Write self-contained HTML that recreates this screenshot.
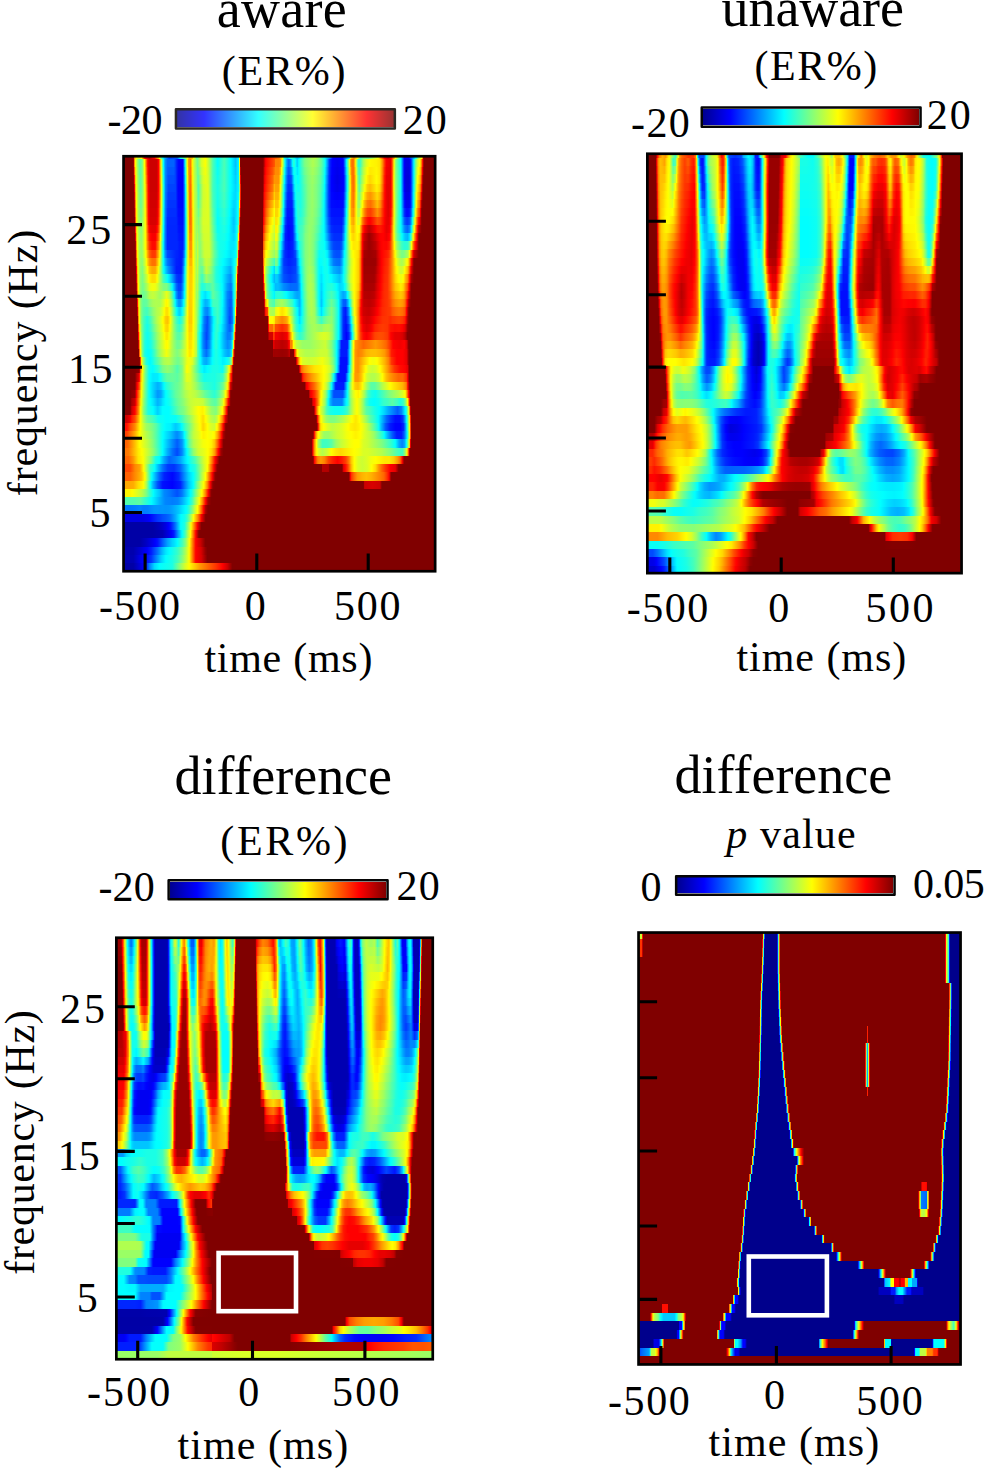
<!DOCTYPE html>
<html><head><meta charset="utf-8"><title>figure</title>
<style>
html,body{margin:0;padding:0;background:#fff}
body{width:987px;height:1471px;position:relative;overflow:hidden;font-family:"Liberation Serif",serif}
.hm{position:absolute;overflow:hidden;background:#800000}
.hm i{display:block;width:100%}
svg{position:absolute;left:0;top:0}
text{font-family:"Liberation Serif",serif;fill:#000}
</style></head><body>
<div class="hm" style="left:123.5px;top:156.2px;width:311.6px;height:415.0px"><i style="height:2.60px;background:linear-gradient(90deg,#800000 0px,#800000 9.4px,#f00 9.9px,#ffbf00 10.7px,#ff0 12.5px,#bfff40 14.3px,#ff0 17.5px,#f00 20.8px,#b30000 25.6px,#f00 30.5px,#ffbf00 34.7px,#ff0 35.5px,#80ff80 37px,#0ff 39.1px,#00bfff 40.2px,#0040ff 45.1px,#0059ff 53.2px,#0ff 56.4px,#80ff80 61.3px,#ff0 63.5px,#f90 65.2px,#ffbf00 68.4px,#ff0 69.6px,#59ffa6 72.6px,#d9ff26 77.5px,#ff0 81.4px,#a6ff59 85.6px,#4dffb2 88.9px,#0ff 93.7px,#4dffb2 100.2px,#0ff 106.7px,#00bfff 111.6px,#0ff 114.8px,#ff0 115.5px,#f00 116.1px,#800000 116.4px,#800000 139.1px,#f00 141.7px,#ff4000 148.8px,#ff8000 155.3px,#ff0 158.6px,#0ff 160.5px,#00bfff 163.4px,#0ff 165.5px,#40ffbf 167.7px,#0ff 170.4px,#00bfff 173.2px,#0ff 176.4px,#80ff80 181.3px,#bfff40 191px,#80ff80 195.9px,#0ff 200.7px,#0080ff 205.6px,#00f 208.8px,#00f 218.6px,#0080ff 221.8px,#0ff 225px,#ff0 226.9px,#ffbf00 227.3px,#ff8000 229.9px,#ff0 233.2px,#40ffbf 236.4px,#73ff8c 239.6px,#80ff80 244.5px,#bfff40 249.4px,#ff0 254.2px,#ff8000 257.5px,#f00 260.7px,#c00 264px,#f00 267.2px,#ffbf00 270.4px,#ff0 271.5px,#80ff80 273.7px,#0ff 276.9px,#00f 280.2px,#00f 285px,#0080ff 288.3px,#0ff 291.5px,#bfff40 294.8px,#ff0 298px,#f00 299.1px,#800000 299.6px,#800000 311.6px)"></i><i style="height:8.25px;background:linear-gradient(90deg,#800000 0px,#800000 9.4px,#f00 9.9px,#ff6500 10.2px,#ffd100 11px,#fff500 11.4px,#ff0 11.5px,#dcff23 12.2px,#9dff62 13.5px,#82ff7d 14.3px,#50ffaf 15.9px,#5dffa2 16.7px,#80ff7f 18.3px,#aeff51 19.1px,#fbff04 20.4px,#ff0 20.5px,#ffd100 21.1px,#ff8500 22.1px,#ff5200 22.7px,#ff0500 23.7px,#f00 23.9px,#f40000 24.3px,#c00 26.4px,#c00 32.9px,#f00 34.5px,#ff7d00 35.8px,#ffa000 36.2px,#fffb00 37px,#ff0 37px,#deff21 37.3px,#85ff7a 38.1px,#5fa 38.6px,#05fffa 39.4px,#0ff 39.5px,#00e4ff 39.9px,#009aff 41px,#008dff 41.5px,#0064ff 43.5px,#0062ff 44.3px,#0062ff 49.9px,#003cff 51.6px,#0027ff 52.4px,#000bff 54px,#00f 54.8px,#00f 58.9px,#007bff 60px,#00b9ff 60.5px,#00f7ff 61px,#0ff 61px,#41ffbe 61.6px,#78ff87 62.1px,#c1ff3e 62.7px,#f7ff08 63.2px,#ff0 63.3px,#ffd100 63.9px,#ff9d00 64.5px,#ff8f00 65.2px,#ff7d00 66.5px,#ff8f00 66.8px,#ffe300 68.1px,#fff300 68.4px,#ff0 68.7px,#ceff31 69.7px,#c1ff3e 70.2px,#82ff7d 72.6px,#5dffa2 72.7px,#80ff7f 74.3px,#d6ff29 77.5px,#e7ff18 79.1px,#fdff02 81.4px,#caff35 84px,#a6ff59 85.6px,#4cffb3 88.9px,#01fffe 93.7px,#4dffb2 100.2px,#0ff 106.7px,#00c1ff 111.6px,#0ff 114.8px,#0ff 114.8px,#79ff86 115.1px,#ff0 115.5px,#f00 116.1px,#8a0000 116.4px,#800000 117.1px,#800000 139.1px,#b30000 140.1px,#f00 141.7px,#ff0100 141.7px,#ff1700 144px,#ff4300 148.8px,#ff6000 151.4px,#ff8300 151.4px,#ff8300 154.8px,#ff9000 156.5px,#ff0 158px,#f2ff0d 158.1px,#d9ff26 158.5px,#73ff8c 159.8px,#54ffab 160.1px,#0ff 161.1px,#00f7ff 161.1px,#00d3ff 161.8px,#009eff 162.8px,#07f 164px,#0060ff 164.8px,#0097ff 166.8px,#00b5ff 167.3px,#00ecff 168.2px,#0ff 168.6px,#0ffff0 169px,#31ffce 169.8px,#1cffe3 170.7px,#02fffd 171.5px,#0ff 171.6px,#00e6ff 172.3px,#00c9ff 173.2px,#00e3ff 174px,#0ff 174.8px,#01fffe 174.9px,#28ffd7 176.5px,#3dffc2 177.4px,#6bff94 179.9px,#7aff85 180.7px,#91ff6e 184px,#96ff69 184.9px,#abff54 188.2px,#afff50 189.1px,#9aff65 192.4px,#95ff6a 193.2px,#6dff92 196.6px,#62ff9d 197.4px,#2affd5 199.9px,#15ffea 200.8px,#0ff 201.2px,#00c7ff 202.4px,#00a1ff 203.3px,#004dff 204.9px,#0026ff 205.8px,#000bff 207.5px,#00f 208.3px,#00f 208.3px,#0000f1 213.3px,#00f 219.2px,#00f 219.2px,#0038ff 220px,#07f 220.8px,#00b7ff 221.7px,#00f7ff 222.5px,#0ff 222.6px,#38ffc7 223.3px,#7f8 224.2px,#c5ff3a 225px,#f5ff0a 225.5px,#ff0 225.6px,#ffc100 226.3px,#f80 227px,#f70 227.8px,#ff6700 229.2px,#ff9100 230px,#ffe000 231.4px,#ff0 231.7px,#e3ff1c 232px,#89ff76 233px,#5fffa0 233.7px,#24ffdb 234.7px,#2bffd4 235.4px,#47ffb8 236.7px,#65ff9a 237.5px,#9eff61 239.2px,#afff50 240px,#dfff20 242.6px,#e5ff1a 243.1px,#ff0 245.9px,#ff0 245.9px,#fff900 246.7px,#fff600 249.2px,#fff300 251.8px,#fff200 252.6px,#ffe500 255.9px,#ff9600 258.4px,#ff3b00 260.4px,#f00 262.1px,#fd0000 262.1px,#f90000 262.6px,#e50000 266.8px,#f00 267.1px,#f60 268.5px,#ff8100 268.8px,#ffe300 269.8px,#ff0 270.1px,#fcff03 270.1px,#9f6 271.5px,#82ff7d 271.8px,#4effb1 273.8px,#41ffbe 274.3px,#0bfff4 276.5px,#0ff 276.8px,#0ff 276.8px,#0080ff 278.5px,#00f 280.2px,#0000e4 281.8px,#0000e4 285.2px,#00f 286px,#0019ff 286.9px,#0080ff 288.2px,#0ff 289.9px,#6dff92 291.5px,#83ff7c 291.9px,#bcff43 293.2px,#d5ff2a 293.9px,#f4ff0b 295.2px,#ff0 295.6px,#fff400 296.1px,#ffb700 296.9px,#ff7200 297.7px,#ff6000 297.9px,#f00 298.7px,#ef0000 298.9px,#800000 299.9px,#800000 311.6px)"></i><i style="height:8.25px;background:linear-gradient(90deg,#800000 0px,#800000 9.4px,#f00 10.1px,#ff2000 10.2px,#ffb900 11px,#fd0 11.4px,#ff0 11.8px,#e6ff19 12.2px,#a8ff57 13.5px,#89ff76 14.3px,#59ffa6 15.9px,#5cffa3 16.7px,#81ff7e 18.3px,#a8ff57 19.1px,#f2ff0d 20.4px,#ff0 20.6px,#ffdf00 21.1px,#ff9300 22.1px,#ff6000 22.7px,#ff1300 23.7px,#f00 24.1px,#f70000 24.3px,#c00 26.4px,#c00 32.9px,#f00 34.5px,#ff7600 35.8px,#ff9600 36.2px,#fff100 37px,#ff0 37.1px,#e8ff17 37.3px,#91ff6e 38.1px,#62ff9d 38.6px,#12ffed 39.4px,#0ff 39.6px,#00ecff 39.9px,#009eff 41px,#0089ff 41.5px,#005fff 43.5px,#0058ff 44.3px,#0058ff 49.9px,#003dff 51.6px,#0028ff 52.4px,#0008ff 54px,#00f 54.8px,#00f 58.9px,#0071ff 60px,#00a7ff 60.5px,#00e4ff 61px,#0ff 61.2px,#2effd1 61.6px,#64ff9b 62.1px,#adff52 62.7px,#e4ff1b 63.2px,#ff0 63.5px,#ffdf00 63.9px,#ffa700 64.5px,#ff8a00 65.2px,#ff7800 66.5px,#ff8300 66.8px,#ffdc00 68.1px,#ffef00 68.4px,#ff0 68.8px,#d4ff2b 69.7px,#c4ff3b 70.2px,#89ff76 72.6px,#6cff93 72.7px,#6dff92 74.3px,#c5ff3a 77.5px,#dfff20 79.1px,#f2ff0d 81.4px,#d2ff2d 84px,#a9ff56 85.6px,#48ffb7 88.9px,#09fff6 93.7px,#4cffb3 100.2px,#0ff 106.7px,#00c8ff 111.6px,#00feff 114.8px,#0ff 114.8px,#5fa 115.1px,#ff0 115.6px,#f00 116.3px,#c60000 116.4px,#800000 117.1px,#800000 139.1px,#ca0000 140.1px,#f00 141.5px,#ff0900 141.7px,#ff2300 144px,#f50 148.8px,#f80 151.4px,#ff8c00 151.4px,#ff8c00 154.8px,#ffbc00 156.5px,#ff0 157.4px,#cf3 158.1px,#b5ff4a 158.5px,#4fffb0 159.8px,#32ffcd 160.1px,#0ff 160.8px,#00e2ff 161.1px,#00bcff 161.8px,#0089ff 162.8px,#005bff 164px,#004eff 164.8px,#006fff 166.8px,#0080ff 167.3px,#00b6ff 168.2px,#00dfff 169px,#0ff 169.7px,#09fff6 169.8px,#1fe 170.7px,#06fff9 171.5px,#0ff 172px,#00fbff 172.3px,#00e4ff 173.2px,#0ef 174px,#0ff 174.7px,#04fffb 174.9px,#2fd 176.5px,#34ffcb 177.4px,#5fffa0 179.9px,#6cff93 180.7px,#8aff75 184px,#8fff70 184.9px,#a4ff5b 188.2px,#a4ff5b 189.1px,#8fff70 192.4px,#89ff76 193.2px,#65ff9a 196.6px,#58ffa7 197.4px,#23ffdc 199.9px,#07fff8 200.8px,#0ff 200.9px,#00baff 202.4px,#0093ff 203.3px,#0043ff 204.9px,#0024ff 205.8px,#0007ff 207.5px,#00f 208.1px,#0000fd 208.3px,#0000ec 213.3px,#0000fd 219.2px,#00f 219.2px,#0021ff 220px,#0061ff 220.8px,#00a1ff 221.7px,#00e1ff 222.5px,#0ff 222.9px,#21ffde 223.3px,#61ff9e 224.2px,#a9ff56 225px,#d9ff26 225.5px,#ff0 225.9px,#ffda00 226.3px,#ffa100 227px,#ff7a00 227.8px,#ff6b00 229.2px,#ff8000 230px,#ffd100 231.4px,#ff0 231.9px,#f9ff06 232px,#a4ff5b 233px,#76ff89 233.7px,#41ffbe 234.7px,#39ffc6 235.4px,#5cffa3 236.7px,#7aff85 237.5px,#adff52 239.2px,#c0ff3f 240px,#f2ff0d 242.6px,#faff05 243.1px,#ff0 243.6px,#ffeb00 245.9px,#ffea00 246.7px,#ffef00 249.2px,#fff500 251.8px,#fff700 252.6px,#ffe500 255.9px,#ff8d00 258.4px,#ff2d00 260.4px,#f00 261.9px,#f80000 262.1px,#f10000 262.6px,#e50000 266.8px,#f00 267.1px,#f60 268.5px,#ff8600 268.8px,#fe0 269.8px,#ff0 270px,#f5ff0a 270.1px,#9f6 271.5px,#87ff78 271.8px,#53ffac 273.8px,#46ffb9 274.3px,#1fe 276.5px,#0ff 276.8px,#0ff 276.8px,#0080ff 278.5px,#00f 280.2px,#0000df 281.8px,#0000df 285.2px,#00f 286.1px,#0019ff 286.9px,#0080ff 288.2px,#0ff 289.9px,#74ff8b 291.5px,#8cff73 291.9px,#d7ff28 293.2px,#edff12 293.9px,#ff0 294.6px,#fff100 295.2px,#ffd400 296.1px,#ffa100 296.9px,#ff4d00 297.7px,#ff3900 297.9px,#f00 298.4px,#c20000 298.9px,#800000 299.9px,#800000 311.6px)"></i><i style="height:8.25px;background:linear-gradient(90deg,#800000 0px,#800000 9.4px,#db0000 10.2px,#f00 10.4px,#ffa000 11px,#ffc500 11.4px,#ff0 12px,#f1ff0e 12.2px,#b2ff4d 13.5px,#90ff6f 14.3px,#62ff9d 15.9px,#5bffa4 16.7px,#82ff7d 18.3px,#a1ff5e 19.1px,#e9ff16 20.4px,#ff0 20.8px,#ffed00 21.1px,#ffa000 22.1px,#ff6d00 22.7px,#ff2100 23.7px,#f00 24.3px,#fb0000 24.3px,#c00 26.4px,#c00 32.9px,#f00 34.5px,#ff6f00 35.8px,#ff8d00 36.2px,#ffe800 37px,#ff0 37.2px,#f2ff0d 37.3px,#9eff61 38.1px,#6eff91 38.6px,#1fffe0 39.4px,#0ff 39.8px,#00f4ff 39.9px,#00a1ff 41px,#0085ff 41.5px,#0059ff 43.5px,#004dff 44.3px,#004dff 49.9px,#003eff 51.6px,#0029ff 52.4px,#0005ff 54px,#00f 54.8px,#00f 58.9px,#0067ff 60px,#0096ff 60.5px,#00d0ff 61px,#0ff 61.4px,#1affe5 61.6px,#51ffae 62.1px,#9aff65 62.7px,#d0ff2f 63.2px,#ff0 63.7px,#ffed00 63.9px,#ffb200 64.5px,#ff8600 65.2px,#ff7200 66.5px,#ff7600 66.8px,#ffd500 68.1px,#ffeb00 68.4px,#ff0 68.9px,#d9ff26 69.7px,#c7ff38 70.2px,#90ff6f 72.6px,#7bff84 72.7px,#5affa5 74.3px,#b4ff4b 77.5px,#d7ff28 79.1px,#e7ff18 81.4px,#daff25 84px,#abff54 85.6px,#45ffba 88.9px,#10ffef 93.7px,#4cffb3 100.2px,#0ff 106.7px,#00cfff 111.6px,#00fdff 114.8px,#0ff 114.8px,#31ffce 115.1px,#ff0 115.7px,#ff0300 116.4px,#f00 116.4px,#800000 117.1px,#800000 139.1px,#e00000 140.1px,#f00 141.2px,#ff1000 141.7px,#ff2f00 144px,#ff6700 148.8px,#ffb000 151.4px,#ff9500 151.4px,#ff9500 154.8px,#ffe900 156.5px,#ff0 156.8px,#a7ff58 158.1px,#91ff6e 158.5px,#2bffd4 159.8px,#10ffef 160.1px,#0ff 160.4px,#0cf 161.1px,#00a4ff 161.8px,#0074ff 162.8px,#0040ff 164px,#003cff 164.8px,#0046ff 166.8px,#004cff 167.3px,#0080ff 168.2px,#00b0ff 169px,#00dfff 169.8px,#0ff 170.6px,#05fffa 170.7px,#0bfff4 171.5px,#10ffef 172.3px,#0ff 173.2px,#0ff 173.2px,#00faff 174px,#0ff 174.4px,#07fff8 174.9px,#1cffe3 176.5px,#2bffd4 177.4px,#52ffad 179.9px,#5effa1 180.7px,#83ff7c 184px,#8f7 184.9px,#9cff63 188.2px,#9f6 189.1px,#85ff7a 192.4px,#7dff82 193.2px,#5dffa2 196.6px,#4effb1 197.4px,#1dffe2 199.9px,#0ff 200.6px,#00f9ff 200.8px,#00acff 202.4px,#0086ff 203.3px,#0038ff 204.9px,#0023ff 205.8px,#0002ff 207.5px,#00f 207.8px,#0000fc 208.3px,#0000e8 213.3px,#0000fc 219.2px,#00f 219.3px,#000bff 220px,#004bff 220.8px,#008aff 221.7px,#00caff 222.5px,#0ff 223.2px,#0bfff4 223.3px,#4bffb4 224.2px,#8dff72 225px,#bdff42 225.5px,#ff0 226.2px,#fff300 226.3px,#ffba00 227px,#ff7e00 227.8px,#ff6e00 229.2px,#ff6e00 230px,#ffc200 231.4px,#fff000 232px,#ff0 232.2px,#bfff40 233px,#8eff71 233.7px,#5dffa2 234.7px,#46ffb9 235.4px,#71ff8e 236.7px,#8fff70 237.5px,#bcff43 239.2px,#d1ff2e 240px,#ff0 242.3px,#fff900 242.6px,#fff000 243.1px,#ffd600 245.9px,#ffda00 246.7px,#ffe900 249.2px,#fff800 251.8px,#fffc00 252.6px,#ffe500 255.9px,#ff8400 258.4px,#ff2000 260.4px,#f00 261.7px,#f40000 262.1px,#e90000 262.6px,#e50000 266.8px,#f00 267.1px,#f60 268.5px,#ff8a00 268.8px,#fffa00 269.8px,#ff0 269.9px,#ef1 270.1px,#9f6 271.5px,#8dff72 271.8px,#57ffa8 273.8px,#4bffb4 274.3px,#17ffe8 276.5px,#0ff 276.8px,#0ff 276.8px,#0080ff 278.5px,#00f 280.2px,#0000db 281.8px,#0000db 285.2px,#00f 286.2px,#0019ff 286.9px,#0080ff 288.2px,#0ff 289.9px,#7cff83 291.5px,#95ff6a 291.9px,#f2ff0d 293.2px,#ff0 293.7px,#fffa00 293.9px,#ffd800 295.2px,#ffb500 296.1px,#ff8a00 296.9px,#ff2700 297.7px,#ff1200 297.9px,#f00 298px,#950000 298.9px,#800000 299.9px,#800000 311.6px)"></i><i style="height:8.25px;background:linear-gradient(90deg,#800000 0px,#800000 9.4px,#970000 10.2px,#f00 10.6px,#f80 11px,#ffac00 11.4px,#ff0 12.1px,#fbff04 12.2px,#bdff42 13.5px,#97ff68 14.3px,#6bff94 15.9px,#5affa5 16.7px,#83ff7c 18.3px,#9bff64 19.1px,#e0ff1f 20.4px,#ff0 21px,#fffa00 21.1px,#ffae00 22.1px,#ff7b00 22.7px,#ff2e00 23.7px,#f00 24.3px,#fe0000 24.3px,#c00 26.4px,#c00 32.9px,#f00 34.5px,#ff6800 35.8px,#ff8300 36.2px,#ffde00 37px,#ff0 37.3px,#fcff03 37.3px,#abff54 38.1px,#7bff84 38.6px,#2bffd4 39.4px,#0ff 39.9px,#00fcff 39.9px,#00a5ff 41px,#0081ff 41.5px,#0054ff 43.5px,#0043ff 44.3px,#0043ff 49.9px,#003fff 51.6px,#002aff 52.4px,#0001ff 54px,#00f 54.8px,#00f 58.9px,#005dff 60px,#0085ff 60.5px,#00bdff 61px,#0ff 61.6px,#07fff8 61.6px,#3dffc2 62.1px,#86ff79 62.7px,#bdff42 63.2px,#ff0 63.8px,#fffa00 63.9px,#ffbc00 64.5px,#ff8100 65.2px,#ff6d00 66.5px,#ff6a00 66.8px,#ffce00 68.1px,#ffe700 68.4px,#ff0 69px,#dfff20 69.7px,#cbff34 70.2px,#97ff68 72.6px,#8bff74 72.7px,#47ffb8 74.3px,#a3ff5c 77.5px,#cfff30 79.1px,#dcff23 81.4px,#e3ff1c 84px,#adff52 85.6px,#41ffbe 88.9px,#17ffe8 93.7px,#4cffb3 100.2px,#0ff 106.7px,#00d6ff 111.6px,#00fcff 114.8px,#0ff 114.9px,#0dfff2 115.1px,#ff0 115.9px,#ff4000 116.4px,#f00 116.6px,#800000 117.1px,#800000 139.1px,#f70000 140.1px,#f00 140.5px,#ff1800 141.7px,#ff3b00 144px,#ff7900 148.8px,#ffd800 151.4px,#ffa200 151.4px,#ffa200 154px,#ffa600 154.8px,#ffd500 155.6px,#ff0 156.3px,#f7ff08 156.5px,#a3ff5c 157.8px,#7f8 158.5px,#2affd5 159.5px,#0ff 160px,#00f6ff 160.1px,#00b6ff 161.1px,#008fff 161.8px,#004fff 163.2px,#002fff 164px,#002fff 167.3px,#0059ff 168.2px,#008cff 169px,#00bfff 169.8px,#00f2ff 170.7px,#0ff 171.2px,#0ffff0 171.8px,#17ffe8 172.3px,#09fff6 174px,#1affe5 176.5px,#4affb5 179.9px,#80ff80 184px,#9f6 188.2px,#80ff80 192.4px,#57ffa8 196.6px,#15ffea 199.9px,#0ff 200.4px,#00a4ff 202.4px,#03f 204.9px,#0002ff 207.5px,#00f 208.1px,#0000ec 213.3px,#00f 219.2px,#00f 219.2px,#000cff 220px,#004bff 220.8px,#0089ff 221.7px,#00d5ff 222.7px,#0ff 223.2px,#09fff6 223.3px,#5fa 224.3px,#89ff76 225px,#d7ff28 225.8px,#ff0 226.3px,#fffa00 226.3px,#ff9b00 227.5px,#ff8300 227.8px,#ff6e00 229.7px,#ff6d00 230px,#ffd400 231.7px,#ffe900 232px,#ff0 232.3px,#b5ff4a 233.4px,#9eff61 233.7px,#6f9 235px,#5cffa3 235.4px,#8cff73 236.7px,#a8ff57 237.5px,#c7ff38 238.7px,#ecff13 240px,#ff0 240.9px,#ff0 240.9px,#ffd100 243.1px,#ffcd00 243.4px,#ffb900 245.9px,#ffbe00 246.7px,#ffd200 249.2px,#ffd900 250.1px,#fff000 252.6px,#ffed00 253.4px,#ffd500 255.9px,#ffc300 256.4px,#ff7400 258.4px,#ff6400 258.8px,#ff1700 260.4px,#ff0b00 260.9px,#f00 261.5px,#e70000 262.6px,#e30000 264.3px,#e90000 266.8px,#f00 267.1px,#f00 267.1px,#f60 268.5px,#ff8a00 268.8px,#fffa00 269.8px,#ff0 269.9px,#ef1 270.1px,#9cff63 271.5px,#91ff6e 271.8px,#58ffa7 273.8px,#4bffb4 274.3px,#17ffe8 276.5px,#0ff 276.8px,#0ff 276.8px,#0083ff 278.5px,#006aff 278.8px,#0008ff 280.2px,#00f 280.4px,#0000fd 280.5px,#0000de 281.8px,#00d 282.2px,#00d 285.2px,#00f 286.1px,#001cff 286.9px,#0084ff 288.2px,#00eaff 289.5px,#0ff 289.8px,#05fffa 289.9px,#5fa 290.9px,#8aff75 291.5px,#c0ff3f 292.2px,#ff0 293.1px,#fff500 293.2px,#ffdf00 293.9px,#ffbc00 295.2px,#ffae00 295.5px,#ff7600 296.6px,#ff6300 296.9px,#f00 297.7px,#fb0000 297.7px,#e90000 297.9px,#800000 298.9px,#800000 311.6px)"></i><i style="height:8.25px;background:linear-gradient(90deg,#800000 0px,#800000 10.2px,#f00 10.7px,#f00 10.7px,#ff6300 11px,#ffbc00 11.7px,#fff400 12.2px,#ff0 12.3px,#ebff14 12.7px,#9eff61 14.3px,#94ff6b 14.6px,#61ff9e 16.7px,#6aff95 17.2px,#9eff61 19.1px,#aeff51 19.5px,#fdff02 21.1px,#ff0 21.1px,#ffea00 21.4px,#ff8400 22.7px,#ff6a00 23px,#ff0400 24.3px,#f00 24.5px,#f80000 24.7px,#ce0000 26.4px,#ce0000 32.1px,#d10000 32.9px,#f20000 34.1px,#f00 34.4px,#ff0600 34.5px,#ff6000 35.7px,#f80 36.2px,#ffe100 37px,#ff0 37.3px,#faff05 37.3px,#9aff65 38.3px,#7aff85 38.6px,#1bffe4 39.6px,#0ff 39.8px,#00fbff 39.9px,#0095ff 41.2px,#007dff 41.5px,#004bff 43.5px,#003bff 44.3px,#003bff 51.6px,#002aff 52.4px,#0004ff 54px,#0002ff 54.8px,#0002ff 58.9px,#007eff 60.5px,#008fff 60.6px,#00faff 61.6px,#0ff 61.7px,#1effe1 61.9px,#79ff86 62.7px,#9eff61 63.1px,#f9ff06 63.9px,#ff0 63.9px,#ffe400 64.2px,#ff8500 65.2px,#ff7b00 65.5px,#ff6700 66.8px,#ff7b00 67.1px,#ffe100 68.4px,#fff100 68.7px,#ff0 69.1px,#ceff31 70.2px,#c6ff39 70.5px,#9f6 72.6px,#96ff69 72.7px,#4affb5 74.3px,#ceff31 79.1px,#e3ff1c 84px,#d1ff2e 84.6px,#46ffb9 88.9px,#15ffea 93.7px,#46ffb9 100.2px,#10ffef 105.1px,#0ff 106.4px,#00fcff 106.7px,#00dfff 109.9px,#00daff 111.6px,#0ef 113.2px,#0ff 114.2px,#05fffa 114.5px,#30ffcf 115.1px,#ff0 115.8px,#ff8b00 116.1px,#f00 116.6px,#800000 117.1px,#800000 138.5px,#8d0000 139.1px,#b80000 139.4px,#f00 140.1px,#ff0500 140.1px,#ff3400 142.4px,#ff5100 144px,#ff6b00 145.6px,#ff9600 148.8px,#ffd000 150.5px,#fff300 151.4px,#ffb300 151.4px,#ffb300 154px,#ffbf00 154.8px,#ffe600 155.6px,#ff0 156.1px,#e6ff19 156.5px,#95ff6a 157.8px,#6f9 158.5px,#19ffe6 159.5px,#0ff 159.8px,#00e5ff 160.1px,#00a1ff 161.1px,#007bff 161.8px,#003aff 163.2px,#0026ff 164px,#0026ff 167.3px,#0040ff 168.2px,#0073ff 169px,#00a6ff 169.8px,#00daff 170.7px,#0ff 171.6px,#09fff6 171.8px,#13ffec 172.3px,#1affe5 174px,#1affe5 176.5px,#46ffb9 179.9px,#80ff80 184px,#9f6 188.2px,#80ff80 192.4px,#53ffac 196.6px,#0dfff2 199.9px,#0ff 200.2px,#009fff 202.4px,#03f 204.9px,#0006ff 207.5px,#00f 210.4px,#0000f9 213.3px,#00f 216.6px,#0005ff 219.2px,#0023ff 220px,#0060ff 220.8px,#009cff 221.7px,#00e6ff 222.7px,#0ff 223px,#1affe5 223.3px,#6f9 224.3px,#9cff63 225px,#e7ff18 225.8px,#ff0 226.1px,#fff000 226.3px,#ff9a00 227.5px,#ff8a00 227.8px,#ff7500 229.7px,#ff7b00 230px,#ffdb00 231.7px,#fe0 232px,#ff0 232.3px,#b9ff46 233.4px,#a8ff57 233.7px,#7aff85 235px,#79ff86 235.4px,#af5 236.7px,#c6ff39 237.5px,#e8ff17 238.7px,#ff0 239.5px,#fe0 240px,#ffd600 240.9px,#ffa900 243.1px,#ffa400 243.4px,#ff9400 245.9px,#ff9600 246.7px,#ffae00 249.2px,#ffb600 250.1px,#ffd200 252.6px,#ffd600 253.4px,#ffb700 255.9px,#ffa800 256.4px,#ff5f00 258.4px,#ff5100 258.8px,#ff1300 260.4px,#ff0700 260.9px,#f00 261.3px,#e90000 262.6px,#df0000 264.3px,#f00000 266.8px,#f00 267.1px,#f00 267.1px,#f60 268.5px,#ff8600 268.8px,#ffef00 269.8px,#ff0 270px,#f5ff0a 270.1px,#a3ff5c 271.5px,#94ff6b 271.8px,#5fa 273.8px,#47ffb8 274.3px,#1fe 276.5px,#0ff 276.8px,#0ff 276.8px,#008aff 278.5px,#0073ff 278.8px,#0017ff 280.2px,#0009ff 280.5px,#00f 280.9px,#0000e9 281.8px,#0000e6 282.2px,#0000e6 285.2px,#00f 285.9px,#0020ff 286.9px,#008cff 288.2px,#00f2ff 289.5px,#0ff 289.7px,#10ffef 289.9px,#6f9 290.9px,#9fff60 291.5px,#d9ff26 292.2px,#ff0 292.8px,#ffe000 293.2px,#ffc300 293.9px,#ff9e00 295.2px,#ff9100 295.5px,#ff4700 296.6px,#ff2e00 296.9px,#f00 297.3px,#ca0000 297.7px,#bf0000 297.9px,#800000 298.9px,#800000 311.6px)"></i><i style="height:8.25px;background:linear-gradient(90deg,#800000 0px,#800000 10.2px,#d80000 10.7px,#f00 10.8px,#ff3800 11px,#fa0 11.7px,#ffe400 12.2px,#ff0 12.5px,#f1ff0e 12.7px,#a5ff5a 14.3px,#9f6 14.6px,#6cff93 16.7px,#71ff8e 17.2px,#a5ff5a 19.1px,#b3ff4c 19.5px,#fbff04 21.1px,#ff0 21.2px,#fff000 21.4px,#ff8a00 22.7px,#ff7100 23px,#ff0b00 24.3px,#f00 24.6px,#fa0000 24.7px,#d10000 26.4px,#d10000 32.1px,#d80000 32.9px,#f60000 34.1px,#f00 34.2px,#ff1000 34.5px,#ff6900 35.7px,#ff9400 36.2px,#ffea00 37px,#ff0 37.2px,#f2ff0d 37.3px,#92ff6d 38.3px,#72ff8d 38.6px,#12ffed 39.6px,#0ff 39.8px,#00f4ff 39.9px,#008eff 41.2px,#007aff 41.5px,#0040ff 43.5px,#0035ff 44.3px,#0035ff 51.6px,#0029ff 52.4px,#0009ff 54px,#0005ff 54.8px,#0005ff 58.9px,#007bff 60.5px,#008aff 60.6px,#00f2ff 61.6px,#0ff 61.7px,#15ffea 61.9px,#70ff8f 62.7px,#95ff6a 63.1px,#f0ff0f 63.9px,#ff0 64px,#ffed00 64.2px,#ff8d00 65.2px,#ff7d00 65.5px,#ff6800 66.8px,#ff7500 67.1px,#ffdb00 68.4px,#fe0 68.7px,#ff0 69.2px,#d2ff2d 70.2px,#c8ff37 70.5px,#9f6 72.6px,#a0ff5f 72.7px,#5affa5 74.3px,#d1ff2e 79.1px,#e0ff1f 84px,#d3ff2c 84.6px,#50ffaf 88.9px,#0ffff0 93.7px,#3dffc2 100.2px,#0bfff4 105.1px,#0ff 106px,#00f6ff 106.7px,#00d6ff 109.9px,#00dbff 111.6px,#00f3ff 113.2px,#0ff 113.6px,#17ffe8 114.5px,#7bff84 115.1px,#ff0 115.5px,#ff3a00 116.1px,#f00 116.4px,#800000 117.1px,#800000 138.5px,#a30000 139.1px,#ce0000 139.4px,#f00 140px,#ff0c00 140.1px,#ff4b00 142.4px,#ff6d00 144px,#ff8c00 145.6px,#ffba00 148.8px,#ffea00 150.5px,#ff0 151.1px,#f6ff09 151.4px,#ff0 151.4px,#ffc300 151.4px,#ffc300 154px,#ffd800 154.8px,#fff600 155.6px,#ff0 155.8px,#d6ff29 156.5px,#87ff78 157.8px,#5fa 158.5px,#09fff6 159.5px,#0ff 159.6px,#00d5ff 160.1px,#008bff 161.1px,#0068ff 161.8px,#0025ff 163.2px,#001eff 164px,#001eff 167.3px,#0027ff 168.2px,#005aff 169px,#008dff 169.8px,#00c1ff 170.7px,#0ff 171.8px,#03fffc 171.8px,#0efff1 172.3px,#2affd5 174px,#1affe5 176.5px,#42ffbd 179.9px,#80ff80 184px,#9f6 188.2px,#80ff80 192.4px,#4fffb0 196.6px,#04fffb 199.9px,#0ff 200px,#009bff 202.4px,#03f 204.9px,#000bff 207.5px,#0006ff 213.3px,#000aff 219.2px,#003aff 220px,#0075ff 220.8px,#00b0ff 221.7px,#00f6ff 222.7px,#0ff 222.8px,#2affd5 223.3px,#7f8 224.3px,#aeff51 225px,#f7ff08 225.8px,#ff0 226px,#ffe600 226.3px,#f90 227.5px,#ff9100 227.8px,#ff7c00 229.7px,#ff8900 230px,#ffe200 231.7px,#fff400 232px,#ff0 232.2px,#bdff42 233.4px,#b2ff4d 233.7px,#8fff70 235px,#97ff68 235.4px,#c9ff36 236.7px,#e4ff1b 237.5px,#ff0 238.4px,#fff600 238.7px,#ffc900 240px,#ffae00 240.9px,#ff8100 243.1px,#ff7b00 243.4px,#ff6f00 245.9px,#ff6e00 246.7px,#ff8900 249.2px,#ff9200 250.1px,#ffb500 252.6px,#ffbe00 253.4px,#ff9800 255.9px,#ff8d00 256.4px,#ff4900 258.4px,#ff3d00 258.8px,#ff0e00 260.4px,#ff0200 260.9px,#f00 261.1px,#eb0000 262.6px,#db0000 264.3px,#f70000 266.8px,#f00 267.1px,#f00 267.1px,#f60 268.5px,#ff8200 268.8px,#ffe500 269.8px,#ff0 270.1px,#fcff03 270.1px,#af5 271.5px,#97ff68 271.8px,#53ffac 273.8px,#42ffbd 274.3px,#0bfff4 276.5px,#0ff 276.8px,#0ff 276.8px,#0091ff 278.5px,#007bff 278.8px,#0026ff 280.2px,#0014ff 280.5px,#00f 281.4px,#0000f4 281.8px,#00e 282.2px,#00e 285.2px,#00f 285.7px,#0024ff 286.9px,#0095ff 288.2px,#00fbff 289.5px,#0ff 289.6px,#1affe5 289.9px,#7f8 290.9px,#b4ff4b 291.5px,#f2ff0d 292.2px,#ff0 292.4px,#fc0 293.2px,#ffa800 293.9px,#ff8000 295.2px,#ff7500 295.5px,#ff1800 296.6px,#f00 296.8px,#f70000 296.9px,#900 297.7px,#950000 297.9px,#800000 298.9px,#800000 311.6px)"></i><i style="height:8.25px;background:linear-gradient(90deg,#800000 0px,#800000 10.2px,#b10000 10.7px,#f00 11px,#ff0c00 11px,#ff9700 11.7px,#ffd400 12.2px,#ff0 12.6px,#f7ff08 12.7px,#acff53 14.3px,#9fff60 14.6px,#78ff87 16.7px,#7f8 17.2px,#adff52 19.1px,#b8ff47 19.5px,#f8ff07 21.1px,#ff0 21.2px,#fff700 21.4px,#ff9100 22.7px,#f70 23px,#f10 24.3px,#f00 24.6px,#fc0000 24.7px,#d50000 26.4px,#d50000 32.1px,#df0000 32.9px,#fa0000 34.1px,#f00 34.1px,#ff1a00 34.5px,#ff7300 35.7px,#ffa000 36.2px,#fff300 37px,#ff0 37.1px,#e9ff16 37.3px,#8aff75 38.3px,#6aff95 38.6px,#0afff5 39.6px,#0ff 39.7px,#0ef 39.9px,#08f 41.2px,#07f 41.5px,#0035ff 43.5px,#002eff 44.3px,#002eff 51.6px,#0028ff 52.4px,#000eff 54px,#0009ff 54.8px,#0009ff 58.9px,#0078ff 60.5px,#0085ff 60.6px,#00e9ff 61.6px,#0ff 61.8px,#0cfff3 61.9px,#67ff98 62.7px,#8bff74 63.1px,#e6ff19 63.9px,#ff0 64.1px,#fff500 64.2px,#ff9500 65.2px,#ff7e00 65.5px,#ff6900 66.8px,#ff6e00 67.1px,#ffd400 68.4px,#ffea00 68.7px,#ff0 69.2px,#d5ff2a 70.2px,#caff35 70.5px,#9f6 72.6px,#a9ff56 72.7px,#6bff94 74.3px,#d5ff2a 79.1px,#df2 84px,#d6ff29 84.6px,#59ffa6 88.9px,#08fff7 93.7px,#3fc 100.2px,#06fff9 105.1px,#0ff 105.6px,#00f1ff 106.7px,#0cf 109.9px,#0df 111.6px,#00f8ff 113.2px,#0ff 113.4px,#29ffd6 114.5px,#c5ff3a 115.1px,#ff0 115.3px,#f00 116px,#e80000 116.1px,#800000 117.1px,#800000 138.5px,#b90000 139.1px,#e30000 139.4px,#f00 139.8px,#ff1300 140.1px,#ff6200 142.4px,#ff8900 144px,#ffae00 145.6px,#ffde00 148.8px,#ff0 150.3px,#faff05 150.5px,#e1ff1e 151.4px,#ff0 151.4px,#ffd400 151.4px,#ffd400 153.1px,#ffdb00 154px,#ff0 155px,#fcff03 155.1px,#eaff15 155.6px,#8f7 157.3px,#6bff94 157.8px,#0ff 159.3px,#00efff 159.5px,#0073ff 161.1px,#0061ff 161.5px,#0017ff 163.2px,#0015ff 164.8px,#0019ff 168.2px,#04f 169px,#07f 169.8px,#00acff 170.7px,#00f6ff 171.8px,#0ff 172.2px,#14ffeb 172.8px,#30ffcf 174px,#2bffd4 175.2px,#20ffdf 176.5px,#32ffcd 178.2px,#46ffb9 179.9px,#5fffa0 181.5px,#82ff7d 184px,#8cff73 185.7px,#97ff68 188.2px,#8cff73 189.9px,#7bff84 192.4px,#6f9 194.1px,#46ffb9 196.6px,#34ffcb 197.4px,#0ff 199.9px,#0ff 199.9px,#009dff 202.4px,#003bff 204.9px,#0013ff 207.5px,#01f 210px,#01f 217.5px,#001cff 219.2px,#003cff 219.7px,#008bff 220.8px,#00c4ff 221.7px,#0ff 222.5px,#0afff5 222.7px,#5fa 223.7px,#85ff7a 224.3px,#d5ff2a 225.3px,#fcff03 225.8px,#ff0 225.9px,#ffbf00 227px,#ffa400 227.5px,#ff9100 229.2px,#ff8d00 229.7px,#ffd700 231.4px,#ffe600 231.7px,#ff0 232.2px,#c9ff36 233.4px,#acff53 235px,#b8ff47 235.4px,#f0ff0f 236.7px,#fcff03 237px,#ff0 237.1px,#ffc100 238.7px,#ff7900 240.9px,#ff4900 243.4px,#ff4000 245.1px,#ff3d00 246.7px,#ff5900 249.2px,#ff6300 250.1px,#f80 252.6px,#ff9300 253.4px,#ff7200 255.9px,#ff6b00 256.4px,#ff2b00 258.8px,#ff2100 259.3px,#f00 260.8px,#fd0000 260.9px,#eb0000 262.6px,#d00 264.3px,#f20000 266px,#f00 266.6px,#ff0b00 267.1px,#f50 268.1px,#f80 268.8px,#ffe400 269.8px,#ff0 270.1px,#fcff03 270.1px,#af5 271.5px,#97ff68 271.8px,#5bffa4 273.5px,#3fffc0 274.3px,#16ffe9 276px,#01fffe 276.8px,#0ff 276.8px,#00a0ff 278.5px,#008cff 278.8px,#0030ff 280.5px,#0024ff 281px,#000cff 282.2px,#0009ff 283.5px,#000eff 285.2px,#0018ff 285.5px,#0046ff 286.9px,#0061ff 287.2px,#00b8ff 288.2px,#00d3ff 288.5px,#0ff 289.1px,#23ffdc 289.5px,#43ffbc 289.9px,#a0ff5f 290.9px,#df2 291.5px,#ff0 291.9px,#ffe300 292.2px,#ffa300 293.2px,#ff7900 293.9px,#ff5300 294.9px,#ff4200 295.5px,#f00 296.3px,#eb0000 296.6px,#800000 297.7px,#800000 311.6px)"></i><i style="height:8.25px;background:linear-gradient(90deg,#800000 0px,#800000 10.2px,#8a0000 10.7px,#e00000 11px,#f00 11.2px,#ff8400 11.7px,#ffc400 12.2px,#ff0 12.6px,#fdff02 12.7px,#b3ff4c 14.3px,#a4ff5b 14.6px,#84ff7b 16.7px,#7eff81 17.2px,#b4ff4b 19.1px,#beff41 19.5px,#f5ff0a 21.1px,#ff0 21.4px,#fffd00 21.4px,#ff9700 22.7px,#ff7e00 23px,#ff1800 24.3px,#f00 24.6px,#fe0000 24.7px,#d80000 26.4px,#d80000 32.1px,#e70000 32.9px,#fe0000 34.1px,#f00 34.1px,#ff2400 34.5px,#ff7d00 35.7px,#ffac00 36.2px,#fffd00 37px,#ff0 37px,#e1ff1e 37.3px,#82ff7d 38.3px,#62ff9d 38.6px,#02fffd 39.6px,#0ff 39.6px,#00e7ff 39.9px,#0081ff 41.2px,#0074ff 41.5px,#0029ff 43.5px,#0028ff 44.3px,#0028ff 51.6px,#0027ff 52.4px,#0014ff 54px,#000cff 54.8px,#000cff 58.9px,#0076ff 60.5px,#0081ff 60.6px,#00e1ff 61.6px,#0ff 61.9px,#02fffd 61.9px,#5effa1 62.7px,#82ff7d 63.1px,#df2 63.9px,#ff0 64.2px,#fffd00 64.2px,#ff9d00 65.2px,#ff7f00 65.5px,#ff6b00 66.8px,#ff6800 67.1px,#ffce00 68.4px,#ffe600 68.7px,#ff0 69.3px,#d9ff26 70.2px,#cf3 70.5px,#9f6 72.6px,#b2ff4d 72.7px,#7bff84 74.3px,#d8ff27 79.1px,#daff25 84px,#d8ff27 84.6px,#63ff9c 88.9px,#02fffd 93.7px,#29ffd6 100.2px,#01fffe 105.1px,#0ff 105.2px,#00ebff 106.7px,#00c2ff 109.9px,#00dfff 111.6px,#00fdff 113.2px,#0ff 113.2px,#3bffc4 114.5px,#ff0 115.1px,#fe0 115.1px,#f00 115.8px,#970000 116.1px,#800000 117.1px,#800000 138.5px,#ce0000 139.1px,#f90000 139.4px,#f00 139.6px,#ff1a00 140.1px,#ff7900 142.4px,#ffa400 144px,#ffcf00 145.6px,#ff0 148.7px,#fcff03 148.8px,#e0ff1f 150.5px,#cdff32 151.4px,#ff0 151.4px,#ffe500 151.4px,#ffe500 153.1px,#fffa00 154px,#ff0 154.1px,#d5ff2a 155.1px,#bfff40 155.6px,#5dffa2 157.3px,#3fffc0 157.8px,#0ff 158.7px,#00cdff 159.5px,#0058ff 161.1px,#0045ff 161.5px,#0013ff 163.2px,#000dff 164.8px,#0017ff 168.2px,#0034ff 169px,#0067ff 169.8px,#009bff 170.7px,#00e2ff 171.8px,#0ff 172.6px,#0cfff3 172.8px,#2affd5 174px,#3fc 175.2px,#2fffd0 176.5px,#3cffc3 178.2px,#52ffad 179.9px,#6cff93 181.5px,#87ff78 184px,#91ff6e 185.7px,#92ff6d 188.2px,#87ff78 189.9px,#71ff8e 192.4px,#5cffa3 194.1px,#3affc5 196.6px,#2affd5 197.4px,#0ff 199.9px,#00a5ff 202.4px,#004cff 204.9px,#001fff 207.5px,#0019ff 210px,#0019ff 217.5px,#003bff 219.2px,#0056ff 219.7px,#00a4ff 220.8px,#00dbff 221.7px,#0ff 222.2px,#1fffe0 222.7px,#65ff9a 223.7px,#91ff6e 224.3px,#d7ff28 225.3px,#f6ff09 225.8px,#ff0 226px,#ffce00 227px,#fb0 227.5px,#ffa800 229.2px,#ffa800 229.7px,#fd0 231.4px,#ffe800 231.7px,#ff0 232.4px,#deff21 233.4px,#d5ff2a 235px,#deff21 235.4px,#ff0 236px,#ffde00 236.7px,#ffcf00 237px,#ff7600 238.7px,#ff3600 240.9px,#ff0d00 243.4px,#f00 245px,#fe0000 245.1px,#f00 245.3px,#ff0400 246.7px,#ff1d00 249.2px,#ff2700 250.1px,#ff4900 252.6px,#ff5200 253.4px,#ff4600 255.9px,#ff4100 256.4px,#ff1a00 258.8px,#ff1400 259.3px,#f00 260.6px,#f90000 260.9px,#e90000 262.6px,#e50000 264.3px,#f70000 266px,#f00 266.2px,#ff2100 267.1px,#ff6500 268.1px,#ff9800 268.8px,#ffef00 269.8px,#ff0 270px,#f5ff0a 270.1px,#a3ff5c 271.5px,#93ff6c 271.8px,#5fa 273.5px,#3effc1 274.3px,#17ffe8 276px,#02fffd 276.8px,#0ff 276.9px,#00b6ff 278.5px,#00a7ff 278.8px,#005eff 280.5px,#0052ff 281px,#003eff 282.2px,#0038ff 283.5px,#0047ff 285.2px,#004fff 285.5px,#0087ff 286.9px,#009fff 287.2px,#00f9ff 288.2px,#0ff 288.3px,#17ffe8 288.5px,#6dff92 289.5px,#8dff72 289.9px,#e3ff1c 290.9px,#ff0 291.2px,#ffe200 291.5px,#ffa800 292.2px,#ff6300 293.2px,#ff3600 293.9px,#ff0100 294.9px,#f00 294.9px,#f50000 295.5px,#c10000 296.6px,#800000 297.7px,#800000 311.6px)"></i><i style="height:8.25px;background:linear-gradient(90deg,#800000 0px,#800000 10.7px,#f00 11.4px,#f00 11.4px,#f50 11.7px,#ffbf00 12.3px,#ffea00 12.7px,#ff0 13px,#e9ff16 13.3px,#adff52 14.6px,#9fff60 15.3px,#87ff78 17.2px,#94ff6b 17.8px,#c1ff3e 19.5px,#d6ff29 20.1px,#ff0 21.4px,#fffe00 21.4px,#ffd200 22.1px,#ff8a00 23px,#ff5900 23.7px,#ff1600 24.7px,#f00 25.5px,#fc0000 25.6px,#ec0000 26.4px,#e50000 28.1px,#e50000 31.3px,#ef0000 32.1px,#f00 32.7px,#ff0500 32.9px,#ff2100 34.1px,#ff4300 34.5px,#ff9800 35.7px,#ffc300 36.2px,#ff0 36.8px,#edff12 37px,#afff50 37.6px,#73ff8c 38.3px,#18ffe7 39.2px,#0ff 39.5px,#00f9ff 39.6px,#0089ff 41px,#007eff 41.2px,#0026ff 43.5px,#0026ff 52.4px,#0020ff 53.2px,#01f 54.8px,#0010ff 55.6px,#0010ff 58.9px,#0080ff 60.6px,#0ff 61.9px,#80ff80 63.1px,#ff0 64.2px,#ff8900 65.5px,#ff8400 65.7px,#ff7000 67.1px,#ff7900 67.3px,#ffe600 68.7px,#fe0 68.9px,#ff0 69.3px,#cdff32 70.5px,#c9ff36 70.7px,#9f6 72.6px,#bdff42 72.7px,#8f7 74.3px,#98ff67 75.9px,#d2ff2d 79.1px,#d6ff29 80.8px,#d6ff29 84.6px,#c1ff3e 85.6px,#6cff93 88.9px,#4affb5 90.5px,#09fff6 93.7px,#0cfff3 95.3px,#20ffdf 100.2px,#15ffea 101.8px,#0ff 104.7px,#00fcff 105.1px,#00e9ff 106.7px,#00c9ff 109.9px,#00e5ff 111.6px,#0ff 112.7px,#0cfff3 113.2px,#93ff6c 114.5px,#ff0 114.8px,#fff800 114.8px,#f00 115.7px,#800000 116.1px,#800000 138.5px,#f00 139.3px,#ff1700 139.4px,#ff7f00 141.7px,#ff9800 142.4px,#ffe900 145.6px,#ff0 147.1px,#cf3 150.5px,#bf4 151.4px,#ff0 151.4px,#fff600 151.4px,#fff600 153.1px,#ff0 153.3px,#e6ff19 154px,#afff50 155.1px,#94ff6b 155.6px,#32ffcd 157.3px,#14ffeb 157.8px,#0ff 158.1px,#00acff 159.5px,#003eff 161.1px,#0029ff 161.5px,#000fff 163.2px,#0005ff 164.8px,#0015ff 168.2px,#0023ff 169px,#0056ff 169.8px,#0089ff 170.7px,#00cfff 171.8px,#0ff 172.8px,#04fffb 172.8px,#23ffdc 174px,#3bffc4 175.2px,#3dffc2 176.5px,#47ffb8 178.2px,#5fffa0 179.9px,#78ff87 181.5px,#8cff73 184px,#96ff69 185.7px,#8dff72 188.2px,#82ff7d 189.9px,#67ff98 192.4px,#52ffad 194.1px,#2dffd2 196.6px,#1fffe0 197.4px,#0ff 199.9px,#00aeff 202.4px,#005dff 204.9px,#002cff 207.5px,#02f 210px,#02f 217.5px,#005aff 219.2px,#0071ff 219.7px,#00bcff 220.8px,#00f2ff 221.7px,#0ff 221.9px,#34ffcb 222.7px,#76ff89 223.7px,#9dff62 224.3px,#d8ff27 225.3px,#efff10 225.8px,#ff0 226.2px,#fd0 227px,#ffd300 227.5px,#ffbf00 229.2px,#ffc300 229.7px,#ffe200 231.4px,#ffe900 231.7px,#ff0 232.8px,#f3ff0c 233.4px,#feff01 235px,#ff0 235.1px,#fffb00 235.4px,#ffaf00 236.7px,#ff9c00 237px,#ff2a00 238.7px,#f00 240.4px,#f10000 240.9px,#cf0000 243.4px,#bd0000 245.1px,#c90000 246.7px,#e10000 249.2px,#ea0000 250.1px,#f00 251.8px,#ff0a00 252.6px,#f10 253.4px,#ff1900 255.9px,#ff1700 256.4px,#ff0900 258.8px,#ff0700 259.3px,#f00 260px,#f50000 260.9px,#e70000 262.6px,#e00 264.3px,#fc0000 266px,#f00 266px,#ff3800 267.1px,#ff7600 268.1px,#ffa900 268.8px,#fff900 269.8px,#ff0 269.9px,#ef1 270.1px,#9dff62 271.5px,#8fff70 271.8px,#50ffaf 273.5px,#3cffc3 274.3px,#19ffe6 276px,#03fffc 276.8px,#0ff 276.9px,#0cf 278.5px,#00c1ff 278.8px,#008cff 280.5px,#007fff 281px,#0071ff 282.2px,#06f 283.5px,#0080ff 285.2px,#0087ff 285.5px,#00c9ff 286.9px,#00dcff 287.2px,#0ff 287.6px,#3bffc4 288.2px,#5affa5 288.5px,#b6ff49 289.5px,#d6ff29 289.9px,#ff0 290.4px,#ffd800 290.9px,#ffa300 291.5px,#ff6d00 292.2px,#ff2400 293.2px,#f00 293.7px,#f10000 293.9px,#ad0000 294.9px,#a00 295.5px,#970000 296.6px,#800000 297.7px,#800000 311.6px)"></i><i style="height:8.25px;background:linear-gradient(90deg,#800000 0px,#800000 10.7px,#c60000 11.4px,#f00 11.6px,#ff1c00 11.7px,#ffa300 12.3px,#ffcd00 12.7px,#ff0 13.2px,#f3ff0c 13.3px,#b7ff48 14.6px,#a2ff5d 15.3px,#90ff6f 17.2px,#96ff69 17.8px,#c4ff3b 19.5px,#d7ff28 20.1px,#ff0 21.3px,#fffd00 21.4px,#ffdb00 22.1px,#ff9700 23px,#ff6a00 23.7px,#ff3400 24.7px,#ff1500 25.6px,#ff0700 26.4px,#f00 27.2px,#f70000 28.1px,#f70000 31.3px,#f00 31.6px,#ff0e00 32.1px,#ff2b00 32.9px,#ff4f00 34.1px,#ff6a00 34.5px,#ffb800 35.7px,#ffde00 36.2px,#ff0 36.5px,#d5ff2a 37px,#9aff65 37.6px,#62ff9d 38.3px,#0dfff2 39.2px,#0ff 39.4px,#00f1ff 39.6px,#0085ff 41px,#007cff 41.2px,#0026ff 43.5px,#0026ff 52.4px,#0023ff 53.2px,#0017ff 54.8px,#0014ff 55.6px,#0014ff 58.9px,#0080ff 60.6px,#0ff 61.9px,#80ff80 63.1px,#ff0 64.2px,#ff9500 65.5px,#ff8d00 65.7px,#ff7d00 67.1px,#ff8200 67.3px,#ffe700 68.7px,#fff000 68.9px,#ff0 69.3px,#cfff30 70.5px,#caff35 70.7px,#9f6 72.6px,#c9ff36 72.7px,#95ff6a 74.3px,#90ff6f 75.9px,#c8ff37 79.1px,#d3ff2c 80.8px,#d3ff2c 84.6px,#c4ff3b 85.6px,#75ff8a 88.9px,#53ffac 90.5px,#16ffe9 93.7px,#1fe 95.3px,#18ffe7 100.2px,#0efff1 101.8px,#0ff 104px,#00f8ff 105.1px,#00e8ff 106.7px,#00d7ff 109.9px,#00edff 111.6px,#0ff 112.2px,#1cffe3 113.2px,#ff0 114.4px,#fff600 114.5px,#ff8300 114.8px,#f00 115.5px,#800000 116.1px,#800000 138.5px,#f00 139.2px,#ff3800 139.4px,#ffa700 141.7px,#fb0 142.4px,#ff0 145.6px,#feff01 145.6px,#baff45 150.5px,#abff54 151.4px,#f0ff0f 151.4px,#f0ff0f 153.1px,#86ff79 155.1px,#09fff6 157.3px,#0ff 157.5px,#008cff 159.5px,#0078ff 159.8px,#001cff 161.5px,#0004ff 164.8px,#001cff 169px,#0074ff 170.7px,#009eff 171.5px,#00ebff 172.8px,#0ff 173.5px,#01fffe 173.5px,#3fc 175.2px,#38ffc7 175.7px,#4bffb4 178.2px,#80ff80 181.5px,#9f6 185.7px,#84ff7b 189.1px,#7dff82 189.9px,#5cffa3 192.4px,#45ffba 194.1px,#32ffcd 195.2px,#17ffe8 197.4px,#13ffec 197.9px,#03fffc 199.9px,#0ff 200.1px,#00edff 200.8px,#00bfff 202.4px,#009fff 203.6px,#0076ff 204.9px,#0052ff 206.6px,#0041ff 207.5px,#0031ff 209.6px,#002fff 210px,#002eff 212.5px,#002eff 215.8px,#0035ff 217.5px,#0049ff 218px,#0090ff 219.7px,#00a4ff 220px,#0ff 221.6px,#06fff9 221.7px,#37ffc8 222.5px,#7cff83 223.7px,#c0ff3f 225px,#d1ff2e 225.3px,#ff0 226.6px,#fff100 227px,#ffea00 227.5px,#ffd500 229.2px,#ffdc00 230px,#ffe700 231.4px,#fff200 232.5px,#fffa00 233.4px,#ffe900 234.7px,#fd0 235.4px,#ffa200 236.4px,#ff7800 237px,#ff2c00 238px,#f00 238.6px,#fa0000 238.7px,#d50000 240px,#c50000 240.9px,#900 245.1px,#ba0000 249.2px,#d20000 251.8px,#d00 252.6px,#ed0000 254.3px,#fb0000 255.9px,#f00 257.6px,#ff0200 259.3px,#f00 259.6px,#f80000 260.9px,#ef0000 262.6px,#fc0000 264.3px,#f00 264.7px,#ff0c00 266px,#ff3900 266.8px,#ff8100 268.1px,#ffaf00 268.8px,#fff500 269.8px,#ff0 270px,#c6ff39 271px,#a9ff56 271.5px,#6cff93 273.1px,#60ff9f 273.5px,#38ffc7 275.5px,#2fffd0 276px,#04fffb 277.8px,#0ff 278px,#00f6ff 278.5px,#00d4ff 280.2px,#00c4ff 281px,#00bdff 282.2px,#00b5ff 283.5px,#00c2ff 284.2px,#00e4ff 285.5px,#0ff 286px,#0afff5 286.2px,#43ffbc 287.2px,#81ff7e 287.9px,#bdff42 288.5px,#ff0 289.3px,#ffc700 289.9px,#ff5a00 291.5px,#f00 292.9px,#ec0000 293.2px,#800000 294.9px,#800000 311.6px)"></i><i style="height:8.25px;background:linear-gradient(90deg,#800000 0px,#800000 10.7px,#8c0000 11.4px,#e10000 11.7px,#f00 11.8px,#ff8600 12.3px,#ffb000 12.7px,#ff0 13.3px,#fdff02 13.3px,#c1ff3e 14.6px,#a5ff5a 15.3px,#9aff65 17.2px,#98ff67 17.8px,#c6ff39 19.5px,#d8ff27 20.1px,#ff0 21.3px,#fffb00 21.4px,#ffe400 22.1px,#ffa500 23px,#ff7c00 23.7px,#ff5300 24.7px,#ff2e00 25.6px,#ff2100 26.4px,#ff0900 28.1px,#ff0900 31.3px,#ff2c00 32.1px,#ff5100 32.9px,#ff7c00 34.1px,#ff9100 34.5px,#ffd900 35.7px,#fff900 36.2px,#ff0 36.2px,#bdff42 37px,#84ff7b 37.6px,#50ffaf 38.3px,#02fffd 39.2px,#0ff 39.3px,#00eaff 39.6px,#0080ff 41px,#007aff 41.2px,#0026ff 43.5px,#0026ff 53.2px,#001dff 54.8px,#0019ff 55.6px,#0019ff 58.9px,#0080ff 60.6px,#0ff 61.9px,#80ff80 63.1px,#ff0 64.2px,#ffa200 65.5px,#ff9700 65.7px,#ff8b00 67.1px,#ff8a00 67.3px,#ffe800 68.7px,#fff200 68.9px,#ff0 69.3px,#d1ff2e 70.5px,#cf3 70.7px,#9f6 72.6px,#d4ff2b 72.7px,#a1ff5e 74.3px,#89ff76 75.9px,#beff41 79.1px,#d0ff2f 80.8px,#d0ff2f 84.6px,#c8ff37 85.6px,#7dff82 88.9px,#5bffa4 90.5px,#23ffdc 93.7px,#15ffea 95.3px,#10ffef 100.2px,#08fff7 101.8px,#0ff 103.1px,#00f3ff 105.1px,#00e7ff 106.7px,#00e5ff 109.9px,#00f5ff 111.6px,#0ff 111.9px,#2cffd3 113.2px,#ff0 114px,#ff8100 114.5px,#ff0f00 114.8px,#f00 114.9px,#800000 116.1px,#800000 138.5px,#f00 139px,#ff5800 139.4px,#ffcf00 141.7px,#fd0 142.4px,#ff0 144.3px,#e8ff17 145.6px,#a8ff57 150.5px,#9bff64 151.4px,#cfff30 151.4px,#cfff30 153.1px,#5dffa2 155.1px,#0ff 156.8px,#00e2ff 157.3px,#0070ff 159.5px,#005dff 159.8px,#02f 161.5px,#000cff 164.8px,#0021ff 169px,#005aff 170.7px,#0075ff 171.5px,#00bfff 172.8px,#00d8ff 173.5px,#0ff 174.6px,#16ffe9 175.2px,#23ffdc 175.7px,#46ffb9 178.2px,#80ff80 181.5px,#9f6 185.7px,#82ff7d 189.1px,#78ff87 189.9px,#51ffae 192.4px,#35ffca 194.1px,#1fffe0 195.2px,#12ffed 197.4px,#1fe 197.9px,#0afff5 199.9px,#0ff 200.7px,#00feff 200.8px,#00dcff 202.4px,#00c4ff 203.6px,#009cff 204.9px,#0072ff 206.6px,#0061ff 207.5px,#0045ff 209.6px,#04f 210px,#003eff 212.5px,#003eff 215.8px,#0056ff 217.5px,#0067ff 218px,#00b4ff 219.7px,#00c7ff 220px,#0ff 221.2px,#14ffeb 221.7px,#3affc5 222.5px,#75ff8a 223.7px,#b1ff4e 225px,#bfff40 225.3px,#f4ff0b 227px,#fdff02 227.5px,#ff0 227.6px,#ffea00 229.2px,#ffe900 230px,#ffeb00 231.4px,#ffed00 232.5px,#fe0 233.4px,#ffde00 234.7px,#ffcb00 235.4px,#ff9500 236.4px,#ff6700 237px,#ff1b00 238px,#f00 238.5px,#ef0000 238.7px,#be0000 240px,#b40000 240.9px,#900 245.1px,#ad0000 249.2px,#bc0000 251.8px,#c90000 252.6px,#e00000 254.3px,#f30000 255.9px,#f00 257.6px,#ff0600 259.3px,#ff0500 260.9px,#ff0500 262.6px,#f10 264.3px,#ff2800 266px,#ff4a00 266.8px,#ff8400 268.1px,#ffa600 268.8px,#ffdf00 269.8px,#ff0 270.5px,#e6ff19 271px,#ceff31 271.5px,#96ff69 273.1px,#8cff73 273.5px,#67ff98 275.5px,#5fffa0 276px,#3dffc2 277.8px,#38ffc7 278.5px,#2affd5 280.2px,#27ffd8 281px,#2bffd4 282.2px,#30ffcf 283.5px,#3dffc2 284.2px,#72ff8d 285.5px,#9f6 286.2px,#daff25 287.2px,#ff0 287.6px,#ffeb00 287.9px,#ffb500 288.5px,#ff4a00 289.9px,#ff0700 291.5px,#f00 291.7px,#c30000 293.2px,#800000 294.9px,#800000 311.6px)"></i><i style="height:8.25px;background:linear-gradient(90deg,#800000 0px,#800000 11.4px,#fc0000 12px,#f00 12px,#ff5200 12.3px,#ffbe00 13px,#ffe800 13.3px,#ff0 13.6px,#e9ff16 14px,#abff54 15.3px,#a0ff5f 15.9px,#94ff6b 17.8px,#a0ff5f 18.5px,#cbff34 20.1px,#deff21 20.8px,#ff0 21.8px,#fff800 22.1px,#fb0 23.2px,#ffa100 23.7px,#ff5c00 25.6px,#ff3900 28.1px,#ff3900 31.3px,#ff7b00 32.9px,#ff8d00 33.4px,#ffb900 34.5px,#ffe700 35.4px,#ff0 35.8px,#e9ff16 36.2px,#94ff6b 37.3px,#7bff84 37.6px,#07fff8 39.2px,#0ff 39.4px,#009bff 41px,#008aff 41.5px,#004aff 43.5px,#0045ff 44.3px,#0034ff 48.3px,#0023ff 52.4px,#0023ff 53.2px,#0019ff 55.6px,#0019ff 57.2px,#002eff 58.9px,#0049ff 59.3px,#009bff 60.6px,#00b9ff 61px,#0ff 61.7px,#17ffe8 61.9px,#4affb5 62.4px,#8fff70 63.1px,#e4ff1b 63.9px,#ff0 64.2px,#fffd00 64.2px,#ffa800 65.7px,#ffa600 65.8px,#ff9d00 67.3px,#ffb400 67.8px,#fff000 68.9px,#ff0 69.4px,#f3ff0c 69.7px,#d1ff2e 70.7px,#c0ff3f 71.3px,#9cff63 72.6px,#dfff20 72.7px,#aeff51 74.3px,#81ff7e 75.9px,#b5ff4a 79.1px,#cdff32 80.8px,#cdff32 84.6px,#cbff34 85.6px,#86ff79 88.9px,#64ff9b 90.5px,#30ffcf 93.7px,#19ffe6 95.3px,#08fff7 100.2px,#01fffe 101.8px,#0ff 102.1px,#00efff 105.1px,#00e6ff 106.7px,#00f3ff 109.9px,#00fdff 111.6px,#0ff 111.6px,#3cffc3 113.2px,#ff0 113.8px,#ff0d00 114.5px,#f00 114.5px,#900 114.8px,#800000 116.1px,#800000 138.5px,#f00 139px,#ff7800 139.4px,#fff600 141.7px,#ff0 142.3px,#feff01 142.4px,#d1ff2e 145.6px,#97ff68 150.5px,#8bff74 151.4px,#adff52 151.4px,#adff52 153.1px,#3fc 155.1px,#0ff 156.1px,#00bcff 157.3px,#0053ff 159.5px,#0043ff 159.8px,#0027ff 161.5px,#0014ff 164.8px,#0026ff 169px,#003fff 170.7px,#004cff 171.5px,#0092ff 172.8px,#00b1ff 173.5px,#00f9ff 175.2px,#0ff 175.4px,#0dfff2 175.7px,#42ffbd 178.2px,#80ff80 181.5px,#9f6 185.7px,#81ff7e 189.1px,#73ff8c 189.9px,#46ffb9 192.4px,#24ffdb 194.1px,#0cfff3 195.2px,#0dfff2 197.4px,#0efff1 197.9px,#1fe 199.9px,#0ffff0 200.8px,#0ff 201.9px,#00f8ff 202.4px,#00e9ff 203.6px,#00c1ff 204.9px,#0093ff 206.6px,#0081ff 207.5px,#005aff 209.6px,#0058ff 210px,#004fff 212.5px,#004fff 215.8px,#07f 217.5px,#0086ff 218px,#00d8ff 219.7px,#00eaff 220px,#0ff 220.6px,#2fd 221.7px,#3effc1 222.5px,#6eff91 223.7px,#a2ff5d 225px,#acff53 225.3px,#dbff24 227px,#e6ff19 227.5px,#ff0 229.2px,#ff0 229.2px,#fff700 230px,#ffef00 231.4px,#ffe800 232.5px,#ffe300 233.4px,#ffd300 234.7px,#ffb800 235.4px,#f80 236.4px,#ff5700 237px,#ff0a00 238px,#f00 238.2px,#e40000 238.7px,#a70000 240px,#a30000 240.9px,#900 245.1px,#a10000 249.2px,#a60000 251.8px,#b60000 252.6px,#d40000 254.3px,#eb0000 255.9px,#f00 257.6px,#ff0a00 259.3px,#ff1200 260.9px,#ff1a00 262.6px,#ff2600 264.3px,#f40 266px,#ff5c00 266.8px,#ff8600 268.1px,#ff9e00 268.8px,#ffc900 269.8px,#fff900 271px,#ff0 271.2px,#f4ff0b 271.5px,#c0ff3f 273.1px,#b9ff46 273.5px,#96ff69 275.5px,#90ff6f 276px,#7f8 277.8px,#79ff86 278.5px,#7fff80 280.2px,#8f7 281px,#98ff67 282.2px,#a9ff56 283.5px,#b6ff49 284.2px,#ff0 285.5px,#fffe00 285.5px,#ffd500 286.2px,#ff8d00 287.2px,#ff5800 287.9px,#ff2900 288.5px,#f00 289.1px,#cb0000 289.9px,#b20000 291.5px,#900 293.2px,#800000 294.9px,#800000 311.6px)"></i><i style="height:8.25px;background:linear-gradient(90deg,#800000 0px,#800000 11.4px,#c30000 12px,#f00 12.2px,#ff1900 12.3px,#ffa100 13px,#fc0 13.3px,#ff0 13.8px,#f3ff0c 14px,#b3ff4c 15.3px,#9dff62 15.9px,#8dff72 17.8px,#91ff6e 18.5px,#b9ff46 20.1px,#caff35 20.8px,#efff10 22.1px,#ff0 22.4px,#ffe000 23.2px,#ffcd00 23.7px,#ff9000 25.6px,#ff7100 28.1px,#ff7100 31.3px,#ffa700 32.9px,#ffb600 33.4px,#ffe200 34.5px,#ff0 35.1px,#f4ff0b 35.4px,#cdff32 36.2px,#8bff74 37.3px,#75ff8a 37.6px,#0ffff0 39.2px,#0ff 39.6px,#00beff 41px,#00aeff 41.5px,#07f 43.5px,#006cff 44.3px,#0045ff 48.3px,#001fff 52.4px,#001fff 53.2px,#0019ff 55.6px,#0019ff 57.2px,#0049ff 58.9px,#0062ff 59.3px,#00bdff 60.6px,#00d9ff 61px,#0ff 61.4px,#3fc 61.9px,#63ff9c 62.4px,#a2ff5d 63.1px,#f1ff0e 63.9px,#ff0 64.1px,#fffa00 64.2px,#ffba00 65.7px,#ffb700 65.8px,#ffb300 67.3px,#ffbf00 67.8px,#ffed00 68.9px,#ff0 69.5px,#f9ff06 69.7px,#d8ff27 70.7px,#c5ff3a 71.3px,#a1ff5e 72.6px,#dfff20 72.7px,#93ff6c 74.9px,#7aff85 75.9px,#86ff79 78.2px,#b9ff46 80.8px,#c8ff37 82.4px,#b9ff46 85.6px,#9cff63 87.2px,#58ffa7 90.5px,#3bffc4 92.1px,#14ffeb 95.3px,#0dfff2 97px,#0ff 99px,#0ef 101.8px,#00cbff 106.7px,#00f9ff 109.9px,#0ff 110.2px,#1fffe0 111.6px,#3cffc3 112.2px,#beff41 113.2px,#ff0 113.4px,#ff6300 113.8px,#f00 114.3px,#800000 114.8px,#800000 138.5px,#f00000 139.1px,#f00 139.2px,#ff5400 139.4px,#ffc300 140.1px,#ff0 141.2px,#e0ff1f 141.7px,#ceff31 142.4px,#8fff70 145.6px,#42ffbd 150.5px,#38ffc7 151.4px,#7f8 151.4px,#7f8 153.1px,#49ffb6 154px,#07fff8 155.1px,#0ff 155.3px,#00c7ff 156.5px,#009fff 157.3px,#0038ff 159.8px,#001fff 164.8px,#0024ff 166.5px,#0037ff 171.5px,#0082ff 173.2px,#0092ff 173.5px,#0df 175.2px,#00f5ff 175.7px,#0ff 176.1px,#25ffda 177.4px,#3bffc4 178.2px,#5dffa2 179.9px,#7eff81 181.5px,#8cff73 183.2px,#9cff63 185.7px,#97ff68 186.6px,#83ff7c 189.1px,#7bff84 189.6px,#41ffbe 192.4px,#07fff8 194.9px,#0ff 195.2px,#00feff 195.2px,#0ff 195.6px,#04fffb 197.4px,#07fff8 197.9px,#13ffec 199.9px,#17ffe8 200.8px,#06fff9 203.3px,#03fffc 203.6px,#0ff 203.7px,#00b5ff 206.6px,#00a6ff 207.5px,#007cff 209.6px,#0072ff 211.6px,#006eff 212.5px,#006aff 215.8px,#00a5ff 218px,#00daff 219.2px,#0ff 219.9px,#03fffc 220px,#2dffd2 221.7px,#4fb 222.5px,#7fff80 224.2px,#9cff63 225px,#c6ff39 226.7px,#daff25 227.5px,#fbff04 229.7px,#ff0 230px,#ff0 230px,#ffe600 232.5px,#fc0 234.7px,#ff8000 236.4px,#f00 238px,#f00 238px,#9b0000 240px,#9b0000 250.1px,#9e0000 251.8px,#bf0000 253.4px,#cf0000 254.3px,#f40000 256.8px,#f00 257.5px,#ff0100 257.6px,#ff1600 260.1px,#ff1c00 260.9px,#ff2d00 263.5px,#ff3500 264.3px,#ff6000 266.5px,#ff6700 266.8px,#f90 268.8px,#ffe100 271px,#ffef00 271.5px,#ff0 272.1px,#e3ff1c 273.1px,#d1ff2e 274.3px,#beff41 275.5px,#b0ff4f 276.8px,#a8ff57 277.8px,#b8ff47 279.3px,#c4ff3b 280.2px,#e0ff1f 281.5px,#ef1 282.2px,#ff0 283.1px,#fff600 283.5px,#ffe500 284.2px,#ffa600 285.2px,#f60 286.2px,#ff1b00 287.2px,#f00 287.6px,#e00 287.9px,#800000 289.9px,#800000 311.6px)"></i><i style="height:8.25px;background:linear-gradient(90deg,#800000 0px,#800000 11.4px,#890000 12px,#de0000 12.3px,#f00 12.5px,#ff8400 13px,#ffaf00 13.3px,#ff0 13.9px,#fdff02 14px,#baff45 15.3px,#9aff65 15.9px,#87ff78 17.8px,#82ff7d 18.5px,#a7ff58 20.1px,#b6ff49 20.8px,#d8ff27 22.1px,#f8ff07 23.2px,#ff0 23.4px,#fff800 23.7px,#ffc400 25.6px,#ffa900 28.1px,#ffa900 31.3px,#ffd300 32.9px,#ffdf00 33.4px,#ff0 34.2px,#f3ff0c 34.5px,#d2ff2d 35.4px,#b1ff4e 36.2px,#81ff7e 37.3px,#6fff90 37.6px,#18ffe7 39.2px,#0ff 40px,#00e1ff 41px,#00d3ff 41.5px,#00a4ff 43.5px,#0093ff 44.3px,#0056ff 48.3px,#001aff 52.4px,#001aff 53.2px,#0019ff 55.6px,#0019ff 57.2px,#0064ff 58.9px,#007bff 59.3px,#00e0ff 60.6px,#00faff 61px,#0ff 61px,#50ffaf 61.9px,#7bff84 62.4px,#b5ff4a 63.1px,#fdff02 63.9px,#ff0 63.9px,#fff700 64.2px,#ffcd00 65.7px,#ffc900 65.8px,#ffc800 67.3px,#ffca00 67.8px,#ffea00 68.9px,#ff0 69.7px,#feff01 69.7px,#dfff20 70.7px,#cbff34 71.3px,#a5ff5a 72.6px,#dbff24 72.7px,#86ff79 74.9px,#74ff8b 75.9px,#60ff9f 78.2px,#a0ff5f 80.8px,#c2ff3d 82.4px,#a1ff5e 85.6px,#89ff76 87.2px,#45ffba 90.5px,#25ffda 92.1px,#0cfff3 95.3px,#04fffb 97px,#0ff 97.4px,#00d7ff 101.8px,#0af 106.7px,#00fdff 109.9px,#0ff 110px,#47ffb8 111.6px,#69ff96 112.2px,#ff0 112.8px,#ff9f00 113.2px,#f00 113.7px,#c00 113.8px,#800000 114.8px,#800000 138.5px,#a50000 139.1px,#f00 139.4px,#ff1c00 139.4px,#ffeb00 140.1px,#ff0 140.5px,#b8ff47 141.7px,#9aff65 142.4px,#41ffbe 145.6px,#0ff 148.7px,#00daff 150.5px,#00d2ff 151.4px,#0ff 151.4px,#23ffdc 151.4px,#23ffdc 153.1px,#07fff8 154px,#0ff 154.1px,#00d8ff 155.1px,#00acff 156.5px,#0090ff 157.3px,#0045ff 159.8px,#002eff 164.8px,#002fff 166.5px,#0042ff 171.5px,#0072ff 173.2px,#0080ff 173.5px,#00c3ff 175.2px,#00dbff 175.7px,#0ff 176.7px,#17ffe8 177.4px,#2effd1 178.2px,#57ffa8 179.9px,#7aff85 181.5px,#91ff6e 183.2px,#a2ff5d 185.7px,#a1ff5e 186.6px,#8dff72 189.1px,#86ff79 189.6px,#46ffb9 192.4px,#04fffb 194.9px,#0ff 195.1px,#00fdff 195.2px,#00f3ff 197.4px,#00f8ff 197.9px,#0ff 198.7px,#0cfff3 199.9px,#1fe 200.8px,#0dfff2 203.3px,#0cfff3 203.6px,#0ff 204.3px,#00dbff 206.6px,#00d1ff 207.5px,#00b2ff 209.6px,#00a8ff 211.6px,#00a2ff 212.5px,#0094ff 215.8px,#00c2ff 218px,#00e8ff 219.2px,#0ff 219.7px,#0afff5 220px,#34ffcb 221.7px,#4dffb2 222.5px,#89ff76 224.2px,#a3ff5c 225px,#cdff32 226.7px,#deff21 227.5px,#fcff03 229.7px,#ff0 229.9px,#fffe00 230px,#ffe500 232.5px,#fc0 234.7px,#ff8000 236.4px,#f00 238px,#9f0000 240px,#9f0000 250.1px,#ab0000 251.8px,#c90000 253.4px,#d60000 254.3px,#f80000 256.8px,#f00 257.3px,#ff0400 257.6px,#ff1c00 260.1px,#ff2100 260.9px,#ff3000 263.5px,#ff3a00 264.3px,#ff6200 266.5px,#ff6900 266.8px,#f90 268.8px,#ffd500 271px,#ffe200 271.5px,#ff0 272.9px,#fbff04 273.1px,#ecff13 274.3px,#dcff23 275.5px,#ceff31 276.8px,#cdff32 277.8px,#df2 279.3px,#efff10 280.2px,#ff0 280.8px,#ffeb00 281.5px,#fd0 282.2px,#ffbf00 283.5px,#ffa600 284.2px,#ff6700 285.2px,#ff2700 286.2px,#f00 286.7px,#e00000 287.2px,#c40000 287.9px,#800000 289.9px,#800000 311.6px)"></i><i style="height:8.25px;background:linear-gradient(90deg,#800000 0px,#800000 12px,#f90000 12.7px,#f00 12.7px,#ff4f00 13px,#ffbc00 13.6px,#ffe700 14px,#ff0 14.3px,#e7ff18 14.6px,#a0ff5f 15.9px,#91ff6e 16.6px,#7bff84 18.5px,#83ff7c 19.1px,#a0ff5f 20.8px,#c2ff3d 22.4px,#d5ff2a 23.2px,#ff0 25px,#fff000 25.6px,#ffdb00 28.1px,#ffda00 28.9px,#fd0 31.3px,#ffec00 32.1px,#ff0 33.1px,#f9ff06 33.4px,#bfff40 35.4px,#a7ff58 36.2px,#8bff74 37.3px,#49ffb6 39.2px,#39ffc6 40.2px,#24ffdb 41.5px,#17ffe8 42.6px,#0ff 43.7px,#00f3ff 44.3px,#00e7ff 45.1px,#00b6ff 47.5px,#00a3ff 48.3px,#007dff 49.9px,#003eff 52.4px,#002cff 54.5px,#002cff 56.8px,#0031ff 57.2px,#0079ff 58.9px,#0092ff 59.3px,#00e4ff 60.5px,#0ff 60.8px,#0bfff4 61px,#6bff94 62.1px,#87ff78 62.4px,#f5ff0a 63.7px,#ff0 63.9px,#fffe00 63.9px,#fc0 65.8px,#ffd000 67.8px,#ff0 69.7px,#cf3 71.3px,#a2ff5d 72.6px,#d5ff2a 72.7px,#94ff6b 74.3px,#7bff84 74.9px,#47ffb8 77.5px,#3dffc2 78.2px,#7fff80 81.4px,#96ff69 82.4px,#7aff85 85.6px,#72ff8d 87.2px,#5fffa0 88.9px,#23ffdc 92.1px,#19ffe6 93.7px,#04fffb 97px,#0ff 97.3px,#00f1ff 98.6px,#00c6ff 101.8px,#00b0ff 103.5px,#008fff 106.7px,#009eff 107.3px,#0ff 109.9px,#0ff 109.9px,#71ff8e 111.9px,#96ff69 112.2px,#ff0 112.5px,#ff2800 113.2px,#f00 113.3px,#800000 113.8px,#800000 139.1px,#f00 139.5px,#fb0 140.1px,#ff0 140.8px,#c3ff3c 141.4px,#89ff76 142.4px,#6fff90 143px,#20ffdf 145.6px,#0ff 147.1px,#00b6ff 150.5px,#00aeff 151.4px,#00ceff 151.4px,#00ceff 153.1px,#00c3ff 154px,#0af 155.1px,#0091ff 156.5px,#0080ff 157.3px,#0051ff 159.8px,#003dff 164.8px,#0039ff 166.5px,#004cff 171.5px,#0063ff 173.2px,#006fff 173.5px,#00a9ff 175.2px,#00c1ff 175.7px,#0ff 177.2px,#09fff6 177.4px,#2fd 178.2px,#51ffae 179.9px,#75ff8a 181.5px,#96ff69 183.2px,#a8ff57 185.7px,#acff53 186.6px,#97ff68 189.1px,#92ff6d 189.6px,#4affb5 192.4px,#02fffd 194.9px,#0ff 195px,#00fbff 195.2px,#00e3ff 197.4px,#00e9ff 197.9px,#0ff 199.6px,#05fffa 199.9px,#0afff5 200.8px,#15ffea 203.3px,#14ffeb 203.6px,#01fffe 206.6px,#0ff 206.9px,#00fdff 207.5px,#00e9ff 209.6px,#0df 211.6px,#00d6ff 212.5px,#00beff 215.8px,#00dfff 218px,#00f6ff 219.2px,#0ff 219.4px,#1fe 220px,#3bffc4 221.7px,#57ffa8 222.5px,#93ff6c 224.2px,#af5 225px,#d4ff2b 226.7px,#e1ff1e 227.5px,#feff01 229.7px,#ff0 229.8px,#fffd00 230px,#ffe500 232.5px,#fc0 234.7px,#ff8000 236.4px,#f00 238px,#a30000 240px,#a30000 250.1px,#b70000 251.8px,#d30000 253.4px,#de0000 254.3px,#fc0000 256.8px,#f00 257px,#ff0800 257.6px,#f20 260.1px,#ff2600 260.9px,#ff3200 263.5px,#ff3e00 264.3px,#ff6500 266.5px,#ff6c00 266.8px,#f90 268.8px,#ffca00 271px,#ffd400 271.5px,#ffeb00 273.1px,#fff700 274.3px,#ff0 275px,#faff05 275.5px,#ecff13 276.8px,#f2ff0d 277.8px,#ff0 279.1px,#fffd00 279.3px,#ffe400 280.2px,#ffb900 281.5px,#ffa900 282.2px,#ff8900 283.5px,#f60 284.2px,#ff2800 285.2px,#f00 285.8px,#e70000 286.2px,#a50000 287.2px,#9a0000 287.9px,#800000 289.9px,#800000 311.6px)"></i><i style="height:8.25px;background:linear-gradient(90deg,#800000 0px,#800000 12px,#c00000 12.7px,#f00 12.9px,#ff1600 13px,#ffa000 13.6px,#ffca00 14px,#ff0 14.5px,#f2ff0d 14.6px,#a9ff56 15.9px,#8fff70 16.6px,#76ff89 18.5px,#75ff8a 19.1px,#8bff74 20.8px,#a3ff5c 22.4px,#b3ff4c 23.2px,#e3ff1c 25.6px,#f2ff0d 28.1px,#f4ff0b 28.9px,#ef1 31.3px,#e5ff1a 32.1px,#d4ff2b 33.4px,#afff50 35.4px,#a0ff5f 36.2px,#98ff67 37.3px,#81ff7e 39.2px,#7eff81 40.2px,#7dff82 41.5px,#7fff80 42.6px,#61ff9e 44.3px,#54ffab 45.1px,#16ffe9 47.5px,#0ff 48.2px,#00fbff 48.3px,#00c7ff 49.9px,#0069ff 52.4px,#0041ff 54.5px,#0041ff 56.8px,#004cff 57.2px,#008eff 58.9px,#00a8ff 59.3px,#00f1ff 60.5px,#0ff 60.7px,#18ffe7 61px,#75ff8a 62.1px,#8fff70 62.4px,#faff05 63.7px,#ff0 63.8px,#fffd00 63.9px,#fc0 65.8px,#ffd400 67.8px,#ff0 69.7px,#cf3 71.3px,#9eff61 72.6px,#cbff34 72.7px,#8bff74 74.3px,#72ff8d 74.9px,#28ffd7 77.5px,#1fffe0 78.2px,#30ffcf 81.4px,#43ffbc 82.4px,#4fb 85.6px,#56ffa9 87.2px,#62ff9d 88.9px,#35ffca 92.1px,#2affd5 93.7px,#0bfff4 97px,#0ff 97.9px,#00f7ff 98.6px,#00baff 101.8px,#009bff 103.5px,#007aff 106.7px,#0080ff 107.3px,#0ff 109.9px,#7f8 111.9px,#c4ff3b 112.2px,#ff0 112.4px,#f00 113.1px,#d00 113.2px,#800000 113.8px,#800000 139.1px,#f00 139.8px,#ff3000 140.1px,#ff0 141.2px,#deff21 141.4px,#9bff64 142.4px,#76ff89 143px,#2effd1 145.6px,#0ff 148.2px,#00d6ff 150.5px,#00ceff 151.4px,#00bcff 151.4px,#00bfff 154px,#00b9ff 154.8px,#00acff 156.5px,#009cff 158.1px,#008aff 159.8px,#0083ff 161.5px,#0071ff 164.8px,#0069ff 166.5px,#006bff 168.2px,#006bff 170.7px,#006dff 173.2px,#009eff 175.2px,#00b1ff 175.7px,#00fcff 177.4px,#0ff 177.5px,#16ffe9 178.2px,#49ffb6 179.9px,#5dffa2 180.7px,#97ff68 183.2px,#9fff60 184px,#b2ff4d 186.6px,#acff53 187.4px,#9aff65 189.6px,#7dff82 190.7px,#4fffb0 192.4px,#35ffca 193.2px,#01fffe 194.9px,#0ff 195px,#00fbff 195.2px,#00d6ff 197.4px,#0ff 199.9px,#1effe1 203.3px,#26ffd9 207.5px,#0ffff0 210.8px,#09fff6 211.6px,#0ff 212.5px,#0ef 214.1px,#00d7ff 215.8px,#00dbff 216.6px,#00e7ff 219.2px,#0ff 220.3px,#1dffe2 221.7px,#78ff87 224.2px,#b7ff48 226.3px,#c2ff3d 226.7px,#e4ff1b 228.3px,#fbff04 229.7px,#ff0 230px,#fffa00 230.4px,#ffe200 232.5px,#ffc300 234.7px,#ff7300 236.4px,#ff5a00 236.7px,#f00 238px,#fc0000 238px,#cb0000 239.2px,#a00 240px,#a90000 245.1px,#ac0000 250.1px,#dc0000 253.4px,#e60000 254.3px,#f00 256.5px,#ff0300 256.8px,#ff1500 258.4px,#ff2700 260.1px,#ff3000 262.6px,#f30 263.5px,#ff5a00 266px,#ff6200 266.5px,#ff8d00 268.5px,#ff9300 268.8px,#ffc300 271.5px,#ffc600 271.8px,#ffda00 274.3px,#ffe200 275.2px,#fff100 276.8px,#ffe100 278.5px,#ffd800 279.3px,#ffa200 281px,#ff8f00 281.5px,#ff6d00 282.7px,#ff5400 283.5px,#ff0300 284.9px,#f00 284.9px,#f00000 285.2px,#800000 287.2px,#800000 311.6px)"></i><i style="height:8.25px;background:linear-gradient(90deg,#800000 0px,#800000 12px,#860000 12.7px,#db0000 13px,#f00 13.1px,#ff8300 13.6px,#ffad00 14px,#ff0 14.6px,#feff01 14.6px,#b2ff4d 15.9px,#8cff73 16.6px,#70ff8f 18.5px,#68ff97 19.1px,#75ff8a 20.8px,#83ff7c 22.4px,#90ff6f 23.2px,#b7ff48 25.6px,#c1ff3e 28.1px,#c5ff3a 28.9px,#bf4 31.3px,#b8ff47 32.1px,#aeff51 33.4px,#a0ff5f 35.4px,#9aff65 36.2px,#a6ff59 37.3px,#b9ff46 39.2px,#c4ff3b 40.2px,#d7ff28 41.5px,#e7ff18 42.6px,#cdff32 44.3px,#c0ff3f 45.1px,#75ff8a 47.5px,#54ffab 48.3px,#1fe 49.9px,#0ff 50.3px,#0094ff 52.4px,#0057ff 54.5px,#0057ff 56.8px,#0068ff 57.2px,#00a3ff 58.9px,#00beff 59.3px,#00feff 60.5px,#0ff 60.5px,#25ffda 61px,#7eff81 62.1px,#98ff67 62.4px,#feff01 63.7px,#ff0 63.7px,#fffb00 63.9px,#fc0 65.8px,#ffd800 67.8px,#ff0 69.7px,#cf3 71.3px,#9f6 72.6px,#c2ff3d 72.7px,#82ff7d 74.3px,#68ff97 74.9px,#08fff7 77.5px,#0ff 78.1px,#0ff 78.2px,#00e1ff 81.4px,#0ef 82.4px,#0ff 84.1px,#0efff1 85.6px,#3affc5 87.2px,#65ff9a 88.9px,#48ffb7 92.1px,#3bffc4 93.7px,#13ffec 97px,#0ff 98.5px,#00fdff 98.6px,#00adff 101.8px,#0085ff 103.5px,#0065ff 106.7px,#0061ff 107.3px,#0ff 109.9px,#7eff81 111.9px,#f3ff0c 112.2px,#ff0 112.2px,#f00 112.9px,#930000 113.2px,#800000 113.8px,#800000 139.1px,#a40000 140.1px,#f00 140.4px,#ff0 141.4px,#f8ff07 141.4px,#aeff51 142.4px,#7eff81 143px,#3cffc3 145.6px,#0ff 149.9px,#00f6ff 150.5px,#00efff 151.4px,#0ff 151.4px,#1dffe2 151.4px,#2affd5 154px,#2affd5 154.8px,#26ffd9 156.5px,#21ffde 158.1px,#1fe 159.8px,#08fff7 161.5px,#0ff 162.4px,#00e9ff 164.8px,#00daff 166.5px,#00d2ff 168.2px,#00b5ff 170.7px,#00a4ff 173.2px,#00abff 175.2px,#00b1ff 175.7px,#00f4ff 177.4px,#0ff 177.7px,#0efff1 178.2px,#41ffbe 179.9px,#57ffa8 180.7px,#90ff6f 183.2px,#9dff62 184px,#b0ff4f 186.6px,#afff50 187.4px,#9dff62 189.6px,#8f7 190.7px,#54ffab 192.4px,#39ffc6 193.2px,#05fffa 194.9px,#0ff 195.1px,#00fcff 195.2px,#00cdff 197.4px,#0ff 199.9px,#2bffd4 203.3px,#47ffb8 207.5px,#2bffd4 210.8px,#21ffde 211.6px,#0ff 214px,#00feff 214.1px,#00d3ff 215.8px,#00c7ff 216.6px,#00a4ff 219.2px,#0bf 221.7px,#0ff 223.4px,#1bffe4 224.2px,#73ff8c 226.3px,#83ff7c 226.7px,#c8ff37 228.3px,#f0ff0f 229.7px,#ff0 230.2px,#fffc00 230.4px,#ffda00 232.5px,#fa0 234.7px,#ff5000 236.4px,#ff3800 236.7px,#f00 237.8px,#f30000 238px,#cb0000 239.2px,#b60000 240px,#b10000 245.1px,#bd0000 250.1px,#e60000 253.4px,#ef0000 254.3px,#f00 255.8px,#ff0a00 256.8px,#ff1c00 258.4px,#ff2900 260.1px,#ff3100 262.6px,#ff3400 263.5px,#ff5000 266px,#ff5800 266.5px,#ff7e00 268.5px,#ff8300 268.8px,#ffa900 271.5px,#ffab00 271.8px,#ffbc00 274.3px,#ffc200 275.2px,#ffc900 276.8px,#ffbc00 278.5px,#ffb400 279.3px,#ff8c00 281px,#ff7400 281.5px,#f40 282.7px,#f20 283.5px,#f00 284.1px,#d10000 284.9px,#c60000 285.2px,#800000 287.2px,#800000 311.6px)"></i><i style="height:8.25px;background:linear-gradient(90deg,#800000 0px,#800000 12.7px,#f00 13.4px,#ff1500 13.5px,#ff3f00 13.6px,#ffca00 14.4px,#ffdf00 14.6px,#ff0 15px,#deff21 15.4px,#96ff69 16.6px,#82ff7d 17.2px,#60ff9f 19.1px,#5fffa0 20px,#64ff9b 22.4px,#6aff95 23.2px,#8dff72 25.6px,#92ff6d 26.4px,#a7ff58 28.9px,#af5 29.7px,#afff50 32.1px,#afff50 32.9px,#acff53 36.2px,#d0ff2f 38.9px,#e3ff1c 40.2px,#f9ff06 41.5px,#ff0 42px,#fff700 42.6px,#ff0 43.6px,#fdff02 43.8px,#e5ff1a 45.1px,#cdff32 45.9px,#9bff64 47.5px,#8f7 48px,#3cffc3 49.9px,#2cffd3 50.3px,#0ff 51.3px,#00cfff 52.4px,#00c1ff 52.9px,#0098ff 54.5px,#0093ff 55.6px,#0098ff 56.8px,#00bfff 58px,#00dcff 58.9px,#0ff 59.6px,#14ffeb 60px,#2cffd3 60.5px,#78ff87 61.6px,#98ff67 62.1px,#e4ff1b 63.2px,#ff0 63.7px,#fffb00 63.7px,#ffd400 65.3px,#fc0 65.8px,#ffd300 67.5px,#ffd700 67.8px,#fffb00 69.4px,#ff0 69.6px,#fdff02 69.7px,#d7ff28 71px,#ceff31 71.3px,#a1ff5e 72.6px,#b9ff46 72.7px,#92ff6d 73.6px,#79ff86 74.3px,#13ffec 76.9px,#0ff 77.3px,#00f8ff 77.5px,#00c4ff 80.1px,#00b2ff 81.4px,#0bf 83.4px,#00deff 85.6px,#00faff 86.6px,#0ff 86.7px,#43ffbc 88.9px,#45ffba 89.8px,#40ffbf 93.7px,#09fff6 97.6px,#0ff 98.2px,#00f9ff 98.6px,#00a9ff 101.8px,#007fff 103.5px,#005cff 106px,#005bff 107.3px,#00a0ff 108.6px,#0ff 109.9px,#0ff 109.9px,#30ffcf 110.6px,#d5ff2a 111.9px,#ff0 112px,#ff3b00 112.5px,#f00 112.7px,#800000 113.2px,#800000 140.1px,#f00 140.7px,#f90 141.4px,#fff600 143px,#ff0 143.5px,#f6ff09 144px,#7fff80 145px,#73ff8c 145.6px,#54ffab 148.8px,#4affb5 150.5px,#48ffb7 151.4px,#7eff81 151.4px,#94ff6b 154px,#9aff65 154.8px,#a0ff5f 156.5px,#a6ff59 158.1px,#97ff68 159.8px,#8cff73 161.5px,#62ff9d 164.8px,#4cffb3 166.5px,#3affc5 168.2px,#01fffe 170.7px,#0ff 170.7px,#00daff 173.2px,#00b9ff 175.2px,#00b2ff 175.7px,#00ebff 177.4px,#0ff 178px,#06fff9 178.2px,#39ffc6 179.9px,#51ffae 180.7px,#8aff75 183.2px,#9aff65 184px,#aeff51 186.6px,#b1ff4e 187.4px,#a0ff5f 189.6px,#92ff6d 190.7px,#5affa5 192.4px,#3dffc2 193.2px,#08fff7 194.9px,#0ff 195.2px,#00feff 195.2px,#00c5ff 197.4px,#0ff 199.9px,#37ffc8 203.3px,#69ff96 207.5px,#47ffb8 210.8px,#39ffc6 211.6px,#0ffff0 214.1px,#0ff 214.5px,#00cfff 215.8px,#00b3ff 216.6px,#0060ff 219.2px,#005bff 221.7px,#00beff 224.2px,#0ff 225.4px,#2effd1 226.3px,#4fb 226.7px,#acff53 228.3px,#e5ff1a 229.7px,#ff0 230.3px,#fffe00 230.4px,#ffd200 232.5px,#ff9100 234.7px,#ff2d00 236.4px,#ff1700 236.7px,#f00 237.4px,#ea0000 238px,#c00 239.2px,#c20000 240px,#ba0000 245.1px,#cd0000 250.1px,#f10000 253.4px,#f90000 254.3px,#f00 254.9px,#ff1200 256.8px,#f20 258.4px,#ff2a00 260.1px,#ff3200 262.6px,#ff3500 263.5px,#ff4600 266px,#ff4e00 266.5px,#ff7000 268.5px,#ff7300 268.8px,#ff8f00 271.5px,#ff9100 271.8px,#ff9e00 274.3px,#ffa200 275.2px,#ffa100 276.8px,#ff9800 278.5px,#ff9000 279.3px,#ff7500 281px,#ff5a00 281.5px,#ff1b00 282.7px,#f00 283.2px,#f00000 283.5px,#a00000 284.9px,#9c0000 285.2px,#800000 287.2px,#800000 311.6px)"></i><i style="height:8.25px;background:linear-gradient(90deg,#800000 0px,#800000 12.7px,#c00 13.5px,#f60000 13.6px,#f00 13.7px,#ffa600 14.4px,#fb0 14.6px,#ff0 15.3px,#ef1 15.4px,#a2ff5d 16.6px,#81ff7e 17.2px,#5affa5 19.1px,#50ffaf 20px,#4fb 22.4px,#43ffbc 23.2px,#63ff9c 25.6px,#6aff95 26.4px,#8cff73 28.9px,#95ff6a 29.7px,#af5 32.1px,#b1ff4e 32.9px,#c2ff3d 36.2px,#e7ff18 38.9px,#fdff02 40.2px,#ff0 40.3px,#ffe900 41.5px,#ffdf00 42.6px,#ffe100 43.8px,#fffd00 45.1px,#ff0 45.2px,#ecff13 45.9px,#baff45 47.5px,#a9ff56 48px,#62ff9d 49.9px,#5fa 50.3px,#0cfff3 52.4px,#0ff 52.8px,#00feff 52.9px,#00deff 54.5px,#00d4ff 55.6px,#00dfff 56.8px,#00fdff 58px,#0ff 58.1px,#1affe5 58.9px,#48ffb7 60px,#5effa1 60.5px,#9bff64 61.6px,#b5ff4a 62.1px,#f1ff0e 63.2px,#ff0 63.5px,#fff700 63.7px,#ffd000 65.3px,#fc0 65.8px,#ffd000 67.5px,#ffd600 67.8px,#fffd00 69.4px,#ff0 69.5px,#faff05 69.7px,#d8ff27 71px,#cfff30 71.3px,#a9ff56 72.6px,#b0ff4f 72.7px,#89ff76 73.6px,#6fff90 74.3px,#09fff6 76.9px,#0ff 77.1px,#00efff 77.5px,#00a2ff 80.1px,#008fff 81.4px,#0084ff 83.4px,#00b0ff 85.6px,#00caff 86.6px,#0ff 88.3px,#12ffed 88.9px,#23ffdc 89.8px,#40ffbf 93.7px,#05fffa 97.6px,#0ff 97.9px,#00f2ff 98.6px,#00a7ff 101.8px,#007fff 103.5px,#004eff 106px,#005dff 107.3px,#0090ff 108.6px,#0ff 109.9px,#0ff 109.9px,#38ffc7 110.6px,#ff0 111.5px,#ffb500 111.9px,#f00 112.4px,#de0000 112.5px,#800000 113.2px,#800000 140.1px,#f00 141.3px,#ff0e00 141.4px,#ff3d00 143px,#ff4600 144px,#ff0 144.7px,#beff41 145px,#b8ff47 145.6px,#a9ff56 148.8px,#aeff51 150.5px,#b4ff4b 151.4px,#e1ff1e 151.4px,#f2ff0d 153.1px,#ff0 154.3px,#fffa00 154.8px,#ffe100 158.1px,#fffa00 161.5px,#ff0 161.8px,#edff12 163.2px,#cdff32 164.8px,#bdff42 165.7px,#94ff6b 167.7px,#8bff74 168.2px,#5fa 169.8px,#3bffc4 170.7px,#16ffe9 172.3px,#06fff9 173.2px,#0ff 173.4px,#00bdff 175.7px,#0ff 178px,#06fff9 178.2px,#1effe1 179px,#4effb1 180.7px,#85ff7a 183.2px,#97ff68 184px,#b0ff4f 187.4px,#9bff64 190.7px,#81ff7e 191.6px,#4dffb2 193.2px,#15ffea 195.2px,#09fff6 195.7px,#0ff 196.1px,#00dcff 197.4px,#0ff 198.9px,#17ffe8 199.9px,#4fffb0 203.3px,#5affa5 204.1px,#83ff7c 207.5px,#7aff85 208.3px,#59ffa6 210.8px,#48ffb7 211.6px,#18ffe7 214.1px,#02fffd 214.6px,#0ff 214.7px,#00a6ff 216.6px,#0097ff 217px,#0032ff 219.2px,#0018ff 221.7px,#0035ff 222.5px,#0075ff 224.2px,#00a2ff 225px,#00f0ff 226.3px,#0ff 226.5px,#23ffdc 227px,#89ff76 228.3px,#9bff64 228.7px,#f4ff0b 230.4px,#ff0 230.7px,#ffdc00 232px,#ffcf00 232.5px,#ff9200 234.2px,#ff8000 234.7px,#ff0500 236.7px,#f00 237px,#d10000 239.2px,#c80000 242.6px,#c50000 245.1px,#ce0000 246.7px,#e10000 250.1px,#e90000 250.9px,#f00 253.5px,#ff0700 254.3px,#ff0e00 255.1px,#ff2900 258.4px,#ff2b00 259.3px,#f30 262.6px,#ff3600 263.5px,#ff3a00 266px,#f40 266.8px,#ff5a00 268.5px,#ff6a00 271px,#ff6f00 271.8px,#ff7b00 275.2px,#ff6e00 278.5px,#ff5400 281px,#f00 282.5px,#f40000 282.7px,#c60000 283.5px,#800000 284.9px,#800000 311.6px)"></i><i style="height:8.25px;background:linear-gradient(90deg,#800000 0px,#800000 12.7px,#840000 13.5px,#ae0000 13.6px,#f00 13.9px,#ff8200 14.4px,#ff9700 14.6px,#ff0 15.4px,#feff01 15.4px,#adff52 16.6px,#80ff7f 17.2px,#53ffac 19.1px,#41ffbe 20px,#25ffda 22.4px,#1cffe3 23.2px,#39ffc6 25.6px,#42ffbd 26.4px,#71ff8e 28.9px,#81ff7e 29.7px,#a6ff59 32.1px,#b2ff4d 32.9px,#d7ff28 36.2px,#feff01 38.9px,#ff0 39px,#ffe700 40.2px,#ffce00 41.5px,#ffc700 42.6px,#ffc100 43.8px,#ffe000 45.1px,#fff400 45.9px,#ff0 46.3px,#d9ff26 47.5px,#caff35 48px,#8f7 49.9px,#7dff82 50.3px,#48ffb7 52.4px,#3cffc3 52.9px,#25ffda 54.5px,#16ffe9 55.6px,#27ffd8 56.8px,#3cffc3 58px,#57ffa8 58.9px,#7cff83 60px,#90ff6f 60.5px,#bdff42 61.6px,#d1ff2e 62.1px,#feff01 63.2px,#ff0 63.3px,#fff300 63.7px,#fc0 65.3px,#fc0 67.5px,#ffd500 67.8px,#ff0 69.4px,#ff0 69.4px,#f8ff07 69.7px,#d9ff26 71px,#d1ff2e 71.3px,#b2ff4d 72.6px,#a6ff59 72.7px,#80ff7f 73.6px,#6f9 74.3px,#0ff 76.9px,#0ff 76.9px,#00e6ff 77.5px,#0080ff 80.1px,#006cff 81.4px,#004dff 83.4px,#0083ff 85.6px,#009aff 86.6px,#00e1ff 88.9px,#0ff 89.8px,#01fffe 89.8px,#40ffbf 93.7px,#0ff 97.6px,#0ff 97.6px,#00ebff 98.6px,#00a6ff 101.8px,#007fff 103.5px,#0040ff 106px,#0060ff 107.3px,#0080ff 108.6px,#0ff 109.9px,#0ff 109.9px,#40ffbf 110.6px,#ff0 111.2px,#ff4200 111.9px,#f00 112.1px,#810000 112.5px,#800000 113.2px,#800000 140.1px,#820000 141.4px,#820000 144px,#f00 144.3px,#ff0 145px,#feff01 145px,#feff01 148.8px,#ff0 148.9px,#ffeb00 150.5px,#ffdf00 151.4px,#ffb400 151.4px,#ffa900 153.1px,#ff9b00 154.8px,#ff8500 158.1px,#ff9b00 161.5px,#ffad00 163.2px,#ffe000 164.8px,#fffa00 165.7px,#ff0 165.8px,#bf4 167.7px,#adff52 168.2px,#6eff91 169.8px,#52ffad 170.7px,#25ffda 172.3px,#18ffe7 173.2px,#0ff 174.2px,#00dfff 175.7px,#0ff 177.1px,#18ffe7 178.2px,#2affd5 179px,#52ffad 180.7px,#83ff7c 183.2px,#90ff6f 184px,#a7ff58 187.4px,#a2ff5d 190.7px,#93ff6c 191.6px,#76ff89 193.2px,#57ffa8 195.2px,#50ffaf 195.7px,#37ffc8 197.4px,#5effa1 199.9px,#7eff81 203.3px,#84ff7b 204.1px,#8fff70 207.5px,#85ff7a 208.3px,#58ffa7 210.8px,#45ffba 211.6px,#13ffec 214.1px,#01fffe 214.6px,#0ff 214.7px,#00a7ff 216.6px,#0098ff 217px,#002dff 219.2px,#0013ff 221.7px,#02f 222.5px,#0053ff 224.2px,#0074ff 225px,#00c2ff 226.3px,#00efff 227px,#0ff 227.2px,#56ffa9 228.3px,#6bff94 228.7px,#d3ff2c 230.4px,#ff0 231.5px,#ffe900 232px,#ffd800 232.5px,#ff9500 234.2px,#ff8200 234.7px,#ff1600 236.7px,#f00 237.8px,#e20000 239.2px,#d30000 242.6px,#d70000 245.1px,#e00000 246.7px,#fb0000 250.1px,#f00 250.4px,#ff0500 250.9px,#ff1b00 254.3px,#ff2000 255.1px,#ff3100 258.4px,#f30 259.3px,#ff3400 262.6px,#ff3500 263.5px,#ff2a00 266px,#ff2b00 266.8px,#ff3500 268.5px,#ff3900 271px,#ff3d00 271.8px,#f40 275.2px,#ff3700 278.5px,#ff1e00 281px,#f00 281.7px,#d10000 282.7px,#ac0000 283.5px,#800000 284.9px,#800000 311.6px)"></i><i style="height:8.25px;background:linear-gradient(90deg,#800000 0px,#800000 13.5px,#f00 14.1px,#ff4200 14.4px,#ff5300 14.6px,#ffd600 15.4px,#ffe900 15.6px,#ff0 15.8px,#c1ff3e 16.6px,#92ff6d 17.2px,#6eff91 18.2px,#3effc1 20px,#2fffd0 20.8px,#15ffea 23.2px,#1bffe4 24px,#3fc 26.4px,#40ffbf 27.2px,#6dff92 29.7px,#7aff85 30.5px,#a2ff5d 32.9px,#aeff51 33.7px,#cdff32 36.2px,#d8ff27 37px,#f2ff0d 38.9px,#ff0 39.6px,#fff500 40.2px,#ffde00 41.5px,#ffd600 42.6px,#ffd400 43.8px,#fff000 45.1px,#ff0 45.8px,#fcff03 45.9px,#d1ff2e 47.5px,#c5ff3a 48px,#8eff71 49.9px,#85ff7a 50.3px,#50ffaf 52.9px,#4cffb3 53.2px,#37ffc8 55.6px,#42ffbd 56.4px,#5affa5 58px,#7fff80 59.3px,#91ff6e 60px,#c5ff3a 61.6px,#fdff02 63.2px,#ff0 63.3px,#fff600 63.7px,#ffd400 65.3px,#ffd200 65.8px,#ffd500 67.5px,#ffdc00 67.8px,#ff0 69.3px,#fdff02 69.4px,#f6ff09 69.7px,#d8ff27 71px,#d0ff2f 71.3px,#b3ff4c 72.6px,#97ff68 72.7px,#71ff8e 73.6px,#18ffe7 75.9px,#0ff 76.5px,#00f0ff 76.9px,#0097ff 79.1px,#0078ff 80.1px,#0051ff 82.4px,#004fff 83.4px,#0081ff 85.6px,#009eff 86.6px,#00ecff 88.9px,#0ff 89.6px,#06fff9 89.8px,#2bffd4 92.1px,#31ffce 93.7px,#17ffe8 95.3px,#0ff 96.7px,#00efff 97.6px,#00c8ff 99.6px,#009fff 101.8px,#007fff 103.5px,#0060ff 106px,#006cff 106.7px,#00abff 108.6px,#00c4ff 109px,#0ff 109.3px,#d7ff28 110.6px,#ff0 110.7px,#ff6c00 111.2px,#f00 111.8px,#800000 112.5px,#800000 144px,#f00 144.5px,#ff6c00 145px,#ff6c00 148.8px,#ff9700 149.5px,#ff7d00 151.4px,#ff4b00 151.4px,#ff4700 153.1px,#ff3c00 154.8px,#ff2900 158.1px,#ff3c00 161.5px,#ff4800 163.2px,#ff8f00 164.8px,#ffb300 165.7px,#ff0 167.1px,#e3ff1c 167.7px,#cfff30 168.2px,#87ff78 169.8px,#6aff95 170.7px,#35ffca 172.3px,#29ffd6 173.2px,#01fffe 175.7px,#29ffd6 178.2px,#37ffc8 179px,#56ffa9 180.7px,#81ff7e 183.2px,#89ff76 184px,#9fff60 187.4px,#a9ff56 190.7px,#a5ff5a 191.6px,#9fff60 193.2px,#9aff65 195.2px,#98ff67 195.7px,#91ff6e 197.4px,#a6ff59 199.9px,#adff52 203.3px,#aeff51 204.1px,#9bff64 207.5px,#91ff6e 208.3px,#57ffa8 210.8px,#42ffbd 211.6px,#0efff1 214.1px,#01fffe 214.6px,#0ff 214.7px,#00a7ff 216.6px,#0098ff 217px,#0029ff 219.2px,#000dff 221.7px,#000eff 222.5px,#0032ff 224.2px,#0047ff 225px,#0094ff 226.3px,#00bdff 227px,#0ff 227.9px,#24ffdb 228.3px,#3cffc3 228.7px,#b1ff4e 230.4px,#ff0 231.8px,#fff600 232px,#ffe100 232.5px,#ff9700 234.2px,#ff8300 234.7px,#ff2700 236.7px,#f00 238.6px,#f30000 239.2px,#de0000 242.6px,#e80000 245.1px,#f20000 246.7px,#f00 248px,#ff1600 250.1px,#ff2000 250.9px,#ff2f00 254.3px,#f30 255.1px,#ff3a00 258.4px,#ff3a00 259.3px,#ff3500 262.6px,#ff3400 263.5px,#ff1900 266px,#ff1200 266.8px,#ff1000 268.5px,#ff0900 271px,#ff0b00 271.8px,#ff0e00 275.2px,#ff0100 278.5px,#f00 278.6px,#e60000 281px,#ae0000 282.7px,#920000 283.5px,#800000 284.9px,#800000 311.6px)"></i><i style="height:8.25px;background:linear-gradient(90deg,#800000 0px,#800000 13.5px,#f00 14.4px,#ff0200 14.4px,#ff0c00 14.6px,#ffab00 15.4px,#ffc600 15.6px,#ff0 16.1px,#d6ff29 16.6px,#a5ff5a 17.2px,#74ff8b 18.2px,#3dffc2 20px,#28ffd7 20.8px,#10ffef 23.2px,#12ffed 24px,#25ffda 26.4px,#2fffd0 27.2px,#5affa5 29.7px,#6f9 30.5px,#91ff6e 32.9px,#9eff61 33.7px,#c0ff3f 36.2px,#cf3 37px,#e5ff1a 38.9px,#f9ff06 40.2px,#ff0 40.6px,#fff100 41.5px,#ffe800 42.6px,#ffeb00 43.8px,#ff0 44.9px,#fcff03 45.1px,#ecff13 45.9px,#c7ff38 47.5px,#bdff42 48px,#92ff6d 49.9px,#8bff74 50.3px,#61ff9e 52.9px,#5dffa2 53.2px,#5fa 55.6px,#5fffa0 56.4px,#76ff89 58px,#94ff6b 59.3px,#a3ff5c 60px,#cf3 61.6px,#fbff04 63.2px,#ff0 63.4px,#fff900 63.7px,#ffdc00 65.3px,#ffd900 65.8px,#ffde00 67.5px,#ffe300 67.8px,#ff0 69.2px,#fbff04 69.4px,#f5ff0a 69.7px,#d6ff29 71px,#cfff30 71.3px,#b3ff4c 72.6px,#8f7 72.7px,#62ff9d 73.6px,#09fff6 75.9px,#0ff 76.1px,#00e1ff 76.9px,#08f 79.1px,#0071ff 80.1px,#0046ff 82.4px,#0051ff 83.4px,#0080ff 85.6px,#00a3ff 86.6px,#00f8ff 88.9px,#0ff 89.2px,#0cfff3 89.8px,#30ffcf 92.1px,#2fd 93.7px,#08fff7 95.3px,#0ff 95.8px,#00dfff 97.6px,#00baff 99.6px,#09f 101.8px,#007fff 103.5px,#0081ff 106px,#0089ff 106.7px,#00d7ff 108.6px,#00eaff 109px,#0ff 109.1px,#ff0 110.1px,#ff8e00 110.6px,#f00 111.1px,#d50000 111.2px,#800000 112.5px,#800000 144px,#d50000 145px,#d50000 148.8px,#f00 149.1px,#ff3700 149.5px,#ff1b00 151.4px,#f00 151.4px,#f30000 151.4px,#f30000 153.1px,#dc0000 158.1px,#f30000 163.2px,#f00 163.4px,#ff6800 165.7px,#ffdb00 167.7px,#fff100 168.2px,#ff0 168.5px,#cf3 169.5px,#bdff42 169.8px,#84ff7b 171.5px,#63ff9c 172.3px,#5fa 173.2px,#3affc5 174.9px,#2fffd0 175.7px,#37ffc8 176.9px,#4bffb4 179px,#51ffae 179.5px,#84ff7b 183.2px,#9eff61 187.4px,#b6ff49 191.6px,#bf4 192.4px,#cfff30 195.7px,#d4ff2b 197.4px,#dcff23 199.9px,#d8ff27 201.6px,#cfff30 204.1px,#bf4 205.8px,#9aff65 208.3px,#85ff7a 209.1px,#41ffbe 211.6px,#39ffc6 212px,#0ff 214.6px,#0ff 214.6px,#09f 217px,#0026ff 219.2px,#00f 222.5px,#0026ff 225px,#09f 227px,#0ff 228.3px,#1affe5 228.7px,#9f6 230.4px,#ff0 232px,#f90 234.2px,#ff3800 236.7px,#ff0b00 239.2px,#ff0600 240px,#f00 241.1px,#f70000 242.6px,#f00 243.8px,#ff0300 244.2px,#ff1200 246.7px,#ff2600 248.4px,#ff4200 250.9px,#ff4700 252.6px,#ff4d00 255.1px,#ff4d00 256.8px,#ff4a00 259.3px,#ff4300 260.9px,#ff3900 263.5px,#ff2c00 264.3px,#ff0100 266.8px,#f00 266.9px,#fd0000 267.1px,#e50000 271px,#e50000 275.2px,#d80000 278.5px,#bc0000 281px,#930000 282.7px,#800000 283.5px,#800000 311.6px)"></i><i style="height:8.25px;background:linear-gradient(90deg,#800000 0px,#800000 13.5px,#c00000 14.4px,#c50000 14.6px,#f00 14.9px,#ff8000 15.4px,#ffa200 15.6px,#ff0 16.4px,#ebff14 16.6px,#b9ff46 17.2px,#7aff85 18.2px,#3bffc4 20px,#21ffde 20.8px,#0bfff4 23.2px,#09fff6 24px,#17ffe8 26.4px,#1effe1 27.2px,#46ffb9 29.7px,#53ffac 30.5px,#80ff7f 32.9px,#8fff70 33.7px,#b3ff4c 36.2px,#bfff40 37px,#d7ff28 38.9px,#e9ff16 40.2px,#f9ff06 41.5px,#ff0 42.1px,#fffa00 42.6px,#ff0 43.4px,#fdff02 43.8px,#ebff14 45.1px,#dcff23 45.9px,#bdff42 47.5px,#b5ff4a 48px,#95ff6a 49.9px,#91ff6e 50.3px,#71ff8e 52.9px,#6eff91 53.2px,#74ff8b 55.6px,#7cff83 56.4px,#92ff6d 58px,#af5 59.3px,#b5ff4a 60px,#d2ff2d 61.6px,#f8ff07 63.2px,#ff0 63.6px,#fffc00 63.7px,#ffe300 65.3px,#ffdf00 65.8px,#ffe700 67.5px,#ffeb00 67.8px,#ff0 69px,#f9ff06 69.4px,#f4ff0b 69.7px,#d5ff2a 71px,#cdff32 71.3px,#b3ff4c 72.6px,#80ff7f 72.7px,#03fffc 75.9px,#0ff 76px,#08f 79.1px,#004eff 82.4px,#008bff 85.6px,#0ff 88.9px,#0ff 88.9px,#2dffd2 92.1px,#02fffd 95.3px,#0ff 95.5px,#00e8ff 97px,#00bcff 99.6px,#00abff 100.9px,#008dff 103.5px,#0095ff 105.1px,#00a9ff 106.7px,#00d1ff 107.7px,#0ff 108.1px,#50ffaf 109px,#ff0 109.6px,#ff9d00 109.9px,#f00 110.7px,#800000 111.2px,#800000 148.8px,#e30000 149.5px,#cd0000 151.4px,#c90000 151.4px,#c90000 153.1px,#ba0000 158.1px,#c90000 163.2px,#f00 165px,#ff1400 165.7px,#ff3100 166.4px,#ff8000 166.4px,#ff8000 168px,#ff0 169.5px,#bfff40 172.5px,#9f6 178.6px,#9f6 186.2px,#b3ff4c 193.8px,#cf3 201.4px,#80ff80 207.5px,#1affe5 212px,#0ff 212.7px,#00a6ff 215.1px,#0019ff 217.4px,#0019ff 223.4px,#09f 225px,#0ff 226.2px,#1affe5 226.5px,#9f6 228px,#ff0 229.5px,#f90 231.5px,#ff8000 234.8px,#f60 239.4px,#ff8000 245.5px,#f90 251.6px,#ff8000 257.6px,#f60 262.2px,#f30 266px,#f00 269px,#f20000 275.9px,#f00 280.4px,#d90000 282.7px,#800000 284.7px,#800000 311.6px)"></i><i style="height:8.25px;background:linear-gradient(90deg,#800000 0px,#800000 14.6px,#f00 15.1px,#ff8000 15.6px,#ff0 16.6px,#80ff80 18.2px,#1affe5 20.8px,#0ff 24px,#0dfff2 27.2px,#40ffbf 30.5px,#80ff80 33.7px,#b3ff4c 37px,#d9ff26 40.2px,#f2ff0d 42.6px,#d9ff26 45.1px,#b3ff4c 47.5px,#9f6 49.9px,#80ff80 53.2px,#9f6 56.4px,#bfff40 59.3px,#d9ff26 61.6px,#ff0 63.7px,#ffe500 65.8px,#fff200 67.8px,#ff0 68.7px,#f2ff0d 69.7px,#cf3 71.3px,#b3ff4c 72.6px,#80ff7f 72.7px,#09fff6 75.9px,#0ff 76.2px,#009bff 79.1px,#006eff 82.4px,#00a5ff 85.6px,#0ff 88.9px,#20ffdf 92.1px,#06fff9 95.3px,#0ff 96.1px,#00f7ff 97px,#00d1ff 99.6px,#00c0ff 100.9px,#00acff 103.5px,#00a8ff 105.1px,#00ceff 106.7px,#00efff 107.7px,#0ff 107.7px,#ff0 108.9px,#fff500 109px,#f00 109.8px,#e30000 109.9px,#800000 111.2px,#800000 148.8px,#a20000 149.5px,#9a0000 151.4px,#9f0000 151.4px,#9f0000 153.1px,#900 158.1px,#9f0000 163.2px,#bf0000 165.7px,#cb0000 166.4px,#810000 166.4px,#810000 169.5px,#f00 170.2px,#ff0100 170.2px,#ff8000 171.8px,#ffc000 172.5px,#ff0 173.3px,#ff0 173.3px,#cf3 175.6px,#bfff40 178.6px,#b2ff4d 181.6px,#b2ff4d 189.2px,#c2ff3d 193.8px,#cf3 196.8px,#cf3 202.9px,#8aff75 207.5px,#7fff80 208.2px,#1affe5 212px,#0ff 212.7px,#00a6ff 214.8px,#0092ff 215.1px,#001aff 216.9px,#0019ff 217.4px,#0019ff 223px,#0039ff 223.4px,#09f 224.8px,#00a6ff 225px,#0ff 226px,#19ffe6 226.3px,#26ffd9 226.5px,#9f6 227.8px,#a3ff5c 228px,#ff0 229.4px,#ff0 229.4px,#fff700 229.5px,#f90 231.2px,#ff9600 231.5px,#ff8000 234.1px,#ff8200 234.8px,#ff8c00 237.9px,#f90 239.4px,#ffb200 242.4px,#fb0 245.5px,#ffbf00 247px,#ffbf00 251.6px,#ffb200 256.1px,#fa0 257.6px,#f90 260.7px,#ff8400 262.2px,#f60 264.5px,#ff4000 266px,#ff1a00 267.5px,#ff1200 269px,#f00 272.8px,#f00 278.9px,#f50000 280.4px,#e50000 282.7px,#8d0000 284.7px,#800000 285px,#800000 311.6px)"></i><i style="height:8.25px;background:linear-gradient(90deg,#800000 0px,#800000 15.3px,#ad0000 15.9px,#f00 16.2px,#ff5600 16.6px,#ffe100 17.2px,#ff0 17.7px,#c8ff37 18.5px,#a1ff5e 19.1px,#4effb1 21.1px,#20ffdf 22.4px,#0ff 24.9px,#00feff 25px,#00faff 26.3px,#0ff 26.8px,#16ffe9 28.9px,#2fffd0 30.5px,#57ffa8 33.7px,#6dff92 35.4px,#9bff64 38.6px,#acff53 40.2px,#b7ff48 43.5px,#b7ff48 45.1px,#9bff64 48.3px,#8aff75 50px,#73ff8c 53.2px,#73ff8c 54.8px,#95ff6a 58.1px,#afff50 59.7px,#e9ff16 62.9px,#f2ff0d 64.5px,#ef1 66.2px,#df2 68.4px,#9cff63 71px,#73ff8c 72.6px,#1fe 75.9px,#0ff 76.6px,#00c0ff 79.1px,#00b5ff 80.1px,#00a9ff 82.4px,#00bdff 84px,#00d1ff 85.6px,#0ff 88.3px,#09fff6 88.9px,#1affe5 92.1px,#14ffeb 93.7px,#03fffc 97px,#0ff 97.3px,#00f1ff 98.6px,#00f6ff 100.9px,#0ff 102.1px,#05fffa 102.8px,#23ffdc 105.1px,#2fffd0 105.4px,#81ff7e 107.3px,#9aff65 107.7px,#ff0 108.1px,#ff3100 109px,#f00 109.2px,#800000 109.9px,#800000 171.8px,#f00 172.8px,#f00 172.8px,#ff7f00 174.4px,#ff9e00 174.8px,#ffe500 175.9px,#ff0 177px,#f5ff0a 177.4px,#d9ff26 178.6px,#d6ff29 180.1px,#cf3 184.7px,#d6ff29 190.8px,#d9ff26 192.3px,#ecff13 196.8px,#f2ff0d 198.4px,#daff25 202.2px,#cf3 204.4px,#adff52 206.3px,#80ff7f 209px,#68ff97 209.8px,#1affe5 212.3px,#0ff 212.8px,#00a9ff 214.5px,#09f 214.8px,#0024ff 216.3px,#000dff 216.6px,#000dff 223px,#006aff 224.2px,#09f 224.8px,#0ff 226px,#0ff 226px,#1affe5 226.3px,#8cff73 227.7px,#9f6 227.8px,#ff0 229.4px,#f90 231.2px,#ff8c00 234.1px,#ffaf00 237.6px,#ffb300 237.9px,#ffd100 240.9px,#ffd900 241.7px,#fff700 244.7px,#ff0 245.5px,#ff0 245.5px,#f5ff0a 248.5px,#f2ff0d 249.3px,#fcff03 252.3px,#ff0 253.1px,#ff0 253.1px,#ffe000 256.1px,#ffd900 256.9px,#ffba00 259.9px,#ffb300 260.7px,#ff8a00 263.7px,#ff8000 264.5px,#ff4600 266.8px,#f30 267.5px,#ff1600 270.6px,#f00 272.8px,#f00 278.9px,#f00000 281.2px,#e60000 282.7px,#c40000 283.5px,#800000 285px,#800000 311.6px)"></i><i style="height:8.25px;background:linear-gradient(90deg,#800000 0px,#800000 11px,#870000 12.7px,#8e0000 15.3px,#f00 15.9px,#ff8400 16.6px,#ffc300 17.5px,#ff0 18.5px,#fdff02 18.5px,#8fff70 20.8px,#7fff80 21.1px,#0cfff3 25px,#0ff 28.1px,#00fcff 28.9px,#0ff 29.2px,#2affd5 33.7px,#5bffa4 37px,#75ff8a 38.6px,#89ff76 41.8px,#91ff6e 43.5px,#83ff7c 46.7px,#7cff83 48.3px,#5effa1 51.6px,#4effb1 53.2px,#6fff90 56.4px,#80ff7f 58.1px,#d3ff2c 61.3px,#fbff04 62.9px,#e4ff1b 66.2px,#82ff7d 71px,#1fffe0 75.9px,#0ff 78.5px,#00ecff 80.1px,#00efff 80.8px,#0ff 83.4px,#03fffc 84px,#0bfff4 85.6px,#1affe5 88.9px,#1affe5 90.5px,#1bffe4 93.7px,#14ffeb 95.3px,#07fff8 98.6px,#24ffdb 99.6px,#87ff78 102.8px,#e8ff17 104.8px,#ff0 105.2px,#fff300 105.4px,#ff9a00 106.7px,#ff7100 107.3px,#f00 108.1px,#800000 109px,#800000 174.8px,#fe0000 175.9px,#f00 175.9px,#ff5000 177.1px,#ff6500 177.4px,#ff7600 178.3px,#ff9300 179.8px,#ff9800 180.1px,#ffb200 183.2px,#ffbf00 184.7px,#ffd200 187.7px,#ffe500 190.8px,#ffe800 192.3px,#fff100 196.1px,#fff200 196.8px,#ff0 199.5px,#fdff02 199.9px,#f2ff0d 202.2px,#e4ff1b 203.7px,#cf3 206.3px,#c2ff3d 206.7px,#89ff76 209.3px,#7fff80 209.8px,#31ffce 211.7px,#19ffe6 212.3px,#0ff 212.8px,#00bcff 213.9px,#0098ff 214.5px,#000dff 216.3px,#000dff 222.4px,#0053ff 223.3px,#09f 224.2px,#0ef 225.4px,#0ff 225.7px,#1affe5 226px,#76ff89 227.2px,#9f6 227.7px,#edff12 229.1px,#ff0 229.4px,#ff0 229.4px,#ffa100 231px,#f90 231.2px,#ff8c00 234.1px,#ffb900 237.1px,#ffbf00 237.6px,#ffe700 240.2px,#fff200 240.9px,#ff0 241.9px,#edff12 243.2px,#d9ff26 244.7px,#d1ff2e 247px,#cf3 248.5px,#d3ff2c 250.8px,#d9ff26 252.3px,#f0ff0f 254.6px,#ff0 256.1px,#ff0 256.1px,#ffe100 258.4px,#fc0 259.9px,#ffad00 262.2px,#f90 263.7px,#ff7300 266px,#f60 266.8px,#ff3e00 269.8px,#f30 270.6px,#ff1800 274.4px,#ff0d00 275.9px,#ff0600 278.9px,#f00 281.2px,#f00 281.2px,#e00 282.7px,#e60000 283.5px,#800000 285.3px,#800000 311.6px)"></i><i style="height:8.25px;background:linear-gradient(90deg,#800000 0px,#800000 11px,#b50000 12.7px,#ea0000 15.3px,#f00 15.4px,#ff9e00 16.6px,#ffda00 17.5px,#ff0 18.2px,#efff10 18.5px,#89ff76 20.8px,#7bff84 21.1px,#07fff8 25px,#0ff 26px,#00eaff 28.9px,#00edff 33.7px,#0ff 35.4px,#1fe 37px,#2effd1 38.6px,#54ffab 41.8px,#60ff9f 43.5px,#64ff9b 46.7px,#67ff98 48.3px,#61ff9e 51.6px,#5bffa4 53.2px,#76ff89 56.4px,#87ff78 58.1px,#c6ff39 61.3px,#e3ff1c 62.9px,#dbff24 66.2px,#95ff6a 71px,#4fb 75.9px,#14ffeb 80.1px,#14ffeb 80.8px,#19ffe6 84px,#1affe5 85.6px,#1dffe2 88.9px,#1affe5 90.5px,#28ffd7 93.7px,#2affd5 95.3px,#39ffc6 98.6px,#51ffae 99.6px,#b5ff4a 102.8px,#ff0 104.1px,#ffdc00 104.8px,#ffa600 105.4px,#ff2d00 106.7px,#ff1500 107.3px,#f00 107.6px,#800000 109px,#800000 175.9px,#810000 177.1px,#a10000 177.4px,#f00 178.3px,#ff0100 178.3px,#ff3400 179.8px,#ff3800 180.1px,#ff6700 183.2px,#ff7800 184.7px,#f90 187.7px,#ffb300 190.8px,#ffc000 192.3px,#ffe600 196.1px,#ffeb00 196.8px,#ff0 199.9px,#ff0 199.9px,#e8ff17 202.2px,#d9ff26 203.7px,#a3ff5c 206.3px,#9f6 206.7px,#1affe5 209.3px,#03fffc 209.8px,#0ff 209.8px,#009aff 211.7px,#0072ff 212.3px,#000eff 213.9px,#000eff 214.5px,#000dff 216.3px,#000dff 221.2px,#005cff 222.4px,#0098ff 223.3px,#00cfff 224.2px,#0ff 225px,#19ffe6 225.4px,#4fb 226px,#9f6 227.2px,#b2ff4d 227.7px,#ff0 229.1px,#ff0 229.1px,#ffef00 229.4px,#f90 231px,#f90 234.1px,#ffbf00 237.1px,#ffc900 237.6px,#ff0 240.2px,#ff0 240.2px,#f2ff0d 240.9px,#cf3 243.2px,#c2ff3d 244.7px,#b3ff4c 247px,#b3ff4c 250.8px,#bdff42 252.3px,#cf3 254.6px,#e1ff1e 256.1px,#ff0 258.4px,#ff0 258.4px,#ffe500 259.9px,#ffbf00 262.2px,#ffb000 263.7px,#f90 266px,#ff9400 266.8px,#ff7f00 269.8px,#ff7b00 270.6px,#ff6500 274.4px,#ff6500 278.9px,#ff4700 281.2px,#ff3200 282.7px,#f00 283.4px,#fd0000 283.5px,#800000 285.3px,#800000 311.6px)"></i><i style="height:8.25px;background:linear-gradient(90deg,#800000 0px,#800000 11px,#e30000 12.7px,#f00 13.4px,#ff4800 15.3px,#ffb800 16.6px,#fff100 17.5px,#ff0 17.8px,#e1ff1e 18.5px,#83ff7c 20.8px,#78ff87 21.1px,#03fffc 25px,#0ff 25.2px,#00d7ff 28.9px,#00b0ff 33.7px,#00c5ff 37px,#00e6ff 38.6px,#0ff 40.1px,#1fffe0 41.8px,#2fffd0 43.5px,#46ffb9 46.7px,#51ffae 48.3px,#64ff9b 51.6px,#67ff98 53.2px,#7cff83 56.4px,#8dff72 58.1px,#baff45 61.3px,#caff35 62.9px,#d2ff2d 66.2px,#a7ff58 71px,#69ff96 75.9px,#3cffc3 80.1px,#37ffc8 80.8px,#2fffd0 84px,#2affd5 85.6px,#20ffdf 88.9px,#1affe5 90.5px,#34ffcb 93.7px,#40ffbf 95.3px,#6aff95 98.6px,#7eff81 99.6px,#e3ff1c 102.8px,#ff0 103.3px,#ffa200 104.8px,#ff5900 105.4px,#f00 106.2px,#c00000 106.7px,#b70000 107.3px,#800000 109px,#800000 180.9px,#e60000 182px,#fa0000 183.2px,#f00 183.5px,#f00 183.5px,#f30 186.2px,#ff4800 187.7px,#f60 190px,#ff8c00 192.3px,#f90 193px,#fc0 196.1px,#ff0 199.1px,#ff0 199.1px,#f2ff0d 199.9px,#cf3 202.2px,#9fff60 203.7px,#80ff7f 204.7px,#2dffd2 206.7px,#1affe5 207.2px,#0ff 207.6px,#00a2ff 209.3px,#09f 209.5px,#001aff 211.7px,#0019ff 213.9px,#0019ff 219.6px,#006eff 221.2px,#09f 221.9px,#00e5ff 223.3px,#0ff 223.7px,#19ffe6 224.2px,#5dffa2 225.4px,#9f6 226.5px,#bf4 227.2px,#ff0 228.8px,#ff0 228.8px,#fff800 229.1px,#fc0 231px,#ffbf00 234.1px,#ffe500 237.1px,#ff0 238.3px,#d9ff26 240.2px,#9f6 243.2px,#59ffa6 247px,#59ffa6 250.8px,#80ff7f 254.6px,#b3ff4c 258.4px,#d9ff26 262.2px,#ff0 266px,#ff0 266px,#ffe500 269.8px,#fc0 274.4px,#ffb200 278.9px,#ff7f00 282.3px,#ff5900 282.7px,#f00 283.8px,#f00 283.8px,#9d0000 285.3px,#800000 285.8px,#800000 311.6px)"></i><i style="height:8.25px;background:linear-gradient(90deg,#800000 0px,#800000 6.2px,#8d0000 7.8px,#950000 11px,#f00 12.5px,#ff0b00 12.7px,#ff5800 14.3px,#ff8900 15.3px,#ffd200 16.6px,#ff0 17.4px,#f8ff07 17.5px,#9fff60 19.8px,#7bff84 20.8px,#1dffe2 24px,#03fffc 25px,#0ff 25.3px,#00d5ff 28.9px,#0097ff 33.7px,#00a7ff 37px,#00c7ff 38.6px,#0ff 41.8px,#1cffe3 45.1px,#2dffd2 46.7px,#4fffb0 50px,#60ff9f 51.6px,#74ff8b 54.8px,#7dff82 56.4px,#9cff63 59.7px,#adff52 61.3px,#c1ff3e 64.5px,#caff35 66.2px,#c0ff3f 69.4px,#bf4 71px,#a3ff5c 74.3px,#96ff69 75.9px,#7bff84 79.1px,#69ff96 80.8px,#5dffa2 82.4px,#48ffb7 85.6px,#3dffc2 87.2px,#2cffd3 90.5px,#39ffc6 92.1px,#60ff9f 95.3px,#9cff63 98.6px,#b4ff4b 99.6px,#e2ff1d 100.9px,#ff0 101.6px,#ffd400 102.8px,#f60 104.4px,#ff5400 104.8px,#f00 105.5px,#800000 106.7px,#800000 184.7px,#e50000 185.9px,#f00 187.7px,#f00 187.7px,#ff1400 188.9px,#f30 190.8px,#ff7800 193.5px,#ff7f00 193.8px,#ffd500 196.1px,#ffe600 196.5px,#ff0 197.6px,#ebff14 198.4px,#d9ff26 199.1px,#a8ff57 201.1px,#9f6 201.7px,#3dffc2 203.7px,#19ffe6 204.4px,#0ff 205px,#0cf 206.3px,#00a6ff 207.2px,#0067ff 209px,#004dff 209.8px,#004dff 218.9px,#009aff 220.9px,#00a6ff 221.2px,#0ff 223.3px,#19ffe6 223.9px,#9f6 226.5px,#a4ff5b 226.9px,#d9ff26 229.1px,#e5ff1a 230px,#ff0 231.8px,#ff0 231.8px,#fffa00 233px,#fff200 234.8px,#ff0 235.6px,#f7ff08 236.1px,#d9ff26 237.9px,#bfff40 239.1px,#9f6 240.9px,#75ff8a 242.1px,#40ffbf 244px,#30ffcf 245.5px,#19ffe6 247.8px,#12ffed 250px,#0dfff2 251.6px,#26ffd9 254.6px,#3fc 256.1px,#4cffb3 259.2px,#59ffa6 260.7px,#73ff8c 263.7px,#7fff80 265.2px,#90ff6f 268.3px,#9f6 269.8px,#af5 272.8px,#b2ff4d 274.4px,#c9ff36 276.6px,#d8ff27 278.2px,#ebff14 279.7px,#ff0 281.2px,#ff0 281.2px,#ffce00 282px,#ff8000 283.2px,#f60 283.5px,#f00 284.7px,#f00 284.7px,#800000 286.5px,#800000 311.6px)"></i><i style="height:8.25px;background:linear-gradient(90deg,#800000 0px,#800000 6.2px,#ad0000 7.8px,#cb0000 11px,#f00 12px,#ff2600 12.7px,#ff6c00 14.3px,#ffa000 15.3px,#ffe900 16.6px,#ff0 17px,#e8ff17 17.5px,#8fff70 19.8px,#72ff8d 20.8px,#1bffe4 24px,#0cfff3 25px,#0ff 26.4px,#00eaff 28.9px,#00b2ff 33.7px,#00cbff 37px,#00e3ff 38.6px,#0ff 41.8px,#0efff1 45.1px,#1fffe0 46.7px,#41ffbe 50px,#52ffad 51.6px,#6dff92 54.8px,#75ff8a 56.4px,#8dff72 59.7px,#9eff61 61.3px,#b9ff46 64.5px,#c4ff3b 66.2px,#cdff32 69.4px,#d1ff2e 71px,#d2ff2d 74.3px,#ceff31 75.9px,#c5ff3a 79.1px,#afff50 80.8px,#9cff63 82.4px,#7cff83 85.6px,#6cff93 87.2px,#5bffa4 90.5px,#5dffa2 92.1px,#91ff6e 95.3px,#ceff31 98.6px,#f6ff09 99.6px,#ff0 99.8px,#fc0 100.9px,#ff6800 102.8px,#f00 104.2px,#f00000 104.4px,#e70000 104.8px,#800000 106.7px,#800000 184.7px,#810000 185.9px,#810000 187.7px,#e60000 188.9px,#f00 190.7px,#ff0100 190.8px,#f60 193.5px,#ff7500 193.8px,#ffe500 196.1px,#fff200 196.5px,#ff0 197px,#d9ff26 198.4px,#c7ff38 199.1px,#9f6 201.1px,#7bff84 201.7px,#1affe5 203.7px,#0ff 204.3px,#00fbff 204.4px,#00b3ff 206.3px,#00a2ff 207.2px,#007fff 209px,#007fff 218.1px,#0098ff 218.9px,#00d8ff 220.9px,#00dfff 221.2px,#0ff 222.7px,#1affe5 223.9px,#86ff79 226.5px,#9f6 226.9px,#c6ff39 229.1px,#d9ff26 230px,#f0ff0f 231.8px,#ff0 233px,#ff0 233px,#e8ff17 234.8px,#d9ff26 236.1px,#b3ff4c 237.9px,#9f6 239.1px,#64ff9b 240.9px,#40ffbf 242.1px,#24ffdb 244px,#0dfff2 245.5px,#07fff8 247.8px,#0ff 250px,#04fffb 251.6px,#0dfff2 254.6px,#1affe5 256.1px,#3fc 259.2px,#38ffc7 260.7px,#40ffbf 263.7px,#49ffb6 265.2px,#5affa5 268.3px,#51ffae 269.8px,#41ffbe 272.8px,#32ffcd 274.4px,#1bffe4 276.6px,#2effd1 278.2px,#42ffbd 279.7px,#7dff82 281.2px,#9bff64 282px,#ecff13 283.2px,#ff0 283.4px,#fffd00 283.5px,#ff7e00 284.7px,#f00 285.6px,#800000 286.5px,#800000 311.6px)"></i><i style="height:8.25px;background:linear-gradient(90deg,#830000 0px,#830000 2.9px,#840000 6.2px,#cf0000 7.8px,#f00 10.8px,#ff0300 11px,#ff8100 14.3px,#ffb700 15.3px,#ff0 16.6px,#b3ff4c 18.5px,#81ff7e 19.8px,#43ffbc 22.4px,#1cffe3 24px,#0bfff4 27.3px,#03fffc 28.9px,#0ff 29.1px,#00e0ff 32.1px,#00cfff 33.7px,#00efff 37px,#0ff 38.6px,#0ff 45.1px,#1fe 46.7px,#31ffce 50px,#41ffbe 51.6px,#63ff9c 54.8px,#6cff93 56.4px,#7eff81 59.7px,#8fff70 61.3px,#b1ff4e 64.5px,#beff41 66.2px,#d8ff27 69.4px,#e5ff1a 71px,#ff0 74.3px,#ff0 74.4px,#fffb00 75.9px,#fff100 79.1px,#ff0 80px,#daff25 82.4px,#a3ff5c 86.6px,#9aff65 87.2px,#89ff76 90.5px,#82ff7d 92.1px,#a2ff5d 93.7px,#c2ff3d 95.3px,#e3ff1c 97px,#ff0 98.3px,#fffa00 98.6px,#ffc400 99.6px,#ff7b00 100.9px,#ff3b00 101.8px,#f00 102.8px,#fc0000 102.8px,#800000 104.4px,#800000 190px,#db0000 190.8px,#f00 191.1px,#f00 191.1px,#f60 192.6px,#ffa100 193.5px,#ffe500 194.6px,#ff0 195.5px,#ef1 196.1px,#d9ff26 196.8px,#b9ff46 198.4px,#9f6 199.9px,#75ff8a 201.1px,#40ffbf 202.9px,#37ffc8 203.7px,#19ffe6 206.3px,#1fe 209px,#0cfff3 210.5px,#0cfff3 215.1px,#14ffeb 218.1px,#19ffe6 219.6px,#25ffda 220.9px,#40ffbf 223.4px,#4bffb4 223.9px,#9f6 226.9px,#d9ff26 230px,#ff0 233px,#d9ff26 236.1px,#9f6 239.1px,#5fffa0 242.1px,#59ffa6 242.4px,#45ffba 245.5px,#3fffc0 246.2px,#20ffdf 250px,#19ffe6 250.8px,#04fffb 254.6px,#0ff 255.4px,#0ff 255.4px,#00e0ff 259.2px,#00d9ff 259.9px,#00afff 263.7px,#00a7ff 264.5px,#0087ff 268.3px,#0081ff 269px,#0061ff 272.8px,#005aff 273.6px,#0079ff 276.6px,#0080ff 277.4px,#00caff 279.7px,#00d9ff 280.1px,#0ff 281.4px,#1fe 282px,#1affe5 282.3px,#80ff7f 283.5px,#9aff65 283.8px,#e6ff19 284.7px,#ff0 285px,#fffe00 285px,#f00 286.2px,#bf0000 286.5px,#800000 286.8px,#800000 311.6px)"></i><i style="height:8.25px;background:linear-gradient(90deg,#cb0000 0px,#cb0000 2.9px,#f00000 6.2px,#f00 6.7px,#ff1d00 7.8px,#ff4b00 11px,#ffae00 14.3px,#ffd200 15.3px,#ff0 16.6px,#c9ff36 18.5px,#a8ff57 19.8px,#75ff8a 22.4px,#60ff9f 24px,#4fffb0 27.3px,#4fb 28.9px,#27ffd8 32.1px,#13ffec 33.7px,#08fff7 37px,#0afff5 38.6px,#0ff 41.8px,#0ff 45.1px,#07fff8 46.7px,#06fff9 50px,#05fffa 51.6px,#2fd 54.8px,#2dffd2 56.4px,#52ffad 59.7px,#68ff97 61.3px,#8aff75 64.5px,#9aff65 66.2px,#c2ff3d 69.4px,#d6ff29 71px,#f5ff0a 74.3px,#ff0 75.7px,#fffd00 75.9px,#ffdc00 79.1px,#ff0 81.8px,#f7ff08 82.4px,#c2ff3d 86.6px,#bcff43 87.2px,#a9ff56 90.5px,#b8ff47 92.1px,#d8ff27 93.7px,#ff0 95px,#fff400 95.3px,#ffc100 97px,#ff8500 98.6px,#ff5200 99.6px,#ff0900 100.9px,#f00 101px,#ce0000 101.8px,#b40000 102.8px,#800000 104.4px,#800000 192.3px,#db0000 193px,#f00 193.3px,#f00 193.3px,#ff4700 194.1px,#ff7f00 194.7px,#ffa800 195.3px,#ffe500 196.2px,#fff500 196.8px,#ff0 197.2px,#d9ff26 198.7px,#c8ff37 199.6px,#9f6 202.2px,#8fff70 203.7px,#80ff7f 206px,#80ff7f 210.5px,#8cff73 212.8px,#9f6 215.1px,#a6ff59 217.4px,#b3ff4c 219.6px,#c7ff38 221.9px,#d9ff26 223.9px,#f1ff0e 226.5px,#ff0 228px,#ff0 228px,#ffeb00 231px,#ffe600 231.8px,#fffa00 234.8px,#ff0 235.6px,#ff0 235.6px,#d3ff2c 238.6px,#cf3 239.1px,#9f6 242.4px,#59ffa6 246.2px,#3fc 250px,#05fffa 253.8px,#0ff 254.3px,#0ff 254.3px,#00c1ff 257.6px,#00b2ff 258.4px,#007aff 261.4px,#06f 262.5px,#003cff 266px,#03f 266.8px,#000dff 271.3px,#000dff 275.9px,#0016ff 276.6px,#03f 278.9px,#0059ff 279.7px,#00a6ff 281.2px,#00c2ff 281.6px,#0ff 282.6px,#19ffe6 283px,#28ffd7 283.2px,#9f6 284.4px,#a8ff57 284.5px,#ff0 285.4px,#ff0 285.4px,#ffdf00 285.6px,#f00 286.7px,#800000 287.3px,#800000 311.6px)"></i><i style="height:8.25px;background:linear-gradient(90deg,#ff0e00 0px,#ff0e00 2.9px,#ff4a00 6.2px,#ff8900 11px,#ffe900 15.3px,#ff0 16.4px,#daff25 18.5px,#d0ff2f 19.1px,#9fff60 22.4px,#96ff69 24px,#82ff7d 27.3px,#75ff8a 28.9px,#59ffa6 32.1px,#43ffbc 33.7px,#19ffe6 37px,#0efff1 38.6px,#0ff 41px,#00faff 41.8px,#00f7ff 43.5px,#00f2ff 46.7px,#00e4ff 48.3px,#00caff 51.6px,#00d2ff 53.2px,#00edff 56.4px,#0ff 57.7px,#06fff9 58.1px,#41ffbe 61.3px,#7f8 65.2px,#82ff7d 66.2px,#b4ff4b 69.4px,#cbff34 71px,#ebff14 74.3px,#fbff04 75.9px,#ff0 76.2px,#ffd400 79.1px,#fff400 82.4px,#fffe00 83.4px,#ff0 83.4px,#dfff20 86.6px,#dbff24 87.2px,#cfff30 90.5px,#ff0 92.8px,#ffeb00 93.7px,#ff6c00 97px,#f00 99.2px,#eb0000 99.6px,#800000 101.8px,#800000 190.3px,#810000 191.7px,#810000 193px,#b80000 193.5px,#f00 194.1px,#ff0100 194.1px,#ff8000 195.3px,#ffb300 196.1px,#ffe600 196.8px,#ff0 199.5px,#feff01 199.6px,#fcff03 199.9px,#d8ff27 203.7px,#d4ff2b 204.4px,#bfff40 208.2px,#c1ff3e 209px,#cf3 212.8px,#ceff31 213.6px,#d9ff26 217.4px,#df2 218.1px,#f2ff0d 221.9px,#f6ff09 222.7px,#ff0 224.2px,#fff200 226.5px,#fff000 227.2px,#ffe600 231px,#ffe800 231.8px,#fff200 234.8px,#fffc00 236.4px,#ff0 236.7px,#f2ff0d 238.6px,#dbff24 240.9px,#cf3 242.4px,#a3ff5c 245.5px,#9f6 246.2px,#5affa5 250px,#1affe5 253.8px,#06fff9 254.6px,#0ff 254.8px,#00b3ff 257.6px,#0090ff 259.2px,#005aff 261.4px,#003aff 263.7px,#001aff 266px,#000fff 268.3px,#00f 271.3px,#00f 276.6px,#000aff 277.4px,#0026ff 279.7px,#0041ff 280.1px,#09f 281.6px,#00b2ff 282px,#0ff 282.9px,#19ffe6 283.2px,#36ffc9 283.5px,#9f6 284.5px,#a7ff58 284.7px,#ff0 285.6px,#ff0 285.6px,#ffdf00 285.8px,#f00 286.8px,#9f0000 287.3px,#800000 287.4px,#800000 311.6px)"></i><i style="height:8.25px;background:linear-gradient(90deg,#ff4000 0px,#ff4000 2.9px,#ff6e00 6.2px,#ffad00 11px,#fff800 15.3px,#ff0 15.8px,#df2 18.5px,#d6ff29 19.1px,#b5ff4a 22.4px,#a9ff56 24px,#8cff73 27.3px,#7cff83 28.9px,#56ffa9 32.1px,#41ffbe 33.7px,#16ffe9 37px,#05fffa 38.6px,#0ff 39.1px,#00e7ff 41.8px,#00daff 43.5px,#00c2ff 46.7px,#00b2ff 48.3px,#0092ff 51.6px,#008aff 53.2px,#00a9ff 56.4px,#00bdff 58.1px,#0ff 60.5px,#15ffea 61.3px,#7dff82 65.2px,#8aff75 66.2px,#bcff43 69.4px,#c9ff36 71px,#dfff20 74.3px,#edff12 75.9px,#ff0 77.7px,#fff100 79.1px,#fffb00 82.4px,#ff0 83.4px,#ff0 83.4px,#f4ff0b 86.6px,#f3ff0c 87.2px,#ff0 89px,#fff500 90.5px,#ffa300 93.7px,#ff2400 97px,#f00 97.7px,#a30000 99.6px,#800000 101.8px,#800000 189.2px,#fe0000 190.3px,#f00 190.3px,#ff7e00 191.7px,#ffc900 193px,#ffe300 193.5px,#fff300 194.1px,#ff0 194.6px,#edff12 195.3px,#daff25 196.1px,#cdff32 196.8px,#9fff60 199.6px,#9aff65 199.9px,#9f6 203.7px,#9f6 204.4px,#aeff51 208.2px,#b3ff4c 209px,#c8ff37 212.8px,#cf3 213.6px,#d7ff28 217.4px,#d9ff26 218.1px,#ef1 221.9px,#f2ff0d 222.7px,#fdff02 226.5px,#ff0 227.2px,#ff0 227.2px,#fff400 231px,#fff200 231.8px,#fffb00 234.8px,#ff0 236.4px,#ff0 236.4px,#ecff13 238.6px,#d9ff26 240.9px,#d0ff2f 242.4px,#bfff40 245.5px,#b9ff46 246.2px,#9f6 250px,#63ff9c 253.8px,#59ffa6 254.6px,#2effd1 257.6px,#18ffe7 259.2px,#0ff 260.2px,#00e4ff 261.4px,#00b2ff 263.7px,#0085ff 266px,#0059ff 268.3px,#002eff 271.3px,#0019ff 272.8px,#0019ff 277.4px,#004eff 279.7px,#0059ff 280.1px,#00a4ff 281.6px,#00b2ff 282px,#0ff 283.1px,#05fffa 283.2px,#1affe5 283.5px,#89ff76 284.5px,#9f6 284.7px,#f1ff0e 285.6px,#ff0 285.7px,#ff0 285.8px,#f00 286.8px,#800000 287.3px,#800000 311.6px)"></i><i style="height:8.25px;background:linear-gradient(90deg,#ff6300 0px,#ff6300 2.9px,#ff7100 4.6px,#ff8400 6.2px,#ffac00 9.4px,#ffc000 11px,#fe0 14.3px,#fffa00 15.3px,#ff0 15.9px,#e3ff1c 19.1px,#b9ff46 24px,#86ff79 28.9px,#43ffbc 33.7px,#0ff 38.6px,#00c2ff 43.5px,#008cff 48.3px,#005cff 53.2px,#0092ff 58.1px,#00f2ff 61.3px,#0ff 61.7px,#65ff9a 65.2px,#afff50 69.4px,#d5ff2a 74.3px,#f5ff0a 79.1px,#feff01 83.4px,#ff0 84px,#fff400 87.2px,#ffec00 87.9px,#ffc600 90.5px,#ffb500 91.1px,#ff5f00 93.7px,#f00 96.1px,#de0000 97px,#800000 99.6px,#800000 187.7px,#f00 188.8px,#f00 188.8px,#ff2a00 189.2px,#ff7f00 190.2px,#f80 190.3px,#ffd400 191.7px,#ffe500 192px,#ff0 192.5px,#ceff31 193.5px,#9f6 194.6px,#76ff89 196.1px,#40ffbf 198.4px,#40ffbf 202.9px,#48ffb7 204.4px,#59ffa6 207.5px,#6fff90 209px,#9f6 212px,#a6ff59 213.6px,#bfff40 216.6px,#c8ff37 218.1px,#d9ff26 221.2px,#e1ff1e 222.7px,#f2ff0d 225.7px,#f7ff08 227.2px,#ff0 230.3px,#ff0 234.8px,#f2ff0d 236.4px,#d9ff26 239.4px,#d5ff2a 240.9px,#cf3 244px,#c3ff3c 245.5px,#b2ff4d 248.5px,#af5 250px,#9f6 253.1px,#90ff6f 254.6px,#7fff80 257.6px,#73ff8c 259.2px,#59ffa6 262.2px,#4cffb3 263.7px,#3fc 266.8px,#2fd 268.3px,#0ff 271.3px,#00feff 271.3px,#00dbff 272.8px,#00a5ff 275.1px,#0089ff 277.4px,#007fff 278.2px,#009dff 280.1px,#00a6ff 280.7px,#00ecff 282px,#0ff 282.3px,#19ffe6 282.7px,#59ffa6 283.5px,#9f6 284.2px,#c5ff3a 284.7px,#ff0 285.3px,#ff0 285.3px,#ff9700 285.8px,#f00 286.4px,#800000 287px,#800000 311.6px)"></i><i style="height:8.25px;background:linear-gradient(90deg,#f70 0px,#f70 2.9px,#ff7b00 4.6px,#ff8d00 6.2px,#ffb100 9.4px,#ffc300 11px,#ffe800 14.3px,#ffef00 15.3px,#ff0 17.7px,#f6ff09 19.1px,#c6ff39 24px,#93ff6c 28.9px,#4affb5 33.7px,#0ff 38.6px,#00afff 43.5px,#0072ff 48.3px,#0049ff 53.2px,#0085ff 58.1px,#00d8ff 61.3px,#0ff 63px,#31ffce 65.2px,#8eff71 69.4px,#cfff30 74.3px,#e2ff1d 79.1px,#fbff04 83.4px,#ff0 84px,#ffde00 87.2px,#ffd600 87.9px,#ffa000 90.5px,#ff9000 91.1px,#ff1e00 93.7px,#f00 94.5px,#9d0000 97px,#800000 99.6px,#800000 187.7px,#f00 188.8px,#f00 188.8px,#ff2a00 189.2px,#ff7f00 190.2px,#f80 190.3px,#ffd400 191.7px,#ffe500 192px,#ff0 193px,#ecff13 193.8px,#d9ff26 194.6px,#c2ff3d 196.8px,#b3ff4c 198.4px,#c0ff3f 200.6px,#cdff32 202.9px,#deff21 204.4px,#ff0 207.4px,#fffe00 207.5px,#fff600 209px,#ffe500 212px,#ffe100 213.6px,#ffd800 216.6px,#ffdc00 218.1px,#ffe500 221.2px,#ffe700 221.9px,#fff000 225px,#fff200 225.7px,#fff700 227.5px,#ff0 230.3px,#f4ff0b 234.1px,#f2ff0d 234.8px,#e1ff1e 237.9px,#d9ff26 239.4px,#d9ff26 244px,#d0ff2f 247px,#cf3 248.5px,#c4ff3b 251.6px,#bfff40 253.1px,#b7ff48 256.1px,#b3ff4c 257.6px,#a2ff5d 260.7px,#9f6 262.2px,#8f7 265.2px,#80ff7f 266.8px,#67ff98 269.8px,#5affa5 271.3px,#4bffb4 273.6px,#41ffbe 275.1px,#41ffbe 278.6px,#76ff89 280.1px,#9aff65 281.2px,#ff0 283px,#fffe00 283px,#ff7f00 284.2px,#f00 285px,#800000 285.8px,#800000 311.6px)"></i><i style="height:8.25px;background:linear-gradient(90deg,#f60 0px,#f60 4.6px,#ff7600 6.2px,#ff9800 9.4px,#ffb200 11px,#ffe500 14.3px,#ffed00 15.9px,#ff0 19.1px,#ff0 19.2px,#f4ff0b 19.8px,#bfff40 23px,#8dff72 26.3px,#7eff81 27.3px,#30ffcf 30.5px,#19ffe6 31.5px,#03fffc 34.7px,#0ff 35.2px,#00feff 35.4px,#00c2ff 38.6px,#00a5ff 40.2px,#007aff 43.5px,#0065ff 45.1px,#0078ff 50px,#007fff 51.6px,#00a5ff 56.4px,#00e5ff 61.3px,#0ff 63.8px,#19ffe6 66.2px,#4cffb3 71px,#9f6 75.9px,#d9ff26 80.1px,#f9ff06 83.4px,#ff0 84px,#ff0 84px,#fa0 86.6px,#ff7f00 87.9px,#ff3200 89.8px,#f00 91.1px,#fe0000 91.1px,#c30000 93.1px,#800000 95.3px,#800000 187.7px,#810000 188.8px,#810000 189.2px,#e00 190.2px,#f00 190.3px,#ff0100 190.3px,#ff3500 191.7px,#ff4000 192px,#ff8100 193.8px,#f80 194.6px,#ff9b00 196.8px,#ff9100 198.4px,#ff8100 200.6px,#ff5b00 202.9px,#ff4200 204.4px,#ff2800 207.5px,#ff1c00 209px,#ff0b00 212px,#ff0200 213.6px,#ff1300 216.6px,#ff1c00 218.1px,#ff3a00 221.2px,#ff4100 221.9px,#ff8100 225px,#ff9700 225.7px,#fc0 227.5px,#ff0 230.3px,#d9ff26 234.1px,#d6ff29 234.8px,#cf3 237.9px,#d0ff2f 239.4px,#d9ff26 242.4px,#e1ff1e 244px,#f2ff0d 247px,#f6ff09 248.5px,#feff01 251.6px,#ff0 251.8px,#fffb00 253.1px,#fff300 256.1px,#ffef00 257.6px,#ffe700 260.7px,#ffe700 265.2px,#ffdf00 266.8px,#ffce00 269.8px,#ffba00 271.3px,#ff9c00 273.6px,#ff7e00 275.1px,#ff6a00 276.2px,#ff0500 278.2px,#f00 278.2px,#e60000 278.6px,#850000 280.1px,#840000 281.2px,#830000 283px,#820000 284.2px,#800000 285.8px,#800000 311.6px)"></i><i style="height:8.25px;background:linear-gradient(90deg,#ff4500 0px,#ff4500 4.6px,#ff4800 6.2px,#ff7100 9.4px,#ff8700 11px,#ff9c00 14.3px,#ffa500 15.9px,#fff000 19.1px,#ff0 19.7px,#feff01 19.8px,#9eff61 23px,#35ffca 26.3px,#2bffd4 27.3px,#07fff8 30.5px,#0ff 30.8px,#00f1ff 31.5px,#00b3ff 34.7px,#00a9ff 35.4px,#0073ff 38.6px,#0060ff 40.2px,#003dff 43.5px,#0037ff 45.1px,#0032ff 50px,#003eff 51.6px,#0064ff 56.4px,#00afff 61.3px,#0ff 66px,#04fffb 66.2px,#21ffde 71px,#83ff7c 75.9px,#ceff31 80.1px,#feff01 83.4px,#ff0 83.4px,#ffe900 84px,#ff8500 86.6px,#ff5400 87.9px,#ff0700 89.8px,#f00 90px,#d30000 91.1px,#890000 93.1px,#800000 95.3px,#800000 191.7px,#810000 193.8px,#810000 197.6px,#b40000 198.4px,#b40000 200.6px,#b30000 204.4px,#800000 205.7px,#800000 218.1px,#d90000 219.3px,#f00 221.1px,#f00 221.2px,#f10 221.9px,#f30 223.4px,#f60 225px,#ff8000 225.7px,#ffbd00 227.5px,#fc0 228px,#ff0 230.3px,#d9ff26 234.1px,#ceff31 237.9px,#cf3 238.6px,#d7ff28 242.4px,#d9ff26 243.2px,#f9ff06 247px,#ff0 247.8px,#ff0 247.8px,#ffd900 251.6px,#f90 254.6px,#ff8000 256.1px,#ff6700 257.6px,#ff3e00 260.7px,#ff3400 261.4px,#ff0a00 265.2px,#ff0100 266px,#f00 266.2px,#e00 269.8px,#e70000 271.3px,#a10000 273.6px,#810000 274.7px,#810000 276.2px,#800000 278.2px,#800000 311.6px)"></i><i style="height:8.25px;background:linear-gradient(90deg,#ff6000 0px,#ff6000 6.2px,#ff8a00 11px,#ff9600 12.7px,#ffaf00 15.9px,#ffc000 17.5px,#ffeb00 19.8px,#ff0 20.8px,#f9ff06 21.1px,#afff50 23px,#7cff83 24.3px,#31ffce 26.3px,#04fffb 27.6px,#0ff 27.8px,#00c6ff 30.5px,#00b0ff 31.5px,#0070ff 34.7px,#0063ff 35.4px,#0037ff 38.6px,#02f 40.2px,#0015ff 43.5px,#0006ff 48.3px,#000eff 50px,#002cff 54.8px,#0047ff 56.4px,#0081ff 59.7px,#009bff 61.3px,#00cfff 64.5px,#00e2ff 66.2px,#0ff 69.1px,#03fffc 69.4px,#1dffe2 71px,#5affa5 74.3px,#83ff7c 75.9px,#bcff43 78.2px,#e2ff1d 80.1px,#faff05 81.4px,#ff0 81.5px,#ffbe00 83.4px,#ff8b00 84.6px,#ff3f00 86.6px,#ff0c00 87.9px,#f00 88.2px,#be0000 89.8px,#8b0000 91.1px,#800000 93.1px,#800000 225px,#e50000 226px,#f00 226.5px,#f30 227.5px,#f60 230px,#f90 233.3px,#ffb200 237.9px,#ffb700 239.4px,#ffba00 240.6px,#ffbf00 242.4px,#ffb200 247px,#fa0 248.5px,#f90 251.6px,#ff7f00 256.1px,#ff7300 257.9px,#f60 259.9px,#f30 263px,#f00 265.2px,#f00 265.2px,#800000 267.1px,#800000 311.6px)"></i><i style="height:8.25px;background:linear-gradient(90deg,#ffa800 0px,#ffa800 6.2px,#ffac00 9.4px,#ffcd00 12.7px,#fd0 14.3px,#ffef00 17.5px,#fffa00 19.1px,#ff0 19.3px,#d1ff2e 21.1px,#abff54 22.4px,#58ffa7 24.3px,#20ffdf 25.6px,#0ff 26.6px,#00e0ff 27.6px,#00b9ff 28.9px,#0082ff 31.5px,#0052ff 33.7px,#003cff 35.4px,#01f 38.6px,#000dff 40.2px,#00f 48.3px,#0017ff 54.8px,#001fff 56.4px,#0062ff 59.7px,#0083ff 61.3px,#00c1ff 64.5px,#00cdff 65.2px,#0ff 69.4px,#79ff86 73.6px,#8f7 74.3px,#c6ff39 76.9px,#e0ff1f 78.2px,#ff0 79.7px,#fff700 80.1px,#fc0 81.4px,#ff8600 83.4px,#ff4800 84.6px,#ff0a00 85.9px,#f00 86.2px,#b50000 87.9px,#8b0000 88.9px,#800000 91.1px,#800000 239.4px,#c00 240.6px,#d80000 248.5px,#c00 256.1px,#800000 257.9px,#800000 311.6px)"></i><i style="height:8.25px;background:linear-gradient(90deg,#fff600 0px,#fff600 6.2px,#ff0 7.9px,#f7ff08 9.4px,#e2ff1d 12.7px,#d5ff2a 14.3px,#bcff43 17.5px,#af5 19.1px,#86ff79 21.7px,#7bff84 22.4px,#3bffc4 25.6px,#0afff5 28.9px,#0ff 29.6px,#00f2ff 30.5px,#00d4ff 33.7px,#00c6ff 35.4px,#009cff 38.6px,#0089ff 40.2px,#0071ff 46.7px,#0068ff 48.3px,#0051ff 53.2px,#0068ff 56.4px,#0078ff 58.1px,#00adff 61.3px,#00c7ff 62.9px,#00ecff 65.2px,#0ff 66.5px,#14ffeb 67.8px,#3cffc3 69.4px,#79ff86 71.7px,#a8ff57 73.6px,#c7ff38 74.9px,#ef1 76.9px,#ff0 77.7px,#fff700 78.2px,#ffb500 80.1px,#ff8700 81.4px,#ff2b00 83.4px,#ff0b00 84px,#f00 84.3px,#b00 85.9px,#800 87.2px,#800000 88.9px,#800000 311.6px)"></i><i style="height:8.25px;background:linear-gradient(90deg,#52ffad 0px,#52ffad 6.2px,#5fa 11px,#59ffa6 12.7px,#5fffa0 15.9px,#53ffac 17.5px,#36ffc9 20.8px,#2fffd0 21.7px,#10ffef 25.6px,#0ff 27.4px,#00e2ff 30.5px,#00b2ff 35.4px,#008dff 40.2px,#0084ff 41.8px,#0080ff 46.7px,#007dff 48.3px,#0084ff 53.2px,#008cff 54.8px,#00acff 58.1px,#00bfff 59.7px,#00e6ff 62.9px,#00f9ff 64.5px,#0ff 64.9px,#36ffc9 67.8px,#4fb 68.4px,#a6ff59 71.7px,#f2ff0d 74.9px,#ff0 75.3px,#ff9c00 78.2px,#ff2500 80.8px,#ff0c00 81.4px,#f00 81.7px,#9f0000 84px,#800000 87.2px,#800000 311.6px)"></i><i style="height:8.25px;background:linear-gradient(90deg,#0078ff 0px,#0078ff 6.2px,#007dff 11px,#0087ff 15.9px,#007dff 19.1px,#007dff 20.8px,#0080ff 24px,#0087ff 25.6px,#0091ff 28.9px,#0094ff 30.5px,#0096ff 33.7px,#0094ff 35.4px,#0096ff 38.6px,#0093ff 41.8px,#0096ff 45.1px,#00a2ff 48.3px,#00b3ff 51.6px,#00c7ff 54.8px,#00e4ff 58.1px,#00f0ff 59.7px,#0ff 61.8px,#09fff6 62.9px,#27ffd8 64.5px,#61ff9e 67.1px,#81ff7e 68.4px,#b9ff46 70.4px,#d9ff26 71.7px,#ff0 73.5px,#fffc00 73.6px,#ffd100 74.9px,#ff9e00 76.2px,#ff4600 78.2px,#ff2600 78.8px,#f00 79.6px,#c00 80.8px,#a30000 81.7px,#800000 84px,#800000 311.6px)"></i><i style="height:8.25px;background:linear-gradient(90deg,#0000e5 0px,#0000e5 19.1px,#0000f4 24px,#00f 25.7px,#0015ff 28.9px,#0034ff 33.7px,#003bff 35.4px,#004dff 38.6px,#0058ff 41.8px,#0069ff 45.1px,#0076ff 46.7px,#00afff 51.6px,#00f7ff 56.4px,#0ff 57.5px,#04fffb 58.1px,#12ffed 60.7px,#35ffca 62.9px,#4fffb0 63.9px,#b0ff4f 67.1px,#ff0 69.6px,#ffe600 70.4px,#ff8d00 73.6px,#ff2e00 76.2px,#f00 77.3px,#f50000 77.5px,#ce0000 78.8px,#800000 81.7px,#800000 311.6px)"></i><i style="height:8.25px;background:linear-gradient(90deg,#0000a6 0px,#0000a6 28.9px,#0000bd 35.4px,#0000ce 38.6px,#0000e2 41.8px,#00f 44.7px,#0004ff 45.1px,#0015ff 46.7px,#05f 50px,#0079ff 51.6px,#00beff 54.2px,#00f9ff 56.4px,#0ff 57.1px,#09fff6 58.1px,#1effe1 60.7px,#32ffcd 61.3px,#86ff79 63.9px,#e9ff16 66.5px,#ff0 67px,#fffb00 67.1px,#ffac00 69.1px,#f70 70.4px,#ff4300 71.7px,#f00 73.4px,#f50000 73.6px,#c90000 74.9px,#800000 77.5px,#800000 311.6px)"></i><i style="height:8.25px;background:linear-gradient(90deg,#0000a6 0px,#0000a6 28.9px,#0000af 35.4px,#0000b3 38.6px,#0000cd 41.8px,#0000e6 45.1px,#0000f7 46.7px,#00f 47.4px,#001bff 50px,#004cff 51.6px,#009aff 54.2px,#00d5ff 56.4px,#0ff 58px,#0ff 58.1px,#3cffc3 60.7px,#4cffb3 61.3px,#b1ff4e 63.9px,#feff01 66.5px,#ff0 66.5px,#ffe000 67.1px,#ff8100 69.1px,#ff4100 70.4px,#ff0200 71.7px,#f00 71.7px,#b40000 73.6px,#810000 74.9px,#800000 77.5px,#800000 311.6px)"></i><i style="height:8.25px;background:linear-gradient(90deg,#0000a6 0px,#0000a6 15.9px,#0000c5 22.4px,#0000ef 28.9px,#00f 31.2px,#01f 33.7px,#005cff 38.6px,#00a2ff 43.5px,#00b2ff 45.1px,#00d4ff 48.3px,#00deff 50px,#00fdff 53.2px,#0ff 53.3px,#0cfff3 54.2px,#3fffc0 58.1px,#81ff7e 61.3px,#90ff6f 61.9px,#d0ff2f 63.9px,#f8ff07 65.2px,#ff0 65.4px,#ffd500 66.5px,#ff8500 68.4px,#ff6a00 69.1px,#f00 71.7px,#d90000 74.9px,#d40000 75.9px,#800000 81.4px,#800000 311.6px)"></i><i style="height:8.25px;background:linear-gradient(90deg,#0000ae 0px,#0000ae 9.4px,#0000d1 15.9px,#0000f7 22.4px,#00f 23.4px,#001eff 27.3px,#0034ff 28.9px,#005eff 32.1px,#0074ff 33.7px,#00a9ff 37px,#00bfff 38.6px,#00e6ff 41.8px,#00f3ff 43.5px,#0ff 45.5px,#1fe 48.3px,#3fc 53.2px,#6fff90 58.1px,#b3ff4c 61.9px,#ff0 65.2px,#ff8000 68.4px,#f00 71.7px,#e40000 75.9px,#d30000 77.5px,#940000 81.4px,#800000 83.4px,#800000 311.6px)"></i><i style="height:8.25px;background:linear-gradient(90deg,#0000b2 0px,#0000b2 9.4px,#0000e6 15.9px,#00f 20.2px,#000dff 22.4px,#03f 27.3px,#0080ff 32.1px,#0cf 37px,#0ff 41.8px,#1affe5 48.3px,#40ffbf 53.2px,#80ff80 58.1px,#bfff40 61.9px,#ff0 65.2px,#ff8000 68.4px,#f00 71.7px,#d90000 77.5px,#800000 83.4px,#800000 311.6px)"></i><i style="height:8.15px;background:linear-gradient(90deg,#0000a6 0px,#0000a6 9.4px,#0000d9 15.9px,#00f 20.8px,#0080ff 25.6px,#00d9ff 30.5px,#0ff 35.4px,#0dfff2 41.8px,#1affe5 48.3px,#80ff80 54.8px,#d9ff26 61.3px,#ff0 65.2px,#ffe500 67.8px,#f90 75.9px,#f60 84px,#f30 92.1px,#f00 98.6px,#c00 103.5px,#800000 108.3px,#800000 311.6px)"></i></div>
<div class="hm" style="left:647.4px;top:153.8px;width:314.2px;height:419.4px"><i style="height:3.89px;background:linear-gradient(90deg,#800000 0px,#800000 9px,#f00 10.3px,#ff8000 12.6px,#ffb300 15.5px,#f90 18.7px,#ff0 22px,#9f6 25.2px,#40ffbf 28.5px,#cf3 30.7px,#ff0 31.4px,#f90 32.7px,#f60 34.9px,#f30 41.4px,#f30 46.3px,#ff8000 48.9px,#ff0 49.4px,#0ff 50.5px,#004dff 52.1px,#004dff 57px,#0ff 59.3px,#80ff80 61.9px,#cf3 65.7px,#e5ff1a 69.6px,#ff0 70.1px,#ff8000 72.2px,#f00 74.8px,#ff4000 77.1px,#ff0 78.7px,#0ff 80px,#004dff 82px,#03f 88.4px,#004dff 94.3px,#00b2ff 96.5px,#0ff 101.4px,#0cf 106.3px,#0019ff 108.5px,#0019ff 111.1px,#0ff 113.1px,#80ff80 115.4px,#ff0 116.9px,#ffbf00 117.6px,#f00 119.6px,#800000 122.5px,#800000 132.2px,#d90000 134.5px,#f00 138.7px,#ff8000 141px,#ffe500 143.6px,#ff0 145.5px,#e5ff1a 147.5px,#9f6 150.7px,#40ffbf 153.9px,#1affe5 158.2px,#0ff 161.4px,#0ff 166.3px,#4dffb2 170.2px,#a6ff59 174.4px,#ff0 178.6px,#e5ff1a 182.5px,#9f6 184.7px,#ff0 186.9px,#fc0 188px,#ffbf00 192.2px,#ff0 195.4px,#80ff80 198px,#0ff 200.3px,#0019ff 202.6px,#0019ff 206.8px,#0ff 208.7px,#ff0 211px,#ff8000 214.3px,#ffe500 216.5px,#ff0 217.3px,#cf3 218.8px,#ff0 221.4px,#ffb300 224px,#ff8000 227.9px,#f60 232.7px,#ff8000 237.6px,#ffd900 240.8px,#f90 244.7px,#f90 248.9px,#ffe500 251.2px,#ff0 252.1px,#cf3 253.8px,#ff0 257.1px,#f90 260.3px,#f60 264.2px,#ff8000 267.4px,#ff0 270px,#80ff80 273.3px,#1affe5 276.5px,#0ff 283px,#40ffbf 286.2px,#80ff80 289.5px,#ff0 292.1px,#ff8000 294px,#f00 294.7px,#800000 295.3px,#800000 314.2px)"></i><i style="height:8.34px;background:linear-gradient(90deg,#800000 0px,#800000 8.5px,#b00000 9px,#f80000 9.7px,#f00 9.8px,#ff2a00 10.2px,#ff7a00 11px,#ff8e00 11.5px,#ffbd00 13px,#ffbd00 13.5px,#ffb500 15.2px,#ffae00 16px,#ffa100 17.7px,#ffb900 18.5px,#ffe800 20.2px,#fff100 21.1px,#ff0 22.2px,#fdff02 22.4px,#c6ff39 23.6px,#9fff60 24.4px,#59ffa6 25.7px,#3affc5 26.4px,#4effb1 27.7px,#59ffa6 28.6px,#d3ff2c 29.7px,#ff0 30.2px,#fff700 30.2px,#ff9600 31.9px,#ff6400 34.4px,#ff3e00 37.8px,#ff5e00 41.1px,#ff2e00 44.5px,#ff1700 47px,#ff3100 47.5px,#ff7b00 48.6px,#ffb000 49.1px,#fff700 49.8px,#ff0 49.8px,#69ff96 50.5px,#19ffe6 50.8px,#0ff 51.1px,#00d6ff 51.5px,#0094ff 52.1px,#0078ff 52.5px,#001cff 53.7px,#001aff 53.8px,#0010ff 55.3px,#0010ff 56.2px,#0075ff 57.5px,#00f3ff 59.2px,#0ff 59.4px,#5effa1 60.8px,#72ff8d 61.2px,#97ff68 62.8px,#a9ff56 63.7px,#b7ff48 65.4px,#bcff43 66.2px,#ceff31 67.9px,#d8ff27 68.7px,#f7ff08 70.4px,#ff0 70.8px,#fffd00 70.9px,#ff9f00 72.2px,#ff8700 72.5px,#ff4a00 73.9px,#ff3b00 74.2px,#ff1e00 75.6px,#ff1600 76.2px,#ff5700 77.2px,#ff8700 77.9px,#ffc700 78.6px,#ff0 79.1px,#f7ff08 79.2px,#6fff90 79.9px,#09fff6 80.4px,#0ff 80.5px,#00c7ff 81.1px,#0087ff 81.7px,#0062ff 82.4px,#0036ff 83.2px,#002cff 83.9px,#0019ff 86.2px,#001aff 87.1px,#0023ff 91.3px,#002cff 92.1px,#0054ff 95.4px,#0067ff 96.3px,#0093ff 98px,#00a9ff 98.8px,#00d4ff 100.5px,#00e2ff 101.3px,#00faff 103px,#00ebff 103.8px,#00c9ff 105.5px,#00b3ff 106px,#007eff 107.1px,#004cff 108px,#001dff 108.8px,#000fff 110px,#0003ff 111.3px,#0014ff 112.2px,#002bff 113px,#0070ff 113.8px,#009cff 114.3px,#00ebff 115.2px,#0ff 115.4px,#1cffe3 115.7px,#6cff93 116.5px,#9cff63 117px,#df2 117.8px,#ff0 118.3px,#fff900 118.3px,#fa0 119.2px,#ff7a00 119.7px,#ff2a00 120.5px,#f00 121px,#fb0000 121px,#b40000 122.2px,#900 122.7px,#900 131.4px,#9d0000 132.2px,#bd0000 133.1px,#db0000 133.9px,#ef0000 135.1px,#f00 135.7px,#ff0900 136.1px,#ff3c00 136.7px,#ff8400 137.7px,#ffa200 138.4px,#ffcd00 139.4px,#ffdc00 140.6px,#ffe600 141.4px,#fff900 143.9px,#ff0 144.6px,#feff01 144.8px,#e1ff1e 147.3px,#d7ff28 148.1px,#b8ff47 150.6px,#aeff51 151.4px,#9bff64 152.6px,#18ffe7 152.6px,#18ffe7 159.3px,#15ffea 161px,#0efff1 166px,#25ffda 169.4px,#32ffcd 171px,#67ff98 173.5px,#7bff84 174.4px,#afff50 176.1px,#c9ff36 176.9px,#e6ff19 178.1px,#ff0 179.1px,#fff800 179.7px,#ffed00 181.1px,#fff400 181.4px,#ff0 181.9px,#e0ff1f 183.1px,#c7ff38 185.2px,#ff0 187.4px,#fff400 187.8px,#fb0 189.4px,#ffb300 190.3px,#ffa500 191.9px,#ffb000 192.8px,#ffca00 194.4px,#ffe300 195.3px,#ff0 196.1px,#f5ff0a 196.4px,#bcff43 197.5px,#75ff8a 198.6px,#4fffb0 199.1px,#0ff 200.1px,#00f3ff 200.3px,#00d4ff 200.6px,#0074ff 201.6px,#0050ff 202px,#00f 202.8px,#00f 205.8px,#0008ff 206.5px,#0047ff 207.1px,#08f 207.8px,#00bfff 208.3px,#0ff 208.9px,#0afff5 209px,#72ff8d 209.5px,#f9ff06 210.2px,#ff0 210.2px,#ffd200 210.8px,#ffa300 211.5px,#ff9500 212.5px,#ff8a00 213.7px,#ff9400 214.5px,#ffa400 215.8px,#fc0 217px,#ffe800 217.8px,#ff0 218.7px,#f2ff0d 219.2px,#e0ff1f 219.9px,#f8ff07 221.2px,#ff0 221.5px,#fff400 222px,#ffc300 222.9px,#ff9200 223.7px,#ff7500 224.9px,#ff5d00 225.9px,#ff5a00 227px,#ff5900 228.7px,#ff3500 231.2px,#ff2a00 234.6px,#ff2d00 235.4px,#ff3700 237.9px,#ff5000 238.7px,#f70 239.9px,#ffb200 240.9px,#ffda00 241.6px,#fff000 242.9px,#fff600 243.8px,#ffd100 244.6px,#fa0 245.4px,#ff8400 246.6px,#ff5d00 247.9px,#ff6300 249.3px,#ff7100 251.3px,#ff9700 252.1px,#ffd300 253.3px,#fff300 254.3px,#ff0 254.7px,#e5ff1a 255.5px,#d8ff27 256.3px,#c8ff37 257.6px,#e8ff17 258.8px,#ff0 259.6px,#ffa500 261.3px,#ff7400 263.8px,#ff8c00 266.3px,#ffe800 268.3px,#fe0 268.8px,#ff0 270.5px,#ff0 271.3px,#fcff03 273px,#ebff14 273.8px,#c8ff37 275.5px,#acff53 276.4px,#7dff82 277.7px,#43ffbc 278.9px,#1cffe3 279.7px,#10ffef 281.4px,#0ff 284.7px,#02fffd 285.5px,#0dfff2 288.4px,#12ffed 288.9px,#51ffae 290.1px,#89ff76 291.1px,#bcff43 291.7px,#ff0 292.6px,#fff400 292.7px,#ffd400 293.1px,#ff7200 294.1px,#ff6000 294.2px,#f00 295.1px,#f00000 295.2px,#800000 296.4px,#800000 314.2px)"></i><i style="height:8.34px;background:linear-gradient(90deg,#800000 0px,#800000 8.5px,#a10000 9px,#ea0000 9.7px,#f00 9.9px,#ff1e00 10.2px,#ff6d00 11px,#ff8900 11.5px,#ffb900 13px,#ffbd00 13.5px,#fb0 15.2px,#ffb700 16px,#ffb300 17.7px,#ffc600 18.5px,#ffec00 20.2px,#fff500 21.1px,#ff0 21.8px,#f7ff08 22.4px,#cf3 23.6px,#acff53 24.4px,#73ff8c 25.7px,#65ff9a 26.4px,#83ff7c 27.7px,#91ff6e 28.6px,#efff10 29.7px,#ff0 29.9px,#ffe500 30.2px,#ff8f00 31.9px,#ff6100 34.4px,#ff3b00 37.8px,#ff4e00 41.1px,#ff2400 44.5px,#f10 47px,#ff2300 47.5px,#ff7100 48.6px,#ffa100 49.1px,#ffe700 49.8px,#ff0 49.9px,#96ff69 50.5px,#51ffae 50.8px,#09fff6 51.5px,#0ff 51.6px,#00c0ff 52.1px,#00a0ff 52.5px,#003fff 53.7px,#0039ff 53.8px,#0016ff 55.3px,#0016ff 56.2px,#005dff 57.5px,#00d8ff 59.2px,#0ff 59.8px,#42ffbd 60.8px,#54ffab 61.2px,#81ff7e 62.8px,#95ff6a 63.7px,#aeff51 65.4px,#b6ff49 66.2px,#caff35 67.9px,#d7ff28 68.7px,#faff05 70.4px,#ff0 70.6px,#fffa00 70.9px,#ffac00 72.2px,#ff9700 72.5px,#ff5a00 73.9px,#ff4b00 74.2px,#ff2800 75.6px,#ff2a00 76.2px,#ff6300 77.2px,#ff9800 77.9px,#ffd800 78.6px,#ff0 79px,#e7ff18 79.2px,#74ff8b 79.9px,#1cffe3 80.4px,#0ff 80.7px,#00d8ff 81.1px,#0098ff 81.7px,#006aff 82.4px,#003dff 83.2px,#002bff 83.9px,#0017ff 86.2px,#0016ff 87.1px,#001dff 91.3px,#0023ff 92.1px,#0048ff 95.4px,#0058ff 96.3px,#0086ff 98px,#009cff 98.8px,#00caff 100.5px,#00dcff 101.3px,#00efff 103px,#00e6ff 103.8px,#00c2ff 105.5px,#00afff 106px,#007aff 107.1px,#004cff 108px,#0025ff 108.8px,#0012ff 110px,#000aff 111.3px,#0016ff 112.2px,#0035ff 113px,#0075ff 113.8px,#00a2ff 114.3px,#00f1ff 115.2px,#0ff 115.3px,#2fd 115.7px,#72ff8d 116.5px,#a2ff5d 117px,#e7ff18 117.8px,#ff0 118.1px,#ffed00 118.3px,#ff9d00 119.2px,#ff6d00 119.7px,#ff1e00 120.5px,#f00 120.9px,#f30000 121px,#ac0000 122.2px,#900 122.7px,#900 131.4px,#a50000 132.2px,#c50000 133.1px,#df0000 133.9px,#f40000 135.1px,#f00 135.3px,#ff1d00 136.1px,#ff5000 136.7px,#ff8e00 137.7px,#ffab00 138.4px,#ffce00 139.4px,#ffdf00 140.6px,#ffe800 141.4px,#fffb00 143.9px,#ff0 144.4px,#fbff04 144.8px,#dfff20 147.3px,#d3ff2c 148.1px,#afff50 150.6px,#a3ff5c 151.4px,#8fff70 152.6px,#15ffea 152.6px,#15ffea 159.3px,#13ffec 161px,#10ffef 166px,#21ffde 169.4px,#2fffd0 171px,#5bffa4 173.5px,#73ff8c 174.4px,#a9ff56 176.1px,#c3ff3c 176.9px,#e2ff1d 178.1px,#ff0 179.1px,#fff300 179.7px,#ffe200 181.1px,#ffe400 181.4px,#ff0 182.5px,#f1ff0e 183.1px,#d8ff27 185.2px,#ff0 187.4px,#fff700 187.8px,#fc0 189.4px,#ffc600 190.3px,#ffbe00 191.9px,#ffc800 192.8px,#ffe100 194.4px,#fff700 195.3px,#ff0 195.5px,#deff21 196.4px,#af5 197.5px,#5dffa2 198.6px,#37ffc8 199.1px,#0ff 199.8px,#00d9ff 200.3px,#0bf 200.6px,#005bff 201.6px,#0038ff 202px,#00f 202.8px,#00f 205.8px,#0018ff 206.5px,#0058ff 207.1px,#009bff 207.8px,#00d2ff 208.3px,#0ff 208.7px,#21ffde 209px,#7eff81 209.5px,#ecff13 210.2px,#ff0 210.4px,#ffdf00 210.8px,#ffb800 211.5px,#ffa500 212.5px,#ffa200 213.7px,#ffac00 214.5px,#fb0 215.8px,#ffdc00 217px,#ffed00 217.8px,#ff0 218.9px,#f9ff06 219.2px,#f1ff0e 219.9px,#ff0 220.6px,#fff500 221.2px,#fd0 222px,#ffaf00 222.9px,#ff8300 223.7px,#ff6100 224.9px,#ff4a00 225.9px,#ff3f00 227px,#ff3b00 228.7px,#ff1e00 231.2px,#ff1600 234.6px,#ff1800 235.4px,#ff2500 237.9px,#ff3800 238.7px,#ff6400 239.9px,#ff9c00 240.9px,#ffc200 241.6px,#ffe500 242.9px,#ffe200 243.8px,#ffc000 244.6px,#f90 245.4px,#ff6c00 246.6px,#ff4900 247.9px,#ff4500 249.3px,#ff5200 251.3px,#ff6e00 252.1px,#fa0 253.3px,#ffd100 254.3px,#fffd00 255.5px,#ff0 255.5px,#ebff14 256.3px,#dcff23 257.6px,#efff10 258.8px,#ff0 259.6px,#ffc000 261.3px,#ff9200 263.8px,#ffa600 266.3px,#ffed00 268.3px,#fff300 268.8px,#ff0 270.5px,#ff0 271.3px,#f5ff0a 273px,#e6ff19 273.8px,#c1ff3e 275.5px,#a6ff59 276.4px,#7f8 277.7px,#42ffbd 278.9px,#2fd 279.7px,#0ffff0 281.4px,#01fffe 284.7px,#02fffd 285.5px,#1fe 288.4px,#1dffe2 288.9px,#5fffa0 290.1px,#9dff62 291.1px,#d0ff2f 291.7px,#ff0 292.3px,#ffdb00 292.7px,#fb0 293.1px,#ff5600 294.1px,#f40 294.2px,#f00 294.8px,#ce0000 295.2px,#800000 296.4px,#800000 314.2px)"></i><i style="height:8.34px;background:linear-gradient(90deg,#800000 0px,#800000 8.5px,#930000 9px,#dc0000 9.7px,#f00 10px,#f10 10.2px,#ff6100 11px,#ff8500 11.5px,#ffb500 13px,#ffbe00 13.5px,#ffc000 15.2px,#ffc000 16px,#ffc500 17.7px,#ffd300 18.5px,#fff000 20.2px,#fff900 21.1px,#ff0 21.5px,#f2ff0d 22.4px,#d1ff2e 23.6px,#b9ff46 24.4px,#8eff71 25.7px,#91ff6e 26.4px,#b7ff48 27.7px,#c9ff36 28.6px,#ff0 29.5px,#fff300 29.7px,#ffd300 30.2px,#ff8900 31.9px,#ff5e00 34.4px,#ff3800 37.8px,#ff3d00 41.1px,#ff1a00 44.5px,#ff0a00 47px,#ff1400 47.5px,#ff6700 48.6px,#ff9300 49.1px,#ffd600 49.8px,#ff0 50.1px,#c3ff3c 50.5px,#89ff76 50.8px,#3bffc4 51.5px,#0ff 52px,#00edff 52.1px,#00c9ff 52.5px,#0061ff 53.7px,#0057ff 53.8px,#001dff 55.3px,#001dff 56.2px,#0046ff 57.5px,#00bdff 59.2px,#0ff 60.2px,#26ffd9 60.8px,#36ffc9 61.2px,#6bff94 62.8px,#81ff7e 63.7px,#a5ff5a 65.4px,#afff50 66.2px,#c5ff3a 67.9px,#d6ff29 68.7px,#fcff03 70.4px,#ff0 70.5px,#fff600 70.9px,#ffba00 72.2px,#ffa700 72.5px,#ff6a00 73.9px,#ff5c00 74.2px,#ff3200 75.6px,#ff3e00 76.2px,#ff6f00 77.2px,#ffa900 77.9px,#ffe800 78.6px,#ff0 78.8px,#d6ff29 79.2px,#79ff86 79.9px,#2fffd0 80.4px,#0ff 80.8px,#00e8ff 81.1px,#00a9ff 81.7px,#0073ff 82.4px,#04f 83.2px,#0029ff 83.9px,#0016ff 86.2px,#0012ff 87.1px,#0016ff 91.3px,#0019ff 92.1px,#003cff 95.4px,#0048ff 96.3px,#0078ff 98px,#0090ff 98.8px,#00c0ff 100.5px,#00d5ff 101.3px,#00e4ff 103px,#00e0ff 103.8px,#0bf 105.5px,#00abff 106px,#07f 107.1px,#004cff 108px,#002dff 108.8px,#0015ff 110px,#0010ff 111.3px,#0017ff 112.2px,#003fff 113px,#0079ff 113.8px,#00a7ff 114.3px,#00f7ff 115.2px,#0ff 115.3px,#28ffd7 115.7px,#78ff87 116.5px,#a7ff58 117px,#f1ff0e 117.8px,#ff0 118px,#ffe000 118.3px,#ff9100 119.2px,#ff6100 119.7px,#f10 120.5px,#f00 120.8px,#eb0000 121px,#a40000 122.2px,#900 122.7px,#900 131.4px,#ae0000 132.2px,#cd0000 133.1px,#e30000 133.9px,#f90000 135.1px,#f00 135.2px,#ff3100 136.1px,#ff6400 136.7px,#ff9800 137.7px,#ffb300 138.4px,#ffcf00 139.4px,#ffe200 140.6px,#ffea00 141.4px,#fffd00 143.9px,#ff0 144.1px,#f9ff06 144.8px,#dcff23 147.3px,#ceff31 148.1px,#a5ff5a 150.6px,#98ff67 151.4px,#82ff7d 152.6px,#1fe 152.6px,#1fe 159.3px,#10ffef 161px,#12ffed 166px,#1effe1 169.4px,#2cffd3 171px,#50ffaf 173.5px,#6aff95 174.4px,#a2ff5d 176.1px,#bcff43 176.9px,#deff21 178.1px,#ff0 179.1px,#ffed00 179.7px,#ffd600 181.1px,#ffd400 181.4px,#fffc00 183.1px,#ff0 183.3px,#e8ff17 185.2px,#ff0 187.4px,#fffa00 187.8px,#ffde00 189.4px,#ffd900 190.3px,#ffd800 191.9px,#ffdf00 192.8px,#fff900 194.4px,#ff0 194.7px,#f4ff0b 195.3px,#c7ff38 196.4px,#98ff67 197.5px,#46ffb9 198.6px,#20ffdf 199.1px,#0ff 199.5px,#00bfff 200.3px,#00a2ff 200.6px,#0042ff 201.6px,#0020ff 202px,#00f 202.8px,#00f 205.8px,#0029ff 206.5px,#0069ff 207.1px,#00aeff 207.8px,#00e5ff 208.3px,#0ff 208.5px,#38ffc7 209px,#89ff76 209.5px,#deff21 210.2px,#ff0 210.6px,#ffed00 210.8px,#ffce00 211.5px,#ffb600 212.5px,#ffba00 213.7px,#ffc500 214.5px,#ffd300 215.8px,#ffeb00 217px,#fff300 217.8px,#fffd00 219.2px,#fffc00 219.9px,#ffe300 221.2px,#ffc600 222px,#ff9b00 222.9px,#ff7400 223.7px,#ff4e00 224.9px,#ff3600 225.9px,#ff2400 227px,#ff1e00 228.7px,#ff0600 231.2px,#ff0200 234.6px,#ff0300 235.4px,#ff1300 237.9px,#ff2000 238.7px,#ff5100 239.9px,#ff8500 240.9px,#ffa900 241.6px,#ffdb00 242.9px,#ffce00 243.8px,#ffb000 244.6px,#ff8700 245.4px,#ff5400 246.6px,#ff3500 247.9px,#ff2800 249.3px,#f30 251.3px,#ff4500 252.1px,#ff8200 253.3px,#ffae00 254.3px,#ffe100 255.5px,#ff0 256.3px,#feff01 256.3px,#f0ff0f 257.6px,#f6ff09 258.8px,#ff0 259.6px,#ffdb00 261.3px,#ffb000 263.8px,#ffc100 266.3px,#fff300 268.3px,#fff800 268.8px,#ff0 270.5px,#ff0 271.3px,#efff10 273px,#e0ff1f 273.8px,#b9ff46 275.5px,#a1ff5e 276.4px,#71ff8e 277.7px,#41ffbe 278.9px,#27ffd8 279.7px,#0efff1 281.4px,#02fffd 284.7px,#01fffe 285.5px,#14ffeb 288.4px,#29ffd6 288.9px,#6dff92 290.1px,#b1ff4e 291.1px,#e4ff1b 291.7px,#ff0 292px,#ffc100 292.7px,#ffa200 293.1px,#ff3900 294.1px,#ff2700 294.2px,#f00 294.6px,#ad0000 295.2px,#800000 296.4px,#800000 314.2px)"></i><i style="height:8.34px;background:linear-gradient(90deg,#800000 0px,#800000 8.5px,#850000 9px,#cd0000 9.7px,#f00 10.1px,#ff0400 10.2px,#ff5400 11px,#ff8100 11.5px,#ffb100 13px,#ffbf00 13.5px,#ffc600 15.2px,#ffc900 16px,#ffd700 17.7px,#ffe100 18.5px,#fff500 20.2px,#fffe00 21.1px,#ff0 21.2px,#edff12 22.4px,#d7ff28 23.6px,#c5ff3a 24.4px,#a9ff56 25.7px,#bdff42 26.4px,#ecff13 27.7px,#ff0 28.5px,#fffe00 28.6px,#ffd600 29.7px,#ffc100 30.2px,#ff8200 31.9px,#ff5a00 34.4px,#ff3400 37.8px,#ff2c00 41.1px,#ff1000 44.5px,#ff0400 47px,#ff0500 47.5px,#ff5d00 48.6px,#ff8500 49.1px,#ffc500 49.8px,#ff0 50.3px,#efff10 50.5px,#c1ff3e 50.8px,#6eff91 51.5px,#1bffe4 52.1px,#0ff 52.4px,#00f1ff 52.5px,#0083ff 53.7px,#0075ff 53.8px,#0024ff 55.3px,#0024ff 56.2px,#002fff 57.5px,#00a3ff 59.2px,#0ff 60.7px,#0afff5 60.8px,#17ffe8 61.2px,#54ffab 62.8px,#6dff92 63.7px,#9cff63 65.4px,#a8ff57 66.2px,#c1ff3e 67.9px,#d5ff2a 68.7px,#feff01 70.4px,#ff0 70.4px,#fff200 70.9px,#ffc700 72.2px,#ffb700 72.5px,#ff7a00 73.9px,#ff6d00 74.2px,#ff3c00 75.6px,#ff5200 76.2px,#ff7b00 77.2px,#ffb900 77.9px,#fff900 78.6px,#ff0 78.6px,#c5ff3a 79.2px,#7eff81 79.9px,#42ffbd 80.4px,#0ff 81px,#00f9ff 81.1px,#00b9ff 81.7px,#007cff 82.4px,#004bff 83.2px,#0027ff 83.9px,#0014ff 86.2px,#000eff 87.1px,#000fff 91.3px,#0010ff 92.1px,#0030ff 95.4px,#0039ff 96.3px,#006bff 98px,#0084ff 98.8px,#00b6ff 100.5px,#00ceff 101.3px,#00d8ff 103px,#00dbff 103.8px,#00b4ff 105.5px,#00a7ff 106px,#0073ff 107.1px,#004cff 108px,#0034ff 108.8px,#0018ff 110px,#0017ff 111.3px,#0019ff 112.2px,#0049ff 113px,#007eff 113.8px,#00adff 114.3px,#00fdff 115.2px,#0ff 115.2px,#2effd1 115.7px,#7dff82 116.5px,#adff52 117px,#fbff04 117.8px,#ff0 117.9px,#ffd400 118.3px,#ff8400 119.2px,#ff5400 119.7px,#ff0400 120.5px,#f00 120.6px,#e30000 121px,#9c0000 122.2px,#900 122.7px,#900 131.4px,#b60000 132.2px,#d60000 133.1px,#e70000 133.9px,#fd0000 135.1px,#f00 135.1px,#ff4500 136.1px,#ff7800 136.7px,#ffa200 137.7px,#ffbc00 138.4px,#ffd000 139.4px,#ffe500 140.6px,#ffeb00 141.4px,#fffe00 143.9px,#ff0 144px,#f6ff09 144.8px,#daff25 147.3px,#caff35 148.1px,#9cff63 150.6px,#8dff72 151.4px,#76ff89 152.6px,#0efff1 152.6px,#0efff1 161px,#14ffeb 166px,#1bffe4 169.4px,#2affd5 171px,#4fb 173.5px,#61ff9e 174.4px,#9bff64 176.1px,#b6ff49 176.9px,#daff25 178.1px,#ff0 179.1px,#ffe700 179.7px,#ffcb00 181.1px,#ffc500 181.4px,#ffeb00 183.1px,#ff0 184.7px,#f9ff06 185.2px,#ff0 187.4px,#fffe00 187.8px,#fff000 189.4px,#ffec00 190.3px,#fff200 191.9px,#fff700 192.8px,#ff0 193.3px,#ef1 194.4px,#e0ff1f 195.3px,#b1ff4e 196.4px,#86ff79 197.5px,#2fffd0 198.6px,#08fff7 199.1px,#0ff 199.2px,#00a5ff 200.3px,#08f 200.6px,#0029ff 201.6px,#0008ff 202px,#00f 202.8px,#00f 205.8px,#003aff 206.5px,#007aff 207.1px,#00c2ff 207.8px,#00f8ff 208.3px,#0ff 208.4px,#4fffb0 209px,#95ff6a 209.5px,#d1ff2e 210.2px,#ff0 210.8px,#fffa00 210.8px,#ffe300 211.5px,#ffc600 212.5px,#ffd200 213.7px,#fd0 214.5px,#ffeb00 215.8px,#fffa00 217px,#fff800 217.8px,#fff500 219.2px,#ffeb00 219.9px,#ffd200 221.2px,#ffae00 222px,#ff8700 222.9px,#ff6500 223.7px,#ff3a00 224.9px,#f20 225.9px,#ff0a00 227px,#f00 228.7px,#f00 228.7px,#e00 231.2px,#ed0000 234.6px,#ed0000 235.4px,#f00 237.9px,#f00 237.9px,#ff0800 238.7px,#ff3e00 239.9px,#ff6e00 240.9px,#ff9100 241.6px,#ffd000 242.9px,#ffba00 243.8px,#ff9f00 244.6px,#ff7500 245.4px,#ff3c00 246.6px,#ff2100 247.9px,#ff0a00 249.3px,#ff1400 251.3px,#ff1b00 252.1px,#ff5900 253.3px,#ff8c00 254.3px,#ffc500 255.5px,#ffec00 256.3px,#fffa00 257.6px,#ff0 258.4px,#fdff02 258.8px,#ff0 259.6px,#fff500 261.3px,#ffce00 263.8px,#ffdc00 266.3px,#fff800 268.3px,#fffd00 268.8px,#ff0 270.5px,#ff0 271.3px,#e8ff17 273px,#dbff24 273.8px,#b1ff4e 275.5px,#9bff64 276.4px,#6bff94 277.7px,#40ffbf 278.9px,#2dffd2 279.7px,#0dfff2 281.4px,#02fffd 284.7px,#0ff 285.5px,#18ffe7 288.4px,#34ffcb 288.9px,#7bff84 290.1px,#c5ff3a 291.1px,#f8ff07 291.7px,#ff0 291.8px,#ffa800 292.7px,#f80 293.1px,#ff1c00 294.1px,#ff0a00 294.2px,#f00 294.3px,#8b0000 295.2px,#800000 296.4px,#800000 314.2px)"></i><i style="height:8.34px;background:linear-gradient(90deg,#800000 0px,#800000 9px,#9e0000 9.4px,#f90000 10.2px,#f00 10.2px,#ff1b00 10.5px,#ff7a00 11.5px,#f80 11.9px,#ffbf00 13.5px,#ffc300 13.9px,#ffd000 16px,#ffd300 16.4px,#ffe900 18.5px,#fe0 19px,#ff0 21.1px,#f4ff0b 21.9px,#e2ff1d 23.6px,#d7ff28 24.4px,#c5ff3a 25.7px,#ecff13 26.9px,#ff0 27.4px,#fff400 27.7px,#ffcb00 29.4px,#ffc300 29.7px,#ff7b00 31.9px,#ff5300 34.4px,#ff2f00 37.8px,#ff2000 41.1px,#ff0700 44.5px,#ff0400 45.3px,#f00 47px,#fe0000 47.5px,#f00 47.5px,#ff2b00 48.1px,#f70 49.1px,#ffb500 49.8px,#fff500 50.5px,#ff0 50.6px,#b8ff47 51.1px,#8eff71 51.5px,#26ffd9 52.3px,#12ffed 52.5px,#0ff 52.7px,#00b3ff 53.5px,#0096ff 53.8px,#0043ff 55.3px,#003bff 57.5px,#009dff 59.2px,#00bfff 59.8px,#00f8ff 60.8px,#0ff 61px,#25ffda 62px,#42ffbd 62.8px,#6fff90 64.5px,#87ff78 65.4px,#a0ff5f 67px,#b0ff4f 67.9px,#d6ff29 69.2px,#f5ff0a 70.4px,#ff0 70.7px,#fff200 71.2px,#ffd500 72.2px,#ffb800 72.9px,#ff8e00 73.9px,#ff7600 74.5px,#ff5900 75.6px,#ff7000 76.2px,#ff9600 77.2px,#ffd000 77.9px,#ff0 78.4px,#f3ff0c 78.6px,#9aff65 79.6px,#7bff84 79.9px,#02fffd 81.1px,#0ff 81.1px,#00f2ff 81.2px,#0086ff 82.4px,#0067ff 82.9px,#002cff 83.9px,#02f 84.6px,#000cff 87.1px,#000bff 87.9px,#000bff 92.1px,#0018ff 93.8px,#002eff 96.3px,#005cff 98px,#0076ff 98.8px,#0af 100.5px,#00c4ff 101.3px,#00d5ff 103px,#00dbff 103.8px,#00beff 105.5px,#00b3ff 106px,#0063ff 108px,#002eff 110px,#002aff 112px,#002aff 112.2px,#0086ff 113.8px,#00fdff 115.2px,#0ff 115.2px,#0dfff2 115.3px,#7dff82 116.5px,#8dff72 116.7px,#fcff03 117.8px,#ff0 117.9px,#fff200 118px,#ff8200 119.2px,#ff7200 119.3px,#ff0300 120.5px,#f00 120.6px,#f60000 120.7px,#9b0000 122.2px,#900 122.4px,#900 130.5px,#9e0000 131.4px,#c30000 132.4px,#db0000 133.1px,#f40000 134.4px,#f00 134.8px,#ff0800 135.1px,#f50 136.1px,#ff8400 136.7px,#fa0 137.7px,#ffc100 138.4px,#ffd900 139.7px,#ffe700 140.6px,#fffa00 143.1px,#ff0 143.7px,#fdff02 143.9px,#dfff20 146.4px,#d4ff2b 147.3px,#a4ff5b 149.8px,#94ff6b 150.6px,#6cff93 152.6px,#0bfff4 152.6px,#0bfff4 161px,#17ffe8 169.4px,#3effc1 173.5px,#95ff6a 176.1px,#d9ff26 178.1px,#ff0 179.1px,#ffe500 179.7px,#ffb900 181.4px,#ffd500 183.1px,#fff200 184.7px,#fff800 185.2px,#fffd00 186.9px,#fffe00 187.8px,#fff800 189.4px,#fff600 190.3px,#ff0 191.5px,#fcff03 191.9px,#f5ff0a 192.8px,#d9ff26 194.4px,#c6ff39 195.3px,#92ff6d 196.4px,#64ff9b 197.5px,#32ffcd 198.1px,#0ff 198.8px,#00e8ff 199.1px,#00b3ff 199.8px,#07f 200.6px,#000cff 202px,#000cff 203.6px,#0019ff 205.3px,#001fff 205.8px,#006cff 206.6px,#009fff 207.1px,#00eaff 207.8px,#0ff 208px,#1fffe0 208.3px,#85ff7a 209.2px,#adff52 209.5px,#ff0 210.6px,#ffef00 210.8px,#ffc100 212.5px,#fc0 213.7px,#ffd500 214.5px,#ffea00 217px,#ffdc00 219.2px,#ffd600 219.5px,#ffb600 221.2px,#ff9300 222px,#ff7000 222.9px,#ff4000 224.2px,#ff2700 224.9px,#f00 226.4px,#fb0000 226.5px,#f10000 227px,#db0000 231.2px,#db0000 235.4px,#f30000 237.9px,#fb0000 238.7px,#f00 238.8px,#ff2e00 239.9px,#ff5900 240.9px,#ff9000 242.1px,#ffb000 242.9px,#ff8900 244.3px,#ff8000 244.6px,#ff2600 246.6px,#ff1d00 247.1px,#f00 249px,#fa0000 249.3px,#f00 250.4px,#f00 250.4px,#ff0900 252.1px,#ff3000 253px,#ff7900 254.3px,#ff9c00 255px,#ffe200 256.3px,#ffe800 256.6px,#ff0 258.8px,#ff0 261.3px,#ffdf00 263.8px,#ffea00 266.3px,#fff800 268px,#ff0 268.7px,#fdff02 268.8px,#f9ff06 271.3px,#d3ff2c 273.8px,#95ff6a 276.4px,#3affc5 278.9px,#0cfff3 281.4px,#09fff6 282.2px,#04fffb 285.5px,#2fd 287.4px,#36ffc9 288.4px,#61ff9e 289.1px,#a0ff5f 290.1px,#d3ff2c 290.7px,#ff0 291.3px,#ffdb00 291.7px,#fb0 292.1px,#ff5c00 293.1px,#ff3800 293.4px,#f00 294px,#ea0000 294.2px,#800000 295.2px,#800000 314.2px)"></i><i style="height:8.34px;background:linear-gradient(90deg,#800000 0px,#800000 9px,#950000 9.4px,#f00000 10.2px,#f00 10.3px,#ff1300 10.5px,#ff7200 11.5px,#ff8600 11.9px,#ffbf00 13.5px,#ffc500 13.9px,#ffd500 16px,#ffd800 16.4px,#fe0 18.5px,#fff300 19px,#ff0 21.1px,#f7ff08 21.9px,#efff10 23.6px,#eaff15 24.4px,#e2ff1d 25.7px,#ff0 26.8px,#fffd00 26.9px,#ffe300 27.7px,#ffbc00 29.4px,#ffb400 29.7px,#ff7500 31.9px,#ff4a00 34.4px,#ff2900 37.8px,#ff1700 41.1px,#f00 44.3px,#fe0000 44.5px,#fa0000 45.3px,#fd0000 47.5px,#f00 47.5px,#ff1e00 48.1px,#ff6b00 49.1px,#ffa500 49.8px,#ffe500 50.5px,#ff0 50.7px,#cdff32 51.1px,#a5ff5a 51.5px,#41ffbe 52.3px,#2effd1 52.5px,#0ff 53px,#00d1ff 53.5px,#00baff 53.8px,#006fff 55.3px,#005bff 57.5px,#00a2ff 59.2px,#00bcff 59.8px,#0ef 60.8px,#0ff 61.3px,#1affe5 62px,#31ffce 62.8px,#56ffa9 64.5px,#6aff95 65.4px,#83ff7c 67px,#9f6 67.9px,#c4ff3b 69.2px,#e4ff1b 70.4px,#fdff02 71.2px,#ff0 71.3px,#ffe400 72.2px,#ffca00 72.9px,#ffa500 73.9px,#ff9000 74.5px,#ff8000 75.6px,#ff9300 76.2px,#ffb900 77.2px,#ffe900 77.9px,#ff0 78.2px,#e1ff1e 78.6px,#92ff6d 79.6px,#75ff8a 79.9px,#05fffa 81.1px,#0ff 81.1px,#00f6ff 81.2px,#008fff 82.4px,#006eff 82.9px,#0035ff 83.9px,#0023ff 84.6px,#000bff 87.1px,#0008ff 87.9px,#0008ff 92.1px,#01f 93.8px,#0027ff 96.3px,#004cff 98px,#0067ff 98.8px,#009eff 100.5px,#00b9ff 101.3px,#00d6ff 103px,#00deff 103.8px,#00d1ff 105.5px,#00c7ff 106px,#0086ff 108px,#004eff 110px,#0043ff 112px,#0045ff 112.2px,#008fff 113.8px,#00fbff 115.2px,#0ff 115.2px,#09fff6 115.3px,#79ff86 116.5px,#89ff76 116.7px,#f8ff07 117.8px,#ff0 117.9px,#fff600 118px,#ff8600 119.2px,#ff7600 119.3px,#ff0700 120.5px,#f00 120.6px,#f90000 120.7px,#9d0000 122.2px,#900 122.4px,#900 130.5px,#a50000 131.4px,#ca0000 132.4px,#de0000 133.1px,#f70000 134.4px,#f00 134.6px,#ff1500 135.1px,#ff6100 136.1px,#ff8a00 136.7px,#ffb000 137.7px,#ffc400 138.4px,#fd0 139.7px,#ffe800 140.6px,#fffb00 143.1px,#ff0 143.4px,#faff05 143.9px,#d9ff26 146.4px,#cdff32 147.3px,#9dff62 149.8px,#8cff73 150.6px,#62ff9d 152.6px,#08fff7 152.6px,#08fff7 161px,#14ffeb 169.4px,#3bffc4 173.5px,#8fff70 176.1px,#d9ff26 178.1px,#ff0 179.1px,#ffe500 179.7px,#ffb000 181.4px,#ffbc00 183.1px,#ffe700 184.7px,#fe0 185.2px,#fffa00 186.9px,#fffc00 187.8px,#fffa00 189.4px,#fffd00 190.3px,#ff0 190.5px,#f2ff0d 191.9px,#e7ff18 192.8px,#c6ff39 194.4px,#a9ff56 195.3px,#6eff91 196.4px,#39ffc6 197.5px,#08fff7 198.1px,#0ff 198.2px,#00c4ff 199.1px,#0094ff 199.8px,#006bff 200.6px,#001fff 202px,#001fff 203.6px,#003fff 205.3px,#004eff 205.8px,#0098ff 206.6px,#00cfff 207.1px,#0ff 207.6px,#1fffe0 207.8px,#4effb1 208.3px,#a9ff56 209.2px,#cbff34 209.5px,#ff0 210.2px,#ffd500 210.8px,#ffb100 212.5px,#ffb500 213.7px,#ffbc00 214.5px,#ffcb00 217px,#ffba00 219.2px,#ffb500 219.5px,#ff9400 221.2px,#f70 222px,#ff5800 222.9px,#ff2d00 224.2px,#ff1400 224.9px,#f00 225.5px,#e10000 226.5px,#da0000 227px,#cb0000 231.2px,#cb0000 235.4px,#ec0000 237.9px,#f60000 238.7px,#f00 239px,#ff2000 239.9px,#ff4600 240.9px,#ff7400 242.1px,#ff8500 242.9px,#ff6000 244.3px,#ff5800 244.6px,#f10 246.6px,#ff0900 247.1px,#f00 248px,#f30000 249.3px,#f80000 250.4px,#f00 251.5px,#ff0400 252.1px,#f20 253px,#ff6e00 254.3px,#ff9400 255px,#fd0 256.3px,#ffe800 256.6px,#ff0 258.8px,#ff0 261.3px,#ffe800 263.8px,#fff000 266.3px,#fffa00 268px,#ff0 268.5px,#fbff04 268.8px,#efff10 271.3px,#c9ff36 273.8px,#8fff70 276.4px,#30ffcf 278.9px,#0afff5 281.4px,#06fff9 282.2px,#0afff5 285.5px,#3effc1 287.4px,#63ff9c 288.4px,#90ff6f 289.1px,#d3ff2c 290.1px,#ff0 290.6px,#fff800 290.7px,#ffa300 291.7px,#ff8400 292.1px,#ff2400 293.1px,#ff0100 293.4px,#f00 293.4px,#cb0000 294.2px,#800000 295.2px,#800000 314.2px)"></i><i style="height:8.34px;background:linear-gradient(90deg,#800000 0px,#800000 9px,#8c0000 9.4px,#e70000 10.2px,#f00 10.4px,#ff0b00 10.5px,#ff6a00 11.5px,#ff8300 11.9px,#ffbf00 13.5px,#ffc800 13.9px,#ffdb00 16px,#ffde00 16.4px,#fff300 18.5px,#fff800 19px,#ff0 21.1px,#fbff04 21.9px,#fdff02 23.6px,#feff01 24.4px,#ff0 25.7px,#ff0 25.7px,#ffe800 26.9px,#ffd200 27.7px,#ffad00 29.4px,#ffa600 29.7px,#ff6f00 31.9px,#ff4000 34.4px,#f20 37.8px,#ff0d00 41.1px,#f00 43.1px,#f60000 44.5px,#f10000 45.3px,#fb0000 47.5px,#f00 47.6px,#f10 48.1px,#ff5e00 49.1px,#ff9500 49.8px,#ffd500 50.5px,#ff0 50.9px,#e2ff1d 51.1px,#bcff43 51.5px,#5bffa4 52.3px,#4bffb4 52.5px,#0ff 53.3px,#00efff 53.5px,#0df 53.8px,#009cff 55.3px,#007aff 57.5px,#00a7ff 59.2px,#00b8ff 59.8px,#00e4ff 60.8px,#0ff 61.6px,#0ffff0 62px,#20ffdf 62.8px,#3cffc3 64.5px,#4dffb2 65.4px,#67ff98 67px,#82ff7d 67.9px,#b2ff4d 69.2px,#d4ff2b 70.4px,#ef1 71.2px,#ff0 71.8px,#fff300 72.2px,#ffdb00 72.9px,#ffbc00 73.9px,#ffa900 74.5px,#ffa600 75.6px,#ffb600 76.2px,#ffdc00 77.2px,#ff0 77.8px,#fbff04 77.9px,#ceff31 78.6px,#8aff75 79.6px,#6fff90 79.9px,#08fff7 81.1px,#0ff 81.2px,#00faff 81.2px,#09f 82.4px,#0075ff 82.9px,#003eff 83.9px,#0024ff 84.6px,#000bff 87.1px,#0004ff 87.9px,#0004ff 92.1px,#000aff 93.8px,#0020ff 96.3px,#003cff 98px,#0058ff 98.8px,#0091ff 100.5px,#00adff 101.3px,#00d7ff 103px,#00e1ff 103.8px,#00e5ff 105.5px,#00dcff 106px,#00a9ff 108px,#006eff 110px,#005dff 112px,#005fff 112.2px,#09f 113.8px,#00f8ff 115.2px,#0ff 115.3px,#05fffa 115.3px,#75ff8a 116.5px,#85ff7a 116.7px,#f4ff0b 117.8px,#ff0 118px,#fffa00 118px,#ff8a00 119.2px,#ff7a00 119.3px,#ff0b00 120.5px,#f00 120.6px,#fc0000 120.7px,#a00000 122.2px,#900 122.4px,#900 130.5px,#ac0000 131.4px,#d00000 132.4px,#e10000 133.1px,#fb0000 134.4px,#f00 134.5px,#f20 135.1px,#ff6e00 136.1px,#ff9000 136.7px,#ffb700 137.7px,#ffc800 138.4px,#ffe000 139.7px,#ffea00 140.6px,#fffd00 143.1px,#ff0 143.3px,#f7ff08 143.9px,#d4ff2b 146.4px,#c6ff39 147.3px,#96ff69 149.8px,#84ff7b 150.6px,#58ffa7 152.6px,#04fffb 152.6px,#04fffb 161px,#1fe 169.4px,#37ffc8 173.5px,#8f7 176.1px,#d9ff26 178.1px,#ff0 179.1px,#ffe500 179.7px,#ffa600 181.4px,#ffa200 183.1px,#ffdb00 184.7px,#ffe300 185.2px,#fff700 186.9px,#fff900 187.8px,#fffc00 189.4px,#ff0 189.8px,#fbff04 190.3px,#e7ff18 191.9px,#d8ff27 192.8px,#b3ff4c 194.4px,#8cff73 195.3px,#4affb5 196.4px,#0ffff0 197.5px,#0ff 197.7px,#00deff 198.1px,#00a1ff 199.1px,#0076ff 199.8px,#005eff 200.6px,#0032ff 202px,#0032ff 203.6px,#0065ff 205.3px,#007eff 205.8px,#00c3ff 206.6px,#0ff 207.1px,#0ff 207.1px,#52ffad 207.8px,#7eff81 208.3px,#cdff32 209.2px,#eaff15 209.5px,#ff0 209.8px,#ffbc00 210.8px,#ffa000 212.5px,#ff9f00 213.7px,#ffa200 214.5px,#ffab00 217px,#ff9800 219.2px,#ff9400 219.5px,#ff7200 221.2px,#ff5a00 222px,#ff4000 222.9px,#ff1a00 224.2px,#ff0100 224.9px,#f00 224.9px,#c80000 226.5px,#c40000 227px,#b00 231.2px,#b00 235.4px,#e40000 237.9px,#f00000 238.7px,#f00 239.3px,#ff1300 239.9px,#ff3200 240.9px,#ff5900 242.1px,#ff5a00 242.9px,#ff3800 244.3px,#ff3100 244.6px,#f00 246.5px,#fc0000 246.6px,#f40000 247.1px,#eb0000 249.3px,#f00000 250.4px,#fe0000 252.1px,#f00 252.2px,#ff1300 253px,#ff6300 254.3px,#ff8b00 255px,#ffd800 256.3px,#ffe700 256.6px,#ff0 258.8px,#ff0 261.3px,#fff200 263.8px,#fff600 266.3px,#fffc00 268px,#ff0 268.3px,#f9ff06 268.8px,#e6ff19 271.3px,#c0ff3f 273.8px,#8f7 276.4px,#27ffd8 278.9px,#09fff6 281.4px,#03fffc 282.2px,#1fe 285.5px,#5affa5 287.4px,#8fff70 288.4px,#bfff40 289.1px,#ff0 290px,#fff800 290.1px,#ffc500 290.7px,#ff6c00 291.7px,#ff4c00 292.1px,#f00 292.9px,#eb0000 293.1px,#ca0000 293.4px,#ab0000 294.2px,#800000 295.2px,#800000 314.2px)"></i><i style="height:8.34px;background:linear-gradient(90deg,#800000 0px,#800000 9px,#830000 9.4px,#de0000 10.2px,#f00 10.5px,#ff0300 10.5px,#ff6300 11.5px,#ff8000 11.9px,#ffbf00 13.5px,#ffcb00 13.9px,#ffe000 16px,#ffe300 16.4px,#fff800 18.5px,#fffd00 19px,#ff0 21.1px,#feff01 21.9px,#ff0 22px,#fff300 23.6px,#ffed00 24.4px,#ffe200 25.7px,#ffd400 26.9px,#ffc100 27.7px,#ff9e00 29.4px,#ff9700 29.7px,#ff6800 31.9px,#ff3600 34.4px,#ff1c00 37.8px,#ff0300 41.1px,#f00 41.7px,#e00 44.5px,#e90000 45.3px,#fa0000 47.5px,#f00 47.8px,#ff0500 48.1px,#ff5100 49.1px,#ff8500 49.8px,#ffc500 50.5px,#ff0 51.1px,#f7ff08 51.1px,#d2ff2d 51.5px,#76ff89 52.3px,#67ff98 52.5px,#0ffff0 53.5px,#01fffe 53.8px,#0ff 53.8px,#00c9ff 55.3px,#009aff 57.5px,#00adff 59.2px,#00b4ff 59.8px,#00daff 60.8px,#0ff 61.9px,#04fffb 62px,#0ffff0 62.8px,#23ffdc 64.5px,#31ffce 65.4px,#4affb5 67px,#6bff94 67.9px,#a0ff5f 69.2px,#c4ff3b 70.4px,#deff21 71.2px,#fdff02 72.2px,#ff0 72.3px,#ffec00 72.9px,#ffd300 73.9px,#ffc300 74.5px,#ffcd00 75.6px,#ffd900 76.2px,#ff0 77.2px,#ff0 77.2px,#e2ff1d 77.9px,#bcff43 78.6px,#82ff7d 79.6px,#68ff97 79.9px,#0cfff3 81.1px,#0ff 81.2px,#00feff 81.2px,#00a2ff 82.4px,#007dff 82.9px,#0047ff 83.9px,#0026ff 84.6px,#000aff 87.1px,#0001ff 87.9px,#0001ff 92.1px,#0003ff 93.8px,#0019ff 96.3px,#002cff 98px,#0049ff 98.8px,#0084ff 100.5px,#00a1ff 101.3px,#00d8ff 103px,#00e4ff 103.8px,#00f8ff 105.5px,#00f0ff 106px,#0cf 108px,#008dff 110px,#0076ff 112px,#0079ff 112.2px,#00a2ff 113.8px,#00f6ff 115.2px,#0ff 115.3px,#01fffe 115.3px,#71ff8e 116.5px,#81ff7e 116.7px,#f1ff0e 117.8px,#ff0 118px,#fffe00 118px,#ff8e00 119.2px,#ff7e00 119.3px,#ff0e00 120.5px,#f00 120.7px,#fe0000 120.7px,#a20000 122.2px,#900 122.4px,#900 130.5px,#b30000 131.4px,#d60000 132.4px,#e40000 133.1px,#fe0000 134.4px,#f00 134.4px,#ff2e00 135.1px,#ff7b00 136.1px,#ff9700 136.7px,#ffbd00 137.7px,#ffcb00 138.4px,#ffe400 139.7px,#ffeb00 140.6px,#fffe00 143.1px,#ff0 143.1px,#f3ff0c 143.9px,#ceff31 146.4px,#bfff40 147.3px,#8fff70 149.8px,#7cff83 150.6px,#4effb1 152.6px,#01fffe 152.6px,#01fffe 161px,#0efff1 169.4px,#34ffcb 173.5px,#82ff7d 176.1px,#d9ff26 178.1px,#ff0 179.1px,#ffe500 179.7px,#ff9c00 181.4px,#ff8900 183.1px,#ffd000 184.7px,#ffd900 185.2px,#fff300 186.9px,#fff700 187.8px,#fffe00 189.4px,#ff0 189.5px,#f5ff0a 190.3px,#df2 191.9px,#c9ff36 192.8px,#a0ff5f 194.4px,#6eff91 195.3px,#27ffd8 196.4px,#0ff 197px,#00e3ff 197.5px,#00b5ff 198.1px,#007dff 199.1px,#0058ff 199.8px,#0051ff 200.6px,#0046ff 202px,#0046ff 203.6px,#008bff 205.3px,#00aeff 205.8px,#00efff 206.6px,#0ff 206.8px,#30ffcf 207.1px,#86ff79 207.8px,#aeff51 208.3px,#f2ff0d 209.2px,#ff0 209.3px,#fff600 209.5px,#ffa200 210.8px,#ff9000 212.5px,#f80 213.7px,#ff8900 214.5px,#ff8b00 217px,#ff7600 219.2px,#ff7200 219.5px,#ff5000 221.2px,#ff3d00 222px,#ff2800 222.9px,#ff0700 224.2px,#f00 224.4px,#ec0000 224.9px,#af0000 226.5px,#ae0000 227px,#ac0000 231.2px,#ac0000 235.4px,#dc0000 237.9px,#eb0000 238.7px,#f00 239.7px,#ff0500 239.9px,#ff1f00 240.9px,#ff3d00 242.1px,#ff2f00 242.9px,#ff0f00 244.3px,#ff0a00 244.6px,#f00 245.2px,#e70000 246.6px,#e00000 247.1px,#e40000 249.3px,#e80000 250.4px,#f80000 252.1px,#f00 252.6px,#ff0500 253px,#ff5900 254.3px,#ff8300 255px,#ffd300 256.3px,#ffe600 256.6px,#ff0 258.8px,#ff0 261.3px,#fffc00 263.8px,#fffd00 266.3px,#fffe00 268px,#ff0 268.1px,#f6ff09 268.8px,#dcff23 271.3px,#b6ff49 273.8px,#82ff7d 276.4px,#1dffe2 278.9px,#07fff8 281.4px,#01fffe 282.2px,#17ffe8 285.5px,#75ff8a 287.4px,#bcff43 288.4px,#ef1 289.1px,#ff0 289.3px,#ffc500 290.1px,#ff9200 290.7px,#ff3400 291.7px,#ff1400 292.1px,#f00 292.3px,#b40000 293.1px,#930000 293.4px,#8b0000 294.2px,#800000 295.2px,#800000 314.2px)"></i><i style="height:8.34px;background:linear-gradient(90deg,#800000 0px,#800000 9.4px,#9e0000 9.7px,#f70000 10.5px,#f00 10.6px,#ff2800 11px,#ff7800 11.9px,#ff9000 12.4px,#ffc700 13.9px,#ffce00 14.4px,#ffe100 16.4px,#ffe500 16.9px,#fff300 19px,#fff300 19.4px,#ffeb00 21.9px,#ffd100 24.4px,#ffb700 26.9px,#ffa700 27.7px,#ff8900 29.4px,#ff6a00 31.1px,#ff5b00 31.9px,#ff2e00 34.4px,#ff2800 35.3px,#ff1500 37.8px,#ff0900 39.4px,#f00 40.7px,#fc0000 41.1px,#ea0000 44.5px,#e70000 45.3px,#fc0000 47.8px,#f00 48px,#ff0200 48.1px,#ff7500 49.8px,#ffeb00 51.1px,#ff0 51.3px,#94ff6b 52.3px,#2affd5 53.5px,#0ff 54.5px,#00f1ff 54.8px,#00e2ff 55.3px,#00beff 57px,#00b2ff 57.5px,#00b5ff 59.5px,#00b5ff 59.8px,#00efff 62px,#0ff 64.3px,#01fffe 64.5px,#25ffda 67px,#7bff84 69.2px,#baff45 71.2px,#ef1 72.9px,#f6ff09 73.2px,#ff0 73.6px,#ffea00 74.5px,#ffed00 74.9px,#ff0 76px,#fbff04 76.2px,#efff10 76.6px,#beff41 77.9px,#9cff63 78.6px,#6f9 79.6px,#1dffe2 80.6px,#0ff 81px,#00ecff 81.2px,#0073ff 82.9px,#0025ff 84.6px,#0012ff 86.2px,#0001ff 87.9px,#00f 88.8px,#0000fd 91.3px,#0000fd 93.8px,#00f 94px,#01f 96.3px,#0021ff 98px,#0056ff 99.6px,#0075ff 100.5px,#00b2ff 102.1px,#00cfff 103px,#0ef 104.6px,#00fcff 105.5px,#00ecff 107.1px,#00e2ff 108px,#00b6ff 109.7px,#00adff 110px,#0094ff 112px,#0097ff 112.2px,#00b7ff 113.8px,#00d1ff 114.3px,#0ff 115.1px,#0efff1 115.3px,#4affb5 116px,#8aff75 116.7px,#c9ff36 117.3px,#ff0 117.9px,#fff500 118px,#ffb500 118.7px,#ff7500 119.3px,#ff3600 120px,#f00 120.6px,#fb0000 120.7px,#a40000 122.2px,#9b0000 122.4px,#9b0000 128.9px,#a30000 130.5px,#b40000 131.1px,#d00 132.4px,#ea0000 133.1px,#f00 133.9px,#ff0d00 134.4px,#ff3f00 135.1px,#ff8700 136.1px,#ffa100 136.7px,#ffc400 137.7px,#ffda00 138.9px,#ffea00 139.7px,#ff0 142.2px,#feff01 142.3px,#f7ff08 143.1px,#d3ff2c 145.6px,#c6ff39 146.4px,#98ff67 148.9px,#8f7 149.8px,#50ffaf 152.3px,#48ffb7 152.6px,#0ff 152.6px,#0ff 161px,#0dfff2 169.4px,#35ffca 173.5px,#84ff7b 176.1px,#d2ff2d 177.7px,#e3ff1c 178.1px,#ff0 178.7px,#ffe000 179.4px,#ffd300 179.7px,#ff8500 181.4px,#ff6c00 183.1px,#ff7f00 183.6px,#ffb700 184.7px,#ffc300 185.2px,#fff000 186.9px,#ff0 188.6px,#faff05 189.1px,#f7ff08 189.4px,#d5ff2a 191.1px,#c4ff3b 191.9px,#a1ff5e 193.1px,#76ff89 194.4px,#61ff9e 194.8px,#0ff 196.3px,#00f2ff 196.4px,#0092ff 198.1px,#0046ff 199.8px,#0046ff 201.1px,#05f 202.8px,#005fff 203.6px,#0089ff 204.5px,#00b5ff 205.3px,#00f7ff 206.1px,#0ff 206.3px,#1dffe2 206.6px,#a9ff56 207.8px,#ff0 208.9px,#ffef00 209.2px,#ffda00 209.5px,#f80 210.8px,#ff8200 211.2px,#ff6b00 213.7px,#ff5f00 217px,#ff4900 219.5px,#ff1e00 222px,#f00 223.5px,#f10000 224.2px,#b00000 226.2px,#a60000 226.5px,#ac0000 229.5px,#b00000 232.1px,#a80000 234.6px,#a80000 235.4px,#d20000 237.9px,#f10000 239.9px,#f00 240.6px,#ff0c00 241.2px,#ff1e00 242.1px,#f00 243.8px,#f60000 244.3px,#f30000 244.6px,#da0000 247.1px,#d00 247.9px,#e90000 250.4px,#f10000 251.3px,#f00 252.4px,#ff0700 253px,#ff3700 253.8px,#ff7b00 255px,#ffb300 256px,#ffd800 256.6px,#fe0 258.3px,#fff400 258.8px,#fff700 261.3px,#fff900 264.7px,#fffb00 268px,#ff0 268.4px,#e1ff1e 271.3px,#bfff40 273.8px,#b6ff49 274.3px,#8dff72 276.4px,#80ff7f 276.7px,#2affd5 278.9px,#0cfff3 281px,#04fffb 282.2px,#09fff6 283px,#24ffdb 284.7px,#36ffc9 285.5px,#5fa 286.1px,#a8ff57 287.4px,#ff0 288.5px,#fff700 288.6px,#ffce00 289.1px,#ff9700 289.7px,#ff5700 290.7px,#f00 291.8px,#eb0000 292.1px,#800000 293.4px,#800000 314.2px)"></i><i style="height:8.34px;background:linear-gradient(90deg,#800000 0px,#800000 9.4px,#950000 9.7px,#eb0000 10.5px,#f00 10.7px,#ff1c00 11px,#ff6c00 11.9px,#ff8b00 12.4px,#ffc000 13.9px,#ffca00 14.4px,#ffda00 16.4px,#ffde00 16.9px,#ffe100 19px,#ffe000 19.4px,#ffcb00 21.9px,#ffb100 24.4px,#ff9700 26.9px,#ff8900 27.7px,#ff6f00 29.4px,#ff5600 31.1px,#ff4a00 31.9px,#ff2500 34.4px,#ff2000 35.3px,#ff0e00 37.8px,#ff0200 39.4px,#f00 39.9px,#f80000 41.1px,#e90000 44.5px,#e80000 45.3px,#fd0000 47.8px,#f00 47.9px,#ff0400 48.1px,#ff6500 49.8px,#ffcb00 51.1px,#ff0 51.6px,#b4ff4b 52.3px,#43ffbc 53.5px,#0ff 54.8px,#00fdff 54.8px,#00f0ff 55.3px,#00d1ff 57px,#00c6ff 57.5px,#00bcff 59.5px,#00baff 59.8px,#00d5ff 62px,#00daff 64.5px,#00fbff 67px,#0ff 67.1px,#4bffb4 69.2px,#8bff74 71.2px,#bfff40 72.9px,#c7ff38 73.2px,#e6ff19 74.5px,#e6ff19 74.9px,#ceff31 76.2px,#c3ff3c 76.6px,#93ff6c 77.9px,#76ff89 78.6px,#3effc1 79.6px,#0ff 80.5px,#00f9ff 80.6px,#00cdff 81.2px,#0060ff 82.9px,#0024ff 84.6px,#01f 86.2px,#0002ff 87.9px,#00f 88.8px,#0000fa 91.3px,#0000fa 93.8px,#00f 94.7px,#0008ff 96.3px,#0019ff 98px,#04f 99.6px,#0064ff 100.5px,#00a3ff 102.1px,#00c0ff 103px,#00e8ff 104.6px,#00f6ff 105.5px,#00f5ff 107.1px,#00efff 108px,#00d3ff 109.7px,#0cf 110px,#00b4ff 112px,#00b6ff 112.2px,#00d2ff 113.8px,#00e6ff 114.3px,#0ff 114.7px,#23ffdc 115.3px,#5affa5 116px,#9aff65 116.7px,#d9ff26 117.3px,#ff0 117.7px,#ffe500 118px,#ffa500 118.7px,#ff6500 119.3px,#ff2600 120px,#f00 120.5px,#f40000 120.7px,#a40000 122.2px,#9e0000 122.4px,#9e0000 128.9px,#b20000 130.5px,#c30000 131.1px,#e50000 132.4px,#f00000 133.1px,#f00 133.5px,#ff2300 134.4px,#ff5200 135.1px,#ff9200 136.1px,#ffae00 136.7px,#fc0 137.7px,#ffe100 138.9px,#fff000 139.7px,#ff0 141.1px,#f3ff0c 142.3px,#ebff14 143.1px,#c9ff36 145.6px,#bcff43 146.4px,#90ff6f 148.9px,#81ff7e 149.8px,#4bffb4 152.3px,#4fb 152.6px,#0ff 152.6px,#0ff 161px,#0dfff2 169.4px,#38ffc7 173.5px,#8aff75 176.1px,#e0ff1f 177.7px,#f3ff0c 178.1px,#ff0 178.3px,#ffc300 179.4px,#ffb500 179.7px,#ff6500 181.4px,#ff4e00 183.1px,#ff5900 183.6px,#ff9600 184.7px,#ffa800 185.2px,#ffed00 186.9px,#ff0 188.1px,#f0ff0f 189.1px,#e9ff16 189.4px,#bcff43 191.1px,#a3ff5c 191.9px,#79ff86 193.1px,#40ffbf 194.4px,#2affd5 194.8px,#0ff 195.4px,#00b6ff 196.4px,#0072ff 198.1px,#003dff 199.8px,#003dff 201.1px,#0061ff 202.8px,#007bff 203.6px,#00acff 204.5px,#00e2ff 205.3px,#0ff 205.7px,#28ffd7 206.1px,#4bffb4 206.6px,#c3ff3c 207.8px,#ff0 208.6px,#ffd500 209.2px,#ffbf00 209.5px,#ff6d00 210.8px,#ff6300 211.2px,#ff4b00 213.7px,#ff2c00 217px,#ff1c00 219.5px,#f00 221.7px,#fb0000 222px,#dc0000 224.2px,#ad0000 226.2px,#a70000 226.5px,#b50000 229.5px,#c00000 232.1px,#ab0000 234.6px,#a00 235.4px,#c70000 237.9px,#dc0000 239.9px,#ed0000 241.2px,#fd0000 242.1px,#e90000 244.3px,#e80000 244.6px,#db0000 247.1px,#e00000 247.9px,#ed0000 250.4px,#f50000 251.3px,#f00 251.9px,#f10 253px,#ff3900 253.8px,#ff7300 255px,#ffa400 256px,#ffc200 256.6px,#ffdc00 258.3px,#ffe200 258.8px,#ffea00 261.3px,#ffef00 264.7px,#fff500 268px,#ff0 269.2px,#ef1 271.3px,#d3ff2c 273.8px,#cf3 274.3px,#a2ff5d 276.4px,#97ff68 276.7px,#43ffbc 278.9px,#10ffef 281px,#0afff5 282.2px,#0efff1 283px,#3fffc0 284.7px,#64ff9b 285.5px,#8f7 286.1px,#e8ff17 287.4px,#ff0 287.6px,#ffae00 288.6px,#ff8100 289.1px,#ff4500 289.7px,#ff1700 290.7px,#f00 291.1px,#cb0000 292.1px,#800000 293.4px,#800000 314.2px)"></i><i style="height:8.34px;background:linear-gradient(90deg,#800000 0px,#800000 9.4px,#8c0000 9.7px,#e00000 10.5px,#f00 10.9px,#ff1000 11px,#ff6000 11.9px,#ff8600 12.4px,#ffb900 13.9px,#ffc500 14.4px,#ffd300 16.4px,#ffd600 16.9px,#ffcf00 19px,#ffcd00 19.4px,#ffab00 21.9px,#ff9200 24.4px,#ff7600 26.9px,#ff6a00 27.7px,#ff5600 29.4px,#ff4200 31.1px,#ff3900 31.9px,#ff1d00 34.4px,#ff1800 35.3px,#ff0700 37.8px,#f00 38.8px,#fb0000 39.4px,#f40000 41.1px,#e70000 44.5px,#ea0000 45.3px,#fe0000 47.8px,#f00 47.8px,#ff0700 48.1px,#ff5600 49.8px,#ffab00 51.1px,#ff0 51.9px,#d3ff2c 52.3px,#5dffa2 53.5px,#0afff5 54.8px,#0ff 55.3px,#0ff 55.3px,#00e4ff 57px,#00daff 57.5px,#00c3ff 59.5px,#00bfff 59.8px,#00bcff 62px,#00b4ff 64.5px,#00d2ff 67px,#0ff 68.4px,#1bffe4 69.2px,#5bffa4 71.2px,#8fff70 72.9px,#9f6 73.2px,#b8ff47 74.5px,#bf4 74.9px,#a0ff5f 76.2px,#96ff69 76.6px,#69ff96 77.9px,#4fffb0 78.6px,#17ffe8 79.6px,#0ff 79.9px,#00d6ff 80.6px,#00afff 81.2px,#004dff 82.9px,#02f 84.6px,#000fff 86.2px,#0003ff 87.9px,#00f 88.8px,#0000f7 91.3px,#0000f7 93.8px,#0000fe 96.3px,#00f 96.3px,#01f 98px,#0032ff 99.6px,#0053ff 100.5px,#0094ff 102.1px,#00b2ff 103px,#00e1ff 104.6px,#00f1ff 105.5px,#0ff 107.1px,#00fdff 108px,#00f0ff 109.7px,#00ebff 110px,#00d4ff 112px,#00d5ff 112.2px,#00edff 113.8px,#00fbff 114.3px,#0ff 114.4px,#39ffc6 115.3px,#6aff95 116px,#a9ff56 116.7px,#e9ff16 117.3px,#ff0 117.6px,#ffd500 118px,#ff9500 118.7px,#ff5600 119.3px,#ff1600 120px,#f00 120.4px,#ed0000 120.7px,#a50000 122.2px,#a10000 122.4px,#a10000 128.9px,#c20000 130.5px,#d10000 131.1px,#ec0000 132.4px,#f60000 133.1px,#f00 133.2px,#ff3800 134.4px,#ff6500 135.1px,#ff9e00 136.1px,#fb0 136.7px,#ffd300 137.7px,#ffe800 138.9px,#fff600 139.7px,#ff0 140.4px,#e8ff17 142.3px,#e0ff1f 143.1px,#c0ff3f 145.6px,#b3ff4c 146.4px,#89ff76 148.9px,#79ff86 149.8px,#46ffb9 152.3px,#41ffbe 152.6px,#0ff 152.6px,#0ff 161px,#0dfff2 169.4px,#3bffc4 173.5px,#90ff6f 176.1px,#edff12 177.7px,#ff0 178px,#fffb00 178.1px,#ffa700 179.4px,#ff9700 179.7px,#ff4500 181.4px,#ff3000 183.1px,#ff3400 183.6px,#ff7500 184.7px,#ff8c00 185.2px,#ffea00 186.9px,#ff0 187.9px,#e6ff19 189.1px,#dcff23 189.4px,#a2ff5d 191.1px,#82ff7d 191.9px,#51ffae 193.1px,#09fff6 194.4px,#0ff 194.6px,#00f1ff 194.8px,#0079ff 196.4px,#0052ff 198.1px,#03f 199.8px,#03f 201.1px,#006eff 202.8px,#0098ff 203.6px,#00cfff 204.5px,#0ff 205.1px,#0ffff0 205.3px,#58ffa7 206.1px,#79ff86 206.6px,#dcff23 207.8px,#ff0 208.3px,#ffbc00 209.2px,#ffa400 209.5px,#ff5300 210.8px,#f40 211.2px,#ff2c00 213.7px,#f00 216.6px,#f80000 217px,#ed0000 219.5px,#da0000 222px,#c60000 224.2px,#a00 226.2px,#a80000 226.5px,#bf0000 229.5px,#d00000 232.1px,#ae0000 234.6px,#ad0000 235.4px,#b00 237.9px,#c60000 239.9px,#cf0000 241.2px,#dc0000 242.1px,#db0000 244.3px,#dc0000 244.6px,#d00 247.1px,#e20000 247.9px,#f20000 250.4px,#f90000 251.3px,#f00 251.6px,#ff1c00 253px,#ff3c00 253.8px,#ff6c00 255px,#ff9400 256px,#ffac00 256.6px,#ffcb00 258.3px,#ffcf00 258.8px,#fd0 261.3px,#ffe600 264.7px,#fe0 268px,#ff0 270.6px,#faff05 271.3px,#e6ff19 273.8px,#e1ff1e 274.3px,#b7ff48 276.4px,#adff52 276.7px,#5dffa2 278.9px,#14ffeb 281px,#1fe 282.2px,#13ffec 283px,#5affa5 284.7px,#91ff6e 285.5px,#baff45 286.1px,#ff0 286.9px,#ffd700 287.4px,#ff6400 288.6px,#f30 289.1px,#f00 289.6px,#f10000 289.7px,#d70000 290.7px,#ab0000 292.1px,#800000 293.4px,#800000 314.2px)"></i><i style="height:8.34px;background:linear-gradient(90deg,#800000 0px,#800000 9.4px,#830000 9.7px,#d40000 10.5px,#f00 11px,#ff0400 11px,#ff5400 11.9px,#ff8100 12.4px,#ffb200 13.9px,#ffc100 14.4px,#fc0 16.4px,#ffcf00 16.9px,#ffbd00 19px,#ffba00 19.4px,#ff8b00 21.9px,#ff7200 24.4px,#f50 26.9px,#ff4b00 27.7px,#ff3c00 29.4px,#ff2e00 31.1px,#ff2800 31.9px,#ff1500 34.4px,#ff1000 35.3px,#f00 37.8px,#f00 37.8px,#f50000 39.4px,#f00000 41.1px,#e60000 44.5px,#eb0000 45.3px,#f00 47.8px,#f00 47.8px,#ff0a00 48.1px,#ff4600 49.8px,#ff8b00 51.1px,#ff0 52.2px,#f3ff0c 52.3px,#76ff89 53.5px,#15ffea 54.8px,#0efff1 55.3px,#0ff 56.4px,#00f8ff 57px,#00edff 57.5px,#00c9ff 59.5px,#00c3ff 59.8px,#00a2ff 62px,#008eff 64.5px,#00a8ff 67px,#00ebff 69.2px,#0ff 69.8px,#2bffd4 71.2px,#60ff9f 72.9px,#6bff94 73.2px,#89ff76 74.5px,#90ff6f 74.9px,#72ff8d 76.2px,#6aff95 76.6px,#3fffc0 77.9px,#28ffd7 78.6px,#0ff 79.3px,#0ef 79.6px,#00b3ff 80.6px,#0090ff 81.2px,#003aff 82.9px,#0020ff 84.6px,#000dff 86.2px,#0004ff 87.9px,#00f 88.8px,#0000f3 91.3px,#0000f3 93.8px,#0000f6 96.3px,#00f 97.1px,#0009ff 98px,#0020ff 99.6px,#0042ff 100.5px,#0085ff 102.1px,#00a3ff 103px,#00dbff 104.6px,#00ecff 105.5px,#0ff 106.6px,#09fff6 107.1px,#0cfff3 108px,#0ffff0 109.7px,#0bfff4 110px,#0ff 111px,#00f5ff 112px,#00f3ff 112.2px,#0ff 113.1px,#09fff6 113.8px,#12ffed 114.3px,#4fffb0 115.3px,#7aff85 116px,#b9ff46 116.7px,#f9ff06 117.3px,#ff0 117.4px,#ffc500 118px,#ff8500 118.7px,#ff4600 119.3px,#ff0600 120px,#f00 120.1px,#e60000 120.7px,#a60000 122.2px,#a50000 122.4px,#a50000 128.9px,#d10000 130.5px,#e00000 131.1px,#f40000 132.4px,#fd0000 133.1px,#f00 133.1px,#ff4d00 134.4px,#ff7800 135.1px,#ffa900 136.1px,#ffc700 136.7px,#ffdb00 137.7px,#fff000 138.9px,#fffd00 139.7px,#ff0 139.9px,#df2 142.3px,#d4ff2b 143.1px,#b6ff49 145.6px,#a9ff56 146.4px,#82ff7d 148.9px,#72ff8d 149.8px,#42ffbd 152.3px,#3dffc2 152.6px,#0ff 152.6px,#0ff 161px,#0dfff2 169.4px,#3fffc0 173.5px,#97ff68 176.1px,#faff05 177.7px,#ff0 177.8px,#ffeb00 178.1px,#ff8a00 179.4px,#ff7a00 179.7px,#ff2500 181.4px,#f10 183.1px,#ff0e00 183.6px,#ff5400 184.7px,#ff7000 185.2px,#ffe700 186.9px,#ff0 187.8px,#dcff23 189.1px,#cfff30 189.4px,#89ff76 191.1px,#61ff9e 191.9px,#29ffd6 193.1px,#0ff 193.7px,#00d1ff 194.4px,#00baff 194.8px,#003dff 196.4px,#0032ff 198.1px,#002aff 199.8px,#002aff 201.1px,#007bff 202.8px,#00b5ff 203.6px,#00f2ff 204.5px,#0ff 204.6px,#3cffc3 205.3px,#87ff78 206.1px,#a7ff58 206.6px,#f6ff09 207.8px,#ff0 207.9px,#ffa200 209.2px,#ff8900 209.5px,#ff3800 210.8px,#ff2500 211.2px,#ff0c00 213.7px,#f00 214.2px,#c50000 217px,#c00000 219.5px,#b80000 222px,#b10000 224.2px,#a70000 226.2px,#a90000 226.5px,#c80000 229.5px,#e00000 232.1px,#b10000 234.6px,#b00000 235.4px,#b00000 239.9px,#b10000 241.2px,#b00 242.1px,#cd0000 244.3px,#d00000 244.6px,#df0000 247.1px,#e50000 247.9px,#f70000 250.4px,#fd0000 251.3px,#f00 251.3px,#ff2700 253px,#ff3f00 253.8px,#ff6500 255px,#ff8500 256px,#ff9600 256.6px,#ffb900 258.3px,#ffbd00 258.8px,#ffd100 261.3px,#ffdc00 264.7px,#ffe800 268px,#fff700 271.3px,#ff0 272.9px,#faff05 273.8px,#f7ff08 274.3px,#cbff34 276.4px,#c4ff3b 276.7px,#76ff89 278.9px,#18ffe7 281px,#17ffe8 282.2px,#18ffe7 283px,#75ff8a 284.7px,#beff41 285.5px,#ecff13 286.1px,#ff0 286.3px,#ff9700 287.4px,#ff1b00 288.6px,#f00 288.8px,#e50000 289.1px,#9e0000 289.7px,#970000 290.7px,#8b0000 292.1px,#800000 293.4px,#800000 314.2px)"></i><i style="height:8.34px;background:linear-gradient(90deg,#800000 0px,#800000 9.7px,#d00000 10.7px,#f10000 11px,#f00 11.2px,#ff4300 11.9px,#ff7200 12.4px,#ff8d00 13px,#ffb600 14.4px,#ffbd00 15.2px,#ffc400 16.9px,#ffbd00 17.7px,#ffac00 19.4px,#ff9c00 20.2px,#ff7900 21.9px,#ff6e00 22.7px,#ff5c00 24.4px,#ff4800 26.1px,#ff3500 27.7px,#f20 30.2px,#ff1b00 31.1px,#ff0300 34.4px,#f00 35.2px,#f00 35.3px,#f50000 37.8px,#ef0000 39.4px,#ef0000 41.1px,#e90000 44.5px,#ef0000 45.3px,#f00 47.1px,#ff0600 47.8px,#ff1e00 48.6px,#f40 49.8px,#ff7200 50.8px,#ff8400 51.1px,#ff0 52.3px,#82ff7d 53.5px,#75ff8a 53.7px,#18ffe7 54.8px,#14ffeb 55px,#0ff 56.2px,#00f1ff 57px,#00baff 59.5px,#008bff 62px,#0082ff 62.8px,#0073ff 64.5px,#0080ff 66.2px,#0089ff 67px,#00c4ff 69.2px,#00ceff 69.5px,#0ff 71.1px,#04fffb 71.2px,#1effe1 72px,#45ffba 73.2px,#5fffa0 74.2px,#6dff92 74.9px,#4fffb0 76.6px,#16ffe9 78.6px,#05fffa 78.9px,#0ff 79px,#00aeff 80.6px,#0090ff 81.2px,#0043ff 82.9px,#0037ff 83.7px,#0013ff 86.2px,#00f 89.3px,#0000fd 89.6px,#0000f5 91.3px,#0000f2 93.8px,#0000f2 96.3px,#00f 97.6px,#0003ff 98px,#0017ff 99.6px,#0053ff 101.3px,#0075ff 102.1px,#00b2ff 103.8px,#00cfff 104.6px,#00f5ff 106.3px,#0ff 106.8px,#07fff8 107.1px,#12ffed 108.8px,#16ffe9 109.7px,#09fff6 111.3px,#01fffe 112.2px,#1fe 113.8px,#16ffe9 114.3px,#6fff90 116px,#8aff75 116.3px,#e3ff1c 117.3px,#ff0 117.7px,#ffc200 118.3px,#ffa300 118.7px,#ff2800 120px,#f00 120.9px,#d90000 121.7px,#c40000 122.2px,#bc0000 123.4px,#b40000 125.5px,#b40000 128.9px,#f90000 131.1px,#f00 131.3px,#ff2000 133.1px,#ff9300 135.1px,#ffd900 136.7px,#ffeb00 137.7px,#ff0 138.9px,#ff0 138.9px,#deff21 141.1px,#cf3 142.3px,#adff52 144.8px,#a3ff5c 145.6px,#7eff81 148.1px,#72ff8d 148.9px,#38ffc7 152.3px,#34ffcb 152.6px,#08fff7 152.6px,#0afff5 159.3px,#0bfff4 161px,#14ffeb 166px,#21ffde 169.4px,#2bffd4 170.2px,#4bffb4 172.7px,#59ffa6 173.5px,#83ff7c 174.7px,#b9ff46 176.1px,#ceff31 176.4px,#ff0 177.2px,#ffde00 177.7px,#ffc600 178.1px,#ff6b00 179.4px,#f40 180.2px,#ff1200 181.4px,#ff0400 182.7px,#f00 183.3px,#fd0000 183.6px,#f00 183.6px,#ff3c00 184.7px,#ff5c00 185.2px,#ffb500 186.4px,#fd0 186.9px,#fffe00 187.8px,#ff0 187.8px,#cbff34 189.1px,#85ff7a 190.4px,#63ff9c 191.1px,#34ffcb 191.9px,#0ff 192.9px,#00f4ff 193.1px,#00d2ff 193.6px,#008eff 194.8px,#02f 196.4px,#02f 200.3px,#002bff 201.1px,#005aff 202px,#0089ff 202.8px,#00c9ff 203.6px,#0ff 204.3px,#0cfff3 204.5px,#58ffa7 205.3px,#a1ff5e 206.1px,#d4ff2b 207px,#ff0 207.7px,#fff500 207.8px,#ffb500 208.7px,#ff7600 209.5px,#ff4100 210.3px,#f10 211.2px,#f00 212.4px,#f80000 212.8px,#f10000 213.7px,#b00000 217px,#a40000 226.2px,#c60000 228.7px,#d00000 229.5px,#e20000 231.2px,#e80000 232.1px,#d10000 233.2px,#b40000 234.6px,#af0000 235.4px,#a60000 241.2px,#b60000 242.9px,#cb0000 244.6px,#d30000 245.4px,#e60000 247.9px,#ed0000 248.8px,#fe0000 251.3px,#f00 251.3px,#ff2400 253px,#ff3700 253.8px,#ff7100 256px,#ff7800 256.3px,#ff9e00 258.3px,#ffa800 259.6px,#ffb500 261.3px,#ffbe00 263.8px,#ffc100 264.7px,#fc0 268px,#ffdb00 271.3px,#ffdf00 272.2px,#ffea00 274.3px,#ff0 275.4px,#fdff02 275.5px,#eaff15 276.7px,#c4ff3b 278px,#aeff51 278.9px,#71ff8e 280.5px,#5fffa0 281px,#65ff9a 283px,#c9ff36 284.7px,#ff0 285.3px,#ffeb00 285.5px,#ffc300 286.1px,#ff5800 287.4px,#f00 288.3px,#eb0000 288.6px,#800000 289.7px,#800000 314.2px)"></i><i style="height:8.34px;background:linear-gradient(90deg,#800000 0px,#800000 9.7px,#b80000 10.7px,#da0000 11px,#f00 11.4px,#ff2f00 11.9px,#ff5d00 12.4px,#ff8200 13px,#ffa800 14.4px,#ffb200 15.2px,#ffb700 16.9px,#ffb200 17.7px,#ffa100 19.4px,#ff9400 20.2px,#ff6e00 21.9px,#ff6100 22.7px,#ff4c00 24.4px,#ff3600 26.1px,#ff2500 27.7px,#ff1000 30.2px,#ff0800 31.1px,#f00 32px,#eb0000 34.4px,#ea0000 35.3px,#e90000 37.8px,#ea0000 39.4px,#f00000 41.1px,#ef0000 44.5px,#f40000 45.3px,#f00 46.4px,#ff1000 47.8px,#ff2400 48.6px,#ff4b00 49.8px,#ff7600 50.8px,#ff8b00 51.1px,#ff0 52.3px,#86ff79 53.5px,#78ff87 53.7px,#16ffe9 54.8px,#0efff1 55px,#0ff 55.5px,#00dbff 57px,#009dff 59.5px,#0073ff 62px,#006bff 62.8px,#005eff 64.5px,#0065ff 66.2px,#0070ff 67px,#00a3ff 69.2px,#00abff 69.5px,#00e0ff 71.2px,#00faff 72px,#0ff 72.2px,#24ffdb 73.2px,#43ffbc 74.2px,#4fffb0 74.9px,#3fffc0 76.6px,#1fe 78.6px,#04fffb 78.9px,#0ff 79px,#0bf 80.6px,#00a2ff 81.2px,#005cff 82.9px,#004cff 83.7px,#001cff 86.2px,#0003ff 89.6px,#00f 90.1px,#0000f8 91.3px,#0000f2 93.8px,#0000f2 96.3px,#0000fe 98px,#00f 98.1px,#0012ff 99.6px,#0042ff 101.3px,#0064ff 102.1px,#00a3ff 103.8px,#00c1ff 104.6px,#00edff 106.3px,#00fcff 107.1px,#0ff 107.4px,#0dfff2 108.8px,#1fe 109.7px,#0afff5 111.3px,#03fffc 112.2px,#0cfff3 113.8px,#1fe 114.3px,#5fa 116px,#69ff96 116.3px,#b7ff48 117.3px,#ff0 118.3px,#fffa00 118.3px,#fd0 118.7px,#ff6800 120px,#ff0b00 121.7px,#f00 121.9px,#f40000 122.2px,#df0000 123.4px,#ca0000 125.5px,#ca0000 128.9px,#f00 130.3px,#ff1a00 131.1px,#ff5300 133.1px,#ffb300 135.1px,#fe0 136.7px,#ff0 137.7px,#feff01 137.7px,#ebff14 138.9px,#c9ff36 141.1px,#b7ff48 142.3px,#94ff6b 144.8px,#8aff75 145.6px,#68ff97 148.1px,#5dffa2 148.9px,#2bffd4 152.3px,#28ffd7 152.6px,#15ffea 152.6px,#1affe5 159.3px,#1cffe3 161px,#29ffd6 166px,#41ffbe 169.4px,#4cffb3 170.2px,#6dff92 172.7px,#80ff7f 173.5px,#abff54 174.7px,#edff12 176.1px,#ff0 176.3px,#fffc00 176.4px,#fa0 177.7px,#ff9300 178.1px,#ff4900 179.4px,#ff2800 180.2px,#ff0500 181.4px,#f00 182.1px,#fa0000 182.7px,#f90000 183.6px,#f00 183.7px,#ff2a00 184.7px,#ff4c00 185.2px,#ffa500 186.4px,#ffd000 186.9px,#fffe00 187.8px,#ff0 187.8px,#b5ff4a 189.1px,#5dffa2 190.4px,#35ffca 191.1px,#0ff 191.9px,#00feff 191.9px,#00baff 193.1px,#0097ff 193.6px,#0068ff 194.8px,#001cff 196.4px,#001cff 200.3px,#03f 201.1px,#0065ff 202px,#09f 202.8px,#00d9ff 203.6px,#0ff 204.1px,#1fffe0 204.5px,#6cff93 205.3px,#aeff51 206.1px,#e1ff1e 207px,#ff0 207.4px,#ffe500 207.8px,#ffa500 208.7px,#f60 209.5px,#ff2d00 210.3px,#ff0300 211.2px,#f00 211.3px,#e00000 212.8px,#da0000 213.7px,#ac0000 217px,#a10000 226.2px,#cb0000 228.7px,#d60000 229.5px,#eb0000 231.2px,#ec0000 232.1px,#d70000 233.2px,#b70000 234.6px,#ac0000 235.4px,#a60000 241.2px,#b10000 242.9px,#ca0000 244.6px,#d50000 245.4px,#e80000 247.9px,#e00 248.8px,#fd0000 251.3px,#f00 251.4px,#ff1900 253px,#ff2a00 253.8px,#ff5a00 256px,#ff6000 256.3px,#ff7d00 258.3px,#ff8500 259.6px,#ff9000 261.3px,#f90 263.8px,#ff9b00 264.7px,#ffa200 268px,#ffb600 271.3px,#fb0 272.2px,#ffc800 274.3px,#ffda00 275.5px,#ffe500 276.7px,#fffb00 278px,#ff0 278.3px,#f8ff07 278.9px,#d7ff28 280.5px,#ceff31 281px,#deff21 283px,#ff0 283.6px,#ffc100 284.7px,#ff8000 285.5px,#ff6400 286.1px,#ff1800 287.4px,#f00 287.8px,#cb0000 288.6px,#800000 289.7px,#800000 314.2px)"></i><i style="height:8.34px;background:linear-gradient(90deg,#800000 0px,#800000 9.7px,#a00000 10.7px,#c30000 11px,#f00 11.6px,#ff1b00 11.9px,#ff4900 12.4px,#ff7600 13px,#f90 14.4px,#ffa800 15.2px,#ffab00 16.9px,#ffa800 17.7px,#ff9700 19.4px,#ff8b00 20.2px,#ff6400 21.9px,#ff5300 22.7px,#ff3c00 24.4px,#ff2500 26.1px,#ff1400 27.7px,#f00 30.1px,#fe0000 30.2px,#f50000 31.1px,#d30000 34.4px,#d50000 35.3px,#d00 37.8px,#e60000 39.4px,#f10000 41.1px,#f50000 44.5px,#f80000 45.3px,#f00 45.8px,#ff1900 47.8px,#ff2b00 48.6px,#ff5200 49.8px,#ff7a00 50.8px,#ff9200 51.1px,#ff0 52.3px,#8aff75 53.5px,#7bff84 53.7px,#13ffec 54.8px,#08fff7 55px,#0ff 55.2px,#00c5ff 57px,#0081ff 59.5px,#005cff 62px,#0053ff 62.8px,#0049ff 64.5px,#004bff 66.2px,#0056ff 67px,#0082ff 69.2px,#0089ff 69.5px,#00bdff 71.2px,#00d6ff 72px,#0ff 73.1px,#04fffb 73.2px,#27ffd8 74.2px,#31ffce 74.9px,#2fffd0 76.6px,#0bfff4 78.6px,#02fffd 78.9px,#0ff 79px,#00c8ff 80.6px,#00b4ff 81.2px,#0076ff 82.9px,#0062ff 83.7px,#0026ff 86.2px,#0007ff 89.6px,#00f 90.8px,#0000fc 91.3px,#0000f2 93.8px,#0000f2 96.3px,#0000f9 98px,#00f 98.5px,#000dff 99.6px,#0031ff 101.3px,#0053ff 102.1px,#0094ff 103.8px,#00b2ff 104.6px,#00e4ff 106.3px,#00f3ff 107.1px,#0ff 108.2px,#07fff8 108.8px,#0cfff3 109.7px,#0bfff4 111.3px,#06fff9 112.2px,#07fff8 113.8px,#0cfff3 114.3px,#3affc5 116px,#48ffb7 116.3px,#8aff75 117.3px,#cf3 118.3px,#e8ff17 118.7px,#ff0 119px,#ffa700 120px,#ff3c00 121.7px,#ff2600 122.2px,#ff0300 123.4px,#f00 123.5px,#e00000 125.5px,#e00000 128.9px,#f00 129.6px,#ff3a00 131.1px,#ff8600 133.1px,#ffd300 135.1px,#ff0 136.6px,#fcff03 136.7px,#e9ff16 137.7px,#d6ff29 138.9px,#b5ff4a 141.1px,#a2ff5d 142.3px,#7bff84 144.8px,#72ff8d 145.6px,#52ffad 148.1px,#48ffb7 148.9px,#1effe1 152.3px,#1cffe3 152.6px,#21ffde 152.6px,#2affd5 159.3px,#2effd1 161px,#3dffc2 166px,#60ff9f 169.4px,#6cff93 170.2px,#90ff6f 172.7px,#a8ff57 173.5px,#d4ff2b 174.7px,#ff0 175.5px,#ffde00 176.1px,#ffc800 176.4px,#ff7600 177.7px,#ff6000 178.1px,#ff2800 179.4px,#ff0d00 180.2px,#f00 181px,#f70000 181.4px,#f20000 182.7px,#f50000 183.6px,#f00 183.9px,#ff1900 184.7px,#ff3c00 185.2px,#ff9500 186.4px,#ffc200 186.9px,#ff0 187.8px,#ff0 187.8px,#9eff61 189.1px,#36ffc9 190.4px,#07fff8 191.1px,#0ff 191.2px,#00c9ff 191.9px,#0080ff 193.1px,#005dff 193.6px,#0041ff 194.8px,#0016ff 196.4px,#0016ff 200.3px,#003bff 201.1px,#0070ff 202px,#00a9ff 202.8px,#00e9ff 203.6px,#0ff 203.9px,#32ffcd 204.5px,#7fff80 205.3px,#baff45 206.1px,#edff12 207px,#ff0 207.2px,#ffd500 207.8px,#ff9500 208.7px,#ff5600 209.5px,#ff1a00 210.3px,#f00 210.9px,#f40000 211.2px,#c70000 212.8px,#c40000 213.7px,#a80000 217px,#9d0000 226.2px,#d10000 228.7px,#d00 229.5px,#f30000 231.2px,#ef0000 232.1px,#d00 233.2px,#ba0000 234.6px,#a00 235.4px,#a60000 241.2px,#ac0000 242.9px,#c90000 244.6px,#d70000 245.4px,#ea0000 247.9px,#f00000 248.8px,#fc0000 251.3px,#f00 251.6px,#ff0f00 253px,#ff1c00 253.8px,#ff4300 256px,#ff4800 256.3px,#ff5c00 258.3px,#ff6300 259.6px,#ff6b00 261.3px,#ff7300 263.8px,#ff7400 264.7px,#ff7900 268px,#ff9100 271.3px,#ff9800 272.2px,#ffa600 274.3px,#ffb400 275.5px,#ffb500 276.7px,#ffbd00 278px,#ffbc00 278.9px,#ffc000 280.5px,#ffc200 281px,#ffa700 283px,#ff4c00 284.7px,#ff1500 285.5px,#ff0400 286.1px,#f00 286.2px,#d70000 287.4px,#ab0000 288.6px,#800000 289.7px,#800000 314.2px)"></i><i style="height:8.34px;background:linear-gradient(90deg,#800000 0px,#800000 9.7px,#890000 10.7px,#ad0000 11px,#f00 11.8px,#ff0800 11.9px,#ff3400 12.4px,#ff6a00 13px,#ff8b00 14.4px,#ff9d00 15.2px,#ff9e00 16.9px,#ff9d00 17.7px,#ff8c00 19.4px,#ff8300 20.2px,#ff5900 21.9px,#ff4500 22.7px,#ff2c00 24.4px,#ff1300 26.1px,#ff0400 27.7px,#f00 28.2px,#ec0000 30.2px,#e20000 31.1px,#b00 34.4px,#c10000 35.3px,#d10000 37.8px,#e10000 39.4px,#f20000 41.1px,#fa0000 44.5px,#fd0000 45.3px,#f00 45.4px,#ff2300 47.8px,#ff3100 48.6px,#ff5900 49.8px,#ff7e00 50.8px,#f90 51.1px,#ff0 52.3px,#8eff71 53.5px,#7eff81 53.7px,#1fe 54.8px,#02fffd 55px,#0ff 55px,#00aeff 57px,#0064ff 59.5px,#0045ff 62px,#003cff 62.8px,#0035ff 64.5px,#0030ff 66.2px,#003dff 67px,#0061ff 69.2px,#06f 69.5px,#009aff 71.2px,#00b3ff 72px,#00e2ff 73.2px,#0ff 73.9px,#0bfff4 74.2px,#13ffec 74.9px,#20ffdf 76.6px,#06fff9 78.6px,#01fffe 78.9px,#0ff 78.9px,#00d6ff 80.6px,#00c5ff 81.2px,#008fff 82.9px,#07f 83.7px,#002fff 86.2px,#000bff 89.6px,#0001ff 91.3px,#00f 91.5px,#0000f2 93.8px,#0000f2 96.3px,#0000f4 98px,#00f 98.9px,#0008ff 99.6px,#0020ff 101.3px,#0042ff 102.1px,#0085ff 103.8px,#00a3ff 104.6px,#00dcff 106.3px,#00e9ff 107.1px,#0ff 108.7px,#02fffd 108.8px,#06fff9 109.7px,#0cfff3 111.3px,#08fff7 112.2px,#02fffd 113.8px,#07fff8 114.3px,#20ffdf 116px,#26ffd9 116.3px,#5dffa2 117.3px,#95ff6a 118.3px,#afff50 118.7px,#ff0 119.7px,#ffe700 120px,#ff6d00 121.7px,#ff5600 122.2px,#ff2600 123.4px,#f00 125.1px,#f70000 125.5px,#f70000 128.9px,#f00 129.1px,#ff5a00 131.1px,#ffb900 133.1px,#fff300 135.1px,#ff0 135.6px,#e7ff18 136.7px,#d4ff2b 137.7px,#c2ff3d 138.9px,#a1ff5e 141.1px,#8dff72 142.3px,#63ff9c 144.8px,#59ffa6 145.6px,#3bffc4 148.1px,#3fc 148.9px,#12ffed 152.3px,#10ffef 152.6px,#2effd1 152.6px,#3affc5 159.3px,#3fffc0 161px,#51ffae 166px,#80ff7f 169.4px,#8dff72 170.2px,#b2ff4d 172.7px,#d0ff2f 173.5px,#fcff03 174.7px,#ff0 174.8px,#fa0 176.1px,#ff9300 176.4px,#ff4200 177.7px,#ff2d00 178.1px,#ff0700 179.4px,#f00 179.7px,#f00000 180.2px,#ea0000 181.4px,#e90000 182.7px,#f20000 183.6px,#f00 184.4px,#ff0700 184.7px,#ff2c00 185.2px,#ff8600 186.4px,#ffb400 186.9px,#ff0 187.8px,#ff0 187.8px,#8f7 189.1px,#0ffff0 190.4px,#0ff 190.6px,#00d8ff 191.1px,#0094ff 191.9px,#0045ff 193.1px,#0023ff 193.6px,#001bff 194.8px,#000fff 196.4px,#000fff 200.3px,#0043ff 201.1px,#007bff 202px,#00b9ff 202.8px,#00f9ff 203.6px,#0ff 203.7px,#45ffba 204.5px,#92ff6d 205.3px,#c7ff38 206.1px,#faff05 207px,#ff0 207px,#ffc500 207.8px,#ff8600 208.7px,#ff4600 209.5px,#ff0700 210.3px,#f00 210.5px,#e70000 211.2px,#af0000 212.8px,#ae0000 213.7px,#a30000 217px,#9a0000 226.2px,#d70000 228.7px,#e30000 229.5px,#fc0000 231.2px,#f30000 232.1px,#e30000 233.2px,#bd0000 234.6px,#a70000 235.4px,#a60000 241.2px,#a80000 242.9px,#c80000 244.6px,#d80000 245.4px,#eb0000 247.9px,#f20000 248.8px,#fa0000 251.3px,#f00 252.2px,#ff0400 253px,#ff0f00 253.8px,#ff2b00 256px,#ff2f00 256.3px,#ff3b00 258.3px,#ff4000 259.6px,#ff4600 261.3px,#ff4e00 263.8px,#ff4e00 264.7px,#ff5000 268px,#ff6c00 271.3px,#ff7400 272.2px,#ff8400 274.3px,#ff8e00 275.5px,#ff8600 276.7px,#ff7e00 278px,#ff7100 278.9px,#ff5a00 280.5px,#ff5300 281px,#ff2e00 283px,#f00 283.9px,#d70000 284.7px,#a80000 285.5px,#a40000 286.1px,#980000 287.4px,#8c0000 288.6px,#800000 289.7px,#800000 314.2px)"></i><i style="height:8.34px;background:linear-gradient(90deg,#800000 0px,#800000 10.7px,#e50000 11.9px,#f00 12.1px,#ff5100 13px,#ff7f00 14.4px,#ff9200 15.2px,#f90 16.9px,#f90 17.7px,#ff8b00 19.4px,#ff8100 20.2px,#ff5800 21.9px,#ff4500 22.7px,#ff1f00 25.2px,#ff1200 26.1px,#f00 27.8px,#f70000 28.6px,#e70000 30.2px,#d30000 31.9px,#b80000 34.4px,#bd0000 35.3px,#d00000 37.8px,#d90000 38.6px,#f40000 41.1px,#f70000 41.9px,#f00 43.8px,#ff0600 45.3px,#ff1200 46.1px,#ff3500 48.6px,#f40 49.1px,#ff7d00 50.8px,#ff9600 51.1px,#fff700 52.3px,#ff0 52.4px,#d9ff26 52.8px,#89ff76 53.7px,#5affa5 54.2px,#0afff5 55px,#0ff 55.2px,#00edff 55.5px,#00a1ff 57px,#009aff 57.2px,#0057ff 59.2px,#004eff 59.5px,#03f 62px,#002bff 62.8px,#001eff 66.2px,#0049ff 69.5px,#005eff 70.4px,#008aff 72px,#00c5ff 73.7px,#00d8ff 74.2px,#00f6ff 76.2px,#00fbff 76.6px,#00f9ff 78.7px,#00f8ff 78.9px,#00dcff 81.2px,#00a1ff 83.7px,#008dff 84.6px,#0064ff 86.2px,#0053ff 87.9px,#0041ff 89.6px,#0038ff 90.9px,#0015ff 93.8px,#0006ff 96.3px,#00f 98px,#000aff 99.6px,#0017ff 101.3px,#004aff 103px,#0065ff 103.8px,#0af 106.3px,#00c8ff 108.8px,#00cbff 109.7px,#00d5ff 111.3px,#00d1ff 113px,#00d2ff 113.8px,#00e8ff 115.5px,#00f5ff 116.3px,#0ff 116.6px,#45ffba 118px,#5fa 118.3px,#c7ff38 120px,#e9ff16 120.5px,#ff0 120.8px,#ffc000 121.7px,#ff8f00 122.7px,#ff6e00 123.4px,#ff4d00 124.4px,#ff2e00 125.5px,#ff2a00 126px,#ff2700 127.7px,#ff2f00 128.9px,#ff5400 129.7px,#ff8e00 131.1px,#ffc400 132.2px,#ffea00 133.1px,#ff0 133.9px,#ecff13 134.7px,#e4ff1b 135.1px,#b5ff4a 137.7px,#b0ff4f 138.1px,#87ff78 141.1px,#82ff7d 141.4px,#4effb1 144.8px,#45ffba 145.6px,#2cffd3 148.1px,#1fffe0 149.8px,#0efff1 152.3px,#0dfff2 152.6px,#3bffc4 152.6px,#4affb5 157.7px,#50ffaf 159.3px,#61ff9e 162.7px,#72ff8d 166px,#7eff81 166.9px,#a9ff56 169.4px,#beff41 170.2px,#d2ff2d 171px,#fcff03 172.7px,#ff0 172.8px,#ffbd00 174.7px,#ffa000 175.2px,#ff5f00 176.4px,#ff0b00 178.1px,#f00 178.6px,#f00000 179.4px,#e10000 180.2px,#e20000 182.7px,#eb0000 183.6px,#fb0000 184.7px,#f00 184.8px,#ff5100 186.1px,#ff6b00 186.4px,#ffe500 187.8px,#ff0 188px,#9aff65 189.1px,#27ffd8 190.3px,#16ffe9 190.4px,#0ff 190.7px,#0bf 191.4px,#0090ff 191.9px,#0052ff 192.8px,#0019ff 193.6px,#000dff 194.4px,#000dff 200.3px,#0068ff 202px,#00e5ff 203.6px,#0ff 203.9px,#7aff85 205.3px,#e5ff1a 207px,#ff0 207.3px,#ff9a00 208.7px,#ff1a00 210.3px,#f00 211px,#d50000 212px,#bc0000 212.8px,#b60000 215.3px,#b00 219.5px,#bd0000 223.7px,#c10000 226.2px,#d40000 227px,#f90000 228.7px,#f00 229.1px,#ff0600 229.5px,#ff1000 231.2px,#ff0200 232.1px,#f00 232.2px,#e00 233.2px,#c60000 234.6px,#ae0000 235.4px,#a60000 237.1px,#a60000 242.9px,#d90000 245.4px,#f00000 248.8px,#fc0000 253px,#f00 253.3px,#ff1a00 256.3px,#ff1c00 257.1px,#ff2000 259.6px,#f20 261.3px,#ff2700 263.8px,#ff2600 266.3px,#ff2600 268px,#ff4000 271.3px,#ff4800 272.2px,#ff6000 275.5px,#ff5000 278px,#f40 278.9px,#ff2500 280.5px,#ff1600 281.4px,#f00 282.3px,#ef0000 283px,#a10000 284.7px,#800000 285.5px,#800000 314.2px)"></i><i style="height:8.34px;background:linear-gradient(90deg,#800000 0px,#800000 10.7px,#ba0000 11.9px,#f00 12.6px,#ff2f00 13px,#ff7400 14.4px,#ff8700 15.2px,#f90 16.9px,#f90 17.7px,#ff9100 19.4px,#ff8400 20.2px,#ff5e00 21.9px,#ff4d00 22.7px,#ff2700 25.2px,#ff1a00 26.1px,#f00 28.2px,#fa0000 28.6px,#e90000 30.2px,#d50000 31.9px,#c20000 34.4px,#c30000 35.3px,#d60000 37.8px,#de0000 38.6px,#f60000 41.1px,#fa0000 41.9px,#f00 42.7px,#ff1000 45.3px,#ff1a00 46.1px,#ff3800 48.6px,#ff4200 49.1px,#ff7a00 50.8px,#ff8d00 51.1px,#ffea00 52.3px,#ff0 52.6px,#e9ff16 52.8px,#9f6 53.7px,#69ff96 54.2px,#1affe5 55px,#0ff 55.3px,#00f5ff 55.5px,#0098ff 57px,#008fff 57.2px,#0043ff 59.2px,#003cff 59.5px,#0023ff 62px,#001dff 62.8px,#0012ff 66.2px,#002fff 69.5px,#003cff 70.4px,#005eff 72px,#08f 73.7px,#09f 74.2px,#00c4ff 76.2px,#00cdff 76.6px,#00ebff 78.7px,#00edff 78.9px,#00f5ff 81.2px,#00d7ff 83.7px,#00cdff 84.6px,#00b2ff 86.2px,#00a6ff 87.9px,#0095ff 89.6px,#008bff 90.9px,#004cff 93.8px,#0023ff 96.3px,#0016ff 98px,#01f 99.6px,#0013ff 101.3px,#002bff 103px,#0039ff 103.8px,#005dff 106.3px,#006fff 108.8px,#0071ff 109.7px,#007cff 111.3px,#007fff 113px,#08f 113.8px,#00a7ff 115.5px,#0bf 116.3px,#0ff 117.9px,#03fffc 118px,#1fe 118.3px,#6cff93 120px,#87ff78 120.5px,#d6ff29 121.7px,#ff0 122.5px,#fff400 122.7px,#ffcd00 123.4px,#ff9d00 124.4px,#ff7800 125.5px,#ff6e00 126px,#ff6700 127.7px,#ff7b00 128.9px,#ff9b00 129.7px,#ffce00 131.1px,#fffd00 132.2px,#ff0 132.3px,#e4ff1b 133.1px,#beff41 134.7px,#b8ff47 135.1px,#90ff6f 137.7px,#8cff73 138.1px,#6aff95 141.1px,#6f9 141.4px,#3bffc4 144.8px,#3fc 145.6px,#21ffde 148.1px,#17ffe8 149.8px,#10ffef 152.3px,#10ffef 152.6px,#48ffb7 152.6px,#61ff9e 157.7px,#6bff94 159.3px,#83ff7c 162.7px,#9aff65 166px,#a4ff5b 166.9px,#d8ff27 169.4px,#f9ff06 170.2px,#ff0 170.4px,#ffe400 171px,#ffa100 172.7px,#ff6800 174.7px,#ff5200 175.2px,#ff2900 176.4px,#f00 177.7px,#f40000 178.1px,#e10000 179.4px,#d90000 180.2px,#d00 182.7px,#e40000 183.6px,#f40000 184.7px,#f00 185px,#ff2f00 186.1px,#ff4900 186.4px,#ffba00 187.8px,#ff0 188.5px,#c4ff3b 189.1px,#4cffb3 190.3px,#3bffc4 190.4px,#0ff 191px,#00d8ff 191.4px,#0af 191.9px,#0065ff 192.8px,#002cff 193.6px,#000dff 194.4px,#000dff 200.3px,#0042ff 202px,#00baff 203.6px,#0ff 204.5px,#47ffb8 205.3px,#baff45 207px,#ff0 207.9px,#ffc400 208.7px,#ff4500 210.3px,#f00 211.7px,#f10000 212px,#e00000 212.8px,#d50000 215.3px,#e70000 219.5px,#f30000 223.7px,#f00 225.7px,#ff0300 226.2px,#ff1200 227px,#ff2e00 228.7px,#ff3900 229.5px,#ff2900 231.2px,#ff1700 232.1px,#f00 233.1px,#fb0000 233.2px,#d30000 234.6px,#bd0000 235.4px,#a60000 237.1px,#a60000 242.9px,#d90000 245.4px,#eb0000 248.8px,#f80000 253px,#f00 254.8px,#ff0500 256.3px,#ff0500 257.1px,#ff0200 259.6px,#f00 260.5px,#fd0000 261.3px,#fe0000 263.8px,#fa0000 266.3px,#fc0000 268px,#f00 268.5px,#ff1000 271.3px,#ff1600 272.2px,#ff2d00 275.5px,#ff2c00 278px,#ff2700 278.9px,#ff0e00 280.5px,#ff0200 281.4px,#f00 281.4px,#d60000 283px,#930000 284.7px,#800000 285.5px,#800000 314.2px)"></i><i style="height:8.34px;background:linear-gradient(90deg,#800000 0px,#800000 10.7px,#900000 11.9px,#f00 12.9px,#ff0d00 13px,#ff6a00 14.4px,#ff7b00 15.2px,#f90 16.9px,#f90 17.7px,#ff9700 19.4px,#ff8700 20.2px,#ff6400 21.9px,#ff5600 22.7px,#ff3000 25.2px,#ff2300 26.1px,#f00 28.5px,#fe0000 28.6px,#eb0000 30.2px,#d80000 31.9px,#cb0000 34.4px,#ca0000 35.3px,#d00 37.8px,#e30000 38.6px,#f80000 41.1px,#fe0000 41.9px,#f00 42.1px,#ff1b00 45.3px,#ff2300 46.1px,#ff3a00 48.6px,#ff4000 49.1px,#ff7600 50.8px,#ff8300 51.1px,#ffde00 52.3px,#ff0 52.7px,#f9ff06 52.8px,#a9ff56 53.7px,#79ff86 54.2px,#2affd5 55px,#0ff 55.5px,#00fcff 55.5px,#0090ff 57px,#0084ff 57.2px,#002eff 59.2px,#002aff 59.5px,#0013ff 62px,#000fff 62.8px,#0005ff 66.2px,#0014ff 69.5px,#001aff 70.4px,#0031ff 72px,#004bff 73.7px,#005bff 74.2px,#0093ff 76.2px,#009eff 76.6px,#00deff 78.7px,#00e1ff 78.9px,#0ff 80.4px,#10ffef 81.2px,#0efff1 83.7px,#0efff1 84.6px,#01fffe 86.2px,#0ff 86.5px,#00f8ff 87.9px,#00eaff 89.6px,#00dfff 90.9px,#0084ff 93.8px,#0041ff 96.3px,#002bff 98px,#0017ff 99.6px,#000eff 101.3px,#000cff 103px,#000eff 103.8px,#01f 106.3px,#0016ff 108.8px,#0016ff 109.7px,#0023ff 111.3px,#002dff 113px,#003fff 113.8px,#06f 115.5px,#0081ff 116.3px,#00c0ff 118px,#0cf 118.3px,#0ff 119.6px,#1fe 120px,#26ffd9 120.5px,#6dff92 121.7px,#a6ff59 122.7px,#d2ff2d 123.4px,#ff0 124.1px,#ffed00 124.4px,#ffc200 125.5px,#ffb200 126px,#ffa700 127.7px,#ffc700 128.9px,#ffe300 129.7px,#ff0 130.6px,#efff10 131.1px,#c8ff37 132.2px,#b4ff4b 133.1px,#91ff6e 134.7px,#8dff72 135.1px,#6bff94 137.7px,#67ff98 138.1px,#4dffb2 141.1px,#4bffb4 141.4px,#28ffd7 144.8px,#20ffdf 145.6px,#16ffe9 148.1px,#10ffef 149.8px,#12ffed 152.3px,#13ffec 152.6px,#54ffab 152.6px,#7f8 157.7px,#86ff79 159.3px,#a5ff5a 162.7px,#c2ff3d 166px,#caff35 166.9px,#ff0 169.1px,#fff800 169.4px,#ffca00 170.2px,#ff9b00 171px,#ff3f00 172.7px,#ff1200 174.7px,#ff0500 175.2px,#f00 175.5px,#f30000 176.4px,#d00 178.1px,#d20000 179.4px,#d20000 180.2px,#d80000 182.7px,#dc0000 183.6px,#ed0000 184.7px,#f00 185.5px,#ff0d00 186.1px,#ff2700 186.4px,#ff9000 187.8px,#ff0 188.9px,#efff10 189.1px,#71ff8e 190.3px,#5fffa0 190.4px,#0ff 191.3px,#00f4ff 191.4px,#00c5ff 191.9px,#0078ff 192.8px,#003fff 193.6px,#000dff 194.4px,#000dff 200.3px,#001cff 202px,#0090ff 203.6px,#0ff 205.1px,#14ffeb 205.3px,#90ff6f 207px,#ff0 208.4px,#ffef00 208.7px,#ff6f00 210.3px,#ff0f00 212px,#ff0500 212.8px,#f00 213.6px,#f30000 215.3px,#f00 216.8px,#ff1500 219.5px,#ff2b00 223.7px,#ff4300 226.2px,#ff4e00 227px,#ff6300 228.7px,#ff6c00 229.5px,#ff4300 231.2px,#ff2b00 232.1px,#ff0a00 233.2px,#f00 233.6px,#e00000 234.6px,#cb0000 235.4px,#a60000 237.1px,#a60000 242.9px,#d90000 245.4px,#e70000 248.8px,#f40000 253px,#f00000 256.3px,#e00 257.1px,#e20000 259.6px,#da0000 261.3px,#d50000 263.8px,#d00000 266.3px,#d30000 268px,#df0000 271.3px,#e40000 272.2px,#f90000 275.5px,#f00 276.6px,#ff0800 278px,#ff0b00 278.9px,#f00 279.8px,#f70000 280.5px,#ed0000 281.4px,#bc0000 283px,#850000 284.7px,#800000 285.5px,#800000 314.2px)"></i><i style="height:8.34px;background:linear-gradient(90deg,#800000 0px,#800000 11.9px,#e50000 13px,#f00 13.5px,#ff0500 13.5px,#ff4a00 14.4px,#ff5700 14.7px,#ff8100 16px,#ff9100 16.9px,#ff9400 18px,#ff9600 19.4px,#ff8300 20.7px,#ff7000 21.9px,#ff5c00 23.6px,#ff4500 25.2px,#ff2e00 26.9px,#ff1700 28.6px,#ff0600 30.2px,#f00 30.7px,#f10000 31.9px,#e80000 33.6px,#e60000 35.3px,#fa0000 37.8px,#f00 38.4px,#ff0100 38.6px,#ff1a00 41.9px,#ff3800 45.3px,#ff4000 46.1px,#ff5100 47.8px,#ff5f00 49.1px,#ff8200 50.3px,#ff9c00 51.1px,#fff500 52.5px,#ff0 52.6px,#f2ff0d 52.8px,#82ff7d 54.2px,#6f9 54.5px,#0afff5 55.5px,#0ff 55.6px,#00d6ff 56.2px,#008aff 57.2px,#0068ff 57.8px,#002cff 59.2px,#0021ff 59.8px,#000eff 62px,#000bff 62.8px,#0001ff 66.2px,#0002ff 67px,#000eff 70.4px,#0017ff 71.2px,#0039ff 73.7px,#0047ff 74.2px,#0085ff 76.2px,#0091ff 76.6px,#00dfff 78.7px,#00e4ff 78.9px,#0ff 79.9px,#21ffde 81.2px,#36ffc9 83.7px,#3cffc3 84.6px,#3effc1 86.2px,#39ffc6 87.9px,#30ffcf 89.3px,#1effe1 90.9px,#0ff 91.9px,#00f7ff 92.1px,#00bfff 93.8px,#00a6ff 94.6px,#0075ff 96.3px,#0067ff 97.1px,#03f 99.6px,#000fff 102.1px,#0007ff 103px,#00f 103.9px,#0000fa 104.6px,#00e 106.3px,#0000ea 107.1px,#0000e7 109.7px,#0000ef 111.3px,#0000fc 113px,#00f 113.1px,#02f 114.7px,#0036ff 115.5px,#006cff 117.2px,#008eff 118px,#00c4ff 119.3px,#00f4ff 120.5px,#0ff 120.7px,#27ffd8 121.4px,#6eff91 122.7px,#97ff68 123.4px,#d5ff2a 124.4px,#ff0 125.5px,#fffd00 125.5px,#ffec00 126px,#fd0 127.7px,#ffe400 128px,#ff0 129px,#ecff13 129.7px,#d6ff29 130.5px,#a5ff5a 132.2px,#93ff6c 133.1px,#6fff90 134.7px,#63ff9c 135.6px,#3fffc0 138.1px,#28ffd7 140.6px,#23ffdc 141.4px,#17ffe8 143.1px,#0dfff2 145.6px,#13ffec 148.1px,#13ffec 149.8px,#1bffe4 151.4px,#21ffde 152.6px,#59ffa6 152.6px,#80ff7f 156.8px,#8f7 157.7px,#a6ff59 160.2px,#c7ff38 162.7px,#ebff14 164.7px,#ff0 165.7px,#ffeb00 166.7px,#ffe800 166.9px,#ffa500 169.4px,#ff5300 171px,#ff0200 172.7px,#f00 172.8px,#d90000 175.2px,#c40000 179.4px,#ce0000 183.6px,#e30000 185.2px,#f40000 186.1px,#f00 186.2px,#ff4700 187.3px,#ff6f00 187.8px,#ffbf00 188.6px,#fff000 189.1px,#ff0 189.2px,#c5ff3a 189.8px,#8eff71 190.3px,#45ffba 190.9px,#1fe 191.4px,#0ff 191.6px,#00d1ff 192.1px,#09f 192.8px,#005bff 193.8px,#0030ff 194.4px,#0024ff 195.8px,#001aff 197.8px,#001aff 202px,#0047ff 202.8px,#007cff 203.6px,#0cf 204.8px,#00efff 205.3px,#0ff 205.5px,#5bffa4 206.8px,#67ff98 207px,#d7ff28 208.7px,#e2ff1d 208.8px,#ff0 209.2px,#ffb300 210.3px,#ff9600 210.8px,#f50 212px,#ff4b00 212.8px,#ff3100 215.3px,#ff4200 218.7px,#ff4700 219.5px,#ff5200 222px,#ff5600 223.7px,#ff6100 225.4px,#ff6a00 227px,#ff6f00 228.2px,#ff7500 229.5px,#ff4f00 230.9px,#ff2e00 232.1px,#ff0c00 233.2px,#f00 233.7px,#e70000 234.6px,#c10000 236.2px,#b00000 237.1px,#b00000 239.6px,#b20000 242.9px,#c00000 243.8px,#d00 245.4px,#e80000 247.9px,#eb0000 248.8px,#f50000 253px,#e60000 257.1px,#e10000 258px,#ce0000 261.3px,#c90000 263px,#c00000 266.3px,#c30000 268px,#cd0000 271.3px,#d70000 273px,#e80000 275.5px,#f50000 277.2px,#f00 278.4px,#ff0400 278.9px,#f00 279.5px,#f90000 280.5px,#f10000 281.4px,#ae0000 283.9px,#960000 284.7px,#8f0000 286.4px,#800000 288.9px,#800000 314.2px)"></i><i style="height:8.34px;background:linear-gradient(90deg,#800000 0px,#800000 11.9px,#b00 13px,#c00 13.5px,#f00 14.1px,#ff1c00 14.4px,#ff3200 14.7px,#ff7600 16px,#ff8300 16.9px,#ff8b00 18px,#ff9200 19.4px,#ff8c00 20.7px,#ff8100 21.9px,#ff7600 23.6px,#ff6300 25.2px,#ff5000 26.9px,#ff3e00 28.6px,#ff2e00 30.2px,#ff1b00 31.9px,#ff0d00 33.6px,#ff1300 35.3px,#ff2800 37.8px,#ff2e00 38.6px,#f40 41.9px,#ff6000 45.3px,#ff6b00 46.1px,#ff7f00 47.8px,#ff9300 49.1px,#ffb100 50.3px,#ffca00 51.1px,#ff0 52.2px,#efff10 52.5px,#df2 52.8px,#86ff79 54.2px,#71ff8e 54.5px,#1bffe4 55.5px,#0ff 55.8px,#00e7ff 56.2px,#009bff 57.2px,#0072ff 57.8px,#0036ff 59.2px,#0023ff 59.8px,#01f 62px,#000cff 62.8px,#0001ff 66.2px,#0001ff 67px,#01f 70.4px,#0018ff 71.2px,#0042ff 73.7px,#004fff 74.2px,#008eff 76.2px,#009aff 76.6px,#00eaff 78.7px,#00efff 78.9px,#0ff 79.5px,#2effd1 81.2px,#5fa 83.7px,#5fffa0 84.6px,#6eff91 86.2px,#6cff93 87.9px,#6f9 89.3px,#50ffaf 90.9px,#31ffce 92.1px,#0ff 93.7px,#00fdff 93.8px,#00e6ff 94.6px,#00b8ff 96.3px,#00a6ff 97.1px,#005eff 99.6px,#001eff 102.1px,#0012ff 103px,#00f 104.4px,#0000fc 104.6px,#0000e7 106.3px,#0000de 107.1px,#0000d6 109.7px,#0000d6 111.3px,#0000e3 113px,#0000fd 114.7px,#00f 114.7px,#01f 115.5px,#003fff 117.2px,#0067ff 118px,#00a7ff 119.3px,#00e3ff 120.5px,#0ff 121px,#17ffe8 121.4px,#52ffad 122.7px,#73ff8c 123.4px,#a5ff5a 124.4px,#d0ff2f 125.5px,#df2 126px,#f1ff0e 127.7px,#efff10 128px,#cdff32 129.7px,#bcff43 130.5px,#8eff71 132.2px,#7bff84 133.1px,#54ffab 134.7px,#4fb 135.6px,#15ffea 138.1px,#0ff 139.9px,#00f7ff 140.6px,#00f4ff 141.4px,#00ecff 143.1px,#00f6ff 145.6px,#0ff 146.3px,#16ffe9 148.1px,#1effe1 149.8px,#2affd5 151.4px,#35ffca 152.6px,#59ffa6 152.6px,#8aff75 156.8px,#96ff69 157.7px,#bf4 160.2px,#e9ff16 162.7px,#ff0 163.4px,#ffd600 164.7px,#ff8900 166.7px,#ff8500 166.9px,#ff3b00 169.4px,#ff0b00 171px,#f00 171.4px,#db0000 172.7px,#c30000 175.2px,#b70000 179.4px,#bd0000 183.6px,#c90000 185.2px,#e30000 186.1px,#f00 186.6px,#ff2900 187.3px,#f50 187.8px,#ffa400 188.6px,#ffd800 189.1px,#ff0 189.5px,#df2 189.8px,#a7ff58 190.3px,#5effa1 190.9px,#2dffd2 191.4px,#0ff 191.9px,#00efff 192.1px,#00c4ff 192.8px,#008fff 193.8px,#006aff 194.4px,#004aff 195.8px,#002fff 197.8px,#002fff 202px,#004aff 202.8px,#0075ff 203.6px,#00b7ff 204.8px,#00d6ff 205.3px,#0ff 206px,#35ffca 206.8px,#3effc1 207px,#96ff69 208.7px,#9eff61 208.8px,#f8ff07 210.3px,#ff0 210.5px,#ffec00 210.8px,#ffb700 212px,#ffa600 212.8px,#ff8200 215.3px,#ff7c00 218.7px,#ff7d00 219.5px,#ff7f00 222px,#ff7a00 223.7px,#ff7800 225.4px,#ff7100 227px,#ff6c00 228.2px,#ff6400 229.5px,#f40 230.9px,#ff2500 232.1px,#ff0700 233.2px,#f00 233.6px,#ea0000 234.6px,#cb0000 236.2px,#c10000 237.1px,#c10000 239.6px,#c70000 242.9px,#d00000 243.8px,#e50000 245.4px,#f20000 247.9px,#f30000 248.8px,#f90000 253px,#e80000 257.1px,#e30000 258px,#d10000 261.3px,#ca0000 263px,#c20000 266.3px,#c10000 268px,#ce0000 271.3px,#d80000 273px,#eb0000 275.5px,#f90000 277.2px,#f00 277.8px,#ff0a00 278.9px,#ff0d00 280.5px,#ff0400 281.4px,#f00 281.5px,#d00000 283.9px,#b00 284.7px,#a90000 286.4px,#800000 288.9px,#800000 314.2px)"></i><i style="height:8.34px;background:linear-gradient(90deg,#800000 0px,#800000 11.9px,#900000 13px,#950000 13.5px,#ed0000 14.4px,#f00 14.6px,#ff0e00 14.7px,#ff6a00 16px,#ff7600 16.9px,#ff8300 18px,#ff8e00 19.4px,#ff9500 20.7px,#ff9200 21.9px,#ff8f00 23.6px,#ff8100 25.2px,#ff7200 26.9px,#ff6400 28.6px,#ff5600 30.2px,#ff4300 31.9px,#ff3200 33.6px,#ff3e00 35.3px,#ff5400 37.8px,#ff5a00 38.6px,#ff6f00 41.9px,#ff8900 45.3px,#ff9500 46.1px,#ffad00 47.8px,#ffc600 49.1px,#ffe000 50.3px,#fff800 51.1px,#ff0 51.3px,#d6ff29 52.5px,#c8ff37 52.8px,#8bff74 54.2px,#7bff84 54.5px,#2cffd3 55.5px,#0ff 56.1px,#00f8ff 56.2px,#00acff 57.2px,#007cff 57.8px,#0040ff 59.2px,#0025ff 59.8px,#0013ff 62px,#000cff 62.8px,#0002ff 66.2px,#00f 67px,#0013ff 70.4px,#0019ff 71.2px,#004bff 73.7px,#0056ff 74.2px,#0097ff 76.2px,#00a2ff 76.6px,#00f4ff 78.7px,#00fbff 78.9px,#0ff 79.1px,#3bffc4 81.2px,#73ff8c 83.7px,#83ff7c 84.6px,#9fff60 86.2px,#9eff61 87.9px,#9dff62 89.3px,#81ff7e 90.9px,#69ff96 92.1px,#3cffc3 93.8px,#27ffd8 94.6px,#0ff 96.1px,#00faff 96.3px,#00e6ff 97.1px,#08f 99.6px,#002dff 102.1px,#001eff 103px,#00f 104.6px,#0000fe 104.6px,#0000e0 106.3px,#0000d1 107.1px,#0000c4 109.7px,#0000bd 111.3px,#0000c9 113px,#0000da 114.7px,#0000ec 115.5px,#00f 116.4px,#0012ff 117.2px,#0040ff 118px,#008bff 119.3px,#00d1ff 120.5px,#0ff 121.3px,#06fff9 121.4px,#36ffc9 122.7px,#4effb1 123.4px,#76ff89 124.4px,#a0ff5f 125.5px,#a9ff56 126px,#c0ff3f 127.7px,#c4ff3b 128px,#aeff51 129.7px,#a3ff5c 130.5px,#7f8 132.2px,#63ff9c 133.1px,#39ffc6 134.7px,#26ffd9 135.6px,#0ff 137.2px,#00e9ff 138.1px,#00c6ff 140.6px,#00c5ff 141.4px,#00c3ff 143.1px,#00e1ff 145.6px,#0ff 147px,#18ffe7 148.1px,#28ffd7 149.8px,#3affc5 151.4px,#4affb5 152.6px,#59ffa6 152.6px,#95ff6a 156.8px,#a3ff5c 157.7px,#d0ff2f 160.2px,#ff0 162.2px,#fff300 162.7px,#ff9800 164.7px,#ff2700 166.7px,#f20 166.9px,#f00 167.9px,#d00000 169.4px,#c20000 171px,#b50000 172.7px,#ae0000 175.2px,#ab0000 179.4px,#ac0000 183.6px,#b00000 185.2px,#d20000 186.1px,#f00 187px,#ff0c00 187.3px,#ff3a00 187.8px,#ff8a00 188.6px,#ffc000 189.1px,#ff0 189.7px,#f5ff0a 189.8px,#bfff40 190.3px,#76ff89 190.9px,#49ffb6 191.4px,#0efff1 192.1px,#0ff 192.4px,#0ef 192.8px,#00c4ff 193.8px,#00a4ff 194.4px,#0070ff 195.8px,#04f 197.8px,#04f 202px,#004cff 202.8px,#006fff 203.6px,#00a1ff 204.8px,#00bdff 205.3px,#0ff 206.5px,#0ffff0 206.8px,#15ffea 207px,#54ffab 208.7px,#5bffa4 208.8px,#a4ff5b 210.3px,#bf4 210.8px,#e5ff1a 212px,#fdff02 212.8px,#ff0 213px,#ffd200 215.3px,#ffb500 218.7px,#ffb300 219.5px,#ffad00 222px,#ff9e00 223.7px,#ff9000 225.4px,#ff7800 227px,#ff6800 228.2px,#ff5300 229.5px,#ff3800 230.9px,#ff1d00 232.1px,#ff0200 233.2px,#f00 233.4px,#ed0000 234.6px,#d50000 236.2px,#d20000 237.1px,#d20000 239.6px,#db0000 242.9px,#df0000 243.8px,#ed0000 245.4px,#fb0000 247.9px,#fc0000 248.8px,#fd0000 253px,#e90000 257.1px,#e50000 258px,#d30000 261.3px,#cb0000 263px,#c30000 266.3px,#c00000 268px,#d00000 271.3px,#d80000 273px,#e00 275.5px,#fd0000 277.2px,#f00 277.3px,#f10 278.9px,#ff1f00 280.5px,#ff1600 281.4px,#f00 282.9px,#f20000 283.9px,#df0000 284.7px,#c20000 286.4px,#800000 288.9px,#800000 314.2px)"></i><i style="height:8.34px;background:linear-gradient(90deg,#800000 0px,#800000 13.5px,#c50000 14.4px,#ea0000 14.7px,#f00 15px,#ff3100 15.5px,#ff5900 16px,#ff7400 16.9px,#ff9000 18px,#ff9b00 18.5px,#ffb000 20.7px,#ffb100 21.1px,#ffb100 23.6px,#ff9d00 26.9px,#ff9300 28.6px,#f80 30.2px,#ff7100 32.8px,#ff6900 33.6px,#ff7e00 36.9px,#ff8400 37.8px,#ff9600 41.1px,#ff9b00 41.9px,#ffb100 45.3px,#ffd500 47.8px,#ffe400 48.6px,#ff0 49.9px,#f6ff09 50.3px,#deff21 51.1px,#b5ff4a 52.5px,#89ff76 53.7px,#6bff94 54.5px,#14ffeb 55.8px,#0ff 56.1px,#00faff 56.2px,#0080ff 57.8px,#0026ff 59.8px,#0010ff 62.8px,#000fff 63.2px,#0006ff 67px,#000aff 67.9px,#0023ff 71.2px,#03f 72px,#06f 74.2px,#007cff 74.9px,#00b3ff 76.6px,#00d8ff 77.6px,#0ff 78.5px,#1fe 78.9px,#3fc 79.9px,#57ffa8 81.2px,#7aff85 82.6px,#96ff69 83.7px,#b7ff48 85.4px,#c4ff3b 86.2px,#c4ff3b 88.8px,#c2ff3d 89.3px,#98ff67 91.6px,#8eff71 92.1px,#5fa 94.3px,#4bffb4 94.6px,#10ffef 96.6px,#0ff 97.1px,#0ff 97.1px,#00b1ff 99px,#0094ff 99.6px,#004dff 101.3px,#002fff 102.1px,#000dff 103.8px,#00f 104.4px,#0000fb 104.6px,#0000d9 106.3px,#0000cb 107.1px,#0000b2 111.3px,#00c 114.7px,#00f 117.2px,#0080ff 119.3px,#0ff 121.4px,#37ffc8 123.4px,#72ff8d 125.5px,#7bff84 126.4px,#8cff73 128px,#7cff83 129.7px,#73ff8c 130.5px,#3cffc3 133.1px,#0ff 135.4px,#00fbff 135.6px,#0bf 138.1px,#0095ff 140.6px,#009bff 143.1px,#00caff 145.6px,#0ff 147.4px,#14ffeb 148.1px,#40ffbf 151.4px,#52ffad 152.6px,#62ff9d 152.6px,#98ff67 156px,#a7ff58 156.8px,#d3ff2c 159px,#f4ff0b 160.2px,#ff0 160.5px,#fe0 161px,#ffb500 162.7px,#ffa300 163px,#ff5300 164.7px,#ff1900 165.7px,#f00 166.2px,#e70000 166.7px,#a30000 169.4px,#a30000 185.2px,#dc0000 186.9px,#ec0000 187.3px,#f00 187.5px,#ff6200 188.6px,#ffe100 189.8px,#ff0 190px,#9dff62 190.9px,#31ffce 192.1px,#0ff 193.1px,#00f1ff 193.4px,#00e7ff 193.8px,#009dff 195.8px,#0070ff 197.8px,#006dff 198.6px,#0064ff 202px,#06f 202.8px,#00a6ff 204.8px,#0bf 205.3px,#0ff 206.8px,#0ff 206.8px,#1effe1 207.8px,#3affc5 208.8px,#73ff8c 210.3px,#87ff78 210.8px,#c4ff3b 212.8px,#f0ff0f 215.3px,#f8ff07 216.2px,#ff0 216.7px,#ffe900 218.7px,#ffe400 219.5px,#ffd800 222px,#ffd000 222.9px,#ffae00 225.4px,#ff9f00 226.2px,#ff7500 228.2px,#ff6b00 228.7px,#ff3f00 230.9px,#ff0c00 232.9px,#ff0400 233.2px,#f00 233.5px,#e40000 235.4px,#dc0000 236.2px,#dc0000 239.6px,#ea0000 243.8px,#ef0000 244.6px,#f00 247px,#ff0600 247.9px,#ff0900 249.6px,#ff0500 253px,#f00 253.9px,#fb0000 254.6px,#e80000 258px,#df0000 259.6px,#d00000 263px,#c00 264.7px,#c70000 268px,#cf0000 269.7px,#e00000 273px,#ed0000 274.7px,#f00 276.6px,#ff0500 277.2px,#ff1800 278.9px,#ff2300 280.5px,#ff0700 283px,#f00 283.7px,#fd0000 283.9px,#cf0000 286.4px,#900000 288.9px,#8e0000 289.7px,#800000 292.2px,#800000 314.2px)"></i><i style="height:8.34px;background:linear-gradient(90deg,#800000 0px,#800000 13.5px,#a20000 14.4px,#c70000 14.7px,#f00 15.3px,#ff1800 15.5px,#ff4500 16px,#ff7a00 16.9px,#ffab00 18px,#ffc000 18.5px,#ffd600 20.7px,#ffd800 21.1px,#ffd800 23.6px,#ffce00 26.9px,#ffc900 28.6px,#ffc100 30.2px,#ffb100 32.8px,#ffac00 33.6px,#ffb200 36.9px,#ffb600 37.8px,#ffc400 41.1px,#ffc800 41.9px,#ffd800 45.3px,#fff800 47.8px,#ff0 48.3px,#f9ff06 48.6px,#d2ff2d 50.3px,#bcff43 51.1px,#8fff70 52.5px,#64ff9b 53.7px,#49ffb6 54.5px,#0afff5 55.8px,#0ff 56px,#00f2ff 56.2px,#0080ff 57.8px,#0026ff 59.8px,#0015ff 62.8px,#0014ff 63.2px,#0010ff 67px,#0012ff 67.9px,#03f 71.2px,#0040ff 72px,#007bff 74.2px,#0091ff 74.9px,#00c8ff 76.6px,#00ebff 77.6px,#0ff 78px,#2dffd2 78.9px,#59ffa6 79.9px,#7fff80 81.2px,#a3ff5c 82.6px,#bcff43 83.7px,#dbff24 85.4px,#e2ff1d 86.2px,#e2ff1d 88.8px,#dcff23 89.3px,#b2ff4d 91.6px,#a6ff59 92.1px,#6aff95 94.3px,#5effa1 94.6px,#15ffea 96.6px,#01fffe 97.1px,#0ff 97.1px,#00abff 99px,#008dff 99.6px,#0040ff 101.3px,#0029ff 102.1px,#0007ff 103.8px,#00f 104.1px,#0000f5 104.6px,#0000d3 106.3px,#0000c9 107.1px,#0000b2 111.3px,#00c 114.7px,#00f 117.2px,#0080ff 119.3px,#0ff 121.4px,#28ffd7 123.4px,#46ffb9 125.5px,#4affb5 126.4px,#4cffb3 128px,#3effc1 129.7px,#35ffca 130.5px,#0bfff4 133.1px,#0ff 133.5px,#00caff 135.6px,#008aff 138.1px,#0064ff 140.6px,#0074ff 143.1px,#00b1ff 145.6px,#0ff 147.8px,#0afff5 148.1px,#40ffbf 151.4px,#52ffad 152.6px,#71ff8e 152.6px,#acff53 156px,#beff41 156.8px,#f0ff0f 159px,#ff0 159.4px,#fd0 160.2px,#ffb700 161px,#ff6500 162.7px,#ff5200 163px,#ff0a00 164.7px,#f00 164.9px,#d90000 165.7px,#c00000 166.7px,#9e0000 169.4px,#9e0000 185.2px,#ba0000 186.9px,#cd0000 187.3px,#f00 187.9px,#ff3100 188.6px,#ffb000 189.8px,#ff0 190.5px,#ceff31 190.9px,#58ffa7 192.1px,#06fff9 193.4px,#0ff 193.7px,#00feff 193.8px,#00ceff 195.8px,#0af 197.8px,#00a3ff 198.6px,#008bff 202px,#0091ff 202.8px,#00bdff 204.8px,#00caff 205.3px,#0ff 206.8px,#0ff 206.8px,#1cffe3 207.8px,#32ffcd 208.8px,#59ffa6 210.3px,#6aff95 210.8px,#a2ff5d 212.8px,#c1ff3e 215.3px,#c9ff36 216.2px,#e5ff1a 218.7px,#edff12 219.5px,#fcff03 222px,#ff0 222.4px,#fffa00 222.9px,#ffd200 225.4px,#ffc200 226.2px,#ff8f00 228.2px,#ff8200 228.7px,#ff5200 230.9px,#ff1300 232.9px,#ff0c00 233.2px,#f00 233.9px,#e50000 235.4px,#e10000 236.2px,#e10000 239.6px,#f30000 243.8px,#f70000 244.6px,#f00 245.7px,#ff1000 247.9px,#ff1800 249.6px,#ff0d00 253px,#ff0500 254.6px,#f00 255.3px,#ed0000 258px,#e20000 259.6px,#d60000 263px,#d20000 264.7px,#d40000 268px,#da0000 269.7px,#eb0000 273px,#f60000 274.7px,#f00 275.6px,#ff0e00 277.2px,#ff1f00 278.9px,#ff1d00 280.5px,#ff0400 283px,#f00 283.4px,#f90000 283.9px,#d40000 286.4px,#ab0000 288.9px,#a70000 289.7px,#800000 292.2px,#800000 314.2px)"></i><i style="height:8.34px;background:linear-gradient(90deg,#800000 0px,#800000 14.4px,#a40000 14.7px,#f00 15.5px,#f00 15.5px,#ff3000 16px,#ff7f00 16.9px,#ffc700 18px,#ffe500 18.5px,#fffc00 20.7px,#ff0 21.1px,#ff0 28.6px,#fffa00 30.2px,#fff200 32.8px,#fff000 33.6px,#ffe500 36.9px,#ffe800 37.8px,#fff200 41.1px,#fff500 41.9px,#ff0 45.3px,#ff0 45.3px,#e2ff1d 47.8px,#d9ff26 48.6px,#aeff51 50.3px,#9f6 51.1px,#69ff96 52.5px,#40ffbf 53.7px,#27ffd8 54.5px,#0ff 55.8px,#0ff 55.8px,#00eaff 56.2px,#0080ff 57.8px,#0026ff 59.8px,#001bff 62.8px,#0019ff 63.2px,#0019ff 67.9px,#0042ff 71.2px,#004cff 72px,#0091ff 74.2px,#00a6ff 74.9px,#00deff 76.6px,#0ff 77.6px,#0ff 77.6px,#49ffb6 78.9px,#7fff80 79.9px,#a6ff59 81.2px,#cf3 82.6px,#e1ff1e 83.7px,#ff0 85.4px,#ff0 88.8px,#f6ff09 89.3px,#cf3 91.6px,#beff41 92.1px,#7fff80 94.3px,#71ff8e 94.6px,#19ffe6 96.6px,#01fffe 97.1px,#0ff 97.1px,#00a6ff 99px,#0085ff 99.6px,#03f 101.3px,#02f 102.1px,#00f 103.8px,#00f 103.8px,#00e 104.6px,#00c 106.3px,#0000c8 107.1px,#0000b2 111.3px,#00c 114.7px,#00f 117.2px,#0080ff 119.3px,#0ff 121.4px,#1affe5 123.4px,#1affe5 126.4px,#0dfff2 128px,#0ff 129.7px,#0ff 129.7px,#00f5ff 130.5px,#00d9ff 133.1px,#09f 135.6px,#0059ff 138.1px,#03f 140.6px,#004dff 143.1px,#09f 145.6px,#0ff 148.1px,#0ff 148.1px,#40ffbf 151.4px,#52ffad 152.6px,#7fff80 152.6px,#bfff40 156px,#d4ff2b 156.8px,#ff0 158.5px,#fff200 159px,#ffaf00 160.2px,#ff8000 161px,#ff1500 162.7px,#f00 163px,#f00 163px,#bf0000 164.7px,#900 165.7px,#900 186.9px,#ad0000 187.3px,#f00 188.6px,#f00 188.6px,#ff8000 189.8px,#ff0 190.9px,#ff0 190.9px,#7fff80 192.1px,#19ffe6 193.4px,#16ffe9 193.8px,#0ff 195.8px,#0ff 195.8px,#00e4ff 197.8px,#00d9ff 198.6px,#00b2ff 202px,#00bcff 202.8px,#00d3ff 204.8px,#00d9ff 205.3px,#0ff 206.8px,#0ff 206.8px,#1affe5 207.8px,#29ffd6 208.8px,#40ffbf 210.3px,#4dffb2 210.8px,#80ff7f 212.8px,#93ff6c 215.3px,#9f6 216.2px,#b6ff49 218.7px,#bfff40 219.5px,#d2ff2d 222px,#d9ff26 222.9px,#ff0 224.9px,#fff500 225.4px,#ffe500 226.2px,#ffa800 228.2px,#f90 228.7px,#f60 230.9px,#ff1900 232.9px,#ff1300 233.2px,#f00 234.1px,#e50000 235.4px,#e50000 239.6px,#fb0000 243.8px,#f00 244.6px,#f00 244.6px,#ff1900 247.9px,#ff2600 249.6px,#ff1500 253px,#ff0d00 254.6px,#f00 256.3px,#f20000 258px,#e50000 259.6px,#d00 263px,#d90000 264.7px,#e10000 268px,#e50000 269.7px,#f60000 273px,#f00 274.7px,#f00 274.7px,#ff1700 277.2px,#ff2600 278.9px,#ff1700 280.5px,#f00 283px,#f00 283px,#f50000 283.9px,#d90000 286.4px,#c60000 288.9px,#bf0000 289.7px,#800000 292.2px,#800000 314.2px)"></i><i style="height:8.34px;background:linear-gradient(90deg,#800000 0px,#800000 17.8px,#b00 18.7px,#df0000 19.1px,#f00 19.4px,#ff1a00 19.7px,#ff6f00 21px,#ff8f00 21.6px,#ffef00 23.6px,#ff0 24.6px,#e7ff18 26.2px,#daff25 27.5px,#cfff30 29.4px,#cfff30 31.7px,#d8ff27 33.3px,#ef1 35.9px,#e7ff18 38.2px,#dcff23 39.8px,#c5ff3a 43px,#bdff42 43.7px,#81ff7e 47.9px,#1fffe0 51.2px,#02fffd 52.1px,#0ff 52.2px,#00b0ff 54.4px,#0085ff 56px,#004eff 58.6px,#04f 59.9px,#004aff 62.5px,#0069ff 64.1px,#009eff 66.4px,#00dfff 68.3px,#0ff 69.2px,#10ffef 69.6px,#70ff8f 72.2px,#85ff7a 72.9px,#d1ff2e 76.1px,#ff0 79.9px,#fffa00 80.3px,#ff0 81px,#e7ff18 84.6px,#93ff6c 88.4px,#28ffd7 92.3px,#0ff 93.6px,#00a3ff 96.5px,#002bff 100.8px,#0003ff 104.7px,#00f 104.9px,#0000fb 105.3px,#0000d6 109.5px,#00f 113.3px,#0005ff 113.7px,#0078ff 117px,#008fff 117.6px,#00f5ff 120.2px,#0ff 120.7px,#03fffc 120.9px,#20ffdf 124.1px,#20ffdf 124.8px,#04fffb 128px,#0ff 128.3px,#00f2ff 129px,#0af 132.2px,#0092ff 133.2px,#0045ff 136.4px,#04f 137.1px,#006cff 140.3px,#0078ff 141px,#00c7ff 144.2px,#00daff 144.9px,#0ff 146.1px,#40ffbf 148.1px,#97ff68 151.3px,#a6ff59 152px,#deff21 154.6px,#ff0 155.7px,#fffa00 155.9px,#ffd700 157.2px,#ff9b00 159.1px,#ff7f00 159.8px,#ff2b00 161.7px,#ff0b00 162.4px,#f00 162.7px,#cf0000 164.3px,#800000 166.3px,#800000 186.4px,#cf0000 187.3px,#f00 188.3px,#ff1f00 189px,#ff6f00 190.9px,#ff8900 191.6px,#ffc500 192.2px,#fff000 192.9px,#ff0 193.1px,#c6ff39 194.1px,#7bff84 195.4px,#5dffa2 196.1px,#12ffed 198.7px,#0ff 200.3px,#00edff 201.9px,#00e9ff 202.6px,#0ff 204.4px,#1fe 205.8px,#1effe1 206.8px,#5bffa4 210px,#60ff9f 210.4px,#98ff67 213.6px,#a0ff5f 214.3px,#b6ff49 216.8px,#b9ff46 218.1px,#c2ff3d 220.7px,#c5ff3a 222px,#d5ff2a 224.6px,#e3ff1c 226.2px,#f8ff07 228.5px,#ff0 229px,#ffec00 230.5px,#fc0 231.8px,#ff9300 233.7px,#ff6c00 235px,#ff2000 236.9px,#f00 238px,#f90000 238.2px,#d00 240.8px,#d70000 242.5px,#e30000 245.7px,#e90000 247.3px,#fa0000 250.6px,#f00 251.3px,#ff0600 252.2px,#ff0900 255.4px,#f00 256.6px,#fc0000 257.1px,#e50000 260.3px,#da0000 261.9px,#db0000 265.2px,#d00 266.8px,#e20000 270px,#db0000 271.6px,#de0000 273.3px,#f70000 275.9px,#f00 277.2px,#ff0f00 279.8px,#f00 280.5px,#cf0000 283px,#af0000 286.2px,#800000 289.5px,#800000 314.2px)"></i><i style="height:8.34px;background:linear-gradient(90deg,#800000 0px,#800000 17.8px,#920000 18.7px,#ba0000 19.1px,#f00 19.6px,#ff0800 19.7px,#ff5d00 21px,#ff8400 21.6px,#fffa00 23.6px,#ff0 23.8px,#c3ff3c 26.2px,#b1ff4e 27.5px,#98ff67 29.4px,#98ff67 31.7px,#9bff64 33.3px,#b0ff4f 35.9px,#baff45 38.2px,#b4ff4b 39.8px,#a7ff58 43px,#9fff60 43.7px,#6f9 47.9px,#25ffda 51.2px,#12ffed 52.1px,#0ff 52.7px,#00caff 54.4px,#009cff 56px,#006dff 58.6px,#005bff 59.9px,#0073ff 62.5px,#008aff 64.1px,#00c0ff 66.4px,#00f5ff 68.3px,#0ff 68.6px,#2fd 69.6px,#7bff84 72.2px,#8bff74 72.9px,#d6ff29 76.1px,#ff0 79.5px,#fff500 80.3px,#ff0 82.8px,#f8ff07 84.6px,#a9ff56 88.4px,#38ffc7 92.3px,#0ff 94.1px,#00aeff 96.5px,#0031ff 100.8px,#0006ff 104.7px,#00f 105.2px,#0000fe 105.3px,#0000e1 109.5px,#00f 112.7px,#000aff 113.7px,#0070ff 117px,#0084ff 117.6px,#00eaff 120.2px,#0ff 120.8px,#01fffe 120.9px,#27ffd8 124.1px,#2dffd2 124.8px,#09fff6 128px,#0ff 128.7px,#00fbff 129px,#00aeff 132.2px,#0097ff 133.2px,#004cff 136.4px,#0041ff 137.1px,#0072ff 140.3px,#007dff 141px,#00dfff 144.2px,#00f3ff 144.9px,#0ff 145.2px,#6cff93 148.1px,#c4ff3b 151.3px,#d2ff2d 152px,#ff0 154.2px,#fff800 154.6px,#ffc900 155.9px,#ff9b00 157.2px,#ff4600 159.1px,#ff2800 159.8px,#f00 160.6px,#cb0000 161.7px,#ab0000 162.4px,#980000 164.3px,#800000 166.3px,#800000 186.4px,#980000 187.3px,#b10000 189px,#ca0000 190.9px,#d20000 191.6px,#f00 191.9px,#ff2300 192.2px,#ff4e00 192.9px,#ff9f00 194.1px,#fff600 195.4px,#ff0 195.6px,#deff21 196.1px,#9bff64 198.7px,#7eff81 201.9px,#80ff7f 202.6px,#9bff64 205.8px,#a4ff5b 206.8px,#cf3 210px,#ceff31 210.4px,#dfff20 213.6px,#e1ff1e 214.3px,#d7ff28 216.8px,#cfff30 218.1px,#c6ff39 220.7px,#c1ff3e 222px,#d1ff2e 224.6px,#dcff23 226.2px,#f1ff0e 228.5px,#ff0 229.9px,#fff900 230.5px,#fc0 231.8px,#ff8500 233.7px,#ff5600 235px,#ff0a00 236.9px,#f00 237.5px,#f10000 238.2px,#d10000 240.8px,#d50000 242.5px,#e50000 245.7px,#ec0000 247.3px,#fd0000 250.6px,#f00 250.7px,#ff0e00 252.2px,#ff2600 255.4px,#ff1600 257.1px,#f00 259.4px,#f70000 260.3px,#eb0000 261.9px,#da0000 265.2px,#d40000 266.8px,#ca0000 270px,#b20000 271.6px,#9d0000 273.3px,#a50000 275.9px,#ac0000 279.8px,#980000 283px,#8e0000 286.2px,#800000 289.5px,#800000 314.2px)"></i><i style="height:8.34px;background:linear-gradient(90deg,#800000 0px,#800000 18.7px,#db0000 19.7px,#f00 20.1px,#ff2e00 20.7px,#ff7100 21.6px,#ff9e00 22.3px,#fff300 23.6px,#ff0 23.9px,#f1ff0e 24.2px,#b3ff4c 26.2px,#a4ff5b 26.8px,#78ff87 29.4px,#75ff8a 30.1px,#70ff8f 33.3px,#7f8 34.9px,#89ff76 38.2px,#86ff79 39.8px,#82ff7d 43px,#74ff8b 44.7px,#53ffac 47.9px,#40ffbf 49.5px,#1fffe0 52.1px,#0ff 53.4px,#00e8ff 54.4px,#00c4ff 56px,#09f 59.3px,#0092ff 59.9px,#00bdff 64.1px,#0ff 67.3px,#17ffe8 68.3px,#28ffd7 69px,#81ff7e 72.2px,#a1ff5e 73.8px,#cf3 76.1px,#e8ff17 78.7px,#f2ff0d 80.3px,#e7ff18 82.6px,#d7ff28 84.6px,#a9ff56 86.8px,#8bff74 88.4px,#49ffb6 91px,#24ffdb 92.3px,#0ff 93.5px,#00d2ff 94.9px,#00a1ff 96.5px,#0061ff 98.8px,#0032ff 100.8px,#0019ff 103px,#0004ff 105.3px,#00f 106px,#0000f4 107.9px,#0000ef 109.5px,#00f 111.5px,#000aff 112.8px,#0017ff 113.7px,#0072ff 117px,#0085ff 117.6px,#0ff 120.9px,#0ff 120.9px,#37ffc8 124.8px,#07fff8 129px,#0ff 129.3px,#00abff 133.2px,#0076ff 137.1px,#00bdff 141px,#0ff 143px,#27ffd8 144.2px,#3bffc4 144.9px,#98ff67 147.5px,#b2ff4d 148.1px,#ef1 150px,#ff0 150.6px,#ffe500 151.3px,#ffc000 152.6px,#ff8f00 154.6px,#ff5c00 155.9px,#ff3800 157.2px,#f00 158.8px,#db0000 159.8px,#800000 162.4px,#800000 191.6px,#c00000 192.2px,#f00 193.5px,#ff0d00 193.8px,#f20 194.1px,#ff5000 194.8px,#ff9700 196.1px,#fc0 198.7px,#ffec00 201.9px,#ffec00 203.6px,#ffeb00 205.8px,#ffe600 208.4px,#ffe600 210px,#fff100 211.7px,#fffc00 214.3px,#ff0 214.5px,#faff05 214.9px,#d9ff26 218.1px,#bcff43 222px,#c7ff38 226.2px,#edff12 230.5px,#ff0 231px,#ffa000 233.7px,#ff8a00 234.4px,#ff2a00 236.9px,#ff1e00 237.6px,#f00 239.1px,#da0000 240.8px,#e50000 245.7px,#f00 248.8px,#ff0e00 250.6px,#ff4100 255.4px,#ff1300 259.6px,#ff0b00 260.3px,#f00 261.3px,#e50000 263.5px,#d00000 265.2px,#b70000 267.4px,#ad0000 270px,#800000 273.3px,#800000 314.2px)"></i><i style="height:8.34px;background:linear-gradient(90deg,#800000 0px,#800000 18.7px,#9a0000 19.7px,#f00 20.6px,#ff0d00 20.7px,#ff5700 21.6px,#f80 22.3px,#fd0 23.6px,#ff0 24.2px,#fbff04 24.2px,#b3ff4c 26.2px,#9cff63 26.8px,#6bff94 29.4px,#61ff9e 30.1px,#54ffab 33.3px,#4fffb0 34.9px,#5fa 38.2px,#54ffab 39.8px,#59ffa6 43px,#58ffa7 44.7px,#48ffb7 47.9px,#40ffbf 49.5px,#28ffd7 52.1px,#0cfff3 54.4px,#0ff 55.6px,#00faff 56px,#00e2ff 59.3px,#00e2ff 59.9px,#00feff 64.1px,#0ff 64.2px,#40ffbf 68.3px,#4bffb4 69px,#83ff7c 72.2px,#9bff64 73.8px,#b4ff4b 76.1px,#cbff34 78.7px,#c2ff3d 80.3px,#afff50 82.6px,#8dff72 84.6px,#5effa1 86.8px,#4fb 88.4px,#15ffea 91px,#0ff 91.8px,#00f1ff 92.3px,#00a9ff 94.9px,#0081ff 96.5px,#0049ff 98.8px,#002fff 100.8px,#0019ff 103px,#000bff 105.3px,#00f 107.3px,#0000fc 107.9px,#00f 109px,#0002ff 109.5px,#0015ff 112.8px,#002aff 113.7px,#007cff 117px,#0090ff 117.6px,#0ff 120.9px,#3dffc2 124.8px,#14ffeb 129px,#0ff 130.2px,#0cf 133.2px,#00d8ff 137.1px,#0ff 138.9px,#2dffd2 141px,#94ff6b 144.2px,#a6ff59 144.9px,#f4ff0b 147.5px,#ff0 147.7px,#fff000 148.1px,#ffa900 150px,#ff6f00 151.3px,#ff3700 152.6px,#f00 154.2px,#f10000 154.6px,#be0000 155.9px,#b40000 157.2px,#9a0000 159.8px,#800000 162.4px,#800000 191.6px,#920000 192.2px,#a70000 193.8px,#bd0000 194.1px,#e80000 194.8px,#f00 195.8px,#ff0600 196.1px,#ff2800 198.7px,#f50 201.9px,#ff6700 203.6px,#ff8100 205.8px,#ff9d00 208.4px,#ffb800 210px,#ffd600 211.7px,#fff700 214.3px,#ff0 214.8px,#feff01 214.9px,#d9ff26 218.1px,#b5ff4a 222px,#a6ff59 226.2px,#cf3 230.5px,#ff0 232.4px,#fd0 233.7px,#ffcb00 234.4px,#ff7600 236.9px,#ff6400 237.6px,#f00 240.5px,#f50000 240.8px,#e50000 245.7px,#f00 247.6px,#ff2900 250.6px,#ff5c00 255.4px,#ff2a00 259.6px,#ff1e00 260.3px,#f00 262.1px,#e50000 263.5px,#c10000 265.2px,#8f0000 267.4px,#8d0000 270px,#800000 273.3px,#800000 314.2px)"></i><i style="height:8.34px;background:linear-gradient(90deg,#800000 0px,#800000 13.9px,#9b0000 16.5px,#a70000 19.7px,#f00 20.6px,#ff0c00 20.7px,#ff7800 22.3px,#ff9d00 22.9px,#ffe400 24.2px,#ff0 25px,#d2ff2d 26.2px,#bfff40 26.8px,#8dff72 30.1px,#87ff78 34px,#85ff7a 34.9px,#8bff74 38.2px,#8f7 39.8px,#89ff76 43px,#89ff76 44.7px,#7eff81 47.9px,#7f8 49.5px,#5effa1 52.8px,#4effb1 54.4px,#35ffca 57.6px,#26ffd9 59.3px,#21ffde 61.9px,#1bffe4 64.1px,#20ffdf 65.7px,#26ffd9 69px,#28ffd7 69.6px,#36ffc9 73.8px,#3dffc2 78.1px,#40ffbf 78.7px,#20ffdf 82.6px,#10ffef 83.6px,#0ff 84.6px,#00deff 86.8px,#00baff 90.1px,#00b0ff 91px,#006cff 94.9px,#0054ff 96.5px,#0031ff 98.8px,#0019ff 103px,#000bff 107.9px,#0012ff 109.5px,#0028ff 112.8px,#0048ff 114.4px,#0083ff 117px,#00a9ff 118.3px,#00f6ff 120.9px,#0ff 121.4px,#0ffff0 122.2px,#37ffc8 124.8px,#34ffcb 126.1px,#2affd5 129px,#23ffdc 129.9px,#12ffed 133.2px,#1affe5 133.8px,#43ffbc 137.1px,#8aff75 140.3px,#9dff62 141px,#deff21 142.9px,#ff0 143.8px,#fff000 144.2px,#ffc300 145.5px,#ff8700 147.5px,#ff5400 148.8px,#ff3000 150px,#f00 151.5px,#d70000 152.6px,#800000 155.9px,#800000 190.6px,#970000 192.2px,#9a0000 193.8px,#c70000 194.8px,#db0000 197.1px,#e80000 198.7px,#f00 200.5px,#ff1200 201.9px,#ff2e00 203.6px,#f60 206.8px,#ff8700 208.4px,#ffb200 210px,#ffda00 211.7px,#fff900 213.3px,#ff0 213.6px,#e5ff1a 214.9px,#caff35 216.5px,#b5ff4a 218.1px,#98ff67 220.7px,#8bff74 222px,#78ff87 224.6px,#70ff8f 226.2px,#82ff7d 229.5px,#89ff76 230.5px,#c9ff36 234.4px,#ff0 236.6px,#ffe600 237.6px,#ffb600 239.2px,#ff8300 240.8px,#ff6d00 243.4px,#ff5a00 245.7px,#ff6300 247.3px,#ff7600 250.6px,#f70 251.2px,#ff7b00 254.5px,#ff7900 255.4px,#ff5300 257.7px,#ff3000 259.6px,#ff1200 260.9px,#f00 261.6px,#ce0000 263.5px,#ba0000 264.2px,#800000 267.4px,#800000 314.2px)"></i><i style="height:8.34px;background:linear-gradient(90deg,#800000 0px,#800000 13.9px,#c90000 16.5px,#e90000 19.7px,#f00 20.1px,#ff2000 20.7px,#ff6a00 22.3px,#ff8700 22.9px,#ffb700 24.2px,#fff700 26.2px,#ff0 26.8px,#ff0 26.8px,#e2ff1d 30.1px,#f3ff0c 34px,#f7ff08 34.9px,#ff0 36.5px,#fff600 38.2px,#fffd00 39.8px,#ff0 40.2px,#f4ff0b 43px,#ef1 44.7px,#deff21 47.9px,#d3ff2c 49.5px,#b9ff46 52.8px,#a6ff59 54.4px,#80ff7f 57.6px,#6f9 59.3px,#41ffbe 61.9px,#1fffe0 64.1px,#08fff7 65.7px,#0ff 66.2px,#00d1ff 69px,#00c7ff 69.6px,#0091ff 73.8px,#006dff 78.1px,#006bff 78.7px,#0056ff 82.6px,#004eff 83.6px,#003dff 86.8px,#002fff 90.1px,#002eff 91px,#0023ff 94.9px,#001fff 96.5px,#0019ff 98.8px,#0019ff 103px,#001dff 107.9px,#0021ff 109.5px,#0040ff 112.8px,#05f 114.4px,#008aff 117px,#00a6ff 118.3px,#00e6ff 120.9px,#0ff 122px,#04fffb 122.2px,#27ffd8 124.8px,#3fc 126.1px,#46ffb9 129px,#4cffb3 129.9px,#6fff90 133.2px,#79ff86 133.8px,#b3ff4c 137.1px,#f4ff0b 140.3px,#ff0 140.6px,#fff200 141px,#ffa800 142.9px,#ff6c00 144.2px,#ff3200 145.5px,#f00 146.8px,#e80000 147.5px,#b50000 148.8px,#ac0000 150px,#960000 152.6px,#800000 155.9px,#800000 190.6px,#bf0000 192.2px,#c60000 193.8px,#d50000 194.8px,#e30000 197.1px,#ed0000 198.7px,#f00 201.3px,#ff0400 201.9px,#ff2500 203.6px,#f60 206.8px,#ff9500 208.4px,#ffc500 210px,#fff100 211.7px,#ff0 212.2px,#e4ff1b 213.3px,#bf4 214.9px,#92ff6d 216.5px,#7bff84 218.1px,#56ffa9 220.7px,#49ffb6 222px,#32ffcd 224.6px,#2cffd3 226.2px,#2affd5 229.5px,#2effd1 230.5px,#46ffb9 234.4px,#6dff92 237.6px,#83ff7c 239.2px,#a2ff5d 240.8px,#c5ff3a 243.4px,#e6ff19 245.7px,#f7ff08 247.3px,#ff0 248.1px,#ffe400 250.6px,#ffdc00 251.2px,#ffae00 254.5px,#ff9a00 255.4px,#ff6100 257.7px,#ff2b00 259.6px,#ff0400 260.9px,#f00 261.1px,#a60000 263.5px,#8e0000 264.2px,#800000 267.4px,#800000 314.2px)"></i><i style="height:8.34px;background:linear-gradient(90deg,#800000 0px,#800000 7.4px,#a60000 10.6px,#b90000 13.9px,#e60000 15.5px,#fe0000 16.5px,#f00 16.5px,#ff2400 19.7px,#ff3600 20.3px,#ff7b00 22.9px,#ffac00 25.2px,#ffc100 26.2px,#ffd900 30.1px,#ffc900 34px,#ffb900 38.2px,#ffbe00 39.8px,#ffd200 43px,#ffdc00 44.7px,#fff100 47.9px,#fffd00 49.5px,#ff0 49.8px,#eaff15 52.8px,#daff25 54.4px,#b3ff4c 57.6px,#9aff65 59.3px,#6bff94 61.9px,#4cffb3 63.5px,#1affe5 65.7px,#0ff 66.8px,#00f1ff 67.4px,#00b5ff 69.6px,#0097ff 70.9px,#0056ff 73.8px,#04f 74.8px,#001bff 78.1px,#0016ff 78.7px,#00f 82.5px,#0000f9 83.6px,#0000f5 90.1px,#00f 93.6px,#0008ff 96.5px,#0015ff 103px,#0021ff 109.5px,#004bff 114.4px,#0097ff 118.3px,#00ecff 122.2px,#0ff 123.3px,#27ffd8 125.7px,#2dffd2 126.1px,#62ff9d 129px,#72ff8d 129.9px,#a0ff5f 132.2px,#beff41 133.8px,#d9ff26 135.1px,#ff0 136.5px,#fff000 137.1px,#ffdf00 137.7px,#ff8f00 140.3px,#ff2900 142.9px,#ff0c00 143.6px,#f00 143.9px,#cf0000 145.5px,#800000 148.8px,#800000 185.7px,#a10000 187.3px,#a40000 190.6px,#d60000 192.2px,#ef0000 197.1px,#f00 198.3px,#ff2400 201.3px,#ff3000 201.9px,#ff7800 204.5px,#ffb800 206.8px,#ffd900 207.8px,#ff0 209px,#e1ff1e 210px,#c6ff39 211px,#94ff6b 213.3px,#70ff8f 214.9px,#53ffac 216.5px,#31ffce 219.8px,#25ffda 220.7px,#01fffe 224.6px,#0ff 224.9px,#00eaff 229.5px,#00edff 234.4px,#0ff 237.4px,#0bfff4 239.2px,#41ffbe 243.4px,#7cff83 247.3px,#b7ff48 251.2px,#f9ff06 254.5px,#ff0 254.7px,#ffed00 255.4px,#ffb500 257.7px,#ff9b00 258.7px,#ff5e00 260.9px,#ff3f00 261.9px,#f00 263.6px,#eb0000 264.2px,#e00000 265.2px,#b00000 268.4px,#a10000 272.6px,#800000 279.8px,#800000 314.2px)"></i><i style="height:8.34px;background:linear-gradient(90deg,#800000 0px,#800000 7.4px,#e00000 10.6px,#f00 12.7px,#ff1200 13.9px,#ff2d00 15.5px,#ff3800 16.5px,#ff5a00 19.7px,#ff6200 20.3px,#ff7400 22.9px,#ff8300 25.2px,#ff8a00 26.2px,#ff9e00 30.1px,#ff9d00 34px,#ff9c00 38.2px,#ff9c00 39.8px,#ffb500 43px,#ffc200 44.7px,#ffdb00 47.9px,#ffe700 49.5px,#fff900 52.8px,#ff0 53.9px,#fcff03 54.4px,#d9ff26 57.6px,#c8ff37 59.3px,#9f6 61.9px,#7bff84 63.5px,#40ffbf 65.7px,#16ffe9 67.4px,#0ff 68.1px,#00cdff 69.6px,#00a5ff 70.9px,#0050ff 73.8px,#0034ff 74.8px,#000aff 78.1px,#0002ff 78.7px,#00f 78.9px,#0000db 83.6px,#0000e7 90.1px,#00f 96.4px,#0001ff 96.5px,#000dff 103px,#001aff 109.5px,#0035ff 114.4px,#0081ff 118.3px,#00cfff 122.2px,#0ff 124.5px,#1bffe4 125.7px,#24ffdb 126.1px,#7dff82 129px,#97ff68 129.9px,#d4ff2b 132.2px,#f7ff08 133.8px,#ff0 134.2px,#ffeb00 135.1px,#ffa000 137.1px,#ff8700 137.7px,#ff0c00 140.3px,#f00 140.6px,#a50000 142.9px,#8b0000 143.6px,#860000 145.5px,#800000 148.8px,#800000 185.7px,#d40000 187.3px,#dc0000 190.6px,#e40000 192.2px,#fe0000 197.1px,#f00 197.1px,#ff6100 201.3px,#ff7900 201.9px,#ffdc00 204.5px,#ff0 205.4px,#caff35 206.8px,#a5ff5a 207.8px,#6f9 210px,#4bffb4 211px,#2bffd4 213.3px,#15ffea 214.9px,#0ffff0 216.5px,#04fffb 219.8px,#0ff 220.3px,#00fbff 220.7px,#00dcff 224.6px,#00b7ff 229.5px,#00acff 234.4px,#00baff 239.2px,#00e1ff 243.4px,#0ff 245.7px,#16ffe9 247.3px,#4affb5 251.2px,#8eff71 254.5px,#a3ff5c 255.4px,#d0ff2f 257.7px,#e4ff1b 258.7px,#ff0 260px,#ffec00 260.9px,#ffd800 261.9px,#ff8f00 264.2px,#ff7200 265.2px,#f00 268.2px,#f80000 268.4px,#d40000 272.6px,#800000 279.8px,#800000 314.2px)"></i><i style="height:8.34px;background:linear-gradient(90deg,#af0000 0px,#af0000 5.8px,#c40000 7.4px,#f40000 9px,#f00 9.5px,#ff1a00 10.6px,#ff4900 13.9px,#ff5b00 15.5px,#ff7500 18.7px,#ff8200 20.3px,#ff9300 23.6px,#f90 25.2px,#ffa600 28.5px,#ffab00 30.1px,#ffab00 33.3px,#ff9f00 38.2px,#ff9d00 39.8px,#ffa700 43px,#ffb300 44.7px,#ffcd00 47.9px,#ffda00 49.5px,#ffed00 52.1px,#fffa00 54.4px,#ff0 55px,#f6ff09 56px,#d0ff2f 59.3px,#c6ff39 59.9px,#82ff7d 63.5px,#7bff84 63.8px,#1dffe2 67.4px,#14ffeb 67.7px,#0ff 68.3px,#00afff 70.9px,#009cff 71.6px,#003cff 74.8px,#002eff 75.5px,#000cff 78.7px,#00f 80.2px,#0000fe 80.3px,#00e 83.6px,#00e 86.8px,#0000f1 90.1px,#0000f8 93.3px,#00f 95.6px,#0003ff 96.5px,#0009ff 99.8px,#0010ff 103px,#0016ff 106.3px,#0021ff 109.5px,#002aff 111.1px,#0051ff 114.4px,#005eff 115px,#009dff 118.3px,#0af 118.9px,#00eaff 122.2px,#00f7ff 122.8px,#0ff 123.1px,#4fb 125.7px,#4fffb0 126.1px,#a5ff5a 129px,#aeff51 129.3px,#f4ff0b 132.2px,#faff05 132.5px,#ff0 132.7px,#ffb600 135.1px,#f40 137.7px,#f00 139.4px,#da0000 140.3px,#a10000 141.9px,#800000 143.6px,#800000 177.6px,#a30000 179.2px,#af0000 184.1px,#b30000 185.7px,#e70000 187.3px,#ed0000 189px,#f00 191.8px,#ff0200 192.2px,#ff0f00 193.8px,#ff2800 197.1px,#ff4500 198.7px,#ff7600 201.3px,#f90 202.6px,#ffd700 204.5px,#ff0 205.8px,#fdff02 205.8px,#c3ff3c 207.8px,#a4ff5b 209.1px,#75ff8a 211px,#60ff9f 212.3px,#2dffd2 214.9px,#24ffdb 215.5px,#0ff 219.8px,#00caff 224px,#00c3ff 224.6px,#009fff 228.5px,#0098ff 229.5px,#0089ff 233.7px,#0089ff 234.4px,#009bff 239.2px,#00beff 243.4px,#00c5ff 244.1px,#00ecff 247.3px,#0ff 248.9px,#0ff 248.9px,#18ffe7 251.2px,#3fffc0 253.8px,#5fa 255.4px,#7fff80 258.7px,#b8ff47 261.9px,#cfff30 262.9px,#ff0 264.8px,#fff700 265.2px,#ffc900 266.8px,#ff9b00 268.4px,#ff7e00 270.7px,#ff6700 272.6px,#ff4800 274.9px,#f00 278.9px,#fb0000 279.1px,#ed0000 279.8px,#b00 283px,#800000 287.9px,#800000 314.2px)"></i><i style="height:8.34px;background:linear-gradient(90deg,#e40000 0px,#e40000 5.8px,#f00 6.8px,#f10 7.4px,#ff3d00 9px,#ff5300 10.6px,#ff7e00 13.9px,#ff8700 15.5px,#ff9800 18.7px,#ffa000 20.3px,#ffb100 23.6px,#ffb600 25.2px,#ffbe00 28.5px,#ffbf00 30.1px,#ffbf00 33.3px,#ffa600 38.2px,#ffa100 39.8px,#f90 43px,#ffa600 44.7px,#ffc000 47.9px,#ffce00 49.5px,#ffe600 52.1px,#fff500 54.4px,#ff0 56px,#ff0 56px,#d4ff2b 59.3px,#cf3 59.9px,#86ff79 63.5px,#7fff80 63.8px,#2fd 67.4px,#19ffe6 67.7px,#0ff 68.5px,#00b9ff 70.9px,#00a5ff 71.6px,#0046ff 74.8px,#03f 75.5px,#0019ff 78.7px,#000cff 80.3px,#0006ff 83.6px,#00f 86.5px,#0000fe 86.8px,#00f 90.1px,#00f 93.4px,#0006ff 96.5px,#000dff 99.8px,#0013ff 103px,#0019ff 106.3px,#002aff 109.5px,#03f 111.1px,#0072ff 114.4px,#007eff 115px,#00beff 118.3px,#00cbff 118.9px,#0ff 121.6px,#0cfff3 122.2px,#18ffe7 122.8px,#74ff8b 125.7px,#7eff81 126.1px,#ceff31 129px,#d7ff28 129.3px,#ff0 131.3px,#ffed00 132.2px,#ffe600 132.5px,#ff8100 135.1px,#ff0200 137.7px,#f00 137.8px,#b20000 140.3px,#810000 141.9px,#800000 143.6px,#800000 177.6px,#cb0000 179.2px,#e40000 184.1px,#ec0000 185.7px,#f60000 187.3px,#fe0000 189px,#f00 189px,#ff2100 192.2px,#ff3200 193.8px,#ff5400 197.1px,#ff6500 198.7px,#ff8700 201.3px,#f90 202.6px,#ffc700 204.5px,#ffe600 205.8px,#ff0 207.1px,#f1ff0e 207.8px,#d7ff28 209.1px,#b0ff4f 211px,#97ff68 212.3px,#50ffaf 214.9px,#3fffc0 215.5px,#0ff 219.8px,#00b3ff 224px,#00acff 224.6px,#0081ff 228.5px,#007cff 229.5px,#0067ff 233.7px,#006aff 234.4px,#0080ff 239.2px,#00a2ff 243.4px,#00a7ff 244.1px,#00c9ff 247.3px,#00daff 248.9px,#00ecff 251.2px,#0ff 253.6px,#02fffd 253.8px,#0bfff4 255.4px,#1dffe2 258.7px,#4effb1 261.9px,#5dffa2 262.9px,#83ff7c 265.2px,#9eff61 266.8px,#b9ff46 268.4px,#deff21 270.7px,#fbff04 272.6px,#ff0 272.9px,#ffe000 274.9px,#ff7b00 279.1px,#f60 279.8px,#f00 282.9px,#fd0000 283px,#800000 287.9px,#800000 314.2px)"></i><i style="height:8.34px;background:linear-gradient(90deg,#ff2900 0px,#ff2900 5.8px,#ff5200 9px,#ff6400 10.6px,#ff7800 13.9px,#ff8100 15.5px,#ffa000 18.7px,#ffb000 20.3px,#ffc100 23.6px,#ffc900 25.2px,#ffd900 28.5px,#ffe100 30.1px,#ffe100 33.3px,#ffe000 34.9px,#ffcf00 38.2px,#ffc700 39.8px,#ffd400 43px,#ffde00 44.7px,#fff000 47.9px,#fff900 49.5px,#ff0 50.3px,#f0ff0f 52.1px,#dfff20 54.4px,#c8ff37 56px,#a2ff5d 58.6px,#7aff85 59.9px,#29ffd6 62.5px,#09fff6 63.8px,#0ff 64.1px,#00c4ff 66.4px,#00a7ff 67.7px,#06f 70.6px,#005aff 71.6px,#0028ff 75.5px,#0012ff 80.3px,#000cff 82px,#0003ff 86.8px,#00f 88.4px,#00f 95.2px,#0000f8 99.8px,#0000f6 101.4px,#0000ef 106.3px,#0000ed 107.9px,#0000f5 111.1px,#00f 113.6px,#0003ff 114.4px,#000bff 115px,#0038ff 118.9px,#003cff 119.2px,#00a8ff 122.5px,#00b7ff 122.8px,#0ff 124.3px,#2fd 125.1px,#56ffa9 126.1px,#9aff65 127.4px,#e4ff1b 129.3px,#fcff03 129.9px,#ff0 130px,#ff8c00 132.5px,#ff1c00 135.1px,#ff0e00 135.5px,#f00 136.4px,#ea0000 137.7px,#c90000 140.3px,#a10000 141.9px,#800000 143.6px,#800000 172.7px,#c20000 174.4px,#ef0000 176.6px,#f00 176.9px,#ff2800 177.6px,#ff6500 178.6px,#ff8e00 179.2px,#ffda00 180.5px,#ff0 181.3px,#caff35 182.5px,#98ff67 184.1px,#7aff85 185.1px,#56ffa9 189px,#6f9 193.8px,#81ff7e 198.7px,#96ff69 202.6px,#9f6 203.6px,#93ff6c 205.8px,#8cff73 208.4px,#86ff79 209.1px,#68ff97 212.3px,#5effa1 213.3px,#3cffc3 215.5px,#19ffe6 218.1px,#0ff 219.4px,#00f8ff 219.8px,#00b5ff 223px,#0af 224px,#0080ff 227.9px,#007bff 228.5px,#005bff 232.7px,#0058ff 233.7px,#0048ff 239.2px,#04f 244.1px,#04f 245.7px,#0058ff 248.9px,#006cff 252.2px,#0081ff 253.8px,#00a8ff 257.1px,#00c7ff 258.7px,#0ff 261.5px,#09fff6 261.9px,#16ffe9 262.9px,#4bffb4 266.8px,#91ff6e 270.7px,#a3ff5c 271.6px,#d4ff2b 274.9px,#e4ff1b 275.9px,#ff0 277.4px,#ffe200 279.1px,#ffd600 279.8px,#ff7e00 283px,#ff6d00 283.6px,#f00 287.3px,#ef0000 287.9px,#800000 292.7px,#800000 314.2px)"></i><i style="height:8.34px;background:linear-gradient(90deg,#ff3b00 0px,#ff3b00 4.1px,#ff2f00 5.8px,#ff2900 7.4px,#ff4600 10.6px,#ff5100 12.2px,#ff7200 15.5px,#ff8600 17.1px,#ffad00 20.3px,#ffbe00 22px,#ffd400 25.2px,#ffdf00 26.8px,#fff000 30.1px,#fff600 31.7px,#fff600 34.9px,#ffec00 39.8px,#ffef00 41.4px,#ff0 43.7px,#f8ff07 44.7px,#edff12 46.3px,#d7ff28 49.5px,#caff35 51.2px,#abff54 54.4px,#97ff68 56px,#78ff87 58.6px,#4dffb2 60.9px,#2affd5 62.5px,#0ff 64.7px,#00f7ff 65.1px,#00d8ff 66.4px,#009eff 69px,#0082ff 70.6px,#05f 73.8px,#04f 75.5px,#002aff 78.7px,#001dff 82px,#0012ff 85.2px,#000cff 88.4px,#0008ff 91.7px,#0004ff 94.9px,#00f 97px,#0000fd 98.2px,#0000fa 101.4px,#0000f8 104.7px,#0000fa 107.9px,#00f 110.6px,#0001ff 111.1px,#0014ff 114.4px,#02f 116px,#0060ff 119.2px,#007cff 120.2px,#00d2ff 122.5px,#00fbff 123.5px,#0ff 123.5px,#4cffb3 125.1px,#7eff81 126.1px,#b9ff46 127.4px,#ecff13 128.6px,#ff0 129.1px,#ffd700 129.9px,#ff9700 131.2px,#ff5f00 132.5px,#ff1000 134.5px,#f00 135.3px,#fc0000 135.5px,#dc0000 140.3px,#b80000 143.6px,#b00000 146.8px,#a80000 153.3px,#a80000 159.8px,#b80000 166.3px,#d00000 171.1px,#f10000 172.7px,#f00 173.1px,#ff2e00 174.4px,#ff8700 176.6px,#f90 177px,#fe0 178.6px,#ff0 178.9px,#ef1 179.2px,#beff41 180.5px,#95ff6a 181.8px,#81ff7e 182.5px,#40ffbf 185.1px,#09fff6 189px,#0ff 189.8px,#00dfff 192.9px,#00dfff 193.8px,#00e0ff 196.1px,#0ff 197.6px,#15ffea 198.7px,#23ffdc 199.3px,#57ffa8 203.6px,#80ff80 208.4px,#71ff8e 213.3px,#42ffbd 218.1px,#0ff 222.3px,#00f3ff 223px,#00b8ff 227.9px,#008aff 232.7px,#0068ff 239.2px,#0063ff 245.7px,#0082ff 252.2px,#00b9ff 257.1px,#0ff 261.9px,#40ffbf 266.8px,#92ff6d 270.7px,#a5ff5a 271.6px,#ceff31 273.9px,#f1ff0e 275.9px,#ff0 276.6px,#fff500 277.2px,#ffa500 279.8px,#ff3b00 282.3px,#ff1400 283.6px,#f00 284.3px,#c00000 286.2px,#ae0000 287.9px,#800000 292.7px,#800000 314.2px)"></i><i style="height:8.34px;background:linear-gradient(90deg,#ff2b00 0px,#ff2b00 4.1px,#f10 7.4px,#ff2500 12.2px,#ff3100 13.9px,#ff5200 17.1px,#ff7300 20.3px,#ff8d00 22px,#ffb400 25.2px,#ffc700 26.8px,#ffe200 29.4px,#fff600 31.7px,#ff0 33.3px,#f3ff0c 38.2px,#eaff15 41.4px,#deff21 43px,#c1ff3e 46.3px,#b3ff4c 47.9px,#94ff6b 51.2px,#82ff7d 52.8px,#63ff9c 56px,#53ffac 57.6px,#37ffc8 60.9px,#23ffdc 62.5px,#02fffd 65.1px,#0ff 65.2px,#00d8ff 67.4px,#0bf 69px,#0090ff 72.2px,#007fff 73.8px,#0068ff 77.1px,#0060ff 78.7px,#0060ff 82px,#005fff 85.2px,#0061ff 86.8px,#0063ff 91.7px,#0065ff 96.5px,#0067ff 98.2px,#006fff 101.4px,#07f 104.7px,#007dff 106.3px,#0094ff 111.1px,#0bf 116px,#0ff 119.5px,#0dfff2 120.2px,#71ff8e 123.5px,#89ff76 124.1px,#d9ff26 126.1px,#ff0 127.2px,#fff900 127.4px,#ffcf00 128.6px,#ff6b00 131.2px,#ff0500 134.5px,#f00 135.1px,#fc0000 135.5px,#e40000 140.3px,#d00 141.9px,#cd0000 146.8px,#ca0000 148.4px,#c30000 153.3px,#c30000 154.9px,#c60000 159.8px,#c00 161.4px,#e50000 166.3px,#f00 168.3px,#ff1800 170.2px,#ff2500 171.1px,#ff6a00 173.4px,#ff8400 174.4px,#ffdb00 176.6px,#ffe800 177px,#ff0 177.6px,#c3ff3c 179.2px,#b6ff49 179.9px,#93ff6c 181.8px,#69ff96 184.1px,#5bffa4 185.1px,#29ffd6 189px,#0ff 191.5px,#00eaff 192.9px,#00e5ff 193.8px,#00dbff 196.1px,#0ff 198.2px,#08fff7 198.7px,#15ffea 199.3px,#40ffbf 203.6px,#73ff8c 208.4px,#73ff8c 213.3px,#51ffae 218.1px,#1affe5 223px,#0ff 225.4px,#00e5ff 227.9px,#00b6ff 232.7px,#0090ff 239.2px,#008cff 245.7px,#00a1ff 252.2px,#00d0ff 257.1px,#0ff 261.9px,#3affc5 266.1px,#45ffba 266.8px,#8fff70 270px,#9dff62 270.7px,#d0ff2f 273.3px,#deff21 273.9px,#ff0 275.5px,#fff700 275.9px,#ffd500 277.2px,#ffa200 278.5px,#ff6b00 279.8px,#ff2b00 281px,#f00 282px,#f00000 282.3px,#a40000 284.6px,#800000 286.2px,#800000 314.2px)"></i><i style="height:8.34px;background:linear-gradient(90deg,#ff0200 0px,#ff0200 4.1px,#ff0100 7.4px,#f00 7.6px,#ef0000 12.2px,#e90000 13.9px,#f70000 17.1px,#f00 19px,#ff0600 20.3px,#ff2700 22px,#ff6a00 25.2px,#ff8c00 26.8px,#ffc100 29.4px,#ffe500 31.7px,#ff0 33.3px,#daff25 38.2px,#c1ff3e 41.4px,#b5ff4a 43px,#93ff6c 46.3px,#82ff7d 47.9px,#58ffa7 51.2px,#43ffbc 52.8px,#29ffd6 56px,#1cffe3 57.6px,#0bfff4 60.9px,#02fffd 62.5px,#0ff 62.7px,#00ecff 65.1px,#00d9ff 67.4px,#00cbff 69px,#00b1ff 72.2px,#00b0ff 73.8px,#00afff 77.1px,#00baff 78.7px,#00d3ff 82px,#00ebff 85.2px,#00f7ff 86.8px,#0ff 88.4px,#10ffef 91.7px,#28ffd7 96.5px,#35ffca 98.2px,#4dffb2 101.4px,#6f9 104.7px,#72ff8d 106.3px,#a4ff5b 111.1px,#caff35 116px,#f3ff0c 120.2px,#ff0 121.1px,#ffde00 123.5px,#ffd500 124.1px,#ffa500 126.1px,#ff8600 127.4px,#ff6f00 128.6px,#ff4200 131.2px,#ff0e00 134.5px,#f00 135.4px,#f00 135.5px,#e20000 140.3px,#d90000 141.9px,#cf0000 146.8px,#c00 148.4px,#c00 154.9px,#d50000 159.8px,#d80000 161.4px,#fe0000 166.3px,#f00 166.3px,#ff5600 170.2px,#ff7000 171.1px,#ffaf00 173.4px,#ffbf00 174.4px,#ffe500 176.6px,#ffec00 177px,#ff0 177.9px,#e4ff1b 179.2px,#d7ff28 179.9px,#b9ff46 181.8px,#97ff68 184.1px,#91ff6e 185.1px,#7bff84 189px,#5bffa4 192.9px,#53ffac 193.8px,#48ffb7 196.1px,#3dffc2 198.7px,#3effc1 199.3px,#40ffbf 203.6px,#5bffa4 208.4px,#5bffa4 213.3px,#41ffbe 218.1px,#1affe5 223px,#0ff 227.6px,#00feff 227.9px,#00d7ff 232.7px,#00b1ff 239.2px,#00a4ff 245.7px,#00b2ff 252.2px,#00d8ff 257.1px,#0ff 261.9px,#3fffc0 266.1px,#4effb1 266.8px,#98ff67 270px,#a5ff5a 270.7px,#d8ff27 273.3px,#e8ff17 273.9px,#ff0 274.9px,#ffe600 275.9px,#ffb400 277.2px,#ff8100 278.5px,#ff4200 279.8px,#ff0200 281px,#f00 281.1px,#d20000 282.3px,#810000 284.6px,#800000 286.2px,#800000 314.2px)"></i><i style="height:8.34px;background:linear-gradient(90deg,#ff2300 0px,#ff2300 5.8px,#ff1800 7.4px,#f00 10.2px,#fb0000 10.6px,#f70000 13.9px,#fb0000 17.1px,#f00 17.4px,#ff2900 20.3px,#ff4800 22px,#ff8d00 25.2px,#ffa100 26.2px,#ffe300 29.4px,#ffef00 30.1px,#ff0 30.9px,#d3ff2c 33.3px,#c8ff37 34px,#9bff64 38.2px,#63ff9c 43px,#27ffd8 47.9px,#0ff 50.5px,#0df 52.8px,#00aeff 57.6px,#0095ff 62.5px,#009bff 67.4px,#0af 72.2px,#00cdff 77.1px,#00f3ff 82px,#0ff 83.9px,#12ffed 86.8px,#46ffb9 91.7px,#8aff75 95.6px,#9cff63 96.5px,#c6ff39 98.8px,#ff0 100.7px,#ffeb00 101.4px,#ffd700 102.1px,#f70 105.3px,#ff6400 106.3px,#ff2300 109.5px,#ff1500 111.1px,#ff0900 112.8px,#ff0100 116px,#f00 116.3px,#f40000 120.2px,#e50000 124.1px,#cd0000 127.4px,#ba0000 131.2px,#a60000 135.5px,#9b0000 141.9px,#970000 148.4px,#970000 154.9px,#9b0000 161.4px,#9f0000 163px,#d80000 164.6px,#ed0000 166.3px,#f00 167.3px,#ff0b00 167.9px,#ff3400 170.2px,#ff4700 171.1px,#ff6d00 173.4px,#ff8700 175.3px,#ff9200 176.6px,#ffb200 179.9px,#ffd400 184.1px,#ffd900 185.1px,#fff600 189px,#fffb00 189.6px,#ff0 190.1px,#deff21 193.8px,#c6ff39 198px,#c0ff3f 198.7px,#af5 201.9px,#9fff60 203.6px,#93ff6c 205.8px,#81ff7e 208.4px,#74ff8b 210px,#52ffad 213.3px,#46ffb9 214.3px,#29ffd6 218.1px,#24ffdb 218.8px,#0bfff4 223px,#06fff9 224px,#01fffe 227.9px,#0ff 228.4px,#00f6ff 232.7px,#00ecff 239.2px,#00eaff 245.7px,#00f0ff 252.2px,#00f8ff 255.4px,#0ff 256.4px,#05fffa 257.1px,#21ffde 260.9px,#2affd5 261.9px,#4dffb2 265.2px,#5cffa3 266.1px,#94ff6b 269.4px,#a2ff5d 270px,#d5ff2a 272.6px,#e2ff1d 273.3px,#ff0 274.7px,#ffe500 275.9px,#ff8000 278.5px,#ff0a00 281px,#f00 281.3px,#fb0000 281.4px,#940000 284.6px,#800000 285.6px,#800000 314.2px)"></i><i style="height:8.34px;background:linear-gradient(90deg,#ff8000 0px,#ff8000 5.8px,#ff7600 7.4px,#ff6a00 10.6px,#ff6e00 12.2px,#ff6e00 17.1px,#ffb100 22px,#fff200 26.2px,#fffc00 26.8px,#ff0 27.1px,#d0ff2f 30.1px,#b6ff49 31.7px,#90ff6f 34px,#6fff90 36.6px,#5fffa0 38.2px,#3bffc4 41.4px,#2cffd3 43px,#0cfff3 46.3px,#0ff 47.9px,#00e2ff 51.2px,#00d5ff 52.8px,#00c5ff 56px,#00beff 57.6px,#00b8ff 60.9px,#00b6ff 62.5px,#00c7ff 65.7px,#00ceff 67.4px,#00e0ff 70.6px,#00ebff 72.2px,#0ff 74.6px,#07fff8 75.5px,#16ffe9 77.1px,#30ffcf 80.3px,#3affc5 82px,#4bffb4 85.2px,#56ffa9 86.8px,#79ff86 90.1px,#90ff6f 91.7px,#c2ff3d 94.3px,#e2ff1d 95.6px,#ff0 96.7px,#ffdc00 98.2px,#ffcd00 98.8px,#ff6400 102.1px,#ff0600 105.3px,#f00 105.6px,#f20000 106.3px,#b60000 109.5px,#a80000 111.1px,#950000 112.8px,#800000 116px,#800000 163px,#ab0000 164.6px,#bf0000 166.9px,#d70000 167.9px,#fd0000 169.5px,#f00 169.7px,#ff1200 171.1px,#f30 174.4px,#ff3f00 175.3px,#ff5d00 179.2px,#ff6200 179.9px,#ff8000 184.1px,#ff8500 185.1px,#ffa100 189px,#ffa500 189.6px,#ffc500 193.8px,#fd0 198px,#ffe200 198.7px,#fffb00 201.9px,#ff0 202.4px,#f6ff09 203.6px,#e3ff1c 205.8px,#d1ff2e 207.8px,#b1ff4e 210px,#98ff67 211.7px,#6fff90 214.3px,#60ff9f 215.5px,#3bffc4 218.8px,#32ffcd 219.8px,#16ffe9 224px,#0cfff3 228.5px,#02fffd 234.4px,#0ff 236px,#00f8ff 240.8px,#00f4ff 247.3px,#00fbff 253.8px,#00feff 255.4px,#0ff 255.5px,#18ffe7 259.6px,#23ffdc 260.9px,#4fb 264.2px,#50ffaf 265.2px,#86ff79 268.4px,#96ff69 269.4px,#c7ff38 272px,#d3ff2c 272.6px,#ff0 274.8px,#fff800 275.2px,#ffe400 275.9px,#ff8700 278.1px,#ff7a00 278.5px,#f00 281.4px,#870000 285.6px,#800000 286.2px,#800000 314.2px)"></i><i style="height:8.34px;background:linear-gradient(90deg,#f1ff0e 0px,#f1ff0e 7.4px,#dbff24 12.2px,#daff25 13.9px,#d7ff28 17.1px,#beff41 20.3px,#b3ff4c 22px,#90ff6f 26.8px,#67ff98 31.7px,#56ffa9 33.3px,#35ffca 36.6px,#21ffde 39.8px,#18ffe7 41.4px,#05fffa 46.3px,#09fff6 51.2px,#0dfff2 52.8px,#15ffea 56px,#1dffe2 59.3px,#2fd 60.9px,#3affc5 65.7px,#4affb5 70.6px,#53ffac 72.2px,#63ff9c 75.5px,#7aff85 78.7px,#86ff79 80.3px,#a0ff5f 85.2px,#c3ff3c 90.1px,#d8ff27 91.7px,#fbff04 94.3px,#ff0 94.5px,#ffad00 98.2px,#ff6200 102.1px,#ff4000 104.7px,#ff2a00 106.3px,#f00 110.4px,#f80000 111.1px,#b20000 116px,#b10000 117px,#a20000 122.5px,#980000 127.4px,#8e0000 133.8px,#800000 140.3px,#800000 150.7px,#910000 153.3px,#980000 159.8px,#a20000 166.3px,#a30000 166.9px,#ef0000 169.5px,#f00 171.6px,#ff0900 172.7px,#ff1500 174.4px,#ff4200 179.2px,#ff7200 184.1px,#ff7c00 185.7px,#ff8d00 189px,#ff9e00 192.2px,#ffa700 193.8px,#ffc100 198.7px,#ffdb00 203.6px,#ffe500 205.2px,#fff800 207.8px,#ff0 208.2px,#e2ff1d 210px,#c8ff37 211.7px,#95ff6a 214.9px,#8bff74 215.5px,#4fffb0 219.8px,#2cffd3 224px,#29ffd6 224.6px,#16ffe9 228.5px,#0bfff4 231.1px,#0ff 233.6px,#00fbff 234.4px,#00edff 237.6px,#00dfff 240.8px,#00d7ff 244.1px,#00d0ff 247.3px,#00d4ff 250.6px,#00daff 253.8px,#00e7ff 257.1px,#00f4ff 259.6px,#0ff 260.7px,#0dfff2 261.9px,#28ffd7 264.2px,#4bffb4 266.1px,#7f8 268.4px,#97ff68 270px,#baff45 272px,#d4ff2b 273.3px,#fcff03 275.2px,#ff0 275.3px,#ffcf00 276.5px,#ff8b00 278.1px,#ff4c00 279.8px,#ff0c00 281.4px,#f00 281.8px,#d00 283px,#800 286.2px,#800000 287.9px,#800000 314.2px)"></i><i style="height:8.34px;background:linear-gradient(90deg,#53ffac 0px,#53ffac 7.4px,#47ffb8 13.9px,#21ffde 20.3px,#08fff7 26.8px,#05fffa 33.3px,#10ffef 39.8px,#1bffe4 46.3px,#34ffcb 52.8px,#41ffbe 59.3px,#59ffa6 65.7px,#80ff80 72.2px,#9f6 78.7px,#beff41 85.2px,#d8ff27 91.7px,#ff0 98.2px,#ffe600 104px,#ffe300 104.7px,#fb0 109.5px,#ffae00 111.1px,#ff9100 114.4px,#ff7a00 117px,#ff5a00 119.2px,#ff2e00 122.5px,#ff0d00 125.7px,#f00 126.9px,#fa0000 127.4px,#df0000 130.6px,#c70000 133.8px,#800000 140.3px,#800000 150.7px,#d30000 153.3px,#f70000 159.8px,#f00 160.8px,#ff2800 166.3px,#ff5800 172.7px,#ff7000 179.2px,#ffa000 185.7px,#ffc400 192.2px,#ffe800 198.7px,#fffa00 201.9px,#ff0 202.6px,#edff12 205.2px,#aeff51 210px,#80ff7f 213.3px,#69ff96 214.9px,#56ffa9 216.5px,#3fc 219.8px,#21ffde 223px,#18ffe7 224.6px,#12ffed 227.2px,#09fff6 231.1px,#05fffa 231.8px,#0ff 232.7px,#00e6ff 236.9px,#00e2ff 237.6px,#00c5ff 242.5px,#00bcff 244.1px,#00b4ff 248px,#00b0ff 250.6px,#00b6ff 253.8px,#00beff 257.1px,#00cbff 258.7px,#00e4ff 261.9px,#00fbff 263.5px,#0ff 263.8px,#2fd 266.1px,#5bffa4 268.4px,#85ff7a 270px,#b7ff48 272.6px,#c4ff3b 273.3px,#ff0 275.9px,#fff000 276.5px,#ff8000 279.8px,#ff6800 280.4px,#ff0300 283px,#f00 283.1px,#d70000 284.6px,#860000 287.9px,#850000 289.5px,#800000 294.3px,#800000 314.2px)"></i><i style="height:8.34px;background:linear-gradient(90deg,#b9ff46 0px,#b9ff46 12.2px,#b8ff47 13.9px,#af5 17.1px,#9cff63 20.3px,#95ff6a 22px,#82ff7d 26.8px,#5dffa2 33.3px,#45ffba 39.8px,#3affc5 46.3px,#48ffb7 52.8px,#56ffa9 59.3px,#63ff9c 65.7px,#87ff78 72.2px,#a1ff5e 78.7px,#b9ff46 85.2px,#d3ff2c 91.7px,#ff0 97.4px,#fffe00 97.5px,#fff900 98.2px,#ffd500 102.1px,#ffc200 104px,#ff9e00 106.6px,#ff7600 109.5px,#ff6100 111.1px,#ff3700 114.4px,#f20 116px,#f00 118.6px,#f70000 119.2px,#dc0000 122.5px,#c50000 125.7px,#800000 130.6px,#800000 201.9px,#c50000 205.2px,#f40000 210px,#f00 210.4px,#ff5200 213.3px,#ffaf00 216.5px,#fd0 219.8px,#ffef00 221.4px,#ff0 222.4px,#f6ff09 223px,#d0ff2f 226.2px,#c4ff3b 227.2px,#b0ff4f 229.5px,#9fff60 231.8px,#98ff67 232.7px,#80ff80 236.9px,#5dffa2 241.5px,#56ffa9 242.5px,#4bffb4 246.7px,#47ffb8 248px,#4effb1 252.2px,#52ffad 253.8px,#6eff91 257.7px,#76ff89 258.7px,#8eff71 262.9px,#92ff6d 263.5px,#b3ff4c 267.4px,#bf4 268.4px,#ecff13 271.6px,#fbff04 272.6px,#ff0 272.9px,#ffdf00 275.2px,#ffcb00 276.5px,#ffa200 278.5px,#ff7900 280.4px,#ff5000 281.7px,#f00 284.3px,#f70000 284.6px,#ed0000 285.6px,#d10000 289.5px,#800000 294.3px,#800000 314.2px)"></i><i style="height:8.34px;background:linear-gradient(90deg,#fff200 0px,#fff200 10.6px,#fff300 12.2px,#ff0 13.9px,#f3ff0c 15.5px,#e7ff18 17.1px,#ceff31 20.3px,#c2ff3d 22px,#b2ff4d 25.2px,#af5 26.8px,#9eff61 30.1px,#90ff6f 33.3px,#8fff70 34.9px,#8dff72 39.8px,#89ff76 44.7px,#87ff78 46.3px,#8eff71 49.5px,#93ff6c 52.8px,#95ff6a 54.4px,#a0ff5f 59.3px,#a9ff56 64.1px,#adff52 65.7px,#afff50 69px,#b7ff48 72.2px,#bdff42 73.8px,#d5ff2a 78.7px,#e4ff1b 83.6px,#ebff14 85.2px,#fbff04 87.8px,#ff0 88.5px,#ffec00 91.7px,#ffd200 94.9px,#fb0 97.5px,#ffb000 98.2px,#ff7a00 101.4px,#ff7100 102.1px,#ff3c00 105.3px,#ff2600 106.6px,#ff0300 109.5px,#f00 109.8px,#f20000 111.1px,#c40000 116px,#800000 122.5px,#800000 221.4px,#cf0000 223px,#f00 224.4px,#ff4300 226.2px,#ffc000 229.5px,#ff0 232px,#ef1 232.7px,#b5ff4a 236.9px,#adff52 237.6px,#8eff71 239.2px,#6eff91 241.5px,#4dffb2 245.7px,#47ffb8 246.7px,#2fffd0 252.2px,#32ffcd 253.8px,#3bffc4 257.7px,#52ffad 260.3px,#6cff93 262.9px,#8bff74 265.2px,#afff50 267.4px,#cfff30 269.4px,#ef1 271.6px,#ff0 272.5px,#fc0 275.2px,#ff6500 278.5px,#f00 281.3px,#f20000 281.7px,#800000 285.6px,#800000 314.2px)"></i><i style="height:8.34px;background:linear-gradient(90deg,#ff8900 0px,#ff8900 10.6px,#ffa100 15.5px,#ffba00 20.3px,#ffc600 25.2px,#ffca00 26.8px,#ffd200 30.1px,#ffe200 33.3px,#ffeb00 34.9px,#ff0 39px,#fbff04 39.8px,#d6ff29 44.7px,#c1ff3e 46.3px,#98ff67 49.5px,#5effa1 52.8px,#41ffbe 54.4px,#04fffb 59.3px,#0ff 59.5px,#00b8ff 64.1px,#00a8ff 65.7px,#0087ff 69px,#0098ff 72.2px,#00a1ff 73.8px,#00e0ff 78.7px,#0ff 81.1px,#20ffdf 83.6px,#37ffc8 84.6px,#84ff7b 87.8px,#a1ff5e 89.1px,#dcff23 91.7px,#fcff03 93.3px,#ff0 93.5px,#ffe200 94.9px,#ff9200 97.5px,#ff7d00 98.2px,#f00 101.4px,#c00 105.3px,#b00 106.3px,#800000 109.5px,#800000 237.6px,#e30000 239.2px,#f00 241.6px,#ff2f00 245.7px,#ff3b00 253.8px,#ff2f00 260.3px,#f00 264.9px,#fc0000 265.2px,#800000 269.4px,#800000 314.2px)"></i><i style="height:8.34px;background:linear-gradient(90deg,#09fff6 0px,#09fff6 10.6px,#15ffea 15.5px,#21ffde 20.3px,#3fc 25.2px,#39ffc6 26.8px,#3fffc0 30.1px,#45ffba 33.3px,#48ffb7 34.9px,#51ffae 39.8px,#59ffa6 44.7px,#5cffa3 46.3px,#6dff92 49.5px,#7fff80 52.8px,#84ff7b 54.4px,#95ff6a 59.3px,#a6ff59 64.1px,#acff53 65.7px,#beff41 69px,#d1ff2e 72.2px,#dbff24 73.8px,#f8ff07 78.7px,#ff0 80.2px,#fff000 83.6px,#ffeb00 84.6px,#ffc600 87.8px,#ffb700 89.1px,#ff9700 91.7px,#ff8300 93.3px,#ff6500 94.9px,#ff3500 97.5px,#ff2c00 98.2px,#f00 101.4px,#d60000 105.3px,#c00 106.3px,#980000 109.5px,#800000 111.1px,#800000 237.6px,#820000 239.2px,#840000 245.7px,#840000 260.3px,#820000 265.2px,#800000 269.4px,#800000 314.2px)"></i><i style="height:8.34px;background:linear-gradient(90deg,#004aff 0px,#004aff 5.8px,#0074ff 10.6px,#00acff 15.5px,#00e3ff 20.3px,#0ff 24.2px,#07fff8 25.2px,#0cfff3 26.8px,#14ffeb 30.1px,#1affe5 33.3px,#21ffde 36.6px,#32ffcd 39.8px,#43ffbc 43px,#4fffb0 46.3px,#5cffa3 49.5px,#7aff85 52.8px,#97ff68 56px,#b4ff4b 59.3px,#d0ff2f 62.5px,#e8ff17 65.7px,#ff0 68.8px,#fffe00 69px,#ffeb00 72.2px,#ffd700 75.5px,#ffb100 78.7px,#ff9300 81.3px,#ff6b00 84.6px,#ff4c00 86.8px,#ff3400 89.1px,#ff1800 91.7px,#ff0a00 93.3px,#f00 94.4px,#ea0000 96.5px,#e30000 97.5px,#ca0000 101.4px,#8c0000 106.3px,#800000 111.1px,#800000 314.2px)"></i><i style="height:8.34px;background:linear-gradient(90deg,#0000e7 0px,#0000e7 5.8px,#0000ed 7.4px,#00f 9.5px,#000aff 10.6px,#0019ff 12.2px,#0038ff 15.5px,#0047ff 17.1px,#0079ff 20.3px,#0082ff 21px,#00c1ff 25.2px,#0ff 29.8px,#04fffb 30.1px,#10ffef 34.9px,#14ffeb 36.6px,#1fffe0 39.8px,#32ffcd 43px,#4fb 46.3px,#5effa1 49.5px,#7eff81 52.8px,#9dff62 56px,#bdff42 59.3px,#df2 62.5px,#fbff04 65.7px,#ff0 66.2px,#ffe900 69px,#ffd200 72.2px,#ffaf00 75.5px,#ff8d00 78.1px,#ff6500 81.3px,#ff4a00 83.6px,#ff1e00 86.8px,#ff0a00 88.4px,#f00 89.6px,#ed0000 91.7px,#e10000 93.3px,#cd0000 96.5px,#c40000 98.2px,#a20000 101.4px,#8d0000 103px,#800000 106.3px,#800000 314.2px)"></i><i style="height:6.85px;background:linear-gradient(90deg,#00c 0px,#00c 7.4px,#0000f2 12.2px,#00f 13.9px,#0019ff 17.1px,#0059ff 21px,#00a6ff 25.2px,#0ff 30.1px,#0dfff2 34.9px,#1affe5 39.8px,#40ffbf 46.3px,#80ff80 52.8px,#bfff40 59.3px,#ff0 65.7px,#fc0 72.2px,#ff8000 78.1px,#ff4000 83.6px,#f00 88.4px,#d90000 93.3px,#bf0000 98.2px,#800000 103px,#800000 314.2px)"></i></div>
<div class="hm" style="left:116.3px;top:937.8px;width:316.4px;height:421.5px"><i style="height:1.06px;background:linear-gradient(90deg,#bf0000 0px,#bf0000 5.8px,#f00 6.4px,#ff8000 7.7px,#ff0 9.7px,#0ff 12.3px,#00a6ff 14.9px,#0ff 17.5px,#b3ff4c 20.1px,#ff0 22px,#ffe500 22.6px,#ff8000 24.6px,#f00 25.8px,#b30000 26.5px,#b30000 31.1px,#f00 31.8px,#ff8000 33px,#ff0 33.7px,#0ff 35px,#0080ff 36.9px,#00f 38.6px,#0000bf 39.5px,#0000bf 48.9px,#00f 50.3px,#0026ff 51.2px,#0ff 53.8px,#40ffbf 57px,#0ff 60.3px,#09f 62.9px,#0ff 65.1px,#ff0 67.4px,#ff4000 69.3px,#ff8000 71.3px,#ff0 72.7px,#cf3 73.2px,#0ff 75.2px,#00a6ff 77.1px,#0ff 79.1px,#ff0 81px,#ff8000 83.6px,#ff4c00 87.8px,#f60 92.7px,#f90 95.9px,#ffe500 99.2px,#ff0 99.7px,#9f6 101.8px,#1affe5 104.4px,#0ff 107.3px,#80ff80 109.5px,#ff0 111.5px,#80ff80 113.8px,#1affe5 116px,#ff0 118px,#f00 119.3px,#800000 119.9px,#800000 140.3px,#e50000 141.3px,#f00 142.9px,#f30 146.2px,#f60 151px,#ff8000 155.9px,#ff4000 159.2px,#ff0 161.4px,#1affe5 163.4px,#0ff 163.9px,#00b2ff 165.6px,#0ff 168.9px,#59ffa6 172.1px,#1affe5 175.4px,#0ff 176.2px,#00b2ff 178.6px,#00d9ff 181.9px,#0ff 183.8px,#1affe5 185.1px,#80ff80 188.3px,#0ff 191.6px,#0080ff 194.8px,#09f 198.1px,#0ff 201.3px,#ff0 203.6px,#ff4000 205.5px,#ff8000 207.8px,#ff0 208.6px,#80ff80 209.4px,#0ff 210.2px,#0080ff 211px,#00f 212.7px,#00c 213.3px,#00c 225.6px,#00f 227.8px,#0019ff 228.9px,#09f 231.5px,#0ff 234.1px,#00a6ff 236.7px,#03f 239.2px,#09f 241.8px,#0ff 243.9px,#1affe5 244.4px,#9f6 247.7px,#bfff40 251.6px,#9f6 255.5px,#b3ff4c 258.7px,#80ff80 261.9px,#1affe5 265.2px,#80ff80 268.4px,#ff0 270.6px,#ffe500 271px,#f90 273.6px,#ff0 275.9px,#80ff80 278.2px,#0ff 280.8px,#80ff80 283.3px,#cf3 285.9px,#80ff80 288.5px,#0ff 291.1px,#09f 293.7px,#0026ff 296.3px,#00f 297.2px,#0000bf 298.6px,#0000bf 303.4px,#00f 304.3px,#0040ff 305.1px,#0ff 305.5px,#ff0 306px,#f00 306.5px,#900 306.7px,#800000 314.8px,#800000 316.4px)"></i><i style="height:8.41px;background:linear-gradient(90deg,#bf0000 0px,#bf0000 1.3px,#900 1.3px,#900 5.2px,#d80000 5.9px,#fe0000 6.3px,#f00 6.3px,#ff3f00 7px,#ff7f00 7.7px,#ffbf00 8.3px,#fffe00 8.8px,#ff0 8.9px,#c7ff38 9.4px,#80ff7f 10.1px,#40ffbf 10.8px,#01fffe 11.5px,#0ff 11.6px,#00cfff 12.5px,#00a6ff 13.4px,#0072ff 14.8px,#0067ff 15.1px,#00a6ff 16.8px,#0ff 18.6px,#01fffe 18.6px,#80ff7f 20.5px,#ff0 21.9px,#ff0 21.9px,#ff8000 23px,#ff6300 23.3px,#f00 24.3px,#f00 24.3px,#e40000 24.7px,#a60000 25.7px,#a60000 30px,#f40000 31px,#f00 31.1px,#f00 31.1px,#ff8000 32.1px,#ff0 33.1px,#ff0 33.1px,#efff10 33.2px,#80ff7f 34.2px,#70ff8f 34.4px,#0ff 35.4px,#0ff 35.4px,#00f1ff 35.5px,#0080ff 36.7px,#0073ff 36.8px,#00f 38.1px,#00f 38.1px,#0000f6 38.2px,#0000b3 39.2px,#0000b2 39.5px,#0000b2 51.3px,#00f 52.3px,#00f 52.3px,#0010ff 52.4px,#007fff 53.4px,#09f 53.7px,#0ff 54.8px,#0ff 54.8px,#0bfff4 55.1px,#3fffc0 56.5px,#5dffa2 56.9px,#beff41 58.4px,#cbff34 59.1px,#d8ff27 59.8px,#80ff80 61.2px,#1bffe4 62.6px,#39ffc6 63px,#81ff7e 64px,#a7ff58 64.5px,#ff0 65.4px,#fffe00 65.4px,#ffe700 65.9px,#ffb100 66.9px,#ffa200 67.3px,#ff7f00 68.3px,#ffb100 69px,#ffe400 69.7px,#ff0 70px,#ceff31 70.4px,#81ff7e 71.1px,#5bffa4 71.5px,#01fffe 72.5px,#0ff 72.6px,#00f6ff 72.7px,#009aff 74px,#005aff 75.4px,#005aff 77.5px,#00a6ff 78.9px,#0ff 80.1px,#0ff 80.1px,#48ffb7 80.3px,#feff01 81px,#ff0 81.1px,#ffd000 81.5px,#ff8000 82.2px,#f50 82.6px,#f00 83.5px,#f00 83.5px,#f90000 83.9px,#e60000 85.3px,#f50000 85.7px,#f00 86px,#f30 87.4px,#ff3e00 87.7px,#ff8000 89.6px,#ff8600 90.3px,#f90 92.4px,#ffa000 93.1px,#ffb200 95.2px,#ffac00 95.9px,#f90 98.1px,#ffe600 99.9px,#ff0 100.2px,#9f6 101.3px,#80ff7f 101.6px,#1affe5 102.7px,#0bfff4 103.3px,#0ff 103.7px,#00e6ff 104.7px,#00f1ff 105.2px,#0ff 105.7px,#19ffe6 106.6px,#38ffc7 107px,#7fff80 108px,#bfff40 108.7px,#ff0 109.4px,#ff0 109.4px,#ffdc00 110.4px,#fc0 110.8px,#ffe700 111.8px,#fff200 112.3px,#ff0 112.5px,#d7ff28 113.2px,#c0ff3f 113.7px,#93ff6c 114.7px,#80ff7f 115.1px,#53ffac 116.1px,#41ffbe 116.5px,#61ff9e 117.2px,#80ff7f 117.9px,#a5ff5a 118.2px,#ff0 118.9px,#fffd00 118.9px,#ff6e00 119.3px,#f00 119.7px,#800000 120.1px,#800000 139.3px,#a60000 139.7px,#e70000 140.3px,#f00 140.8px,#ff0100 140.8px,#ff4800 143.1px,#ff8600 146.9px,#ff6e00 151.6px,#ff3d00 154.5px,#f10 156.8px,#ff0600 157.3px,#ff4200 158.7px,#ff7d00 159.8px,#ffc400 160.6px,#fffb00 161.1px,#ff0 161.1px,#70ff8f 161.7px,#0efff1 162.1px,#0ff 162.3px,#0df 163px,#00aeff 164px,#00b6ff 164.3px,#00e9ff 166.2px,#00f9ff 166.8px,#0ff 167px,#29ffd6 168.7px,#4fb 169.6px,#2effd1 171.2px,#19ffe6 172.5px,#0ff 173.2px,#00f5ff 173.4px,#00a9ff 175.3px,#00a3ff 176.3px,#009aff 178.2px,#00b9ff 179.1px,#00fdff 181px,#0ff 181.1px,#28ffd7 182px,#7bff84 183.9px,#5dffa2 184.8px,#1bffe4 186.7px,#0ff 187.5px,#00f9ff 187.6px,#00b5ff 189.5px,#009bff 190.5px,#0069ff 192.4px,#0070ff 193.3px,#0081ff 195.2px,#0af 196.2px,#00feff 198.1px,#0ff 198.1px,#65ff9a 199px,#faff05 200.3px,#ff0 200.4px,#ffb700 201.1px,#ff4600 202.2px,#ff3200 202.8px,#ff0200 204.1px,#ff1800 204.5px,#ff7e00 206px,#ff9d00 206.4px,#fffd00 207.5px,#ff0 207.6px,#afff50 207.9px,#05fffa 208.7px,#0ff 208.7px,#00afff 209.1px,#0005ff 209.8px,#00f 209.9px,#0000ed 210.2px,#0000b4 211.3px,#0000b2 211.7px,#0000b2 218.9px,#0000fa 220.8px,#00f 221.4px,#000aff 222.7px,#0017ff 224.6px,#000cff 226.5px,#00f 228.2px,#0000fe 228.4px,#00f 228.4px,#003aff 229.3px,#007bff 230.3px,#0bf 231.2px,#00fbff 232.2px,#0ff 232.3px,#24ffdb 233.1px,#49ffb6 234.1px,#25ffda 235px,#0ff 235.9px,#00fbff 236px,#00a6ff 236.5px,#001aff 237.5px,#00f 237.9px,#00f 237.9px,#0000c1 238.8px,#0000bf 239.4px,#0000bf 241.6px,#0000f4 242.6px,#00f 242.8px,#0016ff 243.2px,#00a0ff 244.1px,#00f5ff 244.7px,#0ff 244.8px,#48ffb7 245.8px,#7bff84 246.6px,#92ff6d 247.7px,#beff41 250.2px,#b8ff47 251.1px,#9dff62 254.9px,#b4ff4b 258.7px,#48ffb7 261.5px,#5cffa3 262.5px,#84ff7b 264.4px,#bdff42 266.3px,#daff25 267.2px,#ff0 268.9px,#fff900 269.1px,#ffe400 270.1px,#ffcf00 271.6px,#ffc000 272.9px,#ffe000 273.9px,#ff0 274.8px,#feff01 274.8px,#bf4 276.1px,#82ff7d 277.3px,#48ffb7 278.6px,#1dffe2 279.5px,#49ffb6 281.1px,#5fa 281.4px,#0ff 283.3px,#0082ff 284.8px,#005cff 285.2px,#00f 286.1px,#0000f8 286.2px,#0000f3 287.1px,#0000f3 289.4px,#00f 289.5px,#0057ff 290.5px,#007aff 290.9px,#00c9ff 292px,#00fbff 292.8px,#0ff 293.7px,#0ff 294.7px,#00e1ff 295.1px,#0081ff 296.2px,#0049ff 296.6px,#00f 297.1px,#0000b7 297.5px,#0000b2 298.1px,#0000b2 302.7px,#0000b7 303.2px,#00f 303.7px,#000bff 303.8px,#004bff 304.2px,#0ff 304.6px,#58ffa7 304.7px,#ff0 305.1px,#fff500 305.1px,#ff4d00 305.7px,#f00 306px,#800000 306.4px,#800000 316.4px)"></i><i style="height:8.41px;background:linear-gradient(90deg,#b80000 0px,#b80000 1.3px,#920000 1.3px,#920000 5.2px,#bf0000 5.9px,#e80000 6.3px,#f00 6.5px,#ff2d00 7px,#ff6f00 7.7px,#ffad00 8.3px,#ffec00 8.8px,#ff0 9px,#d7ff28 9.4px,#92ff6d 10.1px,#52ffad 10.8px,#17ffe8 11.5px,#0ff 12px,#00e1ff 12.5px,#00bfff 13.4px,#0093ff 14.8px,#008cff 15.1px,#00c0ff 16.8px,#0ff 18.1px,#1affe5 18.6px,#92ff6d 20.5px,#ff0 21.8px,#fff800 21.9px,#ff8500 23px,#ff6b00 23.3px,#ff0b00 24.3px,#f00 24.5px,#ec0000 24.7px,#b30000 25.7px,#a90000 26.4px,#a90000 29.6px,#b00000 30px,#f70000 31px,#f00 31.1px,#ff0500 31.1px,#ff8000 32.1px,#fffa00 33.1px,#ff0 33.1px,#f4ff0b 33.2px,#84ff7b 34.2px,#74ff8b 34.4px,#05fffa 35.4px,#0ff 35.4px,#00f5ff 35.5px,#0084ff 36.7px,#0076ff 36.8px,#0004ff 38.1px,#00f 38.1px,#0000f8 38.2px,#0000b7 39.2px,#0000b2 39.5px,#0000b2 51.3px,#0000fc 52.3px,#00f 52.3px,#000bff 52.4px,#07f 53.4px,#0092ff 53.7px,#00f8ff 54.8px,#0ff 54.9px,#08fff7 55.1px,#3fc 56.5px,#4affb5 56.9px,#96ff69 58.4px,#a3ff5c 59.1px,#b2ff4d 59.8px,#80ff80 61.2px,#45ffba 62.6px,#5fffa0 63px,#a4ff5b 64px,#c7ff38 64.5px,#ff0 65.1px,#ffe300 65.4px,#ffca00 65.9px,#ff8f00 66.9px,#ff7b00 67.3px,#ff5e00 68.3px,#ff7f00 69px,#ffb200 69.7px,#fff700 70.4px,#ff0 70.5px,#baff45 71.1px,#91ff6e 71.5px,#31ffce 72.5px,#25ffda 72.7px,#0ff 73.1px,#00beff 74px,#0073ff 75.4px,#006cff 77.2px,#006fff 77.5px,#00b5ff 78.9px,#0ff 80px,#04fffb 80.1px,#3bffc4 80.3px,#e6ff19 81px,#ff0 81.2px,#fd0 81.5px,#ff8d00 82.2px,#ff6100 82.6px,#f10 83.5px,#ff0300 83.9px,#f00 84.4px,#fa0000 85.3px,#f00 85.5px,#ff0800 85.7px,#ff4000 87.4px,#ff4900 87.7px,#ff8300 89.6px,#ff8b00 90.3px,#ff9f00 92.4px,#ffa500 93.1px,#ffad00 95.2px,#ffa700 95.9px,#ffa400 98.1px,#ffed00 99.9px,#ff0 100.1px,#9eff61 101.3px,#87ff78 101.6px,#26ffd9 102.7px,#0ffff0 103.3px,#0ff 104px,#00efff 104.7px,#00f5ff 105.2px,#0ff 105.6px,#18ffe7 106.6px,#2fffd0 107px,#7f8 108px,#b4ff4b 108.7px,#ef1 109.4px,#ff0 109.8px,#ffe600 110.4px,#ffd700 110.8px,#ffe300 111.8px,#fe0 112.3px,#ff0 112.6px,#e2ff1d 113.2px,#cbff34 113.7px,#9cff63 114.7px,#8cff73 115.1px,#67ff98 116.1px,#61ff9e 116.5px,#83ff7c 117.2px,#a1ff5e 117.9px,#beff41 118.2px,#ff0 118.6px,#ffba00 118.9px,#ff2a00 119.3px,#f00 119.5px,#800000 120.1px,#800000 139.3px,#900 139.7px,#ef0000 140.3px,#f00 140.4px,#ff2c00 140.8px,#ff7500 143.1px,#ffa600 146.9px,#ff9600 151.6px,#ff6d00 154.5px,#ff3700 156.8px,#ff2500 157.3px,#ff3400 158.7px,#ff7000 159.8px,#ffad00 160.6px,#ffe700 161.1px,#ff0 161.2px,#a0ff5f 161.7px,#53ffac 162.1px,#15ffea 163px,#0ff 163.3px,#00d5ff 164px,#00cfff 164.3px,#00d2ff 166.2px,#00dcff 166.8px,#00f8ff 168.7px,#0ff 168.9px,#18ffe7 169.6px,#1fffe0 171.2px,#15ffea 172.5px,#02fffd 173.4px,#0ff 173.5px,#00b7ff 175.3px,#00a8ff 176.3px,#009cff 178.2px,#00aeff 179.1px,#00f2ff 181px,#0ff 181.3px,#1affe5 182px,#6f9 183.9px,#5cffa3 184.8px,#2fd 186.7px,#04fffb 187.6px,#0ff 187.8px,#00bfff 189.5px,#00a3ff 190.5px,#0076ff 192.4px,#0075ff 193.3px,#0089ff 195.2px,#00a8ff 196.2px,#00faff 198.1px,#0ff 198.1px,#4cffb3 199px,#dfff20 200.3px,#ff0 200.6px,#ffd000 201.1px,#ff6800 202.2px,#ff4c00 202.8px,#ff0b00 204.1px,#ff1000 204.5px,#ff7600 206px,#ff9300 206.4px,#fff300 207.5px,#ff0 207.6px,#caff35 207.9px,#20ffdf 208.7px,#0ff 208.8px,#00caff 209.1px,#0020ff 209.8px,#00f 210.1px,#0000f3 210.2px,#0000ba 211.3px,#0000b2 211.7px,#0000b2 218.9px,#0000e2 220.8px,#0000fd 222.7px,#00f 223px,#000bff 224.6px,#0008ff 226.5px,#00f 227.5px,#0000f9 228.4px,#00f 228.6px,#001eff 229.3px,#0062ff 230.3px,#00a7ff 231.2px,#00e7ff 232.2px,#0ff 232.7px,#18ffe7 233.1px,#34ffcb 234.1px,#21ffde 235px,#0ff 235.5px,#00e4ff 236px,#09f 236.5px,#001eff 237.5px,#00f 237.9px,#00f 237.9px,#0000c8 238.8px,#0000bf 239.4px,#0000bf 241.6px,#0000e2 242.6px,#00f 243.1px,#0004ff 243.2px,#0073ff 244.1px,#00c5ff 244.7px,#0ff 245.3px,#2fffd0 245.8px,#62ff9d 246.6px,#8cff73 247.7px,#b9ff46 250.2px,#bf4 251.1px,#b1ff4e 254.9px,#bcff43 258.7px,#71ff8e 261.5px,#7dff82 262.5px,#9dff62 264.4px,#c6ff39 266.3px,#e1ff1e 267.2px,#ff0 268.6px,#fff300 269.1px,#ffde00 270.1px,#ffc500 271.6px,#ffc600 272.9px,#ffe200 273.9px,#ff0 274.7px,#fbff04 274.8px,#bcff43 276.1px,#8dff72 277.3px,#5bffa4 278.6px,#31ffce 279.5px,#39ffc6 281.1px,#3fffc0 281.4px,#0ff 283.3px,#0091ff 284.8px,#0070ff 285.2px,#0015ff 286.2px,#00f 286.9px,#0000f7 287.1px,#0000f7 289.4px,#00f 289.5px,#0039ff 290.5px,#005eff 290.9px,#00b9ff 292px,#00eaff 292.8px,#0ff 293.7px,#0ff 294.7px,#00ebff 295.1px,#008cff 296.2px,#005bff 296.6px,#00f 297.2px,#0000d0 297.5px,#0000b2 298.1px,#0000b2 302.7px,#0000cd 303.2px,#00f 303.6px,#001dff 303.8px,#0083ff 304.2px,#0ff 304.4px,#90ff6f 304.7px,#ff0 305px,#ffc500 305.1px,#ff0800 305.7px,#f00 305.7px,#800000 306.4px,#800000 316.4px)"></i><i style="height:8.41px;background:linear-gradient(90deg,#b00000 0px,#b00000 1.3px,#8a0000 1.3px,#8a0000 5.2px,#a60000 5.9px,#d10000 6.3px,#f00 6.7px,#ff1b00 7px,#ff5f00 7.7px,#ff9b00 8.3px,#ffda00 8.8px,#ff0 9.2px,#e7ff18 9.4px,#a4ff5b 10.1px,#64ff9b 10.8px,#2effd1 11.5px,#0ff 12.3px,#00f2ff 12.5px,#00d8ff 13.4px,#00b4ff 14.8px,#00b1ff 15.1px,#00d9ff 16.8px,#0ff 17.6px,#3fc 18.6px,#a4ff5b 20.5px,#ff0 21.7px,#fff000 21.9px,#ff8b00 23px,#ff7300 23.3px,#ff1600 24.3px,#f00 24.6px,#f40000 24.7px,#bf0000 25.7px,#ad0000 26.4px,#ad0000 29.6px,#ba0000 30px,#fa0000 31px,#f00 31px,#ff0900 31.1px,#ff8000 32.1px,#fff600 33.1px,#ff0 33.2px,#f8ff07 33.2px,#89ff76 34.2px,#79ff86 34.4px,#09fff6 35.4px,#0ff 35.5px,#00f9ff 35.5px,#08f 36.7px,#007aff 36.8px,#0007ff 38.1px,#00f 38.2px,#0000fb 38.2px,#0000bc 39.2px,#0000b2 39.5px,#0000b2 51.3px,#0000fa 52.3px,#00f 52.3px,#0007ff 52.4px,#006fff 53.4px,#008aff 53.7px,#00f0ff 54.8px,#0ff 55px,#05fffa 55.1px,#26ffd9 56.5px,#36ffc9 56.9px,#6fff90 58.4px,#7cff83 59.1px,#8dff72 59.8px,#80ff80 61.2px,#70ff8f 62.6px,#86ff79 63px,#c8ff37 64px,#e8ff17 64.5px,#ff0 64.7px,#ffc700 65.4px,#ffac00 65.9px,#ff6c00 66.9px,#ff5400 67.3px,#ff3d00 68.3px,#ff4c00 69px,#ff7f00 69.7px,#ffbd00 70.4px,#ff0 71px,#f3ff0c 71.1px,#c7ff38 71.5px,#61ff9e 72.5px,#53ffac 72.7px,#0ff 73.6px,#00e2ff 74px,#008cff 75.4px,#007eff 77.2px,#0084ff 77.5px,#00c3ff 78.9px,#0ff 79.9px,#07fff8 80.1px,#2effd1 80.3px,#ceff31 81px,#ff0 81.3px,#ffeb00 81.5px,#ff9b00 82.2px,#ff6d00 82.6px,#f20 83.5px,#ff0c00 83.9px,#ff0f00 85.3px,#ff1900 85.7px,#ff4c00 87.4px,#f50 87.7px,#ff8600 89.6px,#ff9100 90.3px,#ffa400 92.4px,#fa0 93.1px,#ffa800 95.2px,#ffa100 95.9px,#ffaf00 98.1px,#fff400 99.9px,#ff0 100.1px,#a3ff5c 101.3px,#8eff71 101.6px,#32ffcd 102.7px,#13ffec 103.3px,#0ff 104.3px,#00f7ff 104.7px,#00f9ff 105.2px,#0ff 105.5px,#16ffe9 106.6px,#27ffd8 107px,#70ff8f 108px,#a9ff56 108.7px,#df2 109.4px,#ff0 110.1px,#fff000 110.4px,#ffe300 110.8px,#ffdf00 111.8px,#ffea00 112.3px,#ff0 112.8px,#ef1 113.2px,#d7ff28 113.7px,#a5ff5a 114.7px,#98ff67 115.1px,#7bff84 116.1px,#81ff7e 116.5px,#a5ff5a 117.2px,#c2ff3d 117.9px,#d8ff27 118.2px,#ff0 118.4px,#ff7600 118.9px,#f00 119.3px,#e60000 119.3px,#800000 120.1px,#800000 139.3px,#8c0000 139.7px,#f70000 140.3px,#f00 140.3px,#ff5600 140.8px,#ffa100 143.1px,#ffc700 146.9px,#ffbf00 151.6px,#ff9e00 154.5px,#ff5c00 156.8px,#ff4300 157.3px,#ff2700 158.7px,#ff6300 159.8px,#ff9600 160.6px,#ffd300 161.1px,#ff0 161.4px,#d1ff2e 161.7px,#98ff67 162.1px,#4bffb4 163px,#0ff 163.9px,#00fdff 164px,#00e8ff 164.3px,#0bf 166.2px,#00bfff 166.8px,#00c7ff 168.7px,#00ebff 169.6px,#0ff 170.5px,#0ffff0 171.2px,#12ffed 172.5px,#0efff1 173.4px,#0ff 173.8px,#00c6ff 175.3px,#00adff 176.3px,#009fff 178.2px,#00a3ff 179.1px,#00e7ff 181px,#0ff 181.6px,#0dfff2 182px,#50ffaf 183.9px,#5bffa4 184.8px,#28ffd7 186.7px,#0ffff0 187.6px,#0ff 188.1px,#00caff 189.5px,#00abff 190.5px,#0084ff 192.4px,#007aff 193.3px,#0091ff 195.2px,#00a7ff 196.2px,#00f6ff 198.1px,#0ff 198.2px,#32ffcd 199px,#c5ff3a 200.3px,#ff0 200.9px,#ffe800 201.1px,#ff8a00 202.2px,#f60 202.8px,#ff1400 204.1px,#ff0800 204.5px,#ff6e00 206px,#ff8900 206.4px,#ffe900 207.5px,#ff0 207.7px,#e5ff1a 207.9px,#3bffc4 208.7px,#0ff 208.9px,#00e5ff 209.1px,#003bff 209.8px,#00f 210.2px,#0000f9 210.2px,#0000c0 211.3px,#0000b2 211.7px,#0000b2 218.9px,#0000ca 220.8px,#0000f1 222.7px,#0000fe 224.6px,#00f 225px,#0004ff 226.5px,#00f 227px,#0000f3 228.4px,#00f 229.2px,#0002ff 229.3px,#004aff 230.3px,#0093ff 231.2px,#00d3ff 232.2px,#0ff 232.9px,#0cfff3 233.1px,#20ffdf 234.1px,#1dffe2 235px,#0ff 235.4px,#00ceff 236px,#008cff 236.5px,#0021ff 237.5px,#00f 237.9px,#00f 237.9px,#0000d0 238.8px,#0000bf 239.4px,#0000bf 241.6px,#0000d0 242.6px,#0000f2 243.2px,#00f 243.3px,#0045ff 244.1px,#0094ff 244.7px,#0ff 245.6px,#17ffe8 245.8px,#4affb5 246.6px,#86ff79 247.7px,#b3ff4c 250.2px,#bdff42 251.1px,#c5ff3a 254.9px,#c4ff3b 258.7px,#9bff64 261.5px,#9fff60 262.5px,#b5ff4a 264.4px,#d0ff2f 266.3px,#e8ff17 267.2px,#ff0 268.3px,#ffec00 269.1px,#ffd800 270.1px,#ffbc00 271.6px,#ffcb00 272.9px,#ffe400 273.9px,#ff0 274.6px,#f7ff08 274.8px,#beff41 276.1px,#97ff68 277.3px,#6dff92 278.6px,#45ffba 279.5px,#29ffd6 281.1px,#2affd5 281.4px,#0ff 283.3px,#009fff 284.8px,#0085ff 285.2px,#0031ff 286.2px,#00f 287px,#0000fb 287.1px,#0000fb 289.4px,#00f 289.5px,#001cff 290.5px,#0041ff 290.9px,#00a8ff 292px,#00d8ff 292.8px,#0ff 293.7px,#0ff 294.7px,#00f5ff 295.1px,#0096ff 296.2px,#006eff 296.6px,#00f 297.4px,#0000e8 297.5px,#0000b2 298.1px,#0000b2 302.7px,#0000e3 303.2px,#00f 303.4px,#002fff 303.8px,#00bcff 304.2px,#0ff 304.3px,#c9ff36 304.7px,#ff0 304.9px,#ff9400 305.1px,#f00 305.5px,#c20000 305.7px,#800000 306.4px,#800000 316.4px)"></i><i style="height:8.41px;background:linear-gradient(90deg,#a90000 0px,#a90000 1.3px,#830000 1.3px,#830000 5.2px,#8c0000 5.9px,#b00 6.3px,#f00 6.9px,#ff0900 7px,#ff4f00 7.7px,#ff8900 8.3px,#ffc800 8.8px,#ff0 9.3px,#f7ff08 9.4px,#b6ff49 10.1px,#76ff89 10.8px,#4fb 11.5px,#04fffb 12.5px,#0ff 12.7px,#00f1ff 13.4px,#00d5ff 14.8px,#00d6ff 15.1px,#00f2ff 16.8px,#0ff 17.1px,#4cffb3 18.6px,#b6ff49 20.5px,#ff0 21.6px,#ffe900 21.9px,#ff9100 23px,#ff7b00 23.3px,#ff2100 24.3px,#f00 24.7px,#fb0000 24.7px,#c00 25.7px,#b10000 26.4px,#b10000 29.6px,#c40000 30px,#fd0000 31px,#f00 31px,#ff0e00 31.1px,#ff8000 32.1px,#fff100 33.1px,#ff0 33.2px,#fdff02 33.2px,#8dff72 34.2px,#7dff82 34.4px,#0efff1 35.4px,#0ff 35.5px,#00fdff 35.5px,#008cff 36.7px,#007eff 36.8px,#000bff 38.1px,#00f 38.2px,#0000fe 38.2px,#0000c1 39.2px,#0000b2 39.5px,#0000b2 51.3px,#0000f7 52.3px,#00f 52.4px,#0002ff 52.4px,#0067ff 53.4px,#0083ff 53.7px,#00e9ff 54.8px,#0ff 55.1px,#02fffd 55.1px,#1affe5 56.5px,#23ffdc 56.9px,#47ffb8 58.4px,#54ffab 59.1px,#68ff97 59.8px,#80ff80 61.2px,#9bff64 62.6px,#acff53 63px,#ebff14 64px,#ff0 64.3px,#fff600 64.5px,#ffac00 65.4px,#ff8f00 65.9px,#ff4a00 66.9px,#ff2d00 67.3px,#ff1c00 68.3px,#ff1a00 69px,#ff4d00 69.7px,#ff8400 70.4px,#ffd300 71.1px,#ff0 71.5px,#fdff02 71.5px,#91ff6e 72.5px,#81ff7e 72.7px,#07fff8 74px,#0ff 74.1px,#00a6ff 75.4px,#0090ff 77.2px,#09f 77.5px,#00d1ff 78.9px,#0ff 79.8px,#0bfff4 80.1px,#20ffdf 80.3px,#b5ff4a 81px,#ff0 81.4px,#fff800 81.5px,#ffa800 82.2px,#ff7900 82.6px,#f30 83.5px,#ff1500 83.9px,#ff2300 85.3px,#ff2a00 85.7px,#ff5800 87.4px,#ff6000 87.7px,#ff8900 89.6px,#ff9600 90.3px,#ffa900 92.4px,#ffb000 93.1px,#ffa200 95.2px,#ff9c00 95.9px,#ffba00 98.1px,#fffb00 99.9px,#ff0 100px,#a8ff57 101.3px,#95ff6a 101.6px,#3effc1 102.7px,#17ffe8 103.3px,#01fffe 104.7px,#0ff 104.9px,#00fdff 105.2px,#0ff 105.3px,#14ffeb 106.6px,#1effe1 107px,#68ff97 108px,#9fff60 108.7px,#cf3 109.4px,#ff0 110.3px,#fffa00 110.4px,#fe0 110.8px,#ffdb00 111.8px,#ffe600 112.3px,#ff0 113.1px,#f9ff06 113.2px,#e2ff1d 113.7px,#aeff51 114.7px,#a5ff5a 115.1px,#8fff70 116.1px,#a1ff5e 116.5px,#c7ff38 117.2px,#e3ff1c 117.9px,#f2ff0d 118.2px,#ff0 118.3px,#f30 118.9px,#f00 119.1px,#a20000 119.3px,#800000 120.1px,#800000 139.7px,#fd0000 140.3px,#f00 140.3px,#ff7e00 140.8px,#ff8c00 141.2px,#fc0 143.1px,#ffe600 146.9px,#ffe700 151.6px,#ffcd00 154.5px,#ffae00 155.4px,#ff8100 156.8px,#f40 157.9px,#ff1c00 158.7px,#ff5800 159.8px,#ff8100 160.6px,#ffd500 161.3px,#ff0 161.7px,#ff0 161.7px,#a3ff5c 162.6px,#7fff80 163px,#24ffdb 164px,#0ff 164.3px,#0ff 164.3px,#00b7ff 165.9px,#00a5ff 166.2px,#009bff 168.1px,#0098ff 168.7px,#00e6ff 170.6px,#00feff 171.2px,#0ff 171.2px,#15ffea 173.1px,#19ffe6 173.4px,#0ff 174.2px,#00c8ff 175.7px,#00b4ff 176.3px,#009dff 178.7px,#009aff 179.1px,#00eaff 181.4px,#00feff 182px,#0ff 182px,#40ffbf 184px,#58ffa7 184.8px,#2effd1 186.7px,#1affe5 187.6px,#0ff 188.4px,#00d6ff 189.5px,#00b4ff 190.5px,#0092ff 192.4px,#0081ff 193.3px,#009aff 195.2px,#00a7ff 196.2px,#00f3ff 198.1px,#0ff 198.4px,#1bffe4 199px,#acff53 200.3px,#ff0 201.1px,#ff0 201.1px,#ffab00 202.2px,#ff8000 202.8px,#ff3a00 203.8px,#ff0100 204.5px,#f30 205.3px,#ff7f00 206.4px,#ff9f00 206.8px,#ff0 207.9px,#ff0 207.9px,#d5ff2a 208.1px,#01fffe 209.1px,#0ff 209.1px,#00d5ff 209.2px,#0001ff 210.2px,#00f 210.2px,#0000f6 210.4px,#0000b2 211.7px,#0000b2 220.8px,#0000e5 222.7px,#0000fe 226.5px,#0000e5 229.3px,#00f 229.7px,#007eff 231.2px,#00feff 233.1px,#0ff 233.2px,#19ffe6 235px,#0ff 235.3px,#0080ff 236.5px,#005cff 236.9px,#0001ff 237.9px,#00f 237.9px,#0000e7 238.4px,#0000bf 239.4px,#0000bf 242.6px,#0000e0 243.2px,#00f 243.7px,#0019ff 244.1px,#0065ff 244.7px,#00feff 245.8px,#0ff 245.8px,#26ffd9 246.4px,#7fff80 247.7px,#8aff75 248.3px,#bfff40 251.1px,#d9ff26 254.9px,#d0ff2f 257.8px,#cdff32 258.7px,#c8ff37 260.2px,#c1ff3e 262.5px,#c4ff3b 262.9px,#daff25 266.3px,#ff0 267.9px,#ffe500 269.1px,#ffb300 271.6px,#ffe600 273.9px,#fff500 274.2px,#ff0 274.5px,#bfff40 276.1px,#abff54 276.9px,#7fff80 278.6px,#58ffa7 279.5px,#1affe5 281.1px,#0afff5 282.4px,#0ff 283.3px,#0ff 283.3px,#00adff 284.8px,#09f 285.2px,#0001ff 287.1px,#0002ff 289.4px,#0002ff 290.5px,#0087ff 291.9px,#009aff 292px,#0ff 293.7px,#0ff 294.3px,#00feff 295.1px,#00afff 296px,#007fff 296.6px,#00f 297.5px,#0000fe 297.5px,#0000b2 298.1px,#0000b2 301.9px,#0000b4 302.7px,#0000e2 303px,#00f 303.3px,#04f 303.8px,#009dff 304px,#0ff 304.2px,#ff0 304.7px,#fffc00 304.7px,#ff6300 305.1px,#f00 305.4px,#800000 305.7px,#800000 316.4px)"></i><i style="height:8.41px;background:linear-gradient(90deg,#a00000 0px,#a00000 1.3px,#800000 1.3px,#800000 5.9px,#c40000 6.6px,#f30000 7px,#f00 7.1px,#ff3d00 7.7px,#ff7600 8.3px,#ffb600 8.8px,#fff600 9.4px,#ff0 9.5px,#d3ff2c 10px,#89ff76 10.8px,#62ff9d 11.4px,#18ffe7 12.5px,#0cfff3 13.1px,#0ff 13.8px,#0ef 14.8px,#00f0ff 15.1px,#0ff 16.2px,#08fff7 16.8px,#1bffe4 17.2px,#5fffa0 18.6px,#7f8 19.1px,#c1ff3e 20.5px,#d2ff2d 20.8px,#ff0 21.5px,#ffe900 21.9px,#ffc300 22.5px,#ff8500 23.3px,#ff5400 23.9px,#ff0700 24.7px,#f00 24.9px,#e90000 25.3px,#b90000 26.4px,#b60000 27px,#b60000 29.6px,#f00 31px,#ff8000 32.1px,#ff0 33.2px,#80ff80 34.4px,#0ff 35.5px,#0080ff 36.8px,#00f 38.2px,#0000b3 39.5px,#0000b3 51.3px,#00f 52.4px,#0080ff 53.7px,#0ff 55.1px,#1affe5 56.9px,#3affc5 59.1px,#6bff94 60.8px,#7cff83 61.2px,#a6ff59 62.2px,#c9ff36 63px,#dbff24 63.3px,#ff0 63.8px,#ffd700 64.5px,#ff7f00 65.6px,#ff6b00 65.9px,#ff0900 67.3px,#f00 68px,#f20000 69px,#f00 69.2px,#ff1f00 69.7px,#ff5100 70.4px,#ff9b00 71.1px,#ffcb00 71.5px,#ff0 72px,#e3ff1c 72.3px,#b2ff4d 72.7px,#7f8 73.2px,#2fffd0 74px,#0efff1 74.4px,#0ff 74.6px,#00c3ff 75.4px,#00c0ff 75.5px,#00a8ff 77.2px,#00e0ff 78.9px,#0ff 79.5px,#28ffd7 80.3px,#ff0 81.5px,#ff8300 82.6px,#ff2500 83.9px,#ff3e00 85.7px,#f40 86px,#ff6d00 87.7px,#ff7500 88.1px,#ff9500 90.3px,#ff9c00 92.4px,#ff9f00 93.1px,#ff9000 94.5px,#ff8300 95.9px,#ff8e00 96.7px,#ffaf00 98.1px,#ffbf00 98.5px,#fffb00 99.9px,#ff0 100px,#adff52 101.3px,#9dff62 101.6px,#3affc5 103px,#26ffd9 103.3px,#09fff6 104.7px,#03fffc 105.2px,#1fe 106.6px,#18ffe7 107px,#7aff85 108.4px,#8fff70 108.7px,#e7ff18 110.1px,#f8ff07 110.4px,#ff0 110.7px,#ffe500 111.5px,#ffde00 111.8px,#fff500 113px,#fffc00 113.2px,#ff0 113.3px,#cbff34 114.4px,#bcff43 114.7px,#a7ff58 115.8px,#a4ff5b 116.1px,#d1ff2e 116.9px,#e4ff1b 117.2px,#ff0 117.8px,#fff600 117.9px,#ffe200 118.2px,#f00 118.9px,#fa0000 118.9px,#800000 119.3px,#800000 139.7px,#d80000 140.3px,#f00 140.4px,#ff6000 140.8px,#f80 141.2px,#ffd400 143.1px,#fff900 146.9px,#ff0 150.4px,#fdff02 151.6px,#ff0 151.9px,#ffe900 154.5px,#ffd100 155.4px,#ffa800 156.8px,#ff7500 157.9px,#ff5400 158.7px,#f70 159.8px,#ff9d00 160.6px,#ffe200 161.3px,#ff0 161.6px,#f4ff0b 161.7px,#9f6 162.6px,#74ff8b 163px,#19ffe6 164px,#0ff 164.3px,#00f9ff 164.3px,#00aeff 165.9px,#009fff 166.2px,#0087ff 168.1px,#008aff 168.7px,#00cfff 170.6px,#00e7ff 171.2px,#0ff 172.3px,#0ffff0 173.1px,#13ffec 173.4px,#0ff 174.3px,#00e0ff 175.7px,#00ceff 176.3px,#00afff 178.7px,#0af 179.1px,#00d5ff 181.4px,#00e7ff 182px,#0ff 182.8px,#21ffde 184px,#38ffc7 184.8px,#28ffd7 186.7px,#1dffe2 187.6px,#0ff 189.1px,#00f5ff 189.5px,#00daff 190.5px,#00baff 192.4px,#00acff 193.3px,#00b8ff 195.2px,#00c8ff 196.2px,#0ff 197.8px,#0bfff4 198.1px,#36ffc9 199px,#b2ff4d 200.3px,#f6ff09 201.1px,#ff0 201.2px,#ffbc00 202.2px,#ff9300 202.8px,#ff4f00 203.8px,#ff1d00 204.5px,#ff3700 205.3px,#ff7b00 206.4px,#ff9600 206.8px,#fff900 207.9px,#ff0 208px,#e2ff1d 208.1px,#0dfff2 209.1px,#0ff 209.1px,#00e2ff 209.2px,#000dff 210.2px,#00f 210.3px,#0000f8 210.4px,#0000b2 211.7px,#0000b2 220.8px,#0000d6 222.7px,#0000e7 226.5px,#0000d6 229.3px,#00f 229.9px,#0058ff 231.2px,#00e0ff 233.1px,#0ff 234.3px,#12ffed 235px,#0ff 235.2px,#008eff 236.5px,#006eff 236.9px,#0012ff 237.9px,#00f 238.1px,#00e 238.4px,#0000c5 239.4px,#0000bf 239.8px,#0000bf 242.6px,#0000d6 243.2px,#00f 243.9px,#000fff 244.1px,#004eff 244.7px,#00e7ff 245.8px,#0ff 246.1px,#1affe5 246.4px,#74ff8b 247.7px,#87ff78 248.3px,#c3ff3c 251.1px,#e5ff1a 254.9px,#e6ff19 257.8px,#e7ff18 258.7px,#e8ff17 260.2px,#e9ff16 262.5px,#ecff13 262.9px,#ff0 265.6px,#fffa00 266.3px,#ffd600 269.1px,#ffc200 271.6px,#fff600 273.9px,#ff0 274.1px,#fbff04 274.2px,#b9ff46 276.1px,#a6ff59 276.9px,#76ff89 278.6px,#51ffae 279.5px,#1bffe4 281.1px,#07fff8 282.4px,#0ff 282.8px,#00f4ff 283.3px,#00abff 284.8px,#009aff 285.2px,#001fff 287.1px,#0027ff 289.4px,#0034ff 290.5px,#009fff 291.9px,#00aeff 292px,#00fcff 293.7px,#0ff 294.3px,#0ef 295.1px,#00a1ff 296px,#0068ff 296.6px,#00f 297.4px,#0000e7 297.5px,#0000b2 298.1px,#0000b2 301.9px,#0000cf 302.7px,#0000fe 303px,#00f 303px,#00aeff 303.8px,#0ff 304px,#08fff7 304px,#ff0 304.6px,#ffb000 304.7px,#ff1f00 305.1px,#f00 305.2px,#800000 305.7px,#800000 316.4px)"></i><i style="height:8.41px;background:linear-gradient(90deg,#970000 0px,#970000 1.3px,#800000 1.3px,#800000 5.9px,#ac0000 6.6px,#dc0000 7px,#f00 7.3px,#ff2800 7.7px,#ff6300 8.3px,#ffa300 8.8px,#ffe300 9.4px,#ff0 9.7px,#e2ff1d 10px,#9dff62 10.8px,#75ff8a 11.4px,#30ffcf 12.5px,#1effe1 13.1px,#0ff 14.8px,#00feff 14.8px,#00feff 15.1px,#0ff 15.2px,#19ffe6 16.8px,#28ffd7 17.2px,#6cff93 18.6px,#83ff7c 19.1px,#c6ff39 20.5px,#d4ff2b 20.8px,#ff0 21.6px,#ffef00 21.9px,#ffcf00 22.5px,#ff9100 23.3px,#ff6300 23.9px,#ff1600 24.7px,#f00 25.1px,#f10000 25.3px,#c50000 26.4px,#be0000 27px,#be0000 29.6px,#f00 31px,#ff8000 32.1px,#ff0 33.2px,#80ff80 34.4px,#0ff 35.5px,#0080ff 36.8px,#00f 38.2px,#0000b2 39.5px,#0000b2 51.3px,#00f 52.4px,#0080ff 53.7px,#0ff 55.1px,#1affe5 56.9px,#2fffd0 59.1px,#5cffa3 60.8px,#74ff8b 61.2px,#afff50 62.2px,#df2 63px,#f1ff0e 63.3px,#ff0 63.5px,#ffb900 64.5px,#ff5300 65.6px,#ff4100 65.9px,#f00 66.9px,#e60000 67.3px,#d80000 69px,#f40000 69.7px,#f00 69.9px,#ff2500 70.4px,#f60 71.1px,#ff9500 71.5px,#ffe500 72.3px,#ff0 72.5px,#e6ff19 72.7px,#a6ff59 73.2px,#5cffa3 74px,#35ffca 74.4px,#0ff 75px,#00e5ff 75.4px,#00deff 75.5px,#00c6ff 77.2px,#00efff 78.9px,#0ff 79.2px,#46ffb9 80.3px,#ff0 81.5px,#ff8b00 82.6px,#ff3b00 83.9px,#ff5300 85.7px,#ff5900 86px,#ff7a00 87.7px,#ff8100 88.1px,#ff8e00 90.3px,#ff7c00 92.4px,#ff7800 93.1px,#ff6200 94.5px,#ff5700 95.9px,#ff5d00 96.7px,#ff8e00 98.1px,#ffa000 98.5px,#fff400 99.9px,#ff0 100.1px,#b3ff4c 101.3px,#a5ff5a 101.6px,#52ffad 103px,#3fffc0 103.3px,#0ffff0 104.7px,#09fff6 105.2px,#0bfff4 106.6px,#15ffea 107px,#6f9 108.4px,#7bff84 108.7px,#d9ff26 110.1px,#e9ff16 110.4px,#ff0 111.1px,#fe0 111.5px,#ffe700 111.8px,#ffef00 113px,#fff600 113.2px,#ff0 113.5px,#df2 114.4px,#d1ff2e 114.7px,#b8ff47 115.8px,#b9ff46 116.1px,#e1ff1e 116.9px,#faff05 117.2px,#ff0 117.3px,#ffcd00 117.9px,#ffa700 118.2px,#f00 118.8px,#d00000 118.9px,#800000 119.3px,#800000 139.7px,#b20000 140.3px,#f00 140.6px,#ff4200 140.8px,#ff8500 141.2px,#ffdb00 143.1px,#ff0 145.9px,#f2ff0d 146.9px,#e3ff1c 151.6px,#f8ff07 154.5px,#ff0 154.9px,#fff500 155.4px,#ffcf00 156.8px,#ffa500 157.9px,#ff8c00 158.7px,#ff9600 159.8px,#ffb900 160.6px,#fe0 161.3px,#ff0 161.5px,#e9ff16 161.7px,#8eff71 162.6px,#69ff96 163px,#0efff1 164px,#0ff 164.2px,#00f3ff 164.3px,#00a5ff 165.9px,#0098ff 166.2px,#0074ff 168.1px,#007bff 168.7px,#00b8ff 170.6px,#00d0ff 171.2px,#0ff 172.8px,#08fff7 173.1px,#0cfff3 173.4px,#0ff 174.9px,#00f8ff 175.7px,#00e9ff 176.3px,#00c1ff 178.7px,#0bf 179.1px,#00c1ff 181.4px,#00d0ff 182px,#0ff 183.9px,#03fffc 184px,#17ffe8 184.8px,#2fd 186.7px,#21ffde 187.6px,#16ffe9 189.5px,#01fffe 190.5px,#0ff 190.5px,#00e3ff 192.4px,#00d7ff 193.3px,#00d7ff 195.2px,#00e9ff 196.2px,#0ff 196.9px,#21ffde 198.1px,#51ffae 199px,#b7ff48 200.3px,#ef1 201.1px,#ff0 201.4px,#ffce00 202.2px,#ffa600 202.8px,#ff6300 203.8px,#ff3a00 204.5px,#ff3b00 205.3px,#ff7600 206.4px,#ff8c00 206.8px,#fff400 207.9px,#ff0 208px,#ef1 208.1px,#1affe5 209.1px,#0ff 209.2px,#0ef 209.2px,#001aff 210.2px,#00f 210.4px,#0000fb 210.4px,#0000b2 211.7px,#0000b2 220.8px,#0000c7 222.7px,#0000d1 226.5px,#0000c7 229.3px,#00f 230.3px,#0032ff 231.2px,#00c1ff 233.1px,#0ff 234.7px,#0afff5 235px,#0ff 235.2px,#009bff 236.5px,#0080ff 236.9px,#0023ff 237.9px,#00f 238.3px,#0000f6 238.4px,#0000ca 239.4px,#0000bf 239.8px,#0000bf 242.6px,#00c 243.2px,#00f 244px,#0005ff 244.1px,#0038ff 244.7px,#00d1ff 245.8px,#0ff 246.2px,#0ffff0 246.4px,#68ff97 247.7px,#84ff7b 248.3px,#c7ff38 251.1px,#f0ff0f 254.9px,#fbff04 257.8px,#ff0 258.5px,#fffe00 258.7px,#fff600 260.2px,#ffec00 262.5px,#ffe900 262.9px,#ffd100 266.3px,#ffc700 269.1px,#ffd100 271.6px,#ff0 273.5px,#f7ff08 273.9px,#ecff13 274.2px,#b3ff4c 276.1px,#a0ff5f 276.9px,#6cff93 278.6px,#49ffb6 279.5px,#1cffe3 281.1px,#04fffb 282.4px,#0ff 282.5px,#00eaff 283.3px,#00a9ff 284.8px,#009aff 285.2px,#003eff 287.1px,#004dff 289.4px,#06f 290.5px,#00b8ff 291.9px,#00c1ff 292px,#00faff 293.7px,#0ff 294.3px,#0df 295.1px,#0092ff 296px,#0051ff 296.6px,#00f 297.2px,#0000d1 297.5px,#0000b2 298.1px,#0000b2 301.9px,#0000eb 302.7px,#00f 302.8px,#001bff 303px,#0ff 303.7px,#18ffe7 303.8px,#72ff8d 304px,#ff0 304.3px,#ff6500 304.7px,#f00 305px,#da0000 305.1px,#800000 305.7px,#800000 316.4px)"></i><i style="height:8.41px;background:linear-gradient(90deg,#8e0000 0px,#8e0000 1.3px,#800000 1.3px,#800000 5.9px,#940000 6.6px,#c40000 7px,#f00 7.5px,#ff1300 7.7px,#ff5000 8.3px,#ff9000 8.8px,#ffd000 9.4px,#ff0 9.9px,#f2ff0d 10px,#b0ff4f 10.8px,#8f7 11.4px,#48ffb7 12.5px,#30ffcf 13.1px,#10ffef 14.8px,#0dfff2 15.1px,#29ffd6 16.8px,#34ffcb 17.2px,#79ff86 18.6px,#8eff71 19.1px,#caff35 20.5px,#d7ff28 20.8px,#ff0 21.7px,#fff500 21.9px,#ffdb00 22.5px,#ff9e00 23.3px,#ff7200 23.9px,#ff2600 24.7px,#f00 25.2px,#f80000 25.3px,#d20000 26.4px,#c50000 27px,#c50000 29.6px,#f00 31px,#ff8000 32.1px,#ff0 33.2px,#80ff80 34.4px,#0ff 35.5px,#0080ff 36.8px,#00f 38.2px,#0000b2 39.5px,#0000b2 51.3px,#00f 52.4px,#0080ff 53.7px,#0ff 55.1px,#1affe5 56.9px,#24ffdb 59.1px,#4dffb2 60.8px,#6dff92 61.2px,#b8ff47 62.2px,#f1ff0e 63px,#ff0 63.2px,#fff800 63.3px,#ff9a00 64.5px,#ff2700 65.6px,#ff1600 65.9px,#f00 66.3px,#c40000 67.3px,#bd0000 69px,#cb0000 69.7px,#f90000 70.4px,#f00 70.5px,#ff3000 71.1px,#ff6000 71.5px,#ffaf00 72.3px,#ffe400 72.7px,#ff0 72.9px,#d5ff2a 73.2px,#8f7 74px,#5dffa2 74.4px,#08fff7 75.4px,#0ff 75.5px,#00fdff 75.5px,#00e4ff 77.2px,#00feff 78.9px,#0ff 78.9px,#65ff9a 80.3px,#ff0 81.5px,#ff9200 82.6px,#ff5200 83.9px,#ff6900 85.7px,#ff6d00 86px,#f80 87.7px,#ff8e00 88.1px,#ff8600 90.3px,#ff5c00 92.4px,#ff5100 93.1px,#ff3500 94.5px,#ff2b00 95.9px,#ff2c00 96.7px,#ff6c00 98.1px,#ff8100 98.5px,#ffec00 99.9px,#ff0 100.2px,#baff45 101.3px,#adff52 101.6px,#6aff95 103px,#58ffa7 103.3px,#14ffeb 104.7px,#0efff1 105.2px,#05fffa 106.6px,#12ffed 107px,#52ffad 108.4px,#67ff98 108.7px,#cf3 110.1px,#d9ff26 110.4px,#ff0 111.3px,#fff700 111.5px,#fff100 111.8px,#ffea00 113px,#fff000 113.2px,#ff0 113.8px,#efff10 114.4px,#e5ff1a 114.7px,#c9ff36 115.8px,#cfff30 116.1px,#f1ff0e 116.9px,#ff0 117.1px,#fe0 117.2px,#ffa400 117.9px,#ff6b00 118.2px,#f00 118.6px,#a50000 118.9px,#800000 119.3px,#800000 139.7px,#8c0000 140.3px,#f00 140.7px,#ff2400 140.8px,#ff8100 141.2px,#ffe300 143.1px,#ff0 144.9px,#dfff20 146.9px,#c8ff37 151.6px,#dcff23 154.5px,#e5ff1a 155.4px,#ff0 156.4px,#fff600 156.8px,#ffd500 157.9px,#ffc300 158.7px,#ffb500 159.8px,#ffd600 160.6px,#fffb00 161.3px,#ff0 161.4px,#deff21 161.7px,#83ff7c 162.6px,#5fffa0 163px,#04fffb 164px,#0ff 164px,#00edff 164.3px,#009cff 165.9px,#0091ff 166.2px,#0060ff 168.1px,#006dff 168.7px,#00a1ff 170.6px,#00b8ff 171.2px,#0ff 173px,#02fffd 173.1px,#06fff9 173.4px,#1fe 175.7px,#05fffa 176.3px,#0ff 176.5px,#00d3ff 178.7px,#0cf 179.1px,#00adff 181.4px,#00b8ff 182px,#00e3ff 184px,#00f6ff 184.8px,#0ff 185.3px,#1cffe3 186.7px,#25ffda 187.6px,#35ffca 189.5px,#26ffd9 190.5px,#0cfff3 192.4px,#03fffc 193.3px,#0ff 193.7px,#00f5ff 195.2px,#0ff 195.7px,#0afff5 196.2px,#38ffc7 198.1px,#6cff93 199px,#bdff42 200.3px,#e6ff19 201.1px,#ff0 201.6px,#ffe000 202.2px,#ffb900 202.8px,#ff7800 203.8px,#ff5600 204.5px,#ff3e00 205.3px,#ff7100 206.4px,#ff8300 206.8px,#ffef00 207.9px,#ff0 208.1px,#fbff04 208.1px,#26ffd9 209.1px,#0ff 209.2px,#00fbff 209.2px,#0026ff 210.2px,#00f 210.4px,#0000fe 210.4px,#0000b2 211.7px,#0000b2 220.8px,#0000b8 222.7px,#0000ba 226.5px,#0000b8 229.3px,#00f 230.9px,#000dff 231.2px,#00a3ff 233.1px,#0ff 235px,#03fffc 235px,#0ff 235.1px,#00a9ff 236.5px,#0093ff 236.9px,#0034ff 237.9px,#00f 238.4px,#0000fd 238.4px,#0000d0 239.4px,#0000bf 239.8px,#0000bf 242.6px,#0000c3 243.2px,#0000fa 244.1px,#00f 244.2px,#0021ff 244.7px,#00baff 245.8px,#0ff 246.4px,#04fffb 246.4px,#5dffa2 247.7px,#81ff7e 248.3px,#cbff34 251.1px,#fbff04 254.9px,#ff0 255.4px,#ffed00 257.8px,#ffe400 258.7px,#ffd700 260.2px,#ffc400 262.5px,#ffc000 262.9px,#ffa700 266.3px,#ffb800 269.1px,#ffe000 271.6px,#ff0 272.9px,#e7ff18 273.9px,#deff21 274.2px,#adff52 276.1px,#9bff64 276.9px,#63ff9c 278.6px,#42ffbd 279.5px,#1dffe2 281.1px,#01fffe 282.4px,#0ff 282.4px,#00e0ff 283.3px,#00a7ff 284.8px,#009bff 285.2px,#005cff 287.1px,#0073ff 289.4px,#0098ff 290.5px,#00d0ff 291.9px,#00d5ff 292px,#00f7ff 293.7px,#0ff 294.3px,#0cf 295.1px,#0084ff 296px,#003bff 296.6px,#00f 297px,#0000ba 297.5px,#0000b2 298.1px,#0000b2 301.9px,#00f 302.6px,#0008ff 302.7px,#0036ff 303px,#0ff 303.5px,#82ff7d 303.8px,#dbff24 304px,#ff0 304.1px,#ff1900 304.7px,#f00 304.8px,#960000 305.1px,#800000 305.7px,#800000 316.4px)"></i><i style="height:8.41px;background:linear-gradient(90deg,#840000 0px,#840000 1.3px,#800000 1.3px,#800000 6.6px,#c00 7.3px,#fc0000 7.7px,#f00 7.7px,#ff4d00 8.4px,#ff7d00 8.8px,#ffbd00 9.4px,#fffd00 10px,#ff0 10px,#d8ff27 10.6px,#9bff64 11.4px,#7cff83 12px,#40ffbf 13.1px,#34ffcb 13.7px,#19ffe6 15.1px,#25ffda 15.8px,#3effc1 17.2px,#5fffa0 17.9px,#95ff6a 19.1px,#b9ff46 20.1px,#d4ff2b 20.8px,#ff0 21.9px,#fff500 22.2px,#ffea00 22.5px,#ff8500 23.9px,#ff6000 24.3px,#ff0900 25.3px,#f00 25.6px,#e60000 26.4px,#d50000 27px,#d40000 28.6px,#d40000 29.6px,#fc0000 30.7px,#f00 30.8px,#ff0800 31px,#ff8400 32.1px,#ff0 33.2px,#fbff04 33.2px,#dcff23 33.5px,#7dff82 34.4px,#3dffc2 34.9px,#0ff 35.5px,#00fdff 35.5px,#00a8ff 36.4px,#007eff 36.8px,#0025ff 37.8px,#00f 38.2px,#0000fe 38.2px,#0000c3 39.2px,#0000b2 39.5px,#0000b2 51.3px,#0000fc 52.4px,#00f 52.4px,#0018ff 52.7px,#007bff 53.7px,#00e2ff 54.8px,#00fbff 55.1px,#0ff 55.3px,#0ffff0 56.2px,#19ffe6 56.9px,#19ffe6 59.1px,#3fc 60.2px,#42ffbd 60.8px,#76ff89 61.3px,#c2ff3d 62.2px,#cdff32 62.3px,#ff0 62.9px,#ffe200 63.3px,#ff7b00 64.5px,#f00 65.6px,#fc0000 65.6px,#df0000 66.2px,#a50000 67.3px,#a50000 69.7px,#f00 71.1px,#f00 71.1px,#ff0f00 71.3px,#ff8000 72.3px,#ff0 73.2px,#83ff7c 74.4px,#6aff95 74.7px,#1fffe0 75.5px,#0bfff4 76.8px,#05fffa 77.2px,#13ffec 78.9px,#83ff7c 80.3px,#a2ff5d 80.6px,#feff01 81.5px,#ff0 81.5px,#ffb500 82.3px,#ff9c00 82.6px,#ff6700 83.9px,#ff6900 84px,#ff7c00 86px,#ff9200 88.1px,#ff8a00 88.8px,#ff7900 90.3px,#ff3b00 92.4px,#ff0900 94.5px,#f00 96.3px,#fd0000 96.7px,#f00 96.7px,#ff4a00 98.1px,#ff6100 98.5px,#fd0 99.9px,#ff0 100.4px,#d8ff27 101px,#c5ff3a 101.3px,#a3ff5c 102.2px,#81ff7e 103px,#5fffa0 103.6px,#1bffe4 104.7px,#14ffeb 105.2px,#01fffe 106.6px,#30ffcf 108px,#3effc1 108.4px,#b9ff46 110.1px,#d7ff28 110.8px,#f7ff08 111.5px,#ff0 111.9px,#ffeb00 113px,#ff0 114.3px,#feff01 114.4px,#f8ff07 114.7px,#dfff20 115.8px,#ff0 116.7px,#fffa00 116.8px,#fff500 116.9px,#ff7600 117.9px,#f00 118.4px,#800000 118.9px,#800000 140.3px,#fb0000 140.8px,#f00 140.9px,#ff6200 141.2px,#ff9800 141.8px,#ffe500 143.1px,#fff000 143.5px,#ff0 144.2px,#d9ff26 146px,#c8ff37 146.9px,#aeff51 149.8px,#a3ff5c 151.6px,#a9ff56 153.5px,#b7ff48 155.4px,#e2ff1d 157.3px,#efff10 157.9px,#ff0 158.8px,#ffed00 159.8px,#fff900 160.2px,#ff0 160.3px,#d8ff27 161.3px,#7aff85 162.4px,#69ff96 162.6px,#0ff 163.8px,#00f2ff 164px,#0df 164.3px,#008eff 165.9px,#0070ff 166.8px,#004fff 168.1px,#0064ff 169.3px,#0087ff 170.6px,#00acff 171.5px,#00e7ff 173.1px,#00f8ff 174.4px,#0ff 175px,#08fff7 175.7px,#0ff 176.3px,#00f2ff 177.2px,#00d7ff 178.7px,#00c2ff 180.1px,#00abff 181.4px,#00c0ff 182.9px,#00d4ff 184px,#00faff 185.8px,#0ff 186px,#1fe 186.7px,#2effd1 188.6px,#3cffc3 189.5px,#30ffcf 191.4px,#2affd5 192.4px,#25ffda 194.3px,#2fd 195.2px,#4dffb2 197.1px,#61ff9e 198.1px,#af5 199.6px,#cdff32 200.3px,#ff0 201.6px,#fff400 201.9px,#ffe600 202.2px,#ff9300 203.8px,#ff8700 204.1px,#ff6300 205.3px,#ff7f00 206px,#ffa500 206.8px,#ffec00 207.5px,#ff0 207.7px,#daff25 208.1px,#67ff98 208.7px,#0ff 209.1px,#00e9ff 209.2px,#006cff 209.8px,#00f 210.4px,#0000fd 210.4px,#0000c4 211.3px,#0000b2 211.7px,#0000b2 229.3px,#0000d1 230.3px,#0000f8 231.2px,#00f 231.3px,#003eff 232.2px,#08f 233.1px,#00bdff 234.1px,#00efff 235px,#00ceff 236px,#009dff 236.9px,#0047ff 237.9px,#0010ff 238.4px,#00f 238.7px,#0000da 239.4px,#0000c8 239.8px,#0000bf 240.7px,#0000bf 243.2px,#0000d1 243.5px,#00f 244.3px,#0015ff 244.7px,#0043ff 245.1px,#00f5ff 246.4px,#0ff 246.5px,#15ffea 246.8px,#7bff84 248.3px,#8f7 248.7px,#caff35 251.1px,#d0ff2f 251.5px,#ff0 254.9px,#ffe100 257.8px,#ffc300 260.2px,#ffbf00 260.6px,#ffab00 262.9px,#ff9f00 264.4px,#ff9700 266.3px,#ffa700 268.2px,#ffb100 269.1px,#ffd700 271px,#ffe300 271.6px,#ff0 272.8px,#efff10 273.5px,#df2 274.2px,#afff50 276.1px,#9dff62 276.9px,#61ff9e 278.8px,#47ffb8 279.5px,#16ffe9 281.4px,#0ff 282.3px,#00fdff 282.4px,#00b9ff 284.3px,#00a5ff 284.8px,#0064ff 287.1px,#0072ff 289.4px,#0081ff 290px,#00bdff 291.9px,#0cf 292.8px,#00e4ff 294.3px,#00b8ff 295.1px,#0076ff 296px,#0005ff 297px,#00f 297px,#0000c0 297.5px,#0000b5 298.5px,#0000b5 301.3px,#0000c1 301.9px,#00f 302.4px,#0007ff 302.5px,#0074ff 303px,#0ff 303.3px,#28ffd7 303.4px,#ff0 303.9px,#ffda00 304px,#ff1a00 304.5px,#f00 304.6px,#800000 305.1px,#800000 316.4px)"></i><i style="height:8.41px;background:linear-gradient(90deg,#800000 0px,#800000 6.6px,#b20000 7.3px,#e20000 7.7px,#f00 8px,#ff3200 8.4px,#ff6500 8.8px,#ffa800 9.4px,#ffe800 10px,#ff0 10.3px,#e5ff1a 10.6px,#a8ff57 11.4px,#86ff79 12px,#41ffbe 13.1px,#2bffd4 13.7px,#13ffec 15.1px,#18ffe7 15.8px,#2bffd4 17.2px,#43ffbc 17.9px,#6fff90 19.1px,#90ff6f 20.1px,#acff53 20.8px,#e3ff1c 22.2px,#efff10 22.5px,#ff0 22.7px,#ffb600 23.9px,#ff9600 24.3px,#f50 25.3px,#ff3500 26.4px,#ff2600 27px,#ff1800 28.6px,#ff1e00 29.6px,#ff4000 30.7px,#ff4b00 31px,#ffae00 32.1px,#ff0 32.9px,#daff25 33.2px,#bcff43 33.5px,#63ff9c 34.4px,#28ffd7 34.9px,#0ff 35.3px,#00ecff 35.5px,#009aff 36.4px,#0071ff 36.8px,#0018ff 37.8px,#00f 38.1px,#0000f7 38.2px,#0000bd 39.2px,#0000b2 39.5px,#0000b2 51.3px,#0000e3 52.4px,#0000f5 52.7px,#00f 52.8px,#0051ff 53.7px,#00c0ff 54.8px,#00daff 55.1px,#0ff 56px,#0afff5 56.2px,#10ffef 56.9px,#10ffef 58.4px,#19ffe6 59.1px,#38ffc7 60.2px,#57ffa8 60.8px,#8fff70 61.3px,#dbff24 62.2px,#e7ff18 62.3px,#ff0 62.6px,#ffc000 63.3px,#ff5100 64.5px,#f00 65.3px,#e60000 65.6px,#c70000 66.2px,#a10000 67.3px,#a10000 69.7px,#fc0000 71.1px,#f00 71.2px,#ff0a00 71.3px,#ff8000 72.3px,#ff0 73.2px,#9fff60 74.4px,#8bff74 74.7px,#50ffaf 75.5px,#3fc 76.8px,#3fc 77.2px,#4affb5 78.9px,#9eff61 80.3px,#b4ff4b 80.6px,#f8ff07 81.5px,#ff0 81.6px,#ffcf00 82.3px,#ffb700 82.6px,#ff7300 83.9px,#ff7000 84px,#ff5a00 86px,#ff5900 88.1px,#ff4d00 88.8px,#ff3f00 90.3px,#ff1200 92.4px,#f00 93.4px,#eb0000 94.5px,#eb0000 96.7px,#f00 97.2px,#ff2400 98.1px,#ff3600 98.5px,#ff9100 99.9px,#ffed00 101px,#ff0 101.3px,#faff05 101.3px,#c2ff3d 102.2px,#92ff6d 103px,#6aff95 103.6px,#24ffdb 104.7px,#16ffe9 105.2px,#07fff8 106.6px,#24ffdb 108px,#2dffd2 108.4px,#7eff81 110.1px,#92ff6d 110.8px,#b4ff4b 111.5px,#e0ff1f 113px,#f7ff08 114.4px,#faff05 114.7px,#ff0 114.9px,#ffe800 115.8px,#ffa400 116.8px,#ff9c00 116.9px,#f20 117.9px,#f00 118.1px,#800000 118.9px,#800000 140.3px,#cd0000 140.8px,#f00 141px,#ff3400 141.2px,#ff8f00 141.8px,#ffe400 143.1px,#fff500 143.5px,#ff0 143.8px,#c1ff3e 146px,#aeff51 146.9px,#86ff79 149.8px,#7f8 151.6px,#74ff8b 153.5px,#84ff7b 155.4px,#a6ff59 157.3px,#b0ff4f 157.9px,#cf3 159.8px,#c6ff39 160.2px,#9eff61 161.3px,#57ffa8 162.4px,#48ffb7 162.6px,#0ff 163.5px,#00deff 164px,#00c9ff 164.3px,#007dff 165.9px,#0059ff 166.8px,#0040ff 168.1px,#0049ff 169.3px,#006dff 170.6px,#008eff 171.5px,#00c2ff 173.1px,#00daff 174.4px,#00ecff 175.7px,#00e9ff 177.2px,#00d5ff 178.7px,#00c6ff 180.1px,#00b3ff 181.4px,#0bf 182.9px,#00cdff 184px,#0ef 185.8px,#0ff 186.5px,#05fffa 186.7px,#26ffd9 188.6px,#37ffc8 189.5px,#3fffc0 191.4px,#43ffbc 192.4px,#50ffaf 194.3px,#56ffa9 195.2px,#80ff7f 197.1px,#92ff6d 198.1px,#c9ff36 199.6px,#e3ff1c 200.3px,#ff0 201.3px,#ffef00 201.9px,#ffe500 202.2px,#ffb200 203.8px,#fa0 204.1px,#f90 205.3px,#ffae00 206px,#ffde00 206.8px,#ff0 207.2px,#dcff23 207.5px,#a1ff5e 208.1px,#41ffbe 208.7px,#0ff 209px,#00c7ff 209.2px,#004dff 209.8px,#00f 210.3px,#0000f9 210.4px,#0000be 211.3px,#0000b2 211.7px,#0000b2 229.3px,#0000c6 230.3px,#0000ec 231.2px,#00f 231.5px,#0027ff 232.2px,#006dff 233.1px,#00a6ff 234.1px,#00d6ff 235px,#00d2ff 236px,#00a2ff 236.9px,#005cff 237.9px,#0027ff 238.4px,#00f 239px,#0000e8 239.4px,#0000d6 239.8px,#0000bf 240.7px,#0000bf 243.2px,#0000cb 243.5px,#00f 244.4px,#000fff 244.7px,#03f 245.1px,#00e6ff 246.4px,#0ff 246.6px,#0dfff2 246.8px,#73ff8c 248.3px,#85ff7a 248.7px,#c7ff38 251.1px,#cfff30 251.5px,#ff0 254.9px,#ffd900 257.8px,#ffb600 260.2px,#ffb100 260.6px,#ff9e00 262.9px,#ff9400 264.4px,#ff9300 266.3px,#ffa200 268.2px,#ffae00 269.1px,#ffd300 271px,#ffdf00 271.6px,#ff0 273px,#f5ff0a 273.5px,#e3ff1c 274.2px,#b5ff4a 276.1px,#a3ff5c 276.9px,#6cff93 278.8px,#51ffae 279.5px,#17ffe8 281.4px,#0ff 282.2px,#00fbff 282.4px,#00b6ff 284.3px,#00a3ff 284.8px,#0060ff 287.1px,#005eff 289.4px,#0064ff 290px,#0094ff 291.9px,#00a1ff 292.8px,#00baff 294.3px,#00a3ff 295.1px,#06f 296px,#000dff 297px,#00f 297.1px,#0000d4 297.5px,#0000b9 298.5px,#0000b9 301.3px,#0000d8 301.9px,#00f 302.2px,#001cff 302.5px,#00c3ff 303px,#0ff 303.2px,#7f8 303.4px,#ff0 303.7px,#ffa100 304px,#f00 304.5px,#e10000 304.5px,#800000 305.1px,#800000 316.4px)"></i><i style="height:8.41px;background:linear-gradient(90deg,#800000 0px,#800000 6.6px,#980000 7.3px,#c70000 7.7px,#f00 8.2px,#ff1800 8.4px,#ff4d00 8.8px,#ff9300 9.4px,#ffd300 10px,#ff0 10.4px,#f3ff0c 10.6px,#b5ff4a 11.4px,#90ff6f 12px,#43ffbc 13.1px,#2fd 13.7px,#0efff1 15.1px,#0cfff3 15.8px,#19ffe6 17.2px,#27ffd8 17.9px,#4affb5 19.1px,#6f9 20.1px,#83ff7c 20.8px,#bcff43 22.2px,#c9ff36 22.5px,#ff0 23.4px,#ffe700 23.9px,#ffcd00 24.3px,#ffa100 25.3px,#ff8400 26.4px,#ff7500 27px,#ff5b00 28.6px,#ff6800 29.6px,#ff8200 30.7px,#ff8e00 31px,#ffd800 32.1px,#ff0 32.5px,#b8ff47 33.2px,#9dff62 33.5px,#4affb5 34.4px,#13ffec 34.9px,#0ff 35.1px,#00dbff 35.5px,#008cff 36.4px,#0065ff 36.8px,#000cff 37.8px,#00f 38px,#0000ef 38.2px,#0000b8 39.2px,#0000b2 39.5px,#0000b2 51.3px,#0000ca 52.4px,#0000d2 52.7px,#00f 53.2px,#0027ff 53.7px,#009eff 54.8px,#00b8ff 55.1px,#0ff 56.2px,#05fffa 56.2px,#08fff7 56.9px,#08fff7 58.4px,#19ffe6 59.1px,#3cffc3 60.2px,#6cff93 60.8px,#a8ff57 61.3px,#f5ff0a 62.2px,#ff0 62.3px,#fffd00 62.3px,#ff9e00 63.3px,#ff2700 64.5px,#f00 65px,#d00000 65.6px,#af0000 66.2px,#9d0000 67.3px,#9d0000 69.7px,#f90000 71.1px,#f00 71.2px,#ff0500 71.3px,#ff8000 72.3px,#ff0 73.2px,#bcff43 74.4px,#adff52 74.7px,#81ff7e 75.5px,#5bffa4 76.8px,#60ff9f 77.2px,#80ff7f 78.9px,#b9ff46 80.3px,#c7ff38 80.6px,#f2ff0d 81.5px,#ff0 81.8px,#ffe800 82.3px,#ffd100 82.6px,#ff7f00 83.9px,#ff7800 84px,#ff3800 86px,#ff1f00 88.1px,#f10 88.8px,#ff0500 90.3px,#f00 90.7px,#e70000 92.4px,#ce0000 94.5px,#da0000 96.7px,#fc0000 98.1px,#f00 98.2px,#ff0a00 98.5px,#ff4600 99.9px,#ffb400 101px,#ffd000 101.3px,#ff0 101.9px,#e2ff1d 102.2px,#a3ff5c 103px,#75ff8a 103.6px,#2dffd2 104.7px,#18ffe7 105.2px,#0dfff2 106.6px,#18ffe7 108px,#1cffe3 108.4px,#43ffbc 110.1px,#4dffb2 110.8px,#71ff8e 111.5px,#aeff51 113px,#f0ff0f 114.4px,#fdff02 114.7px,#ff0 114.7px,#ffb200 115.8px,#ff4f00 116.8px,#ff4200 116.9px,#f00 117.5px,#cd0000 117.9px,#800000 118.9px,#800000 140.3px,#a00000 140.8px,#f00 141.2px,#ff0700 141.2px,#ff8600 141.8px,#ffe300 143.1px,#fffb00 143.5px,#ff0 143.6px,#af5 146px,#95ff6a 146.9px,#5dffa2 149.8px,#4cffb3 151.6px,#3fffc0 153.5px,#51ffae 155.4px,#6bff94 157.3px,#72ff8d 157.9px,#87ff78 159.8px,#87ff78 160.2px,#63ff9c 161.3px,#3fc 162.4px,#26ffd9 162.6px,#0ff 163.2px,#00cbff 164px,#00b4ff 164.3px,#006bff 165.9px,#0043ff 166.8px,#0030ff 168.1px,#002dff 169.3px,#0052ff 170.6px,#006fff 171.5px,#009dff 173.1px,#0bf 174.4px,#00d1ff 175.7px,#00e0ff 177.2px,#00d3ff 178.7px,#00c9ff 180.1px,#0bf 181.4px,#00b6ff 182.9px,#00c7ff 184px,#00e1ff 185.8px,#00f7ff 186.7px,#0ff 187.1px,#1fffe0 188.6px,#32ffcd 189.5px,#4effb1 191.4px,#5cffa3 192.4px,#7aff85 194.3px,#89ff76 195.2px,#b4ff4b 197.1px,#c4ff3b 198.1px,#e8ff17 199.6px,#f8ff07 200.3px,#ff0 200.7px,#ffe900 201.9px,#ffe500 202.2px,#ffd000 203.8px,#fc0 204.1px,#ffce00 205.3px,#fd0 206px,#ff0 206.5px,#e8ff17 206.8px,#a6ff59 207.5px,#68ff97 208.1px,#1bffe4 208.7px,#0ff 208.8px,#00a5ff 209.2px,#002fff 209.8px,#00f 210.3px,#0000f5 210.4px,#0000b7 211.3px,#0000b2 211.7px,#0000b2 229.3px,#00b 230.3px,#0000e1 231.2px,#00f 231.8px,#0010ff 232.2px,#0053ff 233.1px,#0090ff 234.1px,#00beff 235px,#00d6ff 236px,#00a8ff 236.9px,#0071ff 237.9px,#003fff 238.4px,#00f 239.2px,#0000f5 239.4px,#0000e3 239.8px,#0000bf 240.7px,#0000bf 243.2px,#0000c4 243.5px,#00f 244.5px,#0008ff 244.7px,#0024ff 245.1px,#00d7ff 246.4px,#0ff 246.7px,#05fffa 246.8px,#6bff94 248.3px,#82ff7d 248.7px,#c4ff3b 251.1px,#cdff32 251.5px,#ff0 254.9px,#ffd100 257.8px,#ffa900 260.2px,#ffa300 260.6px,#ff9200 262.9px,#f80 264.4px,#ff8f00 266.3px,#ff9d00 268.2px,#ffac00 269.1px,#ffcf00 271px,#ffdb00 271.6px,#ff0 273.3px,#fbff04 273.5px,#e9ff16 274.2px,#bf4 276.1px,#a9ff56 276.9px,#7f8 278.8px,#5bffa4 279.5px,#19ffe6 281.4px,#0ff 282.2px,#00f8ff 282.4px,#00b4ff 284.3px,#00a2ff 284.8px,#005cff 287.1px,#0049ff 289.4px,#0048ff 290px,#006aff 291.9px,#07f 292.8px,#0090ff 294.3px,#008fff 295.1px,#0057ff 296px,#0014ff 297px,#00f 297.2px,#0000e8 297.5px,#0000bd 298.5px,#0000bd 301.3px,#0000ef 301.9px,#00f 302px,#0031ff 302.5px,#0ff 303px,#14ffeb 303px,#c6ff39 303.4px,#ff0 303.6px,#ff6800 304px,#f00 304.3px,#a80000 304.5px,#800000 305.1px,#800000 316.4px)"></i><i style="height:8.41px;background:linear-gradient(90deg,#800000 0px,#800000 0.9px,#b30000 0.9px,#b30000 1.3px,#800000 1.3px,#800000 7.3px,#f00 8.4px,#ff8000 9.4px,#ff0 10.6px,#9f6 12px,#1affe5 13.7px,#0ff 15.8px,#0dfff2 17.9px,#40ffbf 20.1px,#9f6 22.2px,#ff0 24.3px,#fc0 26.4px,#f90 28.6px,#ffbf00 30.7px,#ff0 32.1px,#80ff80 33.5px,#0ff 34.9px,#0080ff 36.4px,#00f 37.8px,#0000b2 39.2px,#0000b2 52.7px,#00f 53.7px,#0080ff 54.8px,#0ff 56.2px,#0ff 58.4px,#40ffbf 60.2px,#bfff40 61.3px,#ff0 62px,#ffe500 62.3px,#ff8000 63.3px,#f00 64.5px,#900 66.2px,#900 69.7px,#f00 71.3px,#ff8000 72.3px,#ff0 73.2px,#cf3 74.7px,#80ff80 76.8px,#b3ff4c 78.9px,#d9ff26 80.6px,#ff0 82.3px,#ff8000 84px,#ff1a00 86px,#f00 87.1px,#d90000 88.8px,#b30000 94.5px,#d90000 98.1px,#f00 99.9px,#ff8000 101px,#ff0 102.2px,#80ff80 103.6px,#1affe5 105.2px,#0dfff2 108px,#0dfff2 110.8px,#80ff80 113px,#ff0 114.7px,#ff8000 115.8px,#f00 116.8px,#800000 117.9px,#800000 140.8px,#f00 141.4px,#ff3b00 141.6px,#ff6e00 141.8px,#ffb300 142.6px,#fffb00 143.5px,#ff0 143.6px,#e9ff16 144.1px,#97ff68 146px,#51ffae 148.8px,#3cffc3 149.8px,#20ffdf 152.6px,#17ffe8 153.5px,#2effd1 156.4px,#36ffc9 157.3px,#4affb5 160.2px,#0bfff4 162.4px,#0ff 162.6px,#00e9ff 163px,#009dff 164.3px,#005aff 165.9px,#0031ff 166.8px,#001eff 168.7px,#0019ff 169.3px,#0054ff 171.5px,#009eff 174.4px,#00d1ff 177.2px,#00c8ff 180.1px,#00b0ff 182.9px,#00cfff 185.2px,#00d7ff 185.8px,#0ff 187.5px,#04fffb 187.6px,#1bffe4 188.6px,#41ffbe 190.1px,#60ff9f 191.4px,#75ff8a 192.4px,#a0ff5f 194.3px,#b5ff4a 195.2px,#df2 197.1px,#ecff13 198.1px,#ff0 199.4px,#fffd00 199.6px,#ffef00 200.9px,#ffe600 201.9px,#ffe800 203.4px,#ffea00 204.1px,#fffc00 205.3px,#ff0 205.4px,#f5ff0a 206px,#97ff68 207.2px,#7f8 207.5px,#0ff 208.6px,#00f8ff 208.7px,#001bff 209.8px,#00f 210.2px,#00f 210.2px,#0000b4 211.3px,#0000b2 211.7px,#0000b2 230.3px,#0000d6 231.2px,#0000fc 232.2px,#00f 232.2px,#003aff 233.1px,#0079ff 234.1px,#00a5ff 235px,#00d0ff 236px,#00a8ff 236.9px,#007dff 237.9px,#0032ff 238.8px,#0004ff 239.4px,#00f 239.5px,#0000c5 240.7px,#0000c4 242.6px,#0000c6 243.5px,#0000fb 244.5px,#00f 244.6px,#001eff 245.1px,#00c9ff 246.4px,#00f9ff 246.8px,#0ff 246.8px,#60ff9f 248.3px,#79ff86 248.7px,#a5ff5a 250.2px,#c9ff36 251.5px,#e1ff1e 253px,#feff01 254.9px,#ff0 255px,#ffef00 255.9px,#ffcf00 257.8px,#ffbf00 258.7px,#ff9f00 260.6px,#f90 261.5px,#f80 264.4px,#ff9c00 267.2px,#ffa300 268.2px,#ffc400 270.1px,#ffd500 271px,#fffb00 272.9px,#ff0 273.1px,#f8ff07 273.5px,#c2ff3d 275.7px,#b9ff46 276.1px,#7eff81 278.6px,#7aff85 278.8px,#17ffe8 281.4px,#0ff 282.1px,#00b6ff 284.3px,#0060ff 287.1px,#0039ff 290px,#005cff 292.8px,#0081ff 295.1px,#06f 295.6px,#0027ff 297px,#00f 297.7px,#0000eb 298.1px,#0000d8 298.5px,#0000dc 300px,#0000e4 301.3px,#0000f8 301.5px,#00f 301.6px,#0063ff 302.5px,#00b7ff 302.7px,#0ff 302.8px,#ff0 303.4px,#ffea00 303.4px,#ff6a00 303.8px,#f00 304.1px,#800000 304.5px,#800000 316.4px)"></i><i style="height:8.41px;background:linear-gradient(90deg,#810000 0px,#810000 0.9px,#b30000 0.9px,#b30000 5.2px,#c70000 6.6px,#e40000 8px,#ed0000 9.4px,#f00 10px,#ff0300 10.1px,#ff3a00 10.8px,#ff6b00 11.5px,#ffaf00 12.5px,#ffda00 13px,#ff0 13.3px,#df2 13.7px,#9dff62 14.4px,#5effa1 15.1px,#24ffdb 15.8px,#0cfff3 16.5px,#0cfff3 20.1px,#23ffdc 20.8px,#60ff9f 22.2px,#79ff86 22.9px,#c3ff3c 25px,#ff0 27.6px,#fffa00 27.9px,#ff0 28.7px,#f4ff0b 30.7px,#c3ff3c 32.1px,#51ffae 33.8px,#32ffcd 34.2px,#0ff 34.9px,#00e8ff 35.2px,#009fff 36.4px,#06f 37.1px,#0038ff 37.8px,#00f 38.4px,#0000b2 39.2px,#0000b2 52px,#0000c9 52.7px,#0000ef 53.1px,#00f 53.3px,#000cff 53.4px,#0072ff 54.5px,#008bff 54.8px,#00f1ff 55.9px,#0ff 56.2px,#0ff 58.4px,#1effe1 59.1px,#5effa1 59.8px,#af5 60.5px,#cf3 60.8px,#ff0 61.2px,#ffd200 61.6px,#ffb000 61.9px,#ff5a00 62.6px,#ff3000 63px,#f00 63.7px,#e30000 64px,#bd0000 64.7px,#900 66.2px,#900 69.7px,#b40000 70.4px,#e70000 71.1px,#f00 71.4px,#ff3100 71.8px,#ff5300 72.1px,#ffb200 73px,#ffd200 73.2px,#ff0 73.9px,#f4ff0b 74.1px,#cdff32 75.4px,#b6ff49 76.1px,#85ff7a 78.2px,#8bff74 78.9px,#b5ff4a 80.3px,#cbff34 81px,#f5ff0a 82.5px,#ff0 82.7px,#ffe800 83.2px,#ff8900 84.6px,#ff7600 84.9px,#f00 86.7px,#b50000 89.6px,#ad0000 90.3px,#ad0000 98.8px,#c10000 99.5px,#ea0000 100.2px,#f00 100.4px,#ff2a00 100.9px,#ff5d00 101.3px,#ffa100 101.9px,#ffe100 102.5px,#ff0 102.8px,#e4ff1b 103px,#97ff68 103.9px,#6eff91 104.5px,#1bffe4 105.9px,#07fff8 106.6px,#07fff8 111.5px,#1bffe4 112.3px,#72ff8d 113.7px,#94ff6b 114.1px,#f8ff07 115.1px,#ff0 115.2px,#fff500 115.2px,#f80 116.1px,#ff7400 116.2px,#f00 116.9px,#f80000 116.9px,#9d0000 117.5px,#800000 117.9px,#800000 140.8px,#fe0000 141.6px,#f00 141.6px,#ff3200 141.8px,#ffa300 142.6px,#ffed00 143.5px,#ff0 143.8px,#f0ff0f 144.1px,#8fff70 146px,#3fffc0 148.8px,#2fffd0 149.8px,#16ffe9 152.6px,#0cfff3 153.5px,#13ffec 156.4px,#14ffeb 157.3px,#15ffea 160.2px,#0ff 161px,#00d6ff 162.4px,#0bf 163px,#0080ff 164.3px,#004aff 165.9px,#002bff 166.8px,#0018ff 168.7px,#0016ff 169.3px,#0041ff 171.5px,#0084ff 174.4px,#00b7ff 177.2px,#00b9ff 180.1px,#00a9ff 182.9px,#00c5ff 185.2px,#00d1ff 185.8px,#0ff 187.5px,#03fffc 187.6px,#2fd 188.6px,#5fa 190.1px,#76ff89 191.4px,#8dff72 192.4px,#b8ff47 194.3px,#cdff32 195.2px,#ef1 197.1px,#faff05 198.1px,#ff0 198.6px,#fff500 199.6px,#ffec00 200.9px,#ffe900 201.9px,#ffef00 203.4px,#fffb00 204.1px,#ff0 204.3px,#e8ff17 205.3px,#d1ff2e 206px,#7bff84 207.2px,#59ffa6 207.5px,#0ff 208.4px,#0df 208.7px,#0020ff 209.8px,#00f 210.2px,#00f 210.2px,#0000ba 211.3px,#0000b2 211.7px,#0000b2 230.3px,#0000ca 231.2px,#0000f0 232.2px,#00f 232.4px,#0028ff 233.1px,#0060ff 234.1px,#008dff 235px,#00b0ff 236px,#009bff 236.9px,#0076ff 237.9px,#003bff 238.8px,#0014ff 239.4px,#00f 239.8px,#0000d7 240.7px,#0000d3 242.6px,#0000dc 243.5px,#00f 244.3px,#000aff 244.5px,#002dff 245.1px,#00bdff 246.4px,#00e6ff 246.8px,#0ff 247.1px,#49ffb6 248.3px,#61ff9e 248.7px,#9f6 250.2px,#bdff42 251.5px,#daff25 253px,#f9ff06 254.9px,#ff0 255.3px,#fff400 255.9px,#ffd900 257.8px,#ffcb00 258.7px,#ffb300 260.6px,#ffad00 261.5px,#ffa600 264.4px,#ffbc00 267.2px,#ffc500 268.2px,#ffe300 270.1px,#fff300 271px,#ff0 271.7px,#e9ff16 272.9px,#deff21 273.5px,#adff52 275.7px,#a4ff5b 276.1px,#6aff95 278.6px,#6f9 278.8px,#10ffef 281.4px,#0ff 282px,#00c1ff 284.3px,#0076ff 287.1px,#0050ff 290px,#0068ff 292.8px,#0087ff 295.1px,#0076ff 295.6px,#0057ff 297px,#0039ff 298.1px,#0030ff 298.5px,#0043ff 300px,#0065ff 301.3px,#07f 301.5px,#00e1ff 302.5px,#0ff 302.6px,#2fd 302.7px,#ff0 303.2px,#ff9e00 303.4px,#ff1f00 303.8px,#f00 303.9px,#800000 304.5px,#800000 316.4px)"></i><i style="height:8.41px;background:linear-gradient(90deg,#a00000 0px,#a00000 0.9px,#b30000 0.9px,#b30000 5.2px,#ba0000 6.6px,#d00000 8px,#e00000 9.4px,#f00 10px,#ff0500 10.1px,#ff3500 10.8px,#ff5b00 11.5px,#ff9000 12.5px,#ffbe00 13px,#ff0 13.6px,#f3ff0c 13.7px,#b4ff4b 14.4px,#74ff8b 15.1px,#3effc1 15.8px,#15ffea 16.5px,#15ffea 20.1px,#1dffe2 20.8px,#48ffb7 22.2px,#5cffa3 22.9px,#97ff68 25px,#cfff30 27.9px,#b3ff4c 30.7px,#97ff68 32.1px,#1cffe3 33.8px,#0ff 34.1px,#00f7ff 34.2px,#00a3ff 35.2px,#0057ff 36.4px,#0023ff 37.1px,#0003ff 37.8px,#00f 37.8px,#0000b2 39.2px,#0000b2 52px,#0000da 52.7px,#0000f9 53.1px,#00f 53.2px,#0015ff 53.4px,#007bff 54.5px,#0094ff 54.8px,#00faff 55.9px,#0ff 56.2px,#0ff 58.4px,#34ffcb 59.1px,#74ff8b 59.8px,#caff35 60.5px,#edff12 60.8px,#ff0 60.9px,#ffb100 61.6px,#ff9000 61.9px,#ff3e00 62.6px,#ff1000 63px,#f00 63.3px,#ce0000 64px,#a60000 64.7px,#900 66.2px,#900 69.7px,#a20000 70.4px,#d50000 71.1px,#f00 71.6px,#f10 71.8px,#ff3100 72.1px,#ff9100 73px,#ffb100 73.2px,#ff0 74.1px,#fbff04 74.1px,#cdff32 75.4px,#b4ff4b 76.1px,#8aff75 78.2px,#83ff7c 78.9px,#aeff51 80.3px,#c3ff3c 81px,#ef1 82.5px,#ff0 83px,#fff700 83.2px,#ff9100 84.6px,#ff7c00 84.9px,#f00 86.7px,#ab0000 89.6px,#a80000 90.3px,#a80000 98.8px,#af0000 99.5px,#db0000 100.2px,#f00 100.7px,#ff0f00 100.9px,#f40 101.3px,#ff8b00 101.9px,#ffcb00 102.5px,#ff0 102.9px,#f6ff09 103px,#a9ff56 103.9px,#79ff86 104.5px,#25ffda 105.9px,#02fffd 106.6px,#02fffd 111.5px,#09fff6 112.3px,#67ff98 113.7px,#87ff78 114.1px,#f2ff0d 115.1px,#ff0 115.2px,#fffc00 115.2px,#ff8e00 116.1px,#ff7c00 116.2px,#f00 116.9px,#f30000 116.9px,#8a0000 117.5px,#800000 117.9px,#800000 140.8px,#c20000 141.6px,#f50000 141.8px,#f00 141.8px,#ff9200 142.6px,#ffdf00 143.5px,#ff0 144px,#f7ff08 144.1px,#8f7 146px,#2dffd2 148.8px,#2fd 149.8px,#0bfff4 152.6px,#02fffd 153.5px,#0ff 154.1px,#00f7ff 156.4px,#00f1ff 157.3px,#00e0ff 160.2px,#00a2ff 162.4px,#008cff 163px,#0062ff 164.3px,#0039ff 165.9px,#0025ff 166.8px,#0013ff 168.7px,#0013ff 169.3px,#002eff 171.5px,#0069ff 174.4px,#009cff 177.2px,#0af 180.1px,#00a1ff 182.9px,#00bcff 185.2px,#00cbff 185.8px,#0ff 187.6px,#01fffe 187.6px,#29ffd6 188.6px,#69ff96 190.1px,#8cff73 191.4px,#a5ff5a 192.4px,#d0ff2f 194.3px,#e5ff1a 195.2px,#feff01 197.1px,#ff0 197.2px,#fff500 198.1px,#fe0 199.6px,#ffe900 200.9px,#ffec00 201.9px,#fff700 203.4px,#ff0 203.7px,#f3ff0c 204.1px,#cfff30 205.3px,#acff53 206px,#5fffa0 207.2px,#3bffc4 207.5px,#0ff 208.1px,#00c3ff 208.7px,#0024ff 209.8px,#00f 210.2px,#00f 210.2px,#0000bf 211.3px,#0000b2 211.7px,#0000b2 230.3px,#0000bf 231.2px,#0000e5 232.2px,#00f 232.7px,#0015ff 233.1px,#0048ff 234.1px,#0074ff 235px,#0090ff 236px,#008eff 236.9px,#006eff 237.9px,#0043ff 238.8px,#0024ff 239.4px,#00f 240.2px,#0000ea 240.7px,#0000e2 242.6px,#0000f3 243.5px,#00f 243.9px,#0017ff 244.5px,#003cff 245.1px,#00b2ff 246.4px,#00d2ff 246.8px,#0ff 247.5px,#32ffcd 248.3px,#48ffb7 248.7px,#8dff72 250.2px,#b0ff4f 251.5px,#d3ff2c 253px,#f4ff0b 254.9px,#ff0 255.5px,#fff900 255.9px,#ffe300 257.8px,#ffd800 258.7px,#ffc700 260.6px,#ffc200 261.5px,#ffc400 264.4px,#ffdc00 267.2px,#ffe700 268.2px,#ff0 269.8px,#fbff04 270.1px,#edff12 271px,#cfff30 272.9px,#c4ff3b 273.5px,#97ff68 275.7px,#8eff71 276.1px,#56ffa9 278.6px,#52ffad 278.8px,#08fff7 281.4px,#0ff 281.8px,#0cf 284.3px,#008dff 287.1px,#0067ff 290px,#0073ff 292.8px,#008dff 295.1px,#0087ff 295.6px,#0087ff 297px,#0085ff 298.1px,#0086ff 298.5px,#00a9ff 300px,#00e5ff 301.3px,#00f5ff 301.5px,#0ff 301.6px,#60ff9f 302.5px,#8bff74 302.7px,#ff0 303px,#ff5300 303.4px,#f00 303.7px,#d20000 303.8px,#800000 304.5px,#800000 316.4px)"></i><i style="height:8.41px;background:linear-gradient(90deg,#bf0000 0px,#bf0000 0.9px,#bc0000 0.9px,#bc0000 6.6px,#c00 8px,#e50000 9.4px,#f00 9.9px,#ff0f00 10.1px,#ff3800 10.8px,#ff6b00 12px,#ff8900 12.5px,#ffe500 13.4px,#ff0 13.6px,#faff05 13.7px,#94ff6b 14.8px,#7bff84 15.1px,#25ffda 16.2px,#12ffed 16.5px,#04fffb 17.9px,#0ff 18.7px,#00f7ff 20.1px,#00f7ff 20.8px,#0ff 21.2px,#2fd 22.9px,#4bffb4 25px,#6fff90 27.1px,#76ff89 27.9px,#56ffa9 30px,#3cffc3 32.1px,#0ff 33.1px,#00e1ff 33.5px,#00cfff 33.8px,#0064ff 35.2px,#00f 36.9px,#0000f7 37.1px,#0000e1 37.8px,#0000b7 39.2px,#0000b7 49.1px,#0000c6 50.6px,#0000d5 52px,#0000e8 52.3px,#00f 52.6px,#0023ff 53.1px,#0078ff 54.1px,#0097ff 54.5px,#0ff 55.9px,#0ff 56.9px,#18ffe7 58.4px,#78ff87 59.3px,#a0ff5f 59.8px,#f9ff06 60.5px,#ff0 60.5px,#ffe100 60.8px,#ff8200 61.6px,#ff6400 61.9px,#f00 62.9px,#ef0000 63px,#de0000 63.3px,#900 64.7px,#900 70.4px,#c20000 71.1px,#f50000 71.8px,#f00 71.9px,#ff4100 72.5px,#ff7100 73px,#ffc000 73.7px,#fff000 74.1px,#ff0 74.4px,#e9ff16 74.8px,#b5ff4a 76.1px,#a3ff5c 76.8px,#7aff85 78.9px,#87ff78 79.6px,#b0ff4f 81px,#c5ff3a 81.8px,#f7ff08 83.2px,#ff0 83.3px,#ffd400 83.9px,#ff8a00 84.9px,#ff5000 85.7px,#ff0a00 86.7px,#f00 87px,#ed0000 87.4px,#a00 89.6px,#a60000 90.3px,#a60000 99.5px,#f00 100.9px,#ff7d00 101.9px,#ff8c00 102px,#fffc00 103px,#ff0 103.1px,#f5ff0a 103.2px,#84ff7b 104.5px,#72ff8d 104.7px,#04fffb 106.6px,#0ff 107px,#0ff 112.3px,#70ff8f 113.8px,#85ff7a 114.1px,#e5ff1a 114.9px,#ff0 115.2px,#fff700 115.2px,#ffac00 115.8px,#ff6e00 116.2px,#f00 116.8px,#dc0000 116.9px,#800000 117.5px,#800000 140.8px,#850000 141.6px,#b80000 141.8px,#f00 142.1px,#ff8100 142.6px,#ffd100 143.5px,#ff0 144.1px,#feff01 144.1px,#80ff7f 146px,#1bffe4 148.8px,#14ffeb 149.8px,#01fffe 152.6px,#0ff 152.7px,#00f6ff 153.5px,#00dbff 156.4px,#00cfff 157.3px,#00abff 160.2px,#006eff 162.4px,#005eff 163px,#04f 164.3px,#0028ff 165.9px,#001eff 166.8px,#000dff 168.7px,#0010ff 169.3px,#001bff 171.5px,#004fff 174.4px,#0082ff 177.2px,#009aff 180.1px,#009aff 182.9px,#00b3ff 185.2px,#00c5ff 185.8px,#0ff 187.6px,#0ff 187.6px,#30ffcf 188.6px,#7eff81 190.1px,#a3ff5c 191.4px,#bdff42 192.4px,#e7ff18 194.3px,#fdff02 195.2px,#ff0 195.5px,#fff000 197.1px,#ffe700 198.1px,#ffe600 199.6px,#ffe600 200.9px,#ffef00 201.9px,#fffe00 203.4px,#ff0 203.4px,#e2ff1d 204.1px,#b5ff4a 205.3px,#8f7 206px,#42ffbd 207.2px,#1cffe3 207.5px,#0ff 207.8px,#00a8ff 208.7px,#0029ff 209.8px,#00f 210.2px,#00f 210.2px,#0000c5 211.3px,#0000b2 211.7px,#0000b2 230.3px,#0000b4 231.2px,#0000da 232.2px,#00f 233.1px,#0002ff 233.1px,#002fff 234.1px,#005cff 235px,#006fff 236px,#0081ff 236.9px,#0067ff 237.9px,#004cff 238.8px,#0034ff 239.4px,#00f 240.7px,#0000fd 240.7px,#0000f1 242.6px,#00f 243.1px,#000bff 243.5px,#0025ff 244.5px,#004bff 245.1px,#00a7ff 246.4px,#00bfff 246.8px,#0ff 247.8px,#1cffe3 248.3px,#30ffcf 248.7px,#81ff7e 250.2px,#a4ff5b 251.5px,#cdff32 253px,#ef1 254.9px,#ff0 255.8px,#ff0 255.9px,#ffed00 257.8px,#ffe400 258.7px,#ffdb00 260.6px,#ffd700 261.5px,#ffe300 264.4px,#fffc00 267.2px,#ff0 267.5px,#f6ff09 268.2px,#dcff23 270.1px,#cfff30 271px,#b5ff4a 272.9px,#abff54 273.5px,#82ff7d 275.7px,#79ff86 276.1px,#42ffbd 278.6px,#3dffc2 278.8px,#01fffe 281.4px,#0ff 281.5px,#00d8ff 284.3px,#00a4ff 287.1px,#007dff 290px,#007eff 292.8px,#0093ff 295.1px,#0097ff 295.6px,#00b7ff 297px,#00d1ff 298.1px,#0df 298.5px,#0ff 299.5px,#10ffef 300px,#6f9 301.3px,#73ff8c 301.5px,#deff21 302.5px,#f5ff0a 302.7px,#ff0 302.7px,#ff0700 303.4px,#f00 303.4px,#870000 303.8px,#800000 304.5px,#800000 316.4px)"></i><i style="height:8.41px;background:linear-gradient(90deg,#c80000 0px,#c80000 0.9px,#d00000 0.9px,#d00000 6.6px,#d80000 8px,#fe0000 9.4px,#f00 9.4px,#ff2000 10.1px,#f40 10.8px,#ff7500 12px,#ff9d00 12.5px,#fff200 13.4px,#ff0 13.5px,#f0ff0f 13.7px,#8aff75 14.8px,#71ff8e 15.1px,#13ffec 16.2px,#02fffd 16.5px,#0ff 16.6px,#00d6ff 17.9px,#00b1ff 20.1px,#00b1ff 20.8px,#00c6ff 22.9px,#00dbff 25px,#00faff 27.1px,#00f4ff 27.9px,#00c8ff 30px,#00acff 32.1px,#0073ff 33.5px,#0069ff 33.8px,#0029ff 35.2px,#00f 36.4px,#0000e6 37.1px,#0000d7 37.8px,#0000c1 39.2px,#0000c1 49.1px,#00e 50.6px,#00f 51px,#0020ff 52px,#0032ff 52.3px,#006cff 53.1px,#00baff 54.1px,#00caff 54.5px,#0ff 55.9px,#0ff 56.9px,#4affb5 58.4px,#baff45 59.3px,#e6ff19 59.8px,#ff0 60px,#ffc400 60.5px,#ffa200 60.8px,#ff4300 61.6px,#ff2b00 61.9px,#f00 62.4px,#ce0000 63px,#bd0000 63.3px,#900 64.7px,#900 70.4px,#ae0000 71.1px,#e10000 71.8px,#f00 72.2px,#ff2100 72.5px,#ff5100 73px,#ffa100 73.7px,#ffd100 74.1px,#ff0 74.7px,#f4ff0b 74.8px,#b9ff46 76.1px,#9eff61 76.8px,#6dff92 78.9px,#6bff94 79.6px,#90ff6f 81px,#a3ff5c 81.8px,#e6ff19 83.2px,#ff0 83.5px,#ffe900 83.9px,#ffa200 84.9px,#ff6700 85.7px,#ff1f00 86.7px,#f00 87.3px,#f60000 87.4px,#b30000 89.6px,#a60000 90.3px,#a60000 99.5px,#f00 100.9px,#ff7600 101.9px,#ff8600 102px,#fff600 103px,#ff0 103.1px,#faff05 103.2px,#8dff72 104.5px,#78ff87 104.7px,#0efff1 106.6px,#0ff 107px,#0ff 112.3px,#7f8 113.8px,#92ff6d 114.1px,#f2ff0d 114.9px,#ff0 115px,#ffe600 115.2px,#ff9600 115.8px,#ff4800 116.2px,#f00 116.6px,#af0000 116.9px,#800000 117.5px,#800000 141.6px,#f00 142.3px,#ff3b00 142.6px,#f90 144.1px,#ff0 144.9px,#f2ff0d 145px,#aeff51 146px,#93ff6c 146.5px,#46ffb9 148.4px,#39ffc6 148.8px,#1fffe0 151.1px,#14ffeb 152.6px,#06fff9 154.1px,#0ff 154.7px,#00edff 156.4px,#00e0ff 157.3px,#00beff 160.2px,#00b6ff 160.6px,#0072ff 163px,#06f 163.6px,#002bff 165.9px,#0024ff 166.2px,#0003ff 168.7px,#0001ff 169.3px,#0004ff 171.5px,#000eff 172.5px,#0029ff 174.4px,#0043ff 176.3px,#0054ff 177.2px,#006aff 179.1px,#007eff 180.1px,#0092ff 181.4px,#00a9ff 182.9px,#0bf 183.7px,#00deff 185.2px,#00faff 185.9px,#0ff 186.1px,#31ffce 187.6px,#5effa1 188.6px,#a0ff5f 190.1px,#c4ff3b 191.4px,#d9ff26 192.4px,#fdff02 194.3px,#ff0 194.4px,#ffef00 195.2px,#ffde00 197.1px,#ffda00 198.1px,#ffdf00 200px,#ffe300 200.9px,#fffb00 202.8px,#ff0 203px,#f9ff06 203.4px,#acff53 205.3px,#3bffc4 207.2px,#19ffe6 207.5px,#0ff 207.8px,#00b0ff 208.7px,#06f 209.4px,#0019ff 210.2px,#00f 210.6px,#0000d5 211.3px,#0000c3 211.7px,#0000b2 213.2px,#0000b2 231.2px,#0000cf 232.2px,#0000f5 233.1px,#00f 233.3px,#0021ff 234.1px,#0046ff 235px,#005aff 236px,#06f 236.9px,#0052ff 237.9px,#003bff 238.8px,#001cff 239.8px,#0002ff 240.7px,#00f 241.2px,#0000fe 241.6px,#00f 242px,#0003ff 242.6px,#001eff 243.5px,#003cff 244.5px,#07f 245.4px,#00b3ff 246.4px,#0ff 247.7px,#0ff 247.7px,#20ffdf 248.3px,#80ff80 250.2px,#c9ff36 253px,#f5ff0a 255.9px,#ff0 256.9px,#ffec00 258.7px,#ffe300 261.5px,#fff700 264.4px,#ff0 265.3px,#ef1 267.2px,#c8ff37 270.1px,#a5ff5a 272.9px,#75ff8a 275.7px,#40ffbf 278.6px,#07fff8 281.4px,#0ff 282px,#00e5ff 284.3px,#00d7ff 285.2px,#00beff 287.1px,#00abff 289px,#00a2ff 290px,#00a5ff 292.8px,#0bf 295.6px,#00c6ff 296.2px,#00f2ff 298.1px,#00fdff 298.5px,#0ff 298.5px,#37ffc8 300px,#4effb1 300.4px,#9bff64 301.5px,#c1ff3e 301.9px,#ff0 302.3px,#ffc500 302.7px,#ff0d00 303.2px,#f00 303.3px,#800000 303.8px,#800000 316.4px)"></i><i style="height:8.41px;background:linear-gradient(90deg,#d10000 0px,#d10000 0.9px,#e40000 0.9px,#e40000 6.6px,#e50000 8px,#f00 8.7px,#ff1800 9.4px,#ff3200 10.1px,#ff5000 10.8px,#ff7f00 12px,#ffb100 12.5px,#fffe00 13.4px,#ff0 13.4px,#e6ff19 13.7px,#80ff7f 14.8px,#67ff98 15.1px,#01fffe 16.2px,#0ff 16.2px,#00f1ff 16.5px,#00a8ff 17.9px,#006aff 20.1px,#006aff 20.8px,#006bff 22.9px,#006cff 25px,#0086ff 27.1px,#0074ff 27.9px,#003bff 30px,#001dff 32.1px,#0006ff 33.5px,#0002ff 33.8px,#00f 34px,#00e 35.2px,#0000d5 37.1px,#0000cd 37.8px,#0000cb 39.2px,#0000cb 49.1px,#00f 50.1px,#0017ff 50.6px,#006aff 52px,#007bff 52.3px,#00b6ff 53.1px,#00fbff 54.1px,#00fcff 54.5px,#0ff 55.9px,#0ff 56.9px,#7dff82 58.4px,#fbff04 59.3px,#ff0 59.4px,#ffd300 59.8px,#ff8300 60.5px,#ff6300 60.8px,#ff0400 61.6px,#f00 61.7px,#f10000 61.9px,#ac0000 63px,#9b0000 63.3px,#900 64.7px,#900 70.4px,#9a0000 71.1px,#cd0000 71.8px,#f00 72.5px,#ff0200 72.5px,#ff3200 73px,#ff8100 73.7px,#ffb100 74.1px,#ff0 74.8px,#feff01 74.8px,#bdff42 76.1px,#9f6 76.8px,#60ff9f 78.9px,#4effb1 79.6px,#70ff8f 81px,#81ff7e 81.8px,#d5ff2a 83.2px,#ff0 83.9px,#fffe00 83.9px,#ffb900 84.9px,#ff7e00 85.7px,#ff3400 86.7px,#f00 87.4px,#fe0000 87.4px,#bc0000 89.6px,#a60000 90.3px,#a60000 99.5px,#f00 100.9px,#ff7000 101.9px,#ff8000 102px,#ffef00 103px,#ff0 103.2px,#ff0 103.2px,#96ff69 104.5px,#7fff80 104.7px,#17ffe8 106.6px,#0ff 107px,#0ff 112.3px,#7fff80 113.8px,#9fff60 114.1px,#feff01 114.9px,#ff0 115px,#ffd500 115.2px,#ff8100 115.8px,#f20 116.2px,#f00 116.4px,#820000 116.9px,#800000 117.5px,#800000 141.6px,#ef0000 142.6px,#f00 143px,#ff2700 144.1px,#ffd300 145px,#ff0 145.6px,#e2ff1d 146px,#beff41 146.5px,#67ff98 148.4px,#5cffa3 148.8px,#37ffc8 151.1px,#2bffd4 152.6px,#1dffe2 154.1px,#04fffb 156.4px,#0ff 156.7px,#00f7ff 157.3px,#00daff 160.2px,#00d4ff 160.6px,#008eff 163px,#0080ff 163.6px,#0031ff 165.9px,#0025ff 166.2px,#00f 168.3px,#0000f7 168.7px,#0000f0 169.3px,#0000ea 171.5px,#00e 172.5px,#00f 174.3px,#0001ff 174.4px,#0014ff 176.3px,#0025ff 177.2px,#003fff 179.1px,#0061ff 180.1px,#008bff 181.4px,#0bf 182.9px,#00d6ff 183.7px,#0ff 184.8px,#0efff1 185.2px,#31ffce 185.9px,#68ff97 187.6px,#90ff6f 188.6px,#c5ff3a 190.1px,#e6ff19 191.4px,#f6ff09 192.4px,#ff0 193px,#ffec00 194.3px,#fd0 195.2px,#fc0 197.1px,#ffce00 198.1px,#ffd700 200px,#ffe100 200.9px,#fffc00 202.8px,#ff0 202.9px,#f2ff0d 203.4px,#a4ff5b 205.3px,#36ffc9 207.2px,#19ffe6 207.5px,#0ff 207.9px,#0bf 208.7px,#007aff 209.4px,#0034ff 210.2px,#00f 211px,#0000e6 211.3px,#0000d5 211.7px,#0000b2 213.2px,#0000b2 231.2px,#0000c3 232.2px,#0000e9 233.1px,#00f 233.6px,#0013ff 234.1px,#0032ff 235px,#0045ff 236px,#004aff 236.9px,#003bff 237.9px,#0029ff 238.8px,#01f 239.8px,#0004ff 240.7px,#0004ff 241.6px,#0014ff 242.6px,#0031ff 243.5px,#05f 244.5px,#008aff 245.4px,#00c1ff 246.4px,#0ff 247.5px,#0afff5 247.7px,#27ffd8 248.3px,#80ff80 250.2px,#c5ff3a 253px,#e9ff16 255.9px,#ff0 257.7px,#fff400 258.7px,#fe0 261.5px,#ff0 263.3px,#f5ff0a 264.4px,#dbff24 267.2px,#b5ff4a 270.1px,#96ff69 272.9px,#6aff95 275.7px,#40ffbf 278.6px,#0efff1 281.4px,#0ff 282.9px,#00f2ff 284.3px,#00e7ff 285.2px,#00d8ff 287.1px,#00cdff 289px,#00c9ff 290px,#00cfff 292.8px,#00e0ff 295.6px,#00e7ff 296.2px,#0ff 297.4px,#10ffef 298.1px,#19ffe6 298.5px,#57ffa8 300px,#6cff93 300.4px,#b9ff46 301.5px,#daff25 301.9px,#ff0 302.1px,#ff8400 302.7px,#f00 303.1px,#d30000 303.2px,#800000 303.8px,#800000 316.4px)"></i><i style="height:8.41px;background:linear-gradient(90deg,#d90000 0px,#d90000 0.9px,#ef0000 0.9px,#ef0000 7.3px,#f80000 8px,#f00 8.2px,#ff2100 9.1px,#ff4600 10.1px,#ff6200 10.8px,#ff9f00 12px,#ffcf00 12.5px,#ff0 13.1px,#e2ff1d 13.4px,#afff50 14px,#63ff9c 14.8px,#30ffcf 15.4px,#0ff 15.9px,#00e2ff 16.2px,#00bdff 16.8px,#0080ff 17.9px,#0064ff 18.6px,#04f 20.1px,#003bff 22.2px,#003bff 25px,#004bff 27.1px,#001bff 30px,#00f 33px,#0000fa 33.5px,#0000f0 34.9px,#0000e9 37.8px,#0000fc 39.9px,#00f 40.2px,#0019ff 42px,#0031ff 44.9px,#003fff 47.7px,#003fff 49.1px,#006fff 50.6px,#00afff 52.3px,#00e0ff 53.4px,#0ff 53.9px,#10ffef 54.1px,#30ffcf 55.5px,#5fffa0 56.9px,#cfff30 58.1px,#ecff13 58.4px,#ff0 58.5px,#ffb700 59.1px,#ff9b00 59.3px,#ff3700 60.5px,#f00 61.1px,#f70000 61.2px,#d90000 61.6px,#900 63.3px,#900 71.1px,#d90000 72.5px,#f00 72.9px,#ff4800 73.7px,#ff6400 74px,#ffc400 74.8px,#ffd900 75.1px,#ff0 75.6px,#d6ff29 76.1px,#abff54 76.8px,#7fff80 77.8px,#4fb 79.6px,#4fb 80.3px,#5fa 81.8px,#85ff7a 83.2px,#a2ff5d 83.9px,#f8ff07 85.7px,#ff0 85.9px,#fff700 86px,#ff9b00 87.4px,#ff8100 88.1px,#ff3500 89.6px,#ff0f00 90.3px,#f00 90.7px,#f70000 91px,#c70000 92.8px,#b40000 94.5px,#b40000 99.5px,#f00 100.9px,#ff7600 102px,#ff9300 102.3px,#ffec00 103.2px,#ff0 103.4px,#e2ff1d 103.7px,#9bff64 104.7px,#6bff94 105.6px,#2bffd4 107px,#21ffde 108px,#30ffcf 110.8px,#54ffab 112.3px,#75ff8a 112.7px,#d5ff2a 113.8px,#f3ff0c 114.1px,#ff0 114.2px,#ffa000 114.9px,#ff2000 115.8px,#f00 116px,#800000 116.9px,#800000 141.6px,#a30000 142.6px,#b50000 144.1px,#f00 144.4px,#ff9a00 145px,#ffe800 146px,#ff0 146.3px,#eaff15 146.5px,#89ff76 148.4px,#7fff80 148.8px,#4effb1 151.1px,#42ffbd 152.6px,#35ffca 154.1px,#1affe5 156.4px,#0ffff0 157.3px,#0ff 159px,#00f5ff 160.2px,#00f1ff 160.6px,#00a9ff 163px,#009aff 163.6px,#0036ff 165.9px,#0026ff 166.2px,#00f 167.9px,#0000ec 168.7px,#0000e0 169.3px,#0000d2 171.5px,#0000ce 172.5px,#0000d8 174.4px,#0000e3 176.3px,#0000f4 177.2px,#00f 177.9px,#0014ff 179.1px,#0043ff 180.1px,#0083ff 181.4px,#0cf 182.9px,#00f2ff 183.7px,#0ff 183.9px,#3effc1 185.2px,#6f9 185.9px,#9fff60 187.6px,#c1ff3e 188.6px,#e9ff16 190.1px,#ff0 191px,#fff600 191.4px,#ffeb00 192.4px,#ffd600 194.3px,#fc0 195.2px,#fb0 197.1px,#ffc100 198.1px,#ffd000 200px,#ffde00 200.9px,#fffe00 202.8px,#ff0 202.8px,#ebff14 203.4px,#9dff62 205.3px,#31ffce 207.2px,#19ffe6 207.5px,#0ff 207.9px,#00c7ff 208.7px,#008fff 209.4px,#004fff 210.2px,#00f 211.2px,#0000f7 211.3px,#0000e7 211.7px,#0000b2 213.2px,#0000b2 231.2px,#0000b8 232.2px,#0000de 233.1px,#00f 233.9px,#0006ff 234.1px,#001dff 235px,#0030ff 236px,#002dff 236.9px,#0024ff 237.9px,#0016ff 238.8px,#0005ff 239.8px,#0005ff 240.7px,#000aff 241.6px,#0025ff 242.6px,#04f 243.5px,#006dff 244.5px,#009dff 245.4px,#00cfff 246.4px,#0ff 247.3px,#15ffea 247.7px,#2effd1 248.3px,#80ff80 250.2px,#c1ff3e 253px,#deff21 255.9px,#ff0 258.4px,#fffb00 258.7px,#fffa00 261.5px,#ff0 262px,#e2ff1d 264.4px,#c8ff37 267.2px,#a2ff5d 270.1px,#87ff78 272.9px,#5fffa0 275.7px,#40ffbf 278.6px,#16ffe9 281.4px,#0ff 284.3px,#0ff 284.3px,#00f7ff 285.2px,#00f2ff 287.1px,#00efff 289px,#00f0ff 290px,#00f8ff 292.8px,#0ff 294.4px,#06fff9 295.6px,#0afff5 296.2px,#2cffd3 298.1px,#3fc 298.5px,#78ff87 300px,#8bff74 300.4px,#d7ff28 301.5px,#f3ff0c 301.9px,#ff0 301.9px,#ff4300 302.7px,#f00 302.9px,#9a0000 303.2px,#800000 303.8px,#800000 316.4px)"></i><i style="height:8.41px;background:linear-gradient(90deg,#d90000 0px,#d90000 0.9px,#f90000 0.9px,#f90000 7.3px,#f00 7.5px,#ff0d00 8px,#ff3500 9.1px,#ff5900 10.1px,#ff7500 10.8px,#ffc100 12px,#ffed00 12.5px,#ff0 12.7px,#c4ff3b 13.4px,#91ff6e 14px,#45ffba 14.8px,#12ffed 15.4px,#0ff 15.6px,#00c4ff 16.2px,#0096ff 16.8px,#0058ff 17.9px,#0035ff 18.6px,#0020ff 20.1px,#000eff 22.2px,#000eff 25px,#0014ff 27.1px,#0002ff 30px,#00f 30.6px,#0000f5 33.5px,#0000f1 34.9px,#00f 36.8px,#0008ff 37.8px,#002fff 39.9px,#006aff 42px,#009bff 44.9px,#00b8ff 47.7px,#00b8ff 49.1px,#00caff 50.6px,#00e1ff 52.3px,#00f4ff 53.4px,#0ff 53.6px,#21ffde 54.1px,#62ff9d 55.5px,#c4ff3b 56.9px,#ff0 57.5px,#ffc100 58.1px,#ff9f00 58.4px,#f40 59.1px,#ff3100 59.3px,#f00 60.1px,#e80000 60.5px,#bc0000 61.2px,#b10000 61.6px,#900 63.3px,#900 71.1px,#b10000 72.5px,#f00 73.5px,#ff0e00 73.7px,#ff2500 74px,#ff8500 74.8px,#ffa000 75.1px,#ff0 75.9px,#f0ff0f 76.1px,#bfff40 76.8px,#7fff80 77.8px,#3bffc4 79.6px,#29ffd6 80.3px,#27ffd8 81.8px,#31ffce 83.2px,#40ffbf 83.9px,#6aff95 85.7px,#71ff8e 86px,#beff41 87.4px,#df2 88.1px,#ff0 88.6px,#ffb400 89.6px,#ff7e00 90.3px,#ff4d00 91px,#f00 92.4px,#ea0000 92.8px,#c30000 94.5px,#c30000 99.5px,#f00 100.9px,#ff6c00 102px,#ff8700 102.3px,#ffd800 103.2px,#ff0 103.6px,#f4ff0b 103.7px,#b7ff48 104.7px,#8f7 105.6px,#59ffa6 107px,#45ffba 108px,#62ff9d 110.8px,#adff52 112.3px,#cf3 112.7px,#ff0 113.3px,#ffce00 113.8px,#ffb300 114.1px,#ff3b00 114.9px,#f00 115.3px,#b00 115.8px,#800000 116.9px,#800000 144.1px,#f00 144.6px,#ff5800 145px,#ffc400 146.5px,#ff0 147.8px,#feff01 147.9px,#d8ff27 148.4px,#c9ff36 148.8px,#98ff67 150.7px,#90ff6f 151.1px,#79ff86 153.5px,#75ff8a 154.1px,#51ffae 157.3px,#4fb 160.6px,#37ffc8 161.1px,#02fffd 163.6px,#0ff 163.7px,#00f3ff 164px,#0083ff 166.2px,#004fff 167.8px,#000bff 169.1px,#0002ff 169.3px,#00f 169.3px,#0000d7 170.4px,#0000bd 172.5px,#0000c8 176.3px,#0000f3 179.1px,#00f 179.4px,#0060ff 181.4px,#0cf 183.7px,#0ff 184.8px,#38ffc7 185.9px,#4effb1 186.7px,#90ff6f 188.6px,#cbff34 190.5px,#e9ff16 191.4px,#f5ff0a 192px,#ff0 192.4px,#ffe400 193.5px,#ffd600 194.3px,#ffc500 195.2px,#ffab00 197.1px,#ffbc00 200px,#ffeb00 202.8px,#ff0 203.3px,#b4ff4b 205.3px,#a1ff5e 205.6px,#3fffc0 207.5px,#28ffd7 207.9px,#0ff 208.5px,#00c1ff 209.4px,#00a3ff 209.8px,#002cff 211.3px,#001bff 211.7px,#00f 212.3px,#0000d6 213.2px,#0000d2 213.6px,#0000be 215.5px,#0000b2 217.4px,#0000b2 229.3px,#0000bc 231.2px,#0000bf 232.2px,#0000e3 233.1px,#00f 233.9px,#0007ff 234.1px,#002cff 236px,#0027ff 237.9px,#001fff 238.8px,#0016ff 239.8px,#0026ff 241.6px,#0064ff 243.5px,#008eff 244.5px,#00b7ff 245.4px,#0ff 247px,#0ffff0 247.3px,#21ffde 247.7px,#80ff80 250.2px,#b9ff46 253px,#d2ff2d 255.9px,#deff21 256.8px,#f4ff0b 258.7px,#f5ff0a 260.6px,#f4ff0b 261.5px,#cfff30 264.4px,#b6ff49 267.2px,#abff54 268.2px,#92ff6d 270.1px,#81ff7e 272px,#79ff86 272.9px,#5fa 275.7px,#3bffc4 278.6px,#2fffd0 279.5px,#1affe5 281.4px,#0ffff0 283.3px,#06fff9 285.2px,#08fff7 287.1px,#0cfff3 289px,#1fe 290px,#23ffdc 292.8px,#31ffce 295.6px,#36ffc9 296.2px,#58ffa7 298.1px,#61ff9e 298.5px,#aeff51 300px,#c5ff3a 300.4px,#ff0 301.1px,#ffc400 301.9px,#f00 302.7px,#800000 303.2px,#800000 316.4px)"></i><i style="height:8.41px;background:linear-gradient(90deg,#d90000 0px,#d90000 0.9px,#f00 0.9px,#ff0800 0.9px,#ff0800 5.9px,#f10 7.3px,#ff2900 8px,#ff5100 9.1px,#ff7600 10.1px,#ff8f00 10.8px,#ffdb00 12px,#ff0 12.4px,#f7ff08 12.5px,#af5 13.4px,#7f8 14px,#2bffd4 14.8px,#0ff 15.3px,#00f7ff 15.4px,#0af 16.2px,#0079ff 16.8px,#0038ff 17.9px,#0016ff 18.6px,#00f 20.8px,#00f 20.8px,#0000f2 22.2px,#0000f2 32.1px,#0000f6 34.9px,#00f 35.4px,#001cff 37.1px,#0028ff 37.8px,#004dff 39.2px,#005fff 39.9px,#0af 42px,#00e0ff 44.9px,#00f1ff 46.3px,#0ff 47.5px,#03fffc 47.7px,#04fffb 50.6px,#0afff5 53.4px,#6eff91 55.1px,#89ff76 55.5px,#dfff20 56.5px,#ff0 56.9px,#fff700 56.9px,#ffa800 57.6px,#f70 58.1px,#ff2e00 58.6px,#f00 59px,#fb0000 59.1px,#b50000 60.5px,#900 61.2px,#900 72.5px,#c40000 73.2px,#f70000 74px,#f00 74px,#ff4300 74.7px,#ff7200 75.1px,#fc0 75.8px,#ffef00 76.1px,#ff0 76.3px,#caff35 76.9px,#8aff75 77.8px,#63ff9c 78.6px,#18ffe7 80.3px,#13ffec 80.6px,#0ff 82.1px,#00f5ff 82.9px,#00f2ff 83.2px,#00feff 85.3px,#0ff 85.4px,#08fff7 86px,#48ffb7 87.4px,#6aff95 88.1px,#e0ff1f 89.6px,#ff0 89.9px,#ffa400 91px,#ff8600 91.4px,#ff2400 92.8px,#ff1a00 93.1px,#f00 93.9px,#e80000 94.5px,#e50000 94.8px,#d00 96.7px,#df0000 98.8px,#e10000 99.5px,#f00 100.4px,#f10 100.9px,#ff8100 102.3px,#ffb900 103px,#fff000 103.7px,#ff0 104px,#c8ff37 105.2px,#b3ff4c 105.6px,#8f7 107.3px,#7f8 108px,#84ff7b 109.4px,#9bff64 110.8px,#b5ff4a 111.3px,#ff0 112.4px,#ffea00 112.7px,#ff5d00 114.1px,#ff3200 114.4px,#f00 114.8px,#800000 115.8px,#800000 144.1px,#f00 144.9px,#ff0c00 145px,#ff5200 146.5px,#ff7a00 147.9px,#ffad00 148.4px,#ffc900 148.8px,#ff0 150.7px,#ff0 150.7px,#f8ff07 151.1px,#deff21 153.5px,#d9ff26 154.1px,#bf4 157.3px,#c5ff3a 160.6px,#c0ff3f 161.1px,#b1ff4e 163.6px,#abff54 164px,#36ffc9 166.2px,#0ff 167.3px,#00e6ff 167.8px,#0061ff 169.1px,#004eff 169.3px,#00f 170.1px,#0000e5 170.4px,#0000b9 172.5px,#0000c0 176.3px,#0000dc 179.1px,#00f 180.2px,#0023ff 181.4px,#0069ff 183.7px,#00afff 185.9px,#00bdff 186.7px,#0ff 188.5px,#04fffb 188.6px,#60ff9f 190.5px,#90ff6f 191.4px,#a8ff57 192px,#faff05 193.5px,#ff0 193.6px,#ffe900 194.3px,#ffc700 195.2px,#ff9b00 197.1px,#ff9e00 200px,#ffc500 202.8px,#ff0 204.6px,#e8ff17 205.3px,#d8ff27 205.6px,#86ff79 207.5px,#73ff8c 207.9px,#0dfff2 209.4px,#0ff 209.6px,#00f0ff 209.8px,#007fff 211.3px,#006bff 211.7px,#001bff 213.2px,#0010ff 213.6px,#00f 214.1px,#0000d5 215.5px,#0000b2 217.4px,#0000b2 229.3px,#0000cf 231.2px,#0000d8 232.2px,#0000f6 233.1px,#00f 233.4px,#0013ff 234.1px,#0038ff 236px,#0040ff 237.9px,#0041ff 238.8px,#0041ff 239.8px,#0058ff 241.6px,#0092ff 243.5px,#00b6ff 244.5px,#00d8ff 245.4px,#0ff 246.5px,#20ffdf 247.3px,#2fffd0 247.7px,#80ff80 250.2px,#aeff51 253px,#c5ff3a 255.9px,#ceff31 256.8px,#dfff20 258.7px,#e2ff1d 260.6px,#deff21 261.5px,#bcff43 264.4px,#a5ff5a 267.2px,#9bff64 268.2px,#85ff7a 270.1px,#73ff8c 272px,#6bff94 272.9px,#4effb1 275.7px,#3fc 278.6px,#27ffd8 279.5px,#1affe5 281.4px,#13ffec 283.3px,#1fe 285.2px,#17ffe8 287.1px,#23ffdc 289px,#2affd5 290px,#4cffb3 292.8px,#63ff9c 295.6px,#6bff94 296.2px,#93ff6c 298.1px,#a2ff5d 298.5px,#f7ff08 300px,#ff0 300.1px,#ffe600 300.4px,#ff5200 301.9px,#f00 302.4px,#800000 303.2px,#800000 316.4px)"></i><i style="height:8.41px;background:linear-gradient(90deg,#e20000 0px,#e20000 0.9px,#f00 0.9px,#ff1c00 0.9px,#ff1c00 5.9px,#ff3900 7.3px,#ff5200 8px,#ff7a00 9.1px,#ff9e00 10.1px,#ffb500 10.8px,#ffec00 12px,#ff0 12.2px,#e3ff1c 12.5px,#96ff69 13.4px,#63ff9c 14px,#17ffe8 14.8px,#0ff 15.1px,#00e3ff 15.4px,#0096ff 16.2px,#006aff 16.8px,#0024ff 17.9px,#000fff 18.6px,#00f 20.2px,#0000f9 20.8px,#0000f2 22.2px,#0000f2 32.1px,#00f 34.7px,#0001ff 34.9px,#0039ff 37.1px,#004bff 37.8px,#07f 39.2px,#008bff 39.9px,#00d2ff 42px,#00f3ff 44.9px,#00feff 46.3px,#0ff 46.5px,#09fff6 47.7px,#0efff1 50.6px,#24ffdb 53.4px,#82ff7d 55.1px,#9fff60 55.5px,#ef1 56.5px,#ff0 56.7px,#ffe400 56.9px,#ff9500 57.6px,#ff6100 58.1px,#ff1800 58.6px,#f00 58.9px,#f20000 59.1px,#a80000 60.5px,#900 61.2px,#900 72.5px,#b00000 73.2px,#e30000 74px,#f00 74.3px,#ff2300 74.7px,#ff5300 75.1px,#ffa800 75.8px,#ffca00 76.1px,#ff0 76.6px,#e3ff1c 76.9px,#a3ff5c 77.8px,#70ff8f 78.6px,#15ffea 80.3px,#0afff5 80.6px,#0ff 81.1px,#00d5ff 82.9px,#00d3ff 83.2px,#00ceff 85.3px,#0df 86px,#0ff 86.9px,#14ffeb 87.4px,#36ffc9 88.1px,#94ff6b 89.6px,#ff0 90.9px,#fffb00 91px,#fd0 91.4px,#ff7d00 92.8px,#ff6e00 93.1px,#ff2c00 94.5px,#f20 94.8px,#ff0600 96.7px,#ff0d00 98.8px,#ff1400 99.5px,#ff3900 100.9px,#ff8400 102.3px,#fa0 103px,#ffcd00 103.7px,#fffe00 105.2px,#ff0 105.2px,#f1ff0e 105.6px,#cf3 107.3px,#bfff40 108px,#beff41 109.4px,#df2 110.8px,#f0ff0f 111.3px,#ff0 111.5px,#ffb800 112.7px,#ff0900 114.1px,#f00 114.2px,#d00 114.4px,#800000 115.8px,#800000 144.1px,#c00000 145px,#e00000 146.5px,#f20000 147.9px,#f00 148px,#ff3400 148.4px,#ff5d00 148.8px,#ff9800 150.7px,#ff9e00 151.1px,#ffbc00 153.5px,#ffc000 154.1px,#ffda00 157.3px,#ffb800 160.6px,#ffb500 161.1px,#ff9e00 163.6px,#ff9c00 164px,#ff0 165.8px,#e7ff18 166.2px,#7eff81 167.8px,#0ff 168.6px,#00b6ff 169.1px,#009aff 169.3px,#00f 170.3px,#0000f3 170.4px,#0000b6 172.5px,#0000b9 176.3px,#0000c6 179.1px,#0000e6 181.4px,#00f 183.2px,#0007ff 183.7px,#0028ff 185.9px,#002eff 186.7px,#07f 188.6px,#00f4ff 190.5px,#0ff 190.6px,#36ffc9 191.4px,#5bffa4 192px,#dbff24 193.5px,#ff0 194.2px,#fffc00 194.3px,#ffca00 195.2px,#ff8c00 197.1px,#ff8000 200px,#ffa000 202.8px,#ffe300 205.3px,#ffef00 205.6px,#ff0 206.1px,#cdff32 207.5px,#bfff40 207.9px,#59ffa6 209.4px,#3effc1 209.8px,#0ff 210.7px,#00d2ff 211.3px,#0bf 211.7px,#005fff 213.2px,#004cff 213.6px,#00f 215.1px,#0000ec 215.5px,#0000b2 217.4px,#0000b2 229.3px,#0000e2 231.2px,#0000f0 232.2px,#00f 232.7px,#0009ff 233.1px,#0020ff 234.1px,#0043ff 236px,#0059ff 237.9px,#0062ff 238.8px,#006cff 239.8px,#0089ff 241.6px,#00bfff 243.5px,#0df 244.5px,#00f8ff 245.4px,#0ff 245.7px,#31ffce 247.3px,#3cffc3 247.7px,#80ff80 250.2px,#a3ff5c 253px,#b7ff48 255.9px,#bfff40 256.8px,#cbff34 258.7px,#cfff30 260.6px,#c8ff37 261.5px,#a9ff56 264.4px,#94ff6b 267.2px,#8cff73 268.2px,#78ff87 270.1px,#65ff9a 272px,#5effa1 272.9px,#46ffb9 275.7px,#2affd5 278.6px,#20ffdf 279.5px,#1affe5 281.4px,#16ffe9 283.3px,#1dffe2 285.2px,#26ffd9 287.1px,#39ffc6 289px,#43ffbc 290px,#76ff89 292.8px,#95ff6a 295.6px,#a0ff5f 296.2px,#cdff32 298.1px,#e2ff1d 298.5px,#ff0 299px,#ffbe00 300px,#ff9300 300.4px,#f00 301.6px,#e00000 301.9px,#800000 303.2px,#800000 316.4px)"></i><i style="height:8.41px;background:linear-gradient(90deg,#f10000 0px,#f10000 0.9px,#f00 0.9px,#ff3100 0.9px,#ff3100 5.9px,#ff6100 7.3px,#ff7b00 8px,#ffa300 9.1px,#ffc700 10.1px,#ffdb00 10.8px,#fffd00 12px,#ff0 12px,#ceff31 12.5px,#82ff7d 13.4px,#4fffb0 14px,#02fffd 14.8px,#0ff 14.8px,#00ceff 15.4px,#0082ff 16.2px,#005bff 16.8px,#000fff 17.9px,#0007ff 18.6px,#00f 19.4px,#0000f3 20.8px,#0000f2 22.2px,#0000f2 32.1px,#00f 33.6px,#000cff 34.9px,#0056ff 37.1px,#006fff 37.8px,#00a1ff 39.2px,#00b7ff 39.9px,#00faff 42px,#0ff 43.3px,#06fff9 44.9px,#0bfff4 46.3px,#10ffef 47.7px,#18ffe7 50.6px,#3dffc2 53.4px,#97ff68 55.1px,#b5ff4a 55.5px,#fdff02 56.5px,#ff0 56.5px,#ffd100 56.9px,#ff8200 57.6px,#ff4b00 58.1px,#ff0300 58.6px,#f00 58.7px,#e90000 59.1px,#9b0000 60.5px,#900 61.2px,#900 72.5px,#9b0000 73.2px,#ce0000 74px,#f00 74.6px,#ff0400 74.7px,#f30 75.1px,#ff8400 75.8px,#ffa400 76.1px,#ff0 76.9px,#fcff03 76.9px,#bcff43 77.8px,#7eff81 78.6px,#13ffec 80.3px,#01fffe 80.6px,#0ff 80.7px,#00b6ff 82.9px,#00b3ff 83.2px,#009fff 85.3px,#00b3ff 86px,#00dfff 87.4px,#0ff 88.1px,#02fffd 88.1px,#49ffb6 89.6px,#acff53 91px,#c9ff36 91.4px,#ff0 92.2px,#ffd500 92.8px,#ffc200 93.1px,#ff6f00 94.5px,#ff5f00 94.8px,#ff2e00 96.7px,#ff3a00 98.8px,#ff4700 99.5px,#ff6100 100.9px,#f80 102.3px,#ff9b00 103px,#fa0 103.7px,#ffc600 105.2px,#ffce00 105.6px,#ffed00 107.3px,#fff600 108px,#ff0 108.8px,#f8ff07 109.4px,#ff0 109.7px,#ffdf00 110.8px,#ffd300 111.3px,#ff8500 112.7px,#f00 113.6px,#b40000 114.1px,#890000 114.4px,#800000 115.8px,#800000 147.9px,#fa0000 148.8px,#f00 149px,#ff3800 150.7px,#ff5c00 153.5px,#ff7500 157.3px,#ff3800 161.1px,#f00 163.7px,#fa0000 164px,#f00 164.1px,#ff7500 166.2px,#ffa200 166.8px,#fff200 167.8px,#ff0 167.8px,#a1ff5e 168.3px,#10ffef 169.1px,#0ff 169.2px,#00a1ff 169.6px,#0010ff 170.4px,#00f 170.8px,#0000f6 171px,#0000bc 172.3px,#0000b5 172.5px,#0000b2 173.8px,#0000b2 186.7px,#0000d7 187.6px,#0000fe 188.6px,#00f 188.6px,#002cff 189.2px,#0098ff 190.5px,#00b8ff 190.9px,#0ff 191.7px,#18ffe7 192px,#41ffbe 192.4px,#bdff42 193.5px,#d8ff27 193.9px,#ff0 194.5px,#ffcb00 195.2px,#fb0 195.6px,#ff7e00 197.1px,#ff7500 198.1px,#ff6400 200px,#ff7300 201.9px,#ff7c00 202.8px,#ffba00 205.6px,#fff900 207.9px,#ff0 208px,#e0ff1f 208.5px,#8f7 209.8px,#3dffc2 211px,#0afff5 211.7px,#0ff 211.9px,#00bcff 212.8px,#0089ff 213.6px,#003dff 214.7px,#000aff 215.5px,#00f 215.7px,#0000da 216.6px,#00b 217.4px,#0000b7 218.9px,#0000b6 221.8px,#0000b6 224.6px,#0000b7 227.4px,#0000ba 229.3px,#0000da 230.3px,#0000fa 231.2px,#00f 231.5px,#02f 233.1px,#0054ff 236px,#0086ff 238.8px,#0096ff 239.8px,#00b8ff 241.6px,#00e9ff 243.5px,#0ff 244.4px,#03fffc 244.5px,#41ffbe 247.3px,#7fff80 250.2px,#8f7 251.1px,#98ff67 253px,#a5ff5a 254.9px,#b1ff4e 256.8px,#b6ff49 258.7px,#bcff43 260.6px,#a9ff56 262.5px,#96ff69 264.4px,#89ff76 266.3px,#7cff83 268.2px,#69ff96 270.1px,#57ffa8 272px,#4fb 274.8px,#3effc1 275.7px,#1bffe4 279.5px,#1cffe3 283.3px,#31ffce 286.2px,#38ffc7 287.1px,#51ffae 289px,#5fffa0 290px,#89ff76 291.9px,#9eff61 292.8px,#b3ff4c 294.3px,#c6ff39 295.6px,#dfff20 296.6px,#ff0 297.7px,#fff500 298.1px,#ffdc00 298.5px,#ff7600 300px,#f40 300.4px,#f00 300.9px,#800000 301.9px,#800000 316.4px)"></i><i style="height:8.41px;background:linear-gradient(90deg,#ff0500 0px,#ff0500 0.9px,#ff4e00 0.9px,#ff4e00 3.7px,#ff6800 5.9px,#ffac00 8px,#ffeb00 10.1px,#ff0 10.7px,#d2ff2d 12px,#62ff9d 13.4px,#4bffb4 13.7px,#0ff 14.7px,#00f5ff 14.8px,#0af 15.8px,#008eff 16.2px,#0035ff 17.9px,#0028ff 19.3px,#0020ff 20.8px,#0020ff 30.7px,#02f 32.1px,#002dff 33.5px,#003eff 34.9px,#0053ff 35.7px,#0080ff 37.1px,#0096ff 37.8px,#00beff 39.2px,#00e2ff 40.6px,#0ff 42px,#01fffe 42px,#0dfff2 46.3px,#19ffe6 50.6px,#20ffdf 51.3px,#3effc1 53.4px,#49ffb6 53.7px,#94ff6b 55.1px,#a6ff59 55.4px,#fbff04 56.5px,#ff0 56.5px,#fff500 56.7px,#ff8000 57.6px,#f00 58.6px,#900 60.5px,#900 73.2px,#ba0000 74px,#ed0000 74.7px,#f00 74.8px,#ff3400 75.4px,#ff6400 75.8px,#ffb300 76.5px,#ffe600 76.9px,#ff0 77.2px,#e3ff1c 77.5px,#8f7 78.6px,#74ff8b 78.9px,#0ff 80.6px,#00b4ff 82.6px,#00acff 82.9px,#0093ff 84.9px,#0092ff 85.3px,#00c2ff 87.4px,#0ff 88.7px,#29ffd6 89.6px,#a9ff56 91.4px,#ff0 92.6px,#ffde00 93.1px,#ff8a00 94.8px,#ff5700 96.7px,#ff5f00 98.8px,#ff7000 100.2px,#ff7900 100.9px,#ff9f00 103px,#ffb300 104.5px,#ffbc00 105.2px,#ffd700 107.3px,#ffde00 108px,#ffec00 109.4px,#ffe000 110.1px,#ffba00 111.3px,#ff9d00 111.8px,#ff5600 112.7px,#f00 113.3px,#c50000 113.7px,#800000 114.4px,#800000 147.9px,#d40000 148.8px,#fe0000 150.7px,#f00 150.8px,#ff1800 153.5px,#ff2900 157.3px,#f00 161px,#fe0000 161.1px,#d40000 164px,#f00 165.1px,#ff2900 166.2px,#ff4900 166.8px,#ff9800 167.8px,#fff100 168.3px,#ff0 168.4px,#7bff84 169.1px,#0efff1 169.6px,#0ff 169.7px,#007bff 170.4px,#0049ff 171px,#00f 171.8px,#0000d1 172.3px,#0000c9 172.5px,#0000b2 173.8px,#0000b2 186.7px,#00c 187.6px,#0000f5 188.6px,#00f 188.7px,#001eff 189.2px,#008dff 190.5px,#00aeff 190.9px,#0ff 191.8px,#0ffff0 192px,#35ffca 192.4px,#b1ff4e 193.5px,#d0ff2f 193.9px,#ff0 194.5px,#ffc700 195.2px,#ffb100 195.6px,#ff7600 197.1px,#ff6400 198.1px,#ff5300 200px,#ff5700 201.9px,#ff6000 202.8px,#ff9400 205.6px,#ffcf00 207.9px,#ffed00 208.5px,#ff0 208.8px,#c3ff3c 209.8px,#81ff7e 211px,#4effb1 211.7px,#01fffe 212.8px,#0ff 212.9px,#00cdff 213.6px,#0081ff 214.7px,#0050ff 215.5px,#001aff 216.6px,#00f 217.2px,#0000f6 217.4px,#0000d9 218.9px,#00c 221.8px,#00c 224.6px,#0000d5 227.4px,#0000ec 229.3px,#00f 229.9px,#000eff 230.3px,#002dff 231.2px,#005aff 233.1px,#0089ff 236px,#00b1ff 238.8px,#00bfff 239.8px,#00dcff 241.6px,#0ff 243.3px,#05fffa 243.5px,#18ffe7 244.5px,#48ffb7 247.3px,#7cff83 250.2px,#85ff7a 251.1px,#95ff6a 253px,#a1ff5e 254.9px,#a6ff59 256.8px,#a5ff5a 258.7px,#a3ff5c 260.6px,#90ff6f 262.5px,#7fff80 264.4px,#72ff8d 266.3px,#63ff9c 268.2px,#50ffaf 270.1px,#4fb 272px,#37ffc8 274.8px,#35ffca 275.7px,#26ffd9 279.5px,#2fffd0 283.3px,#51ffae 286.2px,#5affa5 287.1px,#73ff8c 289px,#83ff7c 290px,#aeff51 291.9px,#c2ff3d 292.8px,#daff25 294.3px,#f5ff0a 295.6px,#ff0 296px,#fe0 296.6px,#ffb100 298.1px,#ff9800 298.5px,#ff3200 300px,#ff0700 300.4px,#f00 300.5px,#800000 301.9px,#800000 316.4px)"></i><i style="height:8.41px;background:linear-gradient(90deg,#ff4800 0px,#ff4800 0.9px,#ff6c00 0.9px,#ff6c00 3.7px,#ffa500 5.9px,#ffde00 8px,#ff0 9.4px,#f0ff0f 10.1px,#a0ff5f 12px,#40ffbf 13.4px,#2dffd2 13.7px,#0ff 14.4px,#00e9ff 14.8px,#00afff 15.8px,#009eff 16.2px,#0062ff 17.9px,#05f 19.3px,#0052ff 20.8px,#0052ff 30.7px,#0057ff 32.1px,#005fff 33.5px,#0075ff 34.9px,#0085ff 35.7px,#00abff 37.1px,#00bfff 37.8px,#00daff 39.2px,#00f4ff 40.6px,#0ff 41.8px,#02fffd 42px,#0dfff2 46.3px,#18ffe7 50.6px,#1cffe3 51.3px,#3cffc3 53.4px,#4fb 53.7px,#8eff71 55.1px,#9eff61 55.4px,#f7ff08 56.5px,#ff0 56.6px,#fffb00 56.7px,#ff8000 57.6px,#f00 58.6px,#900 60.5px,#900 73.2px,#a60000 74px,#d90000 74.7px,#f00 75.1px,#ff1400 75.4px,#f40 75.8px,#ff9400 76.5px,#ffc900 76.9px,#ff0 77.4px,#f4ff0b 77.5px,#92ff6d 78.6px,#7bff84 78.9px,#0ff 80.6px,#00abff 82.6px,#00a5ff 82.9px,#0087ff 84.9px,#0089ff 85.3px,#00a9ff 87.4px,#0ff 89.2px,#10ffef 89.6px,#90ff6f 91.4px,#ff0 92.9px,#fff200 93.1px,#ffb200 94.8px,#ff7f00 96.7px,#ff8200 98.8px,#ff8900 100.2px,#ff8f00 100.9px,#ffa600 103px,#ffb300 104.5px,#ffb800 105.2px,#ffc700 107.3px,#ffcb00 108px,#ffd600 109.4px,#ffd400 110.1px,#ffa600 111.3px,#ff8b00 111.8px,#ff2800 112.7px,#f00 113px,#9b0000 113.7px,#800000 114.4px,#800000 147.9px,#ae0000 148.8px,#c50000 150.7px,#d30000 153.5px,#d00 157.3px,#c50000 161.1px,#ae0000 164px,#d00 166.2px,#e00 166.8px,#f00 167px,#ff3f00 167.8px,#ff8500 168.3px,#ff0 169px,#e7ff18 169.1px,#7aff85 169.6px,#0ff 170.3px,#00e7ff 170.4px,#009aff 171px,#00f 172.1px,#0000e6 172.3px,#00d 172.5px,#0000b2 173.8px,#0000b2 186.7px,#0000c0 187.6px,#0000ed 188.6px,#00f 188.9px,#01f 189.2px,#0083ff 190.5px,#00a5ff 190.9px,#0ff 191.9px,#05fffa 192px,#29ffd6 192.4px,#a5ff5a 193.5px,#c9ff36 193.9px,#ff0 194.5px,#ffc300 195.2px,#ffa600 195.6px,#ff6d00 197.1px,#ff5400 198.1px,#ff4200 200px,#ff3c00 201.9px,#ff4500 202.8px,#ff6e00 205.6px,#ffa600 207.9px,#ffbc00 208.5px,#ff0 209.8px,#ff0 209.8px,#c5ff3a 211px,#92ff6d 211.7px,#45ffba 212.8px,#12ffed 213.6px,#0ff 213.9px,#00c5ff 214.7px,#0095ff 215.5px,#0058ff 216.6px,#0032ff 217.4px,#00f 218.8px,#0000fb 218.9px,#0000e3 221.8px,#0000e3 224.6px,#0000f3 227.4px,#00f 228px,#001fff 229.3px,#0041ff 230.3px,#005fff 231.2px,#0093ff 233.1px,#00beff 236px,#0df 238.8px,#00e7ff 239.8px,#0ff 241.6px,#0ff 241.6px,#1fffe0 243.5px,#2dffd2 244.5px,#50ffaf 247.3px,#79ff86 250.2px,#83ff7c 251.1px,#91ff6e 253px,#9eff61 254.9px,#9aff65 256.8px,#94ff6b 258.7px,#8bff74 260.6px,#78ff87 262.5px,#68ff97 264.4px,#5cffa3 266.3px,#4bffb4 268.2px,#38ffc7 270.1px,#31ffce 272px,#2affd5 274.8px,#2cffd3 275.7px,#32ffcd 279.5px,#42ffbd 283.3px,#71ff8e 286.2px,#7cff83 287.1px,#95ff6a 289px,#a7ff58 290px,#d2ff2d 291.9px,#e6ff19 292.8px,#ff0 294.2px,#fffc00 294.3px,#ffda00 295.6px,#ffbc00 296.6px,#ff6d00 298.1px,#ff5400 298.5px,#f00 299.7px,#ed0000 300px,#ca0000 300.4px,#800000 301.9px,#800000 316.4px)"></i><i style="height:8.41px;background:linear-gradient(90deg,#ff9500 0px,#ff9500 3px,#ff9700 3.7px,#ffc300 5.2px,#ffd900 5.9px,#fffa00 7.3px,#ff0 7.5px,#f3ff0c 8px,#d5ff2a 9.4px,#c7ff38 10.1px,#8f7 11.5px,#75ff8a 12px,#1affe5 13.7px,#0ff 14.3px,#00bdff 15.8px,#0092ff 17.9px,#08f 19.3px,#08f 30.7px,#008dff 32.1px,#0094ff 33.5px,#009fff 34.2px,#00b5ff 35.7px,#00c3ff 36.4px,#00dfff 37.8px,#00f0ff 39.2px,#0ff 40.6px,#08fff7 44.9px,#0bfff4 46.3px,#18ffe7 50.6px,#1cffe3 51.3px,#3cffc3 53.4px,#43ffbc 53.7px,#8dff72 55.1px,#9eff61 55.4px,#e4ff1b 56.2px,#ff0 56.5px,#fff400 56.7px,#ffab00 57.2px,#ff7400 57.6px,#ff2b00 58.2px,#f00 58.6px,#f90000 58.6px,#b80000 59.8px,#900 60.5px,#900 74px,#f00 75.4px,#f00 75.4px,#ff8000 76.5px,#ff0 77.5px,#80ff80 78.9px,#0ff 80.6px,#00a6ff 82.6px,#0080ff 84.9px,#009cff 87.4px,#0ff 89.4px,#05fffa 89.6px,#80ff80 91.4px,#ff0 93.1px,#fc0 94.8px,#f90 96.7px,#f90 100.2px,#ffb300 104.5px,#ffbf00 108px,#ffc900 110.1px,#ff8a00 111.5px,#f70 111.8px,#f00 112.7px,#ae0000 113.2px,#800000 113.7px,#800000 147.9px,#800 148.8px,#8d0000 150.7px,#8f0000 153.5px,#910000 157.3px,#8d0000 161.1px,#890000 163.8px,#800000 163.8px,#800000 168px,#f00 168.5px,#ff6d00 168.9px,#ffca00 169.7px,#fff900 170.2px,#ff0 170.3px,#6bff94 171.1px,#0bfff4 171.6px,#0ff 171.7px,#007bff 172.4px,#000aff 173.1px,#00f 173.4px,#0000e7 174px,#0000b4 175.6px,#0000b2 176.5px,#0000b2 187.5px,#0000fe 189.2px,#00f 189.2px,#002fff 189.5px,#00fbff 190.9px,#0ff 190.9px,#2fffd0 191.2px,#fbff04 192.6px,#ff0 192.6px,#ffe700 192.9px,#ff8100 194.3px,#ff7800 194.6px,#ff3400 197.6px,#ff1000 201px,#ff1000 207.8px,#ff3400 209.5px,#ff5200 210.3px,#ff7f00 211.5px,#ffae00 212px,#fffc00 212.9px,#ff0 212.9px,#d3ff2c 213.4px,#84ff7b 214.2px,#4fb 214.9px,#05fffa 215.6px,#0ff 215.7px,#00c4ff 216.6px,#0086ff 217.6px,#005bff 218.8px,#0020ff 220.5px,#001eff 221.3px,#001eff 228.1px,#0082ff 230.6px,#0ff 233.2px,#1affe5 236.6px,#1bffe4 241.6px,#40ffbf 246.7px,#3dffc2 251.8px,#24ffdb 255.2px,#18ffe7 256.9px,#29ffd6 259.4px,#3cffc3 261.9px,#51ffae 263.6px,#7aff85 267px,#83ff7c 268.7px,#96ff69 272.1px,#9fff60 273.8px,#b1ff4e 277.2px,#beff41 278.9px,#d8ff27 282.2px,#d9ff26 283.9px,#daff25 287.3px,#e9ff16 289px,#ff0 291.4px,#fffe00 291.6px,#ffd600 292.4px,#ff8100 294.1px,#ff6c00 294.4px,#f00 296.1px,#800000 297.8px,#800000 300.9px,#890000 300.9px,#800000 301.9px,#800000 316.4px)"></i><i style="height:8.41px;background:linear-gradient(90deg,#e6ff19 0px,#e6ff19 0.9px,#ff0 0.9px,#ffd100 0.9px,#ffd100 3px,#ffd800 3.7px,#fff000 5.2px,#ff0 5.9px,#ff0 5.9px,#e4ff1b 7.3px,#cfff30 8px,#a8ff57 9.4px,#95ff6a 10.1px,#65ff9a 11.5px,#57ffa8 12px,#1affe5 13.7px,#0ff 14.6px,#00dbff 15.8px,#00c7ff 17.9px,#00c5ff 19.3px,#00c5ff 30.7px,#00c6ff 32.1px,#00ceff 33.5px,#00d4ff 34.2px,#00e0ff 35.7px,#00e6ff 36.4px,#00f2ff 37.8px,#00fbff 39.2px,#0ff 40.6px,#02fffd 44.9px,#08fff7 46.3px,#19ffe6 50.6px,#21ffde 51.3px,#3fffc0 53.4px,#4cffb3 53.7px,#96ff69 55.1px,#adff52 55.4px,#f8ff07 56.2px,#ff0 56.3px,#ffd300 56.7px,#ff8a00 57.2px,#ff5400 57.6px,#ff0b00 58.2px,#f00 58.3px,#e90000 58.6px,#a10000 59.8px,#900 60.5px,#900 74px,#f00 75.4px,#ff8000 76.5px,#ff0 77.5px,#80ff80 78.9px,#0ff 80.6px,#00a6ff 82.6px,#0080ff 84.9px,#00a3ff 87.4px,#0ff 89.2px,#14ffeb 89.6px,#80ff80 91.4px,#ff0 93.1px,#fc0 94.8px,#f90 96.7px,#f90 100.2px,#ffb300 104.5px,#ffbf00 108px,#ffc200 110.1px,#ff8200 111.5px,#ff5d00 111.8px,#f00 112.5px,#8b0000 113.2px,#800000 113.7px,#800000 168.9px,#df0000 169.2px,#f00 169.3px,#f70 169.7px,#ffac00 170.2px,#fffc00 171.1px,#ff0 171.1px,#a6ff59 171.6px,#06fff9 172.4px,#0ff 172.5px,#00b0ff 172.9px,#0006ff 174px,#00f 174.1px,#0000f1 174.5px,#0000b4 176.5px,#0000b3 177px,#0000b3 187.5px,#00f 189.5px,#0002ff 189.5px,#00fdff 191.2px,#0ff 191.2px,#30ffcf 191.6px,#f9ff06 192.9px,#ff0 193px,#ffcf00 193.6px,#ff8500 194.6px,#ff6f00 195.6px,#ff4600 197.6px,#ff4600 209.5px,#ff4800 210.3px,#ff8500 211.5px,#ff9f00 212px,#fff600 213.2px,#ff0 213.3px,#fcff03 213.4px,#80ff7f 214.9px,#68ff97 215.2px,#04fffb 216.6px,#0ff 216.7px,#00daff 217.6px,#00abff 218.8px,#0079ff 220.5px,#0061ff 221.3px,#005fff 223.9px,#005fff 228.1px,#0af 230.6px,#00c7ff 231.5px,#0ff 233.1px,#02fffd 233.2px,#10ffef 234.9px,#1dffe2 236.6px,#26ffd9 238.3px,#34ffcb 241.6px,#36ffc9 242.5px,#3cffc3 246.7px,#19ffe6 250.9px,#13ffec 251.8px,#0ff 254.3px,#00f8ff 255.2px,#00f9ff 259.4px,#0ff 260.3px,#15ffea 263.6px,#3cffc3 268.7px,#7bff84 273.8px,#afff50 278.9px,#d6ff29 283.9px,#edff12 288.2px,#f1ff0e 289px,#ff0 290.2px,#ffef00 291.6px,#ffe300 292.4px,#ff9f00 293.8px,#ff7c00 294.4px,#ff3000 295.4px,#f00 296.1px,#fc0000 296.1px,#af0000 297.1px,#800000 297.8px,#800000 316.4px)"></i><i style="height:8.41px;background:linear-gradient(90deg,#83ff7c 0px,#83ff7c 0.9px,#0ff 0.9px,#09f 1px,#09f 7px,#00d9ff 10.4px,#0ff 15.6px,#0ff 15.6px,#03fffc 17.3px,#0dfff2 22.5px,#0ffff0 24.2px,#1affe5 31.1px,#1affe5 39.7px,#40ffbf 46.6px,#9f6 50.9px,#abff54 51.4px,#ff0 53.8px,#ff0 53.8px,#ffe200 54.3px,#ff8000 56.1px,#ff6200 56.6px,#f00 58.3px,#f00 58.3px,#f50000 58.7px,#a60000 61.2px,#a60000 69.9px,#ea0000 71.6px,#f00 72.1px,#f00 72.1px,#f60 73.5px,#ff8000 73.8px,#ffef00 75px,#ff0 75.2px,#ff0 75.2px,#80ff80 76.9px,#0ff 79px,#0ff 79px,#00f5ff 79.3px,#00a6ff 81.9px,#0096ff 82.8px,#06f 85.4px,#06f 88.8px,#007bff 89.7px,#00a6ff 91.4px,#00cbff 92.2px,#0ff 93.4px,#0ff 93.4px,#5fa 94.8px,#80ff7f 95.5px,#dcff23 96.9px,#ff0 97.4px,#ff0 97.4px,#ffac00 99px,#f90 99.3px,#ff8400 102.1px,#ff7f00 102.6px,#ff6c00 105.2px,#f60 106px,#ff2f00 107.2px,#f00 108.3px,#f00 108.3px,#b50000 109.5px,#800000 110.3px,#800000 169.2px,#f70000 169.7px,#f00 169.8px,#ff7900 170.2px,#ff9d00 170.6px,#fffd00 171.6px,#ff0 171.6px,#c3ff3c 171.9px,#04fffb 172.9px,#0ff 173px,#00caff 173.3px,#0004ff 174.5px,#00f 174.6px,#0000f8 174.8px,#0000c1 177px,#0000c1 187.5px,#00f 188.9px,#001aff 189.5px,#00feff 191.6px,#0ff 191.6px,#14ffeb 191.7px,#faff05 193.6px,#ff0 193.7px,#fff700 193.9px,#ffb600 195.6px,#ffb300 196px,#ff9e00 198.5px,#ff9e00 207.8px,#ffa000 209.5px,#ffbf00 210.3px,#ffeb00 211.5px,#ff0 212.1px,#e1ff1e 212.9px,#d4ff2b 213.2px,#7dff82 215.2px,#76ff89 215.4px,#1affe5 217.6px,#12ffed 217.9px,#0ff 218.8px,#00daff 220.5px,#00d1ff 221.3px,#00b6ff 223.9px,#00b7ff 225.6px,#00baff 228.1px,#00cdff 228.9px,#0ff 231.1px,#08fff7 231.5px,#18ffe7 232.3px,#46ffb9 234.9px,#4dffb2 235.7px,#5cffa3 238.3px,#57ffa8 239.1px,#3dffc2 242.5px,#07fff8 245.9px,#0ff 246.3px,#00f8ff 246.7px,#00c8ff 249.3px,#0af 250.9px,#009bff 253.5px,#0092ff 255.2px,#009cff 258.6px,#009fff 259.4px,#00d1ff 263.6px,#0ff 268.1px,#07fff8 268.7px,#3cffc3 273.8px,#7cff83 278.9px,#a7ff58 283.1px,#b0ff4f 283.9px,#c9ff36 286.5px,#d9ff26 288.2px,#f3ff0c 289.9px,#ff0 290.6px,#fe0 291.6px,#ffc200 292.4px,#ff7900 293.8px,#ff6000 294.1px,#f00 295.4px,#fa0000 295.4px,#c70000 296.1px,#800000 297.1px,#800000 316.4px)"></i><i style="height:8.41px;background:linear-gradient(90deg,#1fffe0 0px,#1fffe0 0.9px,#0ff 1px,#0ff 5.3px,#04fffb 7px,#0dfff2 10.4px,#16ffe9 15.6px,#19ffe6 17.3px,#2dffd2 22.5px,#3fc 24.2px,#1affe5 31.1px,#1affe5 39.7px,#40ffbf 46.6px,#8fff70 50.9px,#9f6 51.4px,#edff12 53.8px,#ff0 54.3px,#ff0 54.3px,#ff9d00 56.1px,#ff7f00 56.6px,#ff1500 58.3px,#f00 58.7px,#f00 58.7px,#d40000 61.2px,#c00 61.8px,#c00 69px,#d00 69.9px,#f00 71.6px,#f00 71.6px,#ff2300 72.1px,#ff7f00 73.5px,#ff9c00 73.8px,#ff0 75px,#ff0 75px,#f3ff0c 75.2px,#80ff80 76.9px,#1dffe2 79px,#0dfff2 79.3px,#0ff 80.2px,#00e5ff 81.9px,#00d9ff 82.8px,#00bcff 85.4px,#00b2ff 86.2px,#00cfff 88.8px,#00d9ff 89.7px,#0ff 91.2px,#04fffb 91.4px,#19ffe6 92.2px,#49ffb6 93.4px,#7fff80 94.8px,#af5 95.5px,#ff0 96.9px,#ff0 96.9px,#ffe600 97.4px,#f90 99px,#ff9600 99.3px,#ff8000 102.1px,#ff7b00 102.6px,#f60 105.2px,#ff3c00 106px,#f00 107.2px,#f00 107.2px,#c40000 108.3px,#800000 109.5px,#800000 169.7px,#f00 170.2px,#f10 170.2px,#f70 170.6px,#ffad00 171.1px,#fffc00 171.9px,#ff0 171.9px,#a4ff5b 172.4px,#05fffa 173.3px,#0ff 173.3px,#00b3ff 173.8px,#0015ff 174.8px,#0009ff 175.3px,#00f 175.7px,#0000dc 177.3px,#0000dc 187.5px,#00f 188.4px,#002aff 189.5px,#005aff 190px,#00fdff 191.7px,#0ff 191.7px,#46ffb9 192.6px,#b7ff48 193.9px,#eaff15 195.1px,#ff0 195.6px,#fff000 196px,#fff500 198px,#fff900 199.3px,#fff800 201px,#fffa00 204.4px,#fffd00 207.5px,#fffd00 207.8px,#ff0 207.9px,#cdff32 210.3px,#8cff73 212.9px,#4cffb3 215.4px,#1fe 217.9px,#05fffa 218.8px,#0ff 219.2px,#00e4ff 221.3px,#00eaff 222.2px,#0ff 225.4px,#01fffe 225.6px,#43ffbc 228.9px,#9bff64 232.3px,#b4ff4b 235.7px,#81ff7e 239.1px,#28ffd7 242px,#18ffe7 242.5px,#0ff 243.2px,#00cbff 244.7px,#00a2ff 245.9px,#0068ff 247.6px,#0031ff 249.3px,#0020ff 251.8px,#0017ff 253.5px,#001eff 256.9px,#0023ff 258.6px,#04f 261.9px,#05f 263.6px,#007bff 266.2px,#00a0ff 268.7px,#00bdff 270.4px,#00f4ff 273.8px,#00feff 274.6px,#0ff 274.7px,#30ffcf 278.9px,#70ff8f 283.1px,#b3ff4c 286.5px,#e9ff16 289px,#fbff04 289.9px,#ff0 289.9px,#ffc700 291px,#ff8100 292.4px,#ff6700 292.7px,#f00 294.1px,#940000 295.8px,#800000 296.1px,#800000 316.4px)"></i><i style="height:8.41px;background:linear-gradient(90deg,#00e1ff 0px,#00e1ff 0.9px,#005aff 1px,#005aff 4.4px,#006dff 5.3px,#00a6ff 7.8px,#00dcff 10.4px,#0ff 12.1px,#0ff 12.2px,#40ffbf 17.3px,#59ffa6 22.5px,#51ffae 24.2px,#40ffbf 27.7px,#26ffd9 31.1px,#1affe5 32.8px,#0ff 38px,#04fffb 39.7px,#0dfff2 43.2px,#2fffd0 46.6px,#40ffbf 48.3px,#80ff7f 51.4px,#9f6 52.6px,#d5ff2a 54.3px,#ff0 55.5px,#ff0 55.6px,#ffc400 56.6px,#ff7f00 57.8px,#ff6500 58.7px,#f30 60.4px,#ff3200 61.8px,#ff3200 64.7px,#ff6500 69px,#ffaf00 71.6px,#ffbe00 72.1px,#ffe300 73.5px,#ff0 74.5px,#ff0 74.5px,#f4ff0b 75px,#cf3 76.9px,#8f7 79.3px,#7fff80 79.7px,#59ffa6 82.8px,#58ffa7 86.2px,#7fff80 89.7px,#beff41 92.2px,#feff01 94.5px,#ff0 94.5px,#fff100 94.8px,#ff9a00 96.9px,#f80 99px,#ff8000 100px,#ff7000 102.1px,#f60 103.4px,#ff1e00 105.2px,#f00 105.8px,#f00 105.9px,#b70000 107.2px,#800000 108.3px,#800000 170.2px,#f00 170.7px,#ff8000 171.1px,#ff0 172.4px,#02fffd 173.8px,#0ff 173.8px,#00f3ff 174px,#0085ff 175.3px,#004bff 176.5px,#02f 177.3px,#0020ff 179.9px,#001fff 184.1px,#0020ff 187.5px,#0040ff 188.3px,#0082ff 190px,#00d5ff 191.7px,#00feff 192.6px,#0ff 192.6px,#3dffc2 195.1px,#7aff85 198px,#7eff81 198.5px,#90ff6f 201px,#8aff75 201.9px,#75ff8a 204.4px,#3dffc2 206.9px,#3fc 207.5px,#0ff 209.8px,#00f3ff 210.3px,#009eff 212.9px,#05f 215.4px,#0070ff 217.9px,#007bff 218.8px,#00a8ff 220.5px,#00d7ff 222.2px,#00e8ff 223px,#0ff 224.2px,#1bffe4 225.6px,#81ff7e 228.9px,#c0ff3f 232.3px,#cdff32 235.7px,#9f6 239.1px,#1affe5 242px,#0ff 242.5px,#09f 244.7px,#001aff 247.6px,#00f 249.7px,#0000e7 251.8px,#0000da 256.9px,#0000fd 261.9px,#00f 262.2px,#0021ff 266.2px,#0045ff 270.4px,#002cff 274.6px,#0014ff 278.9px,#0051ff 283.1px,#00caff 286.5px,#0ff 287.3px,#69ff96 289px,#d3ff2c 290.7px,#eaff15 291px,#ff0 291.3px,#ffc200 292.1px,#ff8900 292.7px,#ff6700 293.1px,#ff0600 294.1px,#f00 294.2px,#980000 295.4px,#800000 295.8px,#800000 316.4px)"></i><i style="height:8.41px;background:linear-gradient(90deg,#00a2ff 0px,#00a2ff 0.9px,#03f 1px,#03f 4.4px,#0080ff 7.8px,#00d9ff 12.2px,#0ff 15.2px,#1affe5 17.3px,#40ffbf 22.5px,#3fc 27.7px,#0ff 32.8px,#0ff 32.8px,#00b3ff 38px,#00d9ff 43.2px,#0ff 46.2px,#1affe5 48.3px,#80ff7f 52.6px,#cf3 55.6px,#d9ff26 56.1px,#ff0 57.8px,#ff0 57.8px,#ffe400 59px,#ffd300 60.4px,#ffbe00 62.1px,#ffb500 64.7px,#ffb100 65.5px,#ffc600 69px,#ffcb00 69.9px,#ffd900 72.1px,#ffe600 74.2px,#ffe800 74.5px,#fff600 76.9px,#ff0 78.3px,#feff01 78.5px,#f3ff0c 79.7px,#d8ff27 82.8px,#d8ff27 87.1px,#f4ff0b 89.7px,#feff01 90.5px,#ff0 90.6px,#ffe200 92.2px,#ffcd00 93.4px,#ffba00 94.5px,#f90 96.2px,#ff8d00 96.9px,#f60 99.1px,#ff4800 100px,#ff0100 102.1px,#f00 102.1px,#c10000 103.4px,#810000 104.8px,#810000 105.8px,#800000 108.3px,#800000 168.9px,#870000 169.9px,#800 170.2px,#f00 170.6px,#ff7f00 171.1px,#ff8f00 171.2px,#fffe00 172.4px,#ff0 172.4px,#e7ff18 172.6px,#1fffe0 174px,#16ffe9 174.3px,#0ff 175.1px,#00dbff 176.5px,#0af 179.9px,#009eff 184.1px,#00acff 188.3px,#0df 191.7px,#00e6ff 192.6px,#0ff 195px,#01fffe 195.1px,#01fffe 196px,#0ff 197.2px,#00feff 198.5px,#00f8ff 199px,#00d5ff 201.9px,#0094ff 204.4px,#0031ff 206.9px,#0024ff 207.8px,#00f 210.3px,#0000fe 210.3px,#0000fe 217.9px,#00f 218px,#001cff 218.8px,#0056ff 220.5px,#0080ff 221.3px,#00d5ff 223px,#00f7ff 223.9px,#0ff 224.1px,#3dffc2 225.6px,#54ffab 226.4px,#98ff67 228.9px,#a0ff5f 229.5px,#cf3 232.3px,#ceff31 232.8px,#daff25 235.7px,#d1ff2e 236.2px,#9bff64 239.1px,#86ff79 239.6px,#1effe1 242px,#07fff8 242.5px,#0ff 242.6px,#009fff 244.7px,#0084ff 245.4px,#002dff 247.6px,#0028ff 248.1px,#000eff 250.9px,#0006ff 251.8px,#0001ff 254.3px,#00f 254.6px,#0000f8 256.9px,#0000f4 257.7px,#0000e0 261.1px,#0000db 261.9px,#0000c2 264.5px,#0000b3 266.2px,#0000ad 267.9px,#0000a6 270.4px,#0000a6 289px,#0000fb 290.7px,#00f 290.7px,#00f6ff 292.1px,#0ff 292.1px,#f6ff09 293.1px,#ff0 293.1px,#ff8500 294.1px,#f00 294.8px,#830000 295.4px,#800000 295.8px,#800000 316.4px)"></i><i style="height:8.41px;background:linear-gradient(90deg,#004fff 0px,#004fff 0.9px,#0026ff 1px,#0026ff 4.4px,#0059ff 8.7px,#00a6ff 13px,#0ff 17.3px,#0ff 17.3px,#15ffea 21.6px,#19ffe6 22.5px,#08fff7 25.9px,#0ff 27.5px,#00feff 27.7px,#00c9ff 30.2px,#00a5ff 32px,#07f 34.5px,#0059ff 36.3px,#0078ff 40.6px,#007fff 41.4px,#00d8ff 46.6px,#0ff 49.8px,#19ffe6 51.8px,#7eff81 56.1px,#95ff6a 56.9px,#d7ff28 59.5px,#f1ff0e 61.2px,#ff0 62.2px,#fff400 63px,#ffe000 64.7px,#ffcd00 66.4px,#ffc400 67.6px,#ffb200 69.9px,#ffa400 72.1px,#ff9800 74.2px,#f90 74.5px,#ffad00 78.5px,#ffb100 79.3px,#ffca00 84.5px,#ffbe00 88.8px,#ffb400 89.7px,#ff9800 92.2px,#ff8900 93.1px,#ff6500 95.2px,#ff5200 95.7px,#f00 97.9px,#fe0000 97.9px,#e00000 98.6px,#800000 100.9px,#800000 168.9px,#f00 169.6px,#ff1000 169.7px,#ff2e00 169.9px,#ff5600 170.6px,#ff7c00 171.2px,#ffd900 172.3px,#fff800 172.6px,#ff0 172.7px,#89ff76 174.3px,#72ff8d 174.8px,#25ffda 176.5px,#1effe1 178.2px,#17ffe8 179.9px,#1effe1 182.4px,#2fd 184.1px,#30ffcf 186.6px,#39ffc6 188.3px,#3dffc2 190px,#42ffbd 192.6px,#3effc1 192.9px,#1dffe2 195.6px,#19ffe6 196px,#0ff 197.1px,#00ebff 198px,#00d5ff 199px,#00a0ff 200.7px,#007cff 201.9px,#0039ff 203.6px,#0018ff 204.4px,#00f 206.6px,#0000f2 207.8px,#0000f2 214.6px,#0000f4 217.1px,#0000f7 218.8px,#00f 219.2px,#0009ff 219.6px,#002dff 221.3px,#0058ff 222.2px,#00adff 223.9px,#00d3ff 224.7px,#0ff 225.7px,#20ffdf 226.4px,#4fb 227.3px,#9eff61 229.5px,#a5ff5a 229.8px,#dcff23 232.8px,#dfff20 233.2px,#f5ff0a 236.2px,#f1ff0e 236.6px,#ceff31 239.6px,#c5ff3a 239.9px,#82ff7d 242.5px,#71ff8e 243px,#1effe1 245.4px,#0cfff3 245.9px,#0ff 246.2px,#00baff 248.1px,#00b4ff 248.7px,#00a0ff 250.9px,#00a3ff 251.8px,#0af 254.3px,#00a1ff 255.2px,#0082ff 257.7px,#006bff 258.6px,#0027ff 261.1px,#0010ff 261.9px,#00f 262.6px,#00c 264.5px,#0000c1 265.3px,#0000a6 267.9px,#0000a6 290.7px,#00f 291.8px,#0019ff 292.1px,#0ff 293px,#1affe5 293.1px,#ff0 294.1px,#f00 295.2px,#800000 295.8px,#800000 316.4px)"></i><i style="height:8.41px;background:linear-gradient(90deg,#0043ff 0px,#0043ff 0.9px,#0019ff 1px,#0019ff 4.4px,#03f 8.7px,#09f 13px,#0ff 17.3px,#0dfff2 21.6px,#0ff 22.7px,#00d9ff 25.9px,#0080ff 30.2px,#03f 34.5px,#0026ff 40.6px,#0059ff 46.6px,#00a6ff 51.8px,#0ff 56.3px,#0dfff2 56.9px,#40ffbf 61.2px,#9f6 64.7px,#ff0 67.6px,#f90 69.9px,#f30 72.1px,#f00 74.5px,#e50000 78.5px,#e50000 84.5px,#f00 89.7px,#f30 93.1px,#f00 95.7px,#800000 98.6px,#800000 169.7px,#fb0000 170.6px,#f00 170.7px,#ff1500 171.4px,#ff3100 172.3px,#ff7c00 174.8px,#ff8b00 175.6px,#fb0 178.2px,#ffc300 179px,#ffe200 182.4px,#fff700 185.8px,#fffd00 186.6px,#ff0 186.8px,#e0ff1f 188.8px,#cf3 190px,#acff53 191.2px,#7eff81 192.9px,#64ff9b 193.6px,#17ffe8 195.6px,#06fff9 196px,#0ff 196.1px,#00a3ff 198px,#008bff 198.5px,#0025ff 200.7px,#001fff 201px,#00f 202.8px,#0000f3 203.6px,#0000f3 212.9px,#0000f4 214.6px,#00f 215.1px,#0007ff 215.4px,#002aff 217.1px,#0051ff 217.9px,#009dff 219.6px,#00c7ff 220.5px,#0ff 221.6px,#1dffe2 222.2px,#48ffb7 223px,#9cff63 224.7px,#beff41 225.6px,#ff0 227.2px,#fffd00 227.3px,#ffec00 228.1px,#ffca00 229.8px,#ffc400 231.5px,#ffbe00 233.2px,#ffc700 235.7px,#ffcb00 236.6px,#fff100 239.1px,#fffd00 239.9px,#ff0 240px,#d6ff29 242.5px,#ceff31 243px,#9cff63 245.9px,#82ff7d 248.7px,#7cff83 249.3px,#5cffa3 251.8px,#4cffb3 252.6px,#1dffe2 255.2px,#01fffe 256px,#0ff 256px,#00a9ff 258.6px,#009bff 258.9px,#002bff 261.6px,#001dff 261.9px,#00f 262.8px,#0000d6 264px,#0000a7 265.3px,#0000a6 266.7px,#0000a6 289.9px,#0000a8 290.7px,#0000d3 291.2px,#00f 291.7px,#001fff 292.1px,#0073ff 292.4px,#0ff 293px,#1dffe2 293.1px,#90ff6f 293.6px,#ff0 294.1px,#fffc00 294.1px,#f00 295.2px,#ca0000 295.4px,#800000 295.8px,#800000 316.4px)"></i><i style="height:8.41px;background:linear-gradient(90deg,#005cff 0px,#005cff 1.1px,#0026ff 1.1px,#0026ff 19.1px,#0ff 23.6px,#0ff 26.9px,#0080ff 30.3px,#0080ff 39.3px,#0019ff 43.8px,#0019ff 60.6px,#0ff 64px,#ff0 68.4px,#ff8000 71.8px,#f00 75.2px,#800000 79.7px,#800000 89.8px,#f00 92px,#f30 95.4px,#f30 95.9px,#f00 95.9px,#af0000 96px,#800000 97.2px,#800000 171.4px,#e30000 172.3px,#fc0000 175.6px,#f00 175.8px,#ff0c00 176.5px,#ff3200 179px,#ff3e00 179.9px,#ff6500 182.4px,#ff7100 183.3px,#ff9800 185.8px,#ffad00 186.6px,#ffe500 188.8px,#fff700 189.2px,#ff0 189.3px,#9f6 191.2px,#87ff78 191.6px,#1affe5 193.6px,#09fff6 193.9px,#0ff 194.1px,#00a6ff 196px,#0095ff 196.3px,#0027ff 198.5px,#0024ff 198.7px,#00f 201px,#00f 211.2px,#0001ff 212.9px,#001fff 213.7px,#005bff 215.4px,#0086ff 216.3px,#00daff 217.9px,#00fcff 218.8px,#0ff 218.9px,#42ffbd 220.5px,#71ff8e 221.3px,#ceff31 223px,#f0ff0f 223.9px,#ff0 224.3px,#ffca00 225.6px,#ffb900 226.4px,#ff9700 228.1px,#ff8a00 229.8px,#ff7e00 231.5px,#ff8d00 234px,#ff9700 235.7px,#ffb400 238.3px,#ffbd00 239.1px,#ffda00 241.6px,#ffe400 242.5px,#fff700 245px,#fffe00 245.9px,#ff0 246px,#e4ff1b 248.4px,#daff25 249.3px,#beff41 251.8px,#b4ff4b 252.6px,#8eff71 255.2px,#81ff7e 256px,#34ffcb 258.2px,#1cffe3 258.9px,#0ff 259.5px,#0bf 260.9px,#009bff 261.6px,#0040ff 263.3px,#001bff 264px,#00f 264.6px,#0000e0 265.3px,#0000a7 266.7px,#0000a6 267.9px,#0000a6 289px,#0000a7 289.9px,#0000d2 290.4px,#00f 290.9px,#001dff 291.2px,#008aff 291.7px,#0ff 292.3px,#1dffe2 292.4px,#7fff80 292.9px,#ff0 293.6px,#fffc00 293.6px,#f00 294.8px,#e50000 294.9px,#800000 295.4px,#800000 316.4px)"></i><i style="height:8.41px;background:linear-gradient(90deg,#0075ff 0px,#0075ff 1.1px,#007bff 1.1px,#007bff 13.5px,#00f4ff 19.1px,#0ff 23.6px,#0ff 26.9px,#00fdff 28.1px,#00bcff 30.3px,#0080ff 32.5px,#0080ff 39.3px,#007dff 41.5px,#003eff 43.8px,#0001ff 46px,#0001ff 60.6px,#0005ff 61.7px,#00aeff 64px,#0ff 65px,#03fffc 65.1px,#c2ff3d 68.4px,#ff0 69.5px,#fffd00 69.6px,#ffa800 71.8px,#ff7d00 72.9px,#ff2800 75.2px,#f00 76.2px,#fd0000 76.3px,#9e0000 79.7px,#800000 80.8px,#800000 89.8px,#860000 92px,#890000 95.4px,#890000 95.9px,#8e0000 96px,#800000 97.2px,#800000 175.6px,#d70000 176.5px,#fd0000 179.9px,#f00 180px,#ff0a00 180.7px,#ff1800 181.6px,#ff3200 183.3px,#ff4500 184.1px,#ff7f00 186.6px,#ffd800 188.8px,#ffe600 189.2px,#ff0 189.6px,#bdff42 190.9px,#98ff67 191.6px,#3dffc2 193.2px,#19ffe6 193.9px,#0ff 194.4px,#00b6ff 196px,#00a6ff 196.3px,#0034ff 198.7px,#002fff 199px,#000eff 201.4px,#000dff 202.7px,#000dff 209.5px,#000eff 211.2px,#0037ff 212.5px,#005bff 213.7px,#00b0ff 215.4px,#00daff 216.3px,#0ff 217.2px,#1fffe0 217.9px,#41ffbe 218.8px,#9eff61 220.5px,#cdff32 221.3px,#ff0 222.6px,#ffed00 223px,#ffcb00 223.9px,#ff8700 225.6px,#f60 226.4px,#ff3f00 228.9px,#ff3200 229.8px,#ff3200 234px,#ff6400 238.3px,#ff9700 241.6px,#ffa100 242.5px,#ffbd00 245px,#ffc700 245.9px,#ffe400 248.4px,#ffea00 249.3px,#fffe00 251.8px,#ff0 251.9px,#f7ff08 252.6px,#daff25 255.2px,#c8ff37 256px,#9aff65 258.2px,#7bff84 258.9px,#1cffe3 260.9px,#0ff 261.5px,#00f7ff 261.6px,#009cff 263.3px,#0071ff 264px,#001dff 265.3px,#00f 266px,#00e 266.3px,#0000a9 267.9px,#0000a8 268.7px,#0000a6 271.2px,#0000a6 287.3px,#0000a8 289px,#00f 290px,#001dff 290.4px,#005dff 290.7px,#0ff 291.6px,#1cffe3 291.7px,#5effa1 292.1px,#ff0 292.9px,#fffc00 292.9px,#ff1d00 294.1px,#f00 294.2px,#800000 294.9px,#800000 316.4px)"></i><i style="height:8.41px;background:linear-gradient(90deg,#09f 0px,#09f 1.1px,#00f8ff 1.1px,#0ff 4px,#15ffea 13.5px,#29ffd6 19.1px,#30ffcf 22.4px,#18ffe7 28.1px,#0ff 32.3px,#00fdff 32.5px,#00f8ff 33.7px,#0080ff 37px,#0080ff 41.5px,#007cff 43.8px,#0028ff 46px,#00f 47.1px,#00f 61.7px,#0009ff 64px,#005eff 65.1px,#0ff 67.2px,#07fff8 67.3px,#97ff68 69.6px,#ff0 71.2px,#fffc00 71.2px,#ffb000 72.9px,#ff7d00 74px,#ff2800 76.3px,#f00 77.4px,#fd0000 77.4px,#9e0000 80.8px,#800000 81.9px,#800000 180.7px,#d80000 181.6px,#fe0000 184.1px,#f00 184.1px,#ff6300 186.6px,#ffc400 188.3px,#ffe200 188.8px,#fff700 189.2px,#ff0 189.3px,#9cff63 190.9px,#40ffbf 192.6px,#1cffe3 193.2px,#0ff 194px,#00e8ff 194.6px,#00b4ff 196px,#0096ff 197px,#005bff 199px,#004fff 200.2px,#0035ff 202.7px,#0035ff 208.6px,#0036ff 209.5px,#009aff 212.5px,#00a6ff 212.9px,#0ff 215.4px,#01fffe 215.4px,#1effe1 216.3px,#5affa5 217.9px,#97ff68 219.3px,#cdff32 220.5px,#fcff03 221.7px,#ff0 221.7px,#ffcb00 223px,#ffa300 224px,#f60 225.6px,#ff3f00 227.3px,#ff1900 228.9px,#ff0a00 231.5px,#f00 233.2px,#ff0800 236.6px,#ff0d00 238.3px,#ff2b00 241.6px,#ff3200 242.5px,#ff6500 245.9px,#ff7200 246.7px,#ff9800 249.3px,#ffab00 250.9px,#ffbe00 252.6px,#ffd700 254.8px,#ffe400 256px,#ff0 257.2px,#e9ff16 258.2px,#daff25 258.9px,#a2ff5d 261.3px,#9aff65 261.6px,#1cffe3 264px,#0ff 264.5px,#00a8ff 266.3px,#0096ff 266.7px,#0029ff 268.7px,#000bff 269.4px,#00f 269.6px,#0000b6 271.2px,#0000b5 272.1px,#0000b4 275.1px,#0000b4 282.6px,#0000b5 285.6px,#0000b6 287.3px,#0000e9 288.2px,#00f 288.5px,#001dff 289px,#00b5ff 290px,#0ff 290.5px,#1bffe4 290.7px,#af5 291.6px,#ff0 292.1px,#fffe00 292.1px,#f00 293.4px,#bf0000 293.8px,#800000 294.1px,#800000 316.4px)"></i><i style="height:8.41px;background:linear-gradient(90deg,#00c5ff 0px,#00c5ff 1.1px,#0ff 1.1px,#3cffc3 1.1px,#3effc1 13.5px,#02fffd 19.1px,#03fffc 22.4px,#0ff 33.7px,#0080ff 37px,#0007ff 41.5px,#0007ff 43.8px,#00f 47.1px,#00f 64px,#0ff 67.3px,#82ff7d 70.1px,#b6ff49 71.2px,#ff0 72.8px,#fffb00 72.9px,#ffd000 74px,#ff7b00 76.3px,#ff5100 77.4px,#f00 79.6px,#fc0000 79.7px,#d00000 81.9px,#800000 86.4px,#800000 188.3px,#d80000 189.2px,#f00 189.7px,#ff6500 190.9px,#ffe400 192.6px,#fff900 192.9px,#ff0 193px,#c5ff3a 193.9px,#9bff64 194.6px,#76ff89 195.3px,#1bffe4 197px,#08fff7 199.3px,#01fffe 200.2px,#01fffe 204.4px,#06fff9 206.1px,#0efff1 208.6px,#10ffef 209.5px,#1bffe4 212.9px,#3dffc2 215.9px,#41ffbe 216.3px,#abff54 218.8px,#c0ff3f 219.3px,#ff0 220.6px,#ffdc00 221.3px,#ffcb00 221.7px,#f60 224px,#ff5600 224.7px,#ff1a00 227.3px,#ff0f00 228.9px,#f00 231.5px,#f00 241.6px,#ff0d00 244.2px,#ff1900 246.7px,#ff2900 249.3px,#f30 250.9px,#ff5400 253.5px,#f60 254.8px,#ff8900 257.2px,#f90 258.2px,#ffd400 260.6px,#ffe500 261.3px,#ff0 262.4px,#e1ff1e 263.6px,#d9ff26 264px,#80ff7f 266.7px,#1affe5 269.4px,#13ffec 269.6px,#0ff 270px,#00a7ff 272.1px,#009aff 272.4px,#0034ff 275.1px,#0032ff 275.5px,#001bff 278.9px,#0032ff 282.2px,#0034ff 282.6px,#009aff 285.3px,#00a7ff 285.6px,#00f4ff 287.3px,#0ff 287.6px,#1bffe4 288.2px,#5fa 289px,#9bff64 290px,#dfff20 291px,#ff0 291.5px,#fffd00 291.6px,#f00 293px,#800000 293.8px,#800000 316.4px)"></i><i style="height:8.41px;background:linear-gradient(90deg,#b3ff4c 0px,#b3ff4c 1.1px,#7cff83 1.1px,#7cff83 13.5px,#79ff86 19.1px,#18ffe7 25.8px,#18ffe7 33.7px,#0ff 34.2px,#0080ff 37px,#00f 41.1px,#0000f3 41.5px,#0000f3 64px,#00f 64.1px,#0082ff 66.2px,#00aeff 67.3px,#0ff 69.4px,#05fffa 69.6px,#1fffe0 70.1px,#85ff7a 72.4px,#9eff61 72.9px,#ff0 75.1px,#fffb00 75.2px,#ffd000 76.3px,#ff7b00 78.5px,#ff5100 79.7px,#f00 81.8px,#fd0000 81.9px,#b30000 86.4px,#800000 89.8px,#800000 192.9px,#f00 193.9px,#f00 193.9px,#ff4000 194.6px,#ff8000 195.3px,#ffe600 197px,#ff0 197.9px,#d9ff26 199.3px,#d2ff2d 200.2px,#bfff40 202.7px,#c6ff39 204.4px,#cf3 206.1px,#d5ff2a 208.6px,#d9ff26 209.5px,#ff0 212.9px,#ff0 212.9px,#fc0 215.9px,#ffc600 216.3px,#f90 218.8px,#ff8f00 219.3px,#f60 221.3px,#ff6100 221.7px,#ff3d00 224px,#f30 224.7px,#ff1c00 227.3px,#ff0d00 228.9px,#ff0600 231.5px,#f00 234px,#f00 249.3px,#ff0f00 250.9px,#ff2600 253.5px,#ff3000 254.8px,#ff4000 257.2px,#ff5300 258.2px,#ff8000 260.6px,#ff9100 261.3px,#fc0 263.6px,#ffd200 264px,#ff0 266.7px,#ff0 266.7px,#b7ff48 269.4px,#b2ff4d 269.6px,#64ff9b 272.1px,#59ffa6 272.4px,#20ffdf 275.1px,#19ffe6 275.5px,#0ff 278.8px,#0ff 278.9px,#19ffe6 282.2px,#25ffda 282.6px,#7fff80 285.3px,#95ff6a 285.6px,#ff0 287.3px,#ff0 287.3px,#ffbf00 288.2px,#ff8000 289px,#f00 290px,#f00 290px,#800000 291px,#800000 316.4px)"></i><i style="height:8.41px;background:linear-gradient(90deg,#beff41 0px,#beff41 1.1px,#b0ff4f 1.1px,#b0ff4f 19.1px,#abff54 24.7px,#89ff76 25.8px,#01fffe 30.3px,#01fffe 32.5px,#0ff 32.6px,#00d8ff 33.7px,#0082ff 35.9px,#0053ff 37px,#00f 39.1px,#0000f6 39.3px,#0000f2 41.5px,#0000f2 62.8px,#00f 63.2px,#0020ff 64px,#0080ff 66.2px,#00e1ff 69.6px,#0ff 70.6px,#03fffc 70.7px,#4fffb0 72.4px,#9cff63 74px,#bfff40 75.2px,#ff0 77.3px,#fffb00 77.4px,#ffc800 78.5px,#ff7c00 80.2px,#ff3c00 81.9px,#f00 83.5px,#fe0000 83.6px,#a00000 89.8px,#800000 92px,#800000 193.9px,#810000 195.3px,#820000 197px,#820000 197.6px,#db0000 198.5px,#e40000 199.3px,#f00 201.7px,#ff0200 201.9px,#ff0c00 202.7px,#ff3500 206.1px,#ff3d00 209.5px,#ff4100 211.2px,#ff3d00 212.9px,#ff3500 215.9px,#ff3400 216.3px,#ff2700 218.8px,#ff1a00 221.3px,#ff0900 224.7px,#f00 226.4px,#f00 226.5px,#f60000 228.9px,#e60000 233.2px,#e60000 246.7px,#f10000 249.3px,#f00 252.6px,#f00 252.6px,#ff0900 253.5px,#ff2e00 257.2px,#f30 257.7px,#ff5600 260.6px,#f60 261.9px,#ff7e00 263.6px,#ff9a00 265.7px,#ffa400 266.7px,#ffc000 269.4px,#ffc200 269.6px,#ffe100 272.4px,#ffe700 272.9px,#fffa00 275.5px,#ff0 276.1px,#fdff02 276.3px,#ff0 276.5px,#fe0 278.9px,#ffe700 279.7px,#ffa400 282.2px,#ff9b00 282.6px,#ff3500 284.8px,#ff2600 285.3px,#ff0200 286.5px,#f00 286.5px,#c10000 287.3px,#820000 288.2px,#810000 289px,#800000 291px,#800000 316.4px)"></i><i style="height:8.41px;background:linear-gradient(90deg,#9dff62 0px,#9dff62 1.1px,#9aff65 1.1px,#9aff65 24.7px,#02fffd 29.2px,#0ff 30.3px,#0ff 32.5px,#0082ff 34.8px,#0053ff 35.9px,#00f 37.9px,#0000f5 38.2px,#0000f2 39.3px,#0000f2 59.5px,#00f 59.9px,#0057ff 62.8px,#007bff 64px,#00b0ff 66.2px,#00fdff 69.6px,#0ff 69.6px,#1effe1 70.7px,#81ff7e 74px,#ff0 77.4px,#ff9400 80.2px,#ff7e00 80.8px,#ff2d00 83.6px,#f00 85.2px,#fe0000 85.3px,#910000 92px,#800000 93.1px,#800000 197.6px,#810000 198.5px,#810000 201.9px,#820000 206.1px,#820000 216.3px,#810000 221.3px,#810000 223.9px,#cd0000 224.7px,#d90000 226.4px,#e60000 228.1px,#f00 233.2px,#f00 233.2px,#ff2500 238.3px,#ff2a00 239.9px,#ff3200 243.3px,#ff3200 248.4px,#ff2800 252.6px,#ff2600 253.5px,#ff0700 257.7px,#ff0100 258.6px,#f00 258.7px,#ef0000 261.9px,#e70000 263.6px,#e80000 265.7px,#e80000 268.7px,#e60000 269.4px,#de0000 272.9px,#dc0000 273.8px,#cd0000 276.3px,#c30000 278px,#900 279.7px,#840000 280.6px,#830000 282.6px,#820000 284.8px,#810000 286.5px,#800000 288.2px,#800000 316.4px)"></i><i style="height:8.41px;background:linear-gradient(90deg,#4cffb3 0px,#4cffb3 1.1px,#81ff7e 1.1px,#81ff7e 19.1px,#08fff7 22.4px,#08fff7 24.7px,#0ff 29.2px,#0ff 30.3px,#00aeff 32.5px,#0083ff 33.7px,#0057ff 34.8px,#0002ff 37px,#00f 37.8px,#0000fe 38.2px,#0000fe 55px,#00f 55px,#0078ff 59.5px,#00d0ff 64px,#00fbff 66.2px,#0ff 66.4px,#48ffb7 69.6px,#7cff83 71.8px,#bcff43 74px,#fdff02 76.3px,#ff0 76.4px,#ffe100 77.4px,#ff8000 80.8px,#ff1800 85.3px,#f00 86.3px,#fe0000 86.4px,#a50000 93.1px,#980000 94.2px,#800000 95.9px,#800000 223.9px,#810000 224.7px,#810000 228.1px,#820000 233.2px,#820000 236.6px,#c10000 237.4px,#c90000 238.3px,#e70000 241.6px,#ea0000 243.3px,#f30000 248.4px,#f30000 255.2px,#ec0000 258.6px,#e60000 261.9px,#d90000 263.6px,#c00000 267px,#a10000 268.7px,#810000 270.4px,#810000 278px,#800000 280.6px,#800000 316.4px)"></i><i style="height:8.41px;background:linear-gradient(90deg,#1effe1 0px,#1effe1 1.1px,#1fffe0 1.1px,#1fffe0 13.5px,#0ff 14.7px,#008dff 19.1px,#0086ff 22.4px,#0086ff 28.1px,#0056ff 30.3px,#0021ff 32.5px,#001fff 33.7px,#0018ff 37px,#0018ff 49.4px,#0079ff 55px,#00d0ff 59.5px,#00faff 61.7px,#0ff 61.9px,#50ffaf 66.2px,#7bff84 68.4px,#c8ff37 71.8px,#fcff03 74px,#ff0 74.2px,#ffcf00 76.3px,#ff8100 79.7px,#ff6b00 80.8px,#f00 86.4px,#810000 94.2px,#800000 95.9px,#800000 316.4px)"></i><i style="height:8.41px;background:linear-gradient(90deg,#00caff 0px,#00caff 1.1px,#0ff 1.1px,#01fffe 1.1px,#01fffe 7.9px,#0ff 7.9px,#08f 13.5px,#0080ff 19.1px,#004fff 22.4px,#004fff 28.1px,#004aff 32.5px,#004aff 49.4px,#004bff 50.5px,#0080ff 55px,#00fdff 59.5px,#0ff 61.7px,#02fffd 64px,#57ffa8 68.4px,#82ff7d 70.7px,#c3ff3c 74px,#ff0 77.2px,#fffb00 77.4px,#ffbc00 79.7px,#ff7d00 81.9px,#ff1800 86.4px,#f00 87.5px,#fe0000 87.5px,#910000 94.2px,#800000 95.4px,#800000 316.4px)"></i><i style="height:8.41px;background:linear-gradient(90deg,#0af 0px,#0af 1.1px,#0ff 1.1px,#0ff 7.9px,#00f8ff 13.5px,#00f8ff 19.1px,#00caff 22.4px,#00adff 24.7px,#00adff 47.1px,#00d8ff 50.5px,#00f7ff 52.7px,#00f8ff 55px,#0ff 59.5px,#0ff 64px,#02fffd 66.2px,#57ffa8 70.7px,#82ff7d 72.9px,#d7ff28 77.4px,#ff0 79.5px,#fffc00 79.7px,#ffc800 81.9px,#ff7b00 85.3px,#ff4800 87.5px,#f00 90.7px,#fc0000 90.9px,#b80000 95.4px,#b00000 95.9px,#800000 96px,#800000 316.4px)"></i><i style="height:8.41px;background:linear-gradient(90deg,#00dbff 0px,#00dbff 1.1px,#0ff 1.1px,#0ff 19.1px,#0082ff 24.7px,#0082ff 33.7px,#0052ff 35.9px,#0052ff 43.8px,#00a6ff 47.1px,#00fdff 50.5px,#0ff 52.7px,#0ff 64px,#28ffd7 66.2px,#7dff82 70.7px,#9eff61 72.9px,#ff0 79.7px,#ff8000 85.3px,#ff1400 90.9px,#f00 91.9px,#fe0000 92px,#bf0000 95.9px,#800000 96px,#800000 316.4px)"></i><i style="height:8.41px;background:linear-gradient(90deg,#0060ff 0px,#0060ff 1.1px,#0026ff 1.1px,#0026ff 19.1px,#001fff 24.7px,#0080ff 30.3px,#0087ff 33.7px,#0089ff 35.9px,#0095ff 41.5px,#0bf 43.8px,#00faff 47.1px,#0ff 50.5px,#0ff 59.5px,#50ffaf 64px,#7bff84 66.2px,#bcff43 70.7px,#fcff03 75.2px,#ff0 75.3px,#ff9f00 79.7px,#ff8500 80.8px,#ff2f00 85.3px,#ff0500 87.5px,#f00 87.8px,#bf0000 92px,#9d0000 94.2px,#830000 95.9px,#800000 96px,#800000 316.4px)"></i><i style="height:8.41px;background:linear-gradient(90deg,#0000d1 0px,#0000d1 1.1px,#0000a9 1.1px,#0000a9 24.7px,#0000ac 30.3px,#0000ad 41.5px,#0000b0 47.1px,#0000b0 50.5px,#00f 53.6px,#0007ff 53.9px,#0083ff 57.2px,#00d6ff 59.5px,#0ff 60.6px,#01fffe 60.6px,#7eff81 64px,#d2ff2d 66.2px,#fcff03 67.3px,#ff0 67.4px,#ff8500 70.7px,#ff0800 74px,#f00 74.4px,#e00 75.2px,#800 79.7px,#870000 80.8px,#830000 87.5px,#800000 94.2px,#800000 316.4px)"></i><i style="height:8.41px;background:linear-gradient(90deg,#0000b2 0px,#0000b2 1.1px,#0000a6 1.1px,#0000a6 35.9px,#0000a7 41.5px,#0000a8 46px,#0000a9 47.1px,#0000ec 50.5px,#00f 51.5px,#0003ff 51.6px,#0081ff 55px,#00d5ff 57.2px,#0ff 58.3px,#0ff 58.3px,#40ffbf 60.6px,#80ff7f 62.8px,#e6ff19 65.1px,#ff0 65.6px,#ff0 65.6px,#ff7f00 68.4px,#f00 71.2px,#f00 71.3px,#f40000 71.8px,#800000 77.4px,#800000 228.9px,#f10000 230.5px,#f00 231px,#ff4d00 233.7px,#ff7b00 240.2px,#ff9d00 248.3px,#ffa800 258.1px,#ff9d00 267.8px,#ff7b00 275.9px,#ff4d00 282.4px,#f00 285.1px,#f10000 285.6px,#800000 287.9px,#800000 316.4px)"></i><i style="height:8.41px;background:linear-gradient(90deg,#00a6ff 0px,#00a6ff 1.1px,#00f 1.1px,#0000a7 1.1px,#0000a7 24.7px,#0000a8 30.3px,#0000a9 35.9px,#0000df 39.3px,#00f 41.3px,#0003ff 41.5px,#0081ff 46px,#0ff 50.5px,#01fffe 57.2px,#80ff7f 60.6px,#deff21 64px,#feff01 65.1px,#ff0 65.1px,#ff8100 68.4px,#ff5700 69.6px,#ff0200 71.8px,#f00 72px,#a60000 77.4px,#820000 79.7px,#810000 85.3px,#810000 95.9px,#800000 96px,#800000 215.9px,#f90000 217.5px,#f00 217.7px,#ff5b00 220.8px,#ffd400 224px,#ff0 227.5px,#ef1 228.9px,#d8ff27 230.5px,#b5ff4a 233.7px,#a5ff5a 235.4px,#7fff80 240.2px,#6f9 243.5px,#65ff9a 248.3px,#64ff9b 251.6px,#81ff7e 258.1px,#8f7 259.7px,#a1ff5e 267.8px,#c7ff38 275.9px,#df2 282.4px,#e5ff1a 284px,#efff10 285.6px,#ff0 287.9px,#ff0 287.9px,#ffec00 292.1px,#ffbc00 300.2px,#ff7300 306.7px,#ff3600 311.6px,#f00 314.5px,#f90000 314.8px,#f90000 316.4px)"></i><i style="height:8.41px;background:linear-gradient(90deg,#0000db 0px,#0000db 1.1px,#0000f3 1.1px,#0000f3 7.9px,#00f 9.7px,#0019ff 13.5px,#0019ff 22.4px,#001aff 24.7px,#0057ff 28.1px,#0080ff 30.3px,#00d0ff 35.9px,#0ff 39.3px,#0ff 47.1px,#01fffe 50.5px,#2bffd4 52.7px,#80ff7f 57.2px,#9f6 64px,#ff0 69.6px,#ff0 69.6px,#ffdb00 71.8px,#ff8000 77.4px,#ff5400 81.9px,#ff3400 85.3px,#ff0100 92px,#f00 92.1px,#e60000 95.9px,#f00 96px,#ff0900 96px,#f00 98.7px,#fd0000 99.2px,#d80000 107.3px,#be0000 113.8px,#800000 118.6px,#800000 173.7px,#cb0000 175.4px,#fd0000 180.2px,#f00 180.4px,#ff3100 185.1px,#ff7c00 190px,#fb0 194.8px,#fffa00 199.7px,#ff0 200px,#b8ff47 204.6px,#60ff9f 209.4px,#21ffde 214.3px,#0ff 215.9px,#00feff 215.9px,#00dbff 217.5px,#00b9ff 219.1px,#009bff 220.8px,#005fff 224px,#002bff 228.9px,#0012ff 235.4px,#0005ff 238.6px,#00f 242.9px,#0000fe 243.5px,#0000f7 251.6px,#0000f7 264.5px,#0000fa 267.8px,#00f 272.2px,#0004ff 275.9px,#0005ff 277.5px,#0012ff 284px,#001fff 290.5px,#0021ff 292.1px,#002dff 300.2px,#0056ff 306.7px,#0060ff 308.3px,#0074ff 311.6px,#0087ff 314.8px,#0087ff 316.4px)"></i><i style="height:8.41px;background:linear-gradient(90deg,#009bff 0px,#009bff 1.1px,#001eff 1.1px,#001eff 22.4px,#0083ff 28.1px,#0ff 35.8px,#02fffd 35.9px,#02fffd 47.1px,#80ff7f 52.7px,#9f6 64px,#feff01 71.8px,#ff0 71.9px,#ff8200 81.9px,#ff3600 92px,#ff2900 95.9px,#f00 95.9px,#db0000 96px,#d30000 99.2px,#c10000 105.7px,#ba0000 107.3px,#a10000 113.8px,#9a0000 115.4px,#8c0000 118.6px,#800000 121.9px,#800000 173.7px,#830000 175.4px,#860000 180.2px,#890000 185.1px,#8c0000 190px,#900000 194.8px,#930000 199.7px,#970000 204.6px,#9b0000 209.4px,#9e0000 214.3px,#a40000 219.1px,#a80000 224px,#ab0000 228.9px,#ad0000 238.6px,#ad0000 248.3px,#f60000 251.6px,#f00 254px,#ff0f00 258.1px,#ff1f00 264.5px,#ff2700 267.8px,#f30 277.5px,#ff3e00 287.2px,#ff4600 290.5px,#f50 297px,#f50 300.2px,#ff5300 306.7px,#f50 308.3px,#ff5d00 314.8px,#ff5d00 316.4px)"></i><i style="height:8.35px;background:linear-gradient(90deg,#9f6 0px,#9f6 41.5px,#bfff40 52.7px,#bfff40 95.9px,#cf3 96px,#d9ff26 128.4px,#d9ff26 160.8px,#cf3 193.2px,#bfff40 225.6px,#b3ff4c 258.1px,#a6ff59 290.5px,#9f6 314.8px,#9f6 316.4px)"></i></div>
<div class="hm" style="left:638.6px;top:932.6px;width:322.0px;height:431.9px"><i style="height:6.65px;background:linear-gradient(90deg,#cf3 0px,#cf3 2.6px,#ff0 2.8px,#f00 3.6px,#800000 4px,#800000 123.4px,#f00 123.8px,#ff0 124.4px,#0ff 125.1px,#00f 125.8px,#00008c 126px,#00008c 138px,#00f 138.4px,#0ff 139.2px,#ff0 140px,#f00 140.8px,#800000 141.2px,#800000 306px,#f00 306.5px,#ff0 307.4px,#e5ff1a 307.4px,#4dffb2 309.4px,#0ff 309.7px,#00f 310.6px,#00008c 311px,#00008c 322px)"></i><i style="height:8.70px;background:linear-gradient(90deg,#f30 0px,#f30 2.6px,#f00 3px,#800000 4px,#800000 123.1px,#f00 123.5px,#ff0 124.1px,#0ff 124.8px,#00f 125.5px,#0000da 125.5px,#00008c 125.7px,#00008c 138px,#00f 138.4px,#0ff 139.2px,#ff0 140px,#f00 140.8px,#800000 141.2px,#800000 306px,#f00 306.5px,#ff0 307.4px,#e5ff1a 307.4px,#4dffb2 309.4px,#0ff 309.7px,#00f 310.6px,#00008c 311px,#00008c 322px)"></i><i style="height:8.70px;background:linear-gradient(90deg,#f30 0px,#f30 2.6px,#f00 3px,#800000 4px,#800000 122.9px,#f00 123.3px,#ff0 123.9px,#0ff 124.6px,#0001ff 125.2px,#00f 125.3px,#00008c 125.5px,#00008c 138px,#00f 138.4px,#0ff 139.2px,#ff0 140px,#f00 140.8px,#800000 141.2px,#800000 306px,#f00 306.5px,#ff0 307.4px,#e5ff1a 307.4px,#4dffb2 309.4px,#0ff 309.7px,#00f 310.6px,#00008c 311px,#00008c 322px)"></i><i style="height:8.70px;background:linear-gradient(90deg,#800000 0px,#800000 122.6px,#f40000 122.9px,#f00 123px,#ff0 123.6px,#0ff 124.3px,#00f 125px,#00008c 125.2px,#00008c 138px,#00f 138.4px,#0ff 139.2px,#ff0 140px,#f00 140.8px,#800000 141.2px,#800000 306px,#f00 306.5px,#ff0 307.4px,#e5ff1a 307.4px,#4dffb2 309.4px,#0ff 309.7px,#00f 310.6px,#00008c 311px,#00008c 322px)"></i><i style="height:8.70px;background:linear-gradient(90deg,#800000 0px,#800000 122.3px,#f00 122.7px,#ff0 123.3px,#0ff 124px,#0028ff 124.5px,#00f 124.7px,#00008c 124.9px,#00008c 138px,#0000cb 138.2px,#00f 138.4px,#0ff 139.2px,#ff0 140px,#f00 140.8px,#800000 141.2px,#800000 306px,#f00 306.5px,#ff0 307.4px,#e5ff1a 307.4px,#4dffb2 309.4px,#0ff 309.7px,#00f 310.6px,#00008c 311px,#00008c 322px)"></i><i style="height:8.70px;background:linear-gradient(90deg,#800000 0px,#800000 121.9px,#f00 122.3px,#ff0 122.9px,#0ff 123.6px,#0028ff 124.1px,#00f 124.3px,#00008c 124.5px,#00008c 138.2px,#0000cb 138.4px,#00f 138.6px,#0ff 139.4px,#ff0 140.2px,#f00 141px,#800000 141.4px,#800000 306px,#f00 306.5px,#ff0 307.4px,#e5ff1a 307.4px,#4dffb2 309.4px,#0ff 309.7px,#00dcff 309.8px,#00f 310.6px,#00008c 311px,#00008c 322px)"></i><i style="height:8.70px;background:linear-gradient(90deg,#800000 0px,#800000 121.5px,#f00 121.9px,#ff0 122.5px,#0ff 123.2px,#004fff 123.6px,#00f 123.9px,#00008c 124.1px,#00008c 138.4px,#0000cb 138.6px,#00f 138.8px,#0ff 139.6px,#ff0 140.4px,#f00 141.2px,#800000 141.6px,#800000 309.8px,#f00 310.3px,#ff0 311.1px,#0ff 311.9px,#00f 312.7px,#00008c 313px,#00008c 322px)"></i><i style="height:8.70px;background:linear-gradient(90deg,#800000 0px,#800000 121px,#f00 121.4px,#ff0 122px,#0ff 122.7px,#0001ff 123.3px,#00f 123.4px,#00008c 123.6px,#00008c 138.6px,#0000cb 138.8px,#00f 139px,#0ff 139.8px,#ff0 140.6px,#f00 141.4px,#800000 141.8px,#800000 309.8px,#f00 310.3px,#ff0 311.1px,#0ff 311.9px,#00f 312.7px,#0000ac 312.9px,#00008c 313px,#00008c 322px)"></i><i style="height:8.70px;background:linear-gradient(90deg,#800000 0px,#800000 120.7px,#f40000 121px,#f00 121.1px,#ff0 121.7px,#0ff 122.4px,#00f 123.1px,#00008c 123.3px,#00008c 138.8px,#00f 139.2px,#0ff 140px,#ff0 140.8px,#f00 141.6px,#be0000 141.8px,#800000 142px,#800000 309.7px,#9f0000 309.8px,#f00 310.2px,#ff0 311px,#0ff 311.8px,#00f 312.6px,#00008c 312.9px,#00008c 322px)"></i><i style="height:8.70px;background:linear-gradient(90deg,#800000 0px,#800000 120.5px,#f00 120.9px,#ff0 121.5px,#0ff 122.2px,#00f 122.9px,#0000b3 123px,#00008c 123.1px,#00008c 139.2px,#0000eb 139.5px,#00f 139.6px,#0ff 140.4px,#ff0 141.2px,#f00 142px,#800000 142.4px,#800000 309.5px,#f00 310px,#ff0 310.8px,#0ff 311.6px,#00f 312.4px,#0000ac 312.6px,#00008c 312.7px,#00008c 322px)"></i><i style="height:8.70px;background:linear-gradient(90deg,#800000 0px,#800000 120.4px,#f00 120.8px,#ff0 121.4px,#0ff 122.1px,#00f 122.8px,#0000b3 122.9px,#00008c 123px,#00008c 139.5px,#00f 139.9px,#000bff 139.9px,#0ff 140.7px,#ff0 141.5px,#f00 142.3px,#800000 142.7px,#800000 309.4px,#f00 309.9px,#ff0 310.7px,#0ff 311.5px,#00f 312.3px,#0000ac 312.5px,#00008c 312.6px,#00008c 322px)"></i><i style="height:8.70px;background:linear-gradient(90deg,#800000 0px,#800000 120.3px,#f00 120.7px,#ff0 121.3px,#0ff 122px,#00f 122.7px,#0000da 122.7px,#00008c 122.9px,#00008c 139.9px,#00f 140.3px,#000bff 140.3px,#0ff 141.1px,#ff0 141.9px,#f00 142.7px,#800000 143.1px,#800000 228px,#f00 228.3px,#ff4000 228.4px,#f00 228.6px,#800000 228.8px,#800000 309.3px,#f00 309.8px,#ff0 310.6px,#0ff 311.4px,#00f 312.2px,#0000cb 312.3px,#00008c 312.5px,#00008c 322px)"></i><i style="height:8.70px;background:linear-gradient(90deg,#800000 0px,#800000 120.1px,#f00 120.5px,#ff0 121.1px,#0ff 121.8px,#00f 122.5px,#0000da 122.5px,#00008c 122.7px,#00008c 140.3px,#00f 140.7px,#006aff 141px,#0ff 141.5px,#ff0 142.3px,#f00 143.1px,#800000 143.5px,#800000 228px,#f00 228.3px,#ff4000 228.4px,#f00 228.6px,#800000 228.8px,#800000 309.1px,#f00 309.6px,#ff0 310.4px,#0ff 311.2px,#00f 312px,#0000ac 312.2px,#00008c 312.3px,#00008c 322px)"></i><i style="height:8.70px;background:linear-gradient(90deg,#800000 0px,#800000 119.9px,#cd0000 120.1px,#f00 120.3px,#ff0 120.9px,#0ff 121.6px,#00f 122.3px,#00008c 122.5px,#00008c 141px,#00f 141.4px,#0ff 142.2px,#ff0 143px,#ff5d00 143.5px,#f00 143.8px,#800000 144.2px,#800000 226px,#f00 226.4px,#ff0 227.2px,#e2ff1d 227.2px,#59ffa6 227.6px,#0ff 228px,#00f9ff 228px,#09f 228.4px,#00f9ff 228.8px,#0ff 228.9px,#59ffa6 229.2px,#e2ff1d 229.6px,#ff0 229.7px,#f00 230.5px,#800000 230.8px,#800000 309px,#9f0000 309.1px,#f00 309.5px,#ff0 310.3px,#0ff 311.1px,#00f 311.9px,#00008c 312.2px,#00008c 322px)"></i><i style="height:8.70px;background:linear-gradient(90deg,#800000 0px,#800000 119.7px,#f00 120.1px,#ff0 120.7px,#0ff 121.4px,#0001ff 122px,#00f 122.1px,#00008c 122.3px,#00008c 141.8px,#00f 142.2px,#0089ff 142.6px,#0ff 143px,#ff0 143.8px,#f00 144.6px,#800000 145px,#800000 226px,#f00 226.4px,#ff0 227.2px,#59ffa6 227.6px,#0ff 228px,#09f 228.4px,#0ff 228.9px,#59ffa6 229.2px,#ff0 229.7px,#f00 230.5px,#800000 230.8px,#800000 308.9px,#f00 309.4px,#ff0 310.2px,#0ff 311px,#00f 311.8px,#0000eb 311.8px,#00008c 312.1px,#00008c 322px)"></i><i style="height:8.70px;background:linear-gradient(90deg,#800000 0px,#800000 119.4px,#f00 119.8px,#ff0 120.4px,#0ff 121.1px,#00f 121.8px,#0000da 121.8px,#00008c 122px,#00008c 142.6px,#00f 143px,#0089ff 143.4px,#0ff 143.8px,#ff0 144.6px,#f00 145.4px,#800000 145.8px,#800000 226px,#f00 226.4px,#ff0 227.2px,#59ffa6 227.6px,#0ff 228px,#09f 228.4px,#0ff 228.9px,#59ffa6 229.2px,#ff0 229.7px,#f00 230.5px,#800000 230.8px,#800000 308.6px,#f00 309.1px,#ff0 309.9px,#0ff 310.7px,#000bff 311.4px,#00f 311.5px,#00008c 311.8px,#00008c 322px)"></i><i style="height:8.70px;background:linear-gradient(90deg,#800000 0px,#800000 119.2px,#f00 119.6px,#ff0 120.2px,#0ff 120.9px,#0028ff 121.4px,#00f 121.6px,#00008c 121.8px,#00008c 143.4px,#00f 143.8px,#0089ff 144.2px,#0ff 144.6px,#ff0 145.4px,#f00 146.2px,#800000 146.6px,#800000 226px,#f00 226.4px,#ff0 227.2px,#59ffa6 227.6px,#0ff 228px,#09f 228.4px,#0ff 228.9px,#59ffa6 229.2px,#ff0 229.7px,#f00 230.5px,#800000 230.8px,#800000 308.2px,#f00 308.7px,#ff0 309.5px,#0ff 310.3px,#000bff 311px,#00f 311.1px,#00008c 311.4px,#00008c 322px)"></i><i style="height:8.70px;background:linear-gradient(90deg,#800000 0px,#800000 118.8px,#f00 119.2px,#ff0 119.8px,#0ff 120.5px,#0028ff 121px,#00f 121.2px,#00008c 121.4px,#00008c 144.2px,#00f 144.6px,#00a9ff 145.1px,#0ff 145.4px,#ff0 146.2px,#f00 147px,#800000 147.4px,#800000 226px,#f00 226.4px,#ff0 227.2px,#e2ff1d 227.2px,#59ffa6 227.6px,#0ff 228px,#00f9ff 228px,#09f 228.4px,#00f9ff 228.8px,#0ff 228.9px,#59ffa6 229.2px,#e2ff1d 229.6px,#ff0 229.7px,#f00 230.5px,#800000 230.8px,#800000 307.8px,#f00 308.3px,#ff0 309.1px,#0ff 309.9px,#000bff 310.6px,#00f 310.7px,#00008c 311px,#00008c 322px)"></i><i style="height:8.70px;background:linear-gradient(90deg,#800000 0px,#800000 118.4px,#f00 118.8px,#ff1b00 118.8px,#ff0 119.4px,#0ff 120.1px,#00f 120.8px,#00008c 121px,#00008c 145.1px,#00f 145.5px,#0ff 146.3px,#ff0 147.1px,#ff9c00 147.4px,#f00 147.9px,#800000 148.3px,#800000 228px,#f00 228.3px,#ff4000 228.4px,#f00 228.6px,#800000 228.8px,#800000 307.4px,#fd0000 307.8px,#f00 307.9px,#ff0 308.7px,#0ff 309.5px,#00f 310.3px,#00008c 310.6px,#00008c 322px)"></i><i style="height:8.70px;background:linear-gradient(90deg,#800000 0px,#800000 117.9px,#f00 118.3px,#ff0 118.9px,#0ff 119.6px,#0028ff 120.1px,#00f 120.3px,#00008c 120.5px,#00008c 145.9px,#00f 146.3px,#00a9ff 146.8px,#0ff 147.1px,#ff0 147.9px,#f00 148.7px,#800000 149.1px,#800000 307px,#f00 307.5px,#ff0 308.3px,#0ff 309.1px,#000bff 309.8px,#00f 309.9px,#00008c 310.2px,#00008c 322px)"></i><i style="height:8.70px;background:linear-gradient(90deg,#800000 0px,#800000 117.5px,#f00 117.9px,#ff0 118.5px,#0ff 119.2px,#00c3ff 119.3px,#00f 119.9px,#00008c 120.1px,#00008c 146.8px,#00f 147.2px,#00e7ff 147.9px,#0ff 148px,#ff0 148.8px,#f00 149.6px,#800000 150px,#800000 306.6px,#f00 307.1px,#ff0 307.9px,#0ff 308.7px,#00c8ff 308.8px,#00f 309.5px,#00008c 309.8px,#00008c 322px)"></i><i style="height:8.70px;background:linear-gradient(90deg,#800000 0px,#800000 116.7px,#f00 117.1px,#ff0 117.7px,#0ff 118.4px,#00eaff 118.4px,#00f 119.1px,#00008c 119.3px,#00008c 147.9px,#00f 148.3px,#0ff 149.1px,#08fff7 149.1px,#ff0 149.9px,#f00 150.7px,#800000 151.1px,#800000 305.6px,#f00 306.1px,#ff0 306.9px,#08fff7 307.6px,#0ff 307.7px,#00f 308.5px,#00008c 308.8px,#00008c 322px)"></i><i style="height:8.70px;background:linear-gradient(90deg,#800000 0px,#800000 115.8px,#f00 116.2px,#ff0 116.8px,#0ff 117.5px,#009cff 117.7px,#00f 118.2px,#00008c 118.4px,#00008c 149.1px,#00f 149.5px,#0ff 150.3px,#08fff7 150.3px,#ff0 151.1px,#f00 151.9px,#800000 152.3px,#800000 304.4px,#f00 304.9px,#ff0 305.7px,#08fff7 306.4px,#0ff 306.5px,#00f 307.3px,#00008c 307.6px,#00008c 322px)"></i><i style="height:8.70px;background:linear-gradient(90deg,#800000 0px,#800000 115.1px,#f00 115.5px,#ff9000 115.8px,#ff0 116.1px,#0ff 116.8px,#00f 117.5px,#00008c 117.7px,#00008c 150.3px,#00f 150.7px,#0ff 151.5px,#ff0 152.3px,#fffa00 152.3px,#f00 153.1px,#800000 153.5px,#800000 303.2px,#f00 303.7px,#fffa00 304.4px,#ff0 304.5px,#0ff 305.3px,#00f 306.1px,#00008c 306.4px,#00008c 322px)"></i><i style="height:8.70px;background:linear-gradient(90deg,#800000 0px,#800000 114.4px,#f00 114.8px,#ff0 115.4px,#0ff 116.1px,#00c3ff 116.2px,#00f 116.8px,#00008c 117px,#00008c 151.5px,#00f 151.9px,#0ff 152.7px,#ff0 153.5px,#ffdb00 153.6px,#f00 154.3px,#800000 154.7px,#800000 302px,#f00 302.5px,#ff0 303.3px,#0ff 304.1px,#000bff 304.8px,#00f 304.9px,#00008c 305.2px,#00008c 322px)"></i><i style="height:8.70px;background:linear-gradient(90deg,#800000 0px,#800000 113.6px,#f00 114px,#ff0 114.6px,#12ffed 115.2px,#0ff 115.3px,#00f 116px,#00008c 116.2px,#00008c 153.6px,#00f 154.2px,#0ff 155.3px,#fbff04 157.9px,#ff0 158px,#ffbf00 158.6px,#ffae00 158.9px,#ff3a00 160.9px,#f00 161.9px,#bd0000 163.6px,#8b0000 164.9px,#800000 165.2px,#800000 301.6px,#be0000 301.8px,#f00 302.1px,#ff0 302.9px,#0ff 303.7px,#00f 304.5px,#00008c 304.8px,#00008c 322px)"></i><i style="height:8.70px;background:linear-gradient(90deg,#800000 0px,#800000 112.6px,#f00 113px,#ff0 113.6px,#86ff79 113.9px,#0ff 114.3px,#00f 115px,#00008c 115.2px,#00008c 157.9px,#00f 158.3px,#0ff 158.9px,#0ff 158.9px,#20ffdf 159.1px,#ff0 160.5px,#ffbf00 160.9px,#f00 163.6px,#f00 163.6px,#800000 164.9px,#800000 301.8px,#be0000 302px,#f00 302.3px,#ff0 303.1px,#0ff 303.9px,#00f 304.7px,#00008c 305px,#00008c 322px)"></i><i style="height:8.70px;background:linear-gradient(90deg,#800000 0px,#800000 111.3px,#f00 111.7px,#ff0 112.3px,#adff52 112.5px,#0ff 113px,#00f 113.7px,#00008c 113.9px,#00008c 155.9px,#00f 156.3px,#0ff 157.1px,#ff0 157.9px,#ff3d00 158.5px,#f00 158.7px,#800000 159.1px,#800000 302px,#be0000 302.2px,#f00 302.5px,#ff0 303.3px,#0ff 304.1px,#00f 304.9px,#00008c 305.2px,#00008c 322px)"></i><i style="height:8.70px;background:linear-gradient(90deg,#800000 0px,#800000 109.9px,#f00 110.3px,#ff0 110.9px,#5fffa0 111.3px,#0ff 111.6px,#00f 112.3px,#00008c 112.5px,#00008c 155.3px,#00f 155.7px,#004aff 155.9px,#0ff 156.5px,#ff0 157.3px,#f00 158.1px,#800000 158.5px,#800000 302.2px,#f00 302.7px,#ff0 303.5px,#0ff 304.3px,#00f 305.1px,#0000cb 305.2px,#00008c 305.4px,#00008c 322px)"></i><i style="height:8.70px;background:linear-gradient(90deg,#800000 0px,#800000 108.4px,#f00 108.8px,#ff0 109.4px,#faff05 109.4px,#0ff 110.1px,#00f 110.8px,#00008c 111px,#00008c 156.6px,#00f 157px,#0ff 157.8px,#47ffb8 158px,#ff0 158.6px,#f00 159.4px,#800000 159.8px,#800000 281.9px,#a00 282.2px,#f00 282.9px,#ff0d00 282.9px,#ff0d00 287.4px,#f00 287.5px,#f00000 287.6px,#800000 288.4px,#800000 301.9px,#f00 302.4px,#ff0 303.2px,#0ff 304px,#000bff 304.7px,#00f 304.8px,#00008c 305.1px,#00008c 322px)"></i><i style="height:8.70px;background:linear-gradient(90deg,#800000 0px,#800000 106.8px,#f00 107.2px,#ff0 107.8px,#adff52 108px,#0ff 108.5px,#00f 109.2px,#00008c 109.4px,#00008c 158px,#00f 158.4px,#0ff 159.2px,#ff0 160px,#f00 160.8px,#de0000 160.9px,#800000 161.2px,#800000 279.2px,#f00 279.7px,#ff8000 280.2px,#ff0 281.1px,#e5ff1a 281.2px,#0ff 281.9px,#0080ff 282.2px,#06f 287.6px,#0ff 288px,#e5ff1a 288.6px,#ff0 288.8px,#ff8000 289.6px,#f00 290.1px,#800000 290.5px,#800000 301.5px,#f00 302px,#ff0 302.8px,#0ff 303.6px,#000bff 304.3px,#00f 304.4px,#00008c 304.7px,#00008c 322px)"></i><i style="height:8.70px;background:linear-gradient(90deg,#800000 0px,#800000 105.4px,#f00 105.8px,#ff0 106.4px,#86ff79 106.7px,#0ff 107.1px,#00f 107.8px,#00008c 108px,#00008c 160.9px,#00f 161.3px,#0ff 162.1px,#ff0 162.9px,#f00 163.7px,#800000 164.1px,#800000 279.2px,#e60000 279.6px,#f00 279.7px,#ff7f00 280.2px,#ffbd00 280.6px,#ff0 281.1px,#e6ff19 281.2px,#0ff 281.9px,#00ebff 281.9px,#0080ff 282.2px,#0073ff 284.9px,#06f 287.6px,#00d9ff 287.9px,#0ff 288px,#e6ff19 288.6px,#ff0 288.8px,#ffbd00 289.2px,#ff7f00 289.6px,#f00 290.1px,#d50000 290.2px,#800000 290.5px,#800000 301.1px,#f00 301.6px,#ff0 302.4px,#0ff 303.2px,#000bff 303.9px,#00f 304px,#00008c 304.3px,#00008c 322px)"></i><i style="height:8.70px;background:linear-gradient(90deg,#800000 0px,#800000 104.1px,#f00 104.5px,#ff0 105.1px,#0ff 105.8px,#0076ff 106.1px,#00f 106.5px,#00008c 106.7px,#00008c 164.1px,#00f 164.5px,#0ff 165.3px,#ff0 166.1px,#f00 166.9px,#800000 167.3px,#800000 279.6px,#f00 280.6px,#ff0 281.7px,#cf3 281.9px,#b3ff4c 284.9px,#ff0 287.9px,#f00 289.2px,#800000 290.2px,#800000 300.7px,#f00 301.2px,#ff0 302px,#0ff 302.8px,#0089ff 303.1px,#00f 303.6px,#00008c 303.9px,#00008c 322px)"></i><i style="height:8.70px;background:linear-gradient(90deg,#800000 0px,#800000 103.5px,#f00 103.9px,#ff6900 104.1px,#ff0 104.5px,#0ff 105.2px,#00f 105.9px,#00008c 106.1px,#00008c 169.3px,#00f 169.7px,#0ff 170.5px,#ff0 171.3px,#f00 172.1px,#800000 172.5px,#800000 299.9px,#f00 300.4px,#ff7c00 300.7px,#ff0 301.2px,#0ff 302px,#00f 302.8px,#00008c 303.1px,#00008c 322px)"></i><i style="height:8.70px;background:linear-gradient(90deg,#800000 0px,#800000 103px,#f00 103.4px,#ff0 104px,#0ff 104.7px,#009cff 104.9px,#00f 105.4px,#00008c 105.6px,#00008c 174.9px,#00f 175.3px,#0ff 176.1px,#ff0 176.9px,#f00 177.7px,#800000 178.1px,#800000 299.1px,#f00 299.6px,#ff1e00 299.6px,#ff0 300.4px,#0ff 301.2px,#00f 302px,#00008c 302.3px,#00008c 322px)"></i><i style="height:8.70px;background:linear-gradient(90deg,#800000 0px,#800000 102.3px,#f00 102.7px,#ff0 103.3px,#12ffed 103.9px,#0ff 104px,#00f 104.7px,#00008c 104.9px,#00008c 182.4px,#00f 182.8px,#0ff 183.6px,#ff0 184.4px,#f00 185.2px,#800000 185.6px,#800000 296.4px,#f00 296.9px,#ff1e00 296.9px,#ff0 297.7px,#0ff 298.5px,#00f 299.3px,#00008c 299.6px,#00008c 322px)"></i><i style="height:8.70px;background:linear-gradient(90deg,#800000 0px,#800000 101.3px,#f00 101.7px,#ff0 102.3px,#faff05 102.3px,#0ff 103px,#00f 103.7px,#00008c 103.9px,#00008c 191.8px,#00f 192.2px,#0ff 193px,#ff0 193.8px,#f00 194.6px,#800000 195px,#800000 293.7px,#f00 294.2px,#ff0 295px,#27ffd8 295.6px,#0ff 295.8px,#00f 296.6px,#00008c 296.9px,#00008c 322px)"></i><i style="height:8.70px;background:linear-gradient(90deg,#800000 0px,#800000 99.7px,#f00 100.1px,#ff0 100.7px,#0ff 101.4px,#009cff 101.6px,#00f 102.1px,#00008c 102.3px,#00008c 196.9px,#00f 197.6px,#0ff 199.2px,#ff0 200.7px,#f00 202.2px,#800000 202.9px,#800000 291.2px,#f00 291.8px,#ff0 292.9px,#0ff 294px,#00f 295.1px,#00008c 295.6px,#00008c 322px)"></i><i style="height:8.70px;background:linear-gradient(90deg,#800000 0px,#800000 99px,#f00 99.4px,#ff9000 99.7px,#ff0 100px,#0ff 100.7px,#00f 101.4px,#00008c 101.6px,#00008c 218.4px,#00f 219.2px,#0ff 221px,#ff0 222.8px,#f00 224.6px,#800000 225.4px,#800000 284.6px,#f00 285.4px,#ff0 286.9px,#0ff 288.4px,#00f 290px,#00008c 290.6px,#00008c 322px)"></i><i style="height:8.70px;background:linear-gradient(90deg,#800000 0px,#800000 98.5px,#f00 98.9px,#ff0 99.5px,#0ff 100.2px,#004fff 100.6px,#00f 100.9px,#00008c 101.1px,#00008c 238.9px,#00f 239.9px,#0ff 241.9px,#ff0 243.9px,#ff7000 245px,#ff1800 245.7px,#f00 245.9px,#800000 246.9px,#800000 271px,#f00 271.8px,#ffbf00 272.9px,#ff0 273.3px,#daff25 273.5px,#0ff 274.8px,#00f 276.4px,#00008c 277px,#00008c 322px)"></i><i style="height:8.70px;background:linear-gradient(90deg,#800000 0px,#800000 97.4px,#f00 97.9px,#ffdb00 98.5px,#ff0 98.7px,#27ffd8 99.3px,#0ff 99.5px,#00f 100.3px,#0000eb 100.3px,#00008c 100.6px,#00008c 245px,#00f 245.3px,#00bfff 245.7px,#00fdff 250.9px,#0ff 251.1px,#ff0 251.8px,#ff0 254.5px,#f00 255.2px,#f00 259.3px,#d60000 260px,#bf0000 260.4px,#bf0000 261.4px,#f00 262px,#f00 265.4px,#ffbf00 266.1px,#ffbf00 268.8px,#ff0 269px,#0ff 269.4px,#0ff 272.9px,#00a6ff 273.5px,#00a6ff 277.6px,#00f 278.4px,#00008c 278.9px,#00008c 322px)"></i><i style="height:8.70px;background:linear-gradient(90deg,#800000 0px,#800000 98.5px,#f00 98.9px,#ffbf00 99.3px,#ff0 99.5px,#06fff9 100px,#0ff 100.1px,#0080ff 100.3px,#00f 101.2px,#00008c 101.9px,#00008c 238.9px,#0000bf 240.3px,#0000bf 250.9px,#00f 252px,#0019ff 252.4px,#0019ff 255.9px,#04f 256.4px,#09f 257.4px,#0ff 260px,#0ff 263.4px,#09f 265.4px,#0019ff 268.1px,#0019ff 271.4px,#00f 271.9px,#0000bf 272.9px,#0000bf 283.7px,#00008c 284.9px,#00008c 322px)"></i><i style="height:8.70px;background:linear-gradient(90deg,#800000 0px,#800000 93.8px,#f00 94.1px,#ff0 94.6px,#60ff9f 95.1px,#0ff 95.4px,#00f 96.2px,#00f 98.5px,#00008c 100px,#00008c 254.4px,#0000bf 256.4px,#0000bf 263.4px,#00008c 265.4px,#00008c 322px)"></i><i style="height:8.70px;background:linear-gradient(90deg,#800000 0px,#800000 22.6px,#f00 23.3px,#ff0d00 23.3px,#ff0d00 28.5px,#f00 28.6px,#800000 29.2px,#800000 89.7px,#f00 90.1px,#ff7f00 90.5px,#ff0 91.3px,#ff0 91.3px,#0ff 92.2px,#0ff 92.2px,#00f 93.1px,#00f 95.2px,#0000ec 95.4px,#0000b9 96.2px,#00008c 96.9px,#00008c 322px)"></i><i style="height:8.70px;background:linear-gradient(90deg,#800000 0px,#800000 11px,#f00 12px,#ff8000 13px,#ff0 14px,#b3ff4c 15.7px,#80ff80 19.1px,#0ff 21.8px,#0cf 24.6px,#0cf 35.4px,#0ff 37.4px,#80ff80 39.5px,#90ff6f 40.4px,#bfff40 42.9px,#e6ff19 43.7px,#ff0 44.2px,#fc0 44.6px,#ff8000 45.2px,#ff5100 45.6px,#f00 46.3px,#db0000 46.5px,#800000 47px,#800000 83.6px,#f00 84px,#ff8000 84.4px,#ff0 85.4px,#c6ff39 85.6px,#0ff 86.3px,#00f 87px,#00f 91.1px,#00008c 92.9px,#00008c 322px)"></i><i style="height:8.70px;background:linear-gradient(90deg,#00008c 0px,#00008c 39.5px,#0000bf 39.9px,#00f 40.4px,#00f 42.9px,#0ff 43.7px,#ff0 44.6px,#ff8000 45.6px,#f00 46.1px,#800000 46.5px,#800000 80.2px,#f00 80.6px,#ff9700 80.9px,#ffbf00 81px,#ff0 81.2px,#0ff 81.8px,#00f 82.6px,#00f 85.6px,#0000e8 85.9px,#00008c 87.1px,#00008c 215.1px,#00f 215.6px,#0ff 216.7px,#38ffc7 217.4px,#ff0 219.9px,#fff000 220.1px,#f00 223.4px,#800000 225px,#800000 307.1px,#f00 307.9px,#ffbf00 309.1px,#ff0 310.3px,#bfff40 311.4px,#40ffbf 314.8px,#ff0 317.1px,#f00 319.1px,#800000 320.4px,#800000 322px)"></i><i style="height:8.70px;background:linear-gradient(90deg,#00008c 0px,#00008c 37.4px,#00f 38.4px,#00f 39.9px,#0ff 40.8px,#ff0 41.9px,#ff8000 42.9px,#f00 43.8px,#800000 44.6px,#800000 77.5px,#f00 77.9px,#ff8000 78.2px,#ff0 78.9px,#0ff 79.7px,#00bfff 79.9px,#00f 80.9px,#00f 84.3px,#00008c 85.9px,#00008c 213.4px,#00f 214px,#0ff 215.1px,#ff0 217px,#ffbf00 217.4px,#f00 219.1px,#800000 220.1px,#800000 322px)"></i><i style="height:8.70px;background:linear-gradient(90deg,#00008c 0px,#00008c 13.7px,#0000e6 15.4px,#0000e6 19.8px,#00f 20.1px,#0012ff 20.2px,#0094ff 21.4px,#00bfff 21.8px,#0ff 22.3px,#ff0 23.9px,#f00 24.8px,#800000 25.2px,#800000 94.5px,#f00 94.8px,#ff0 95.3px,#0ff 95.8px,#0ff 98.5px,#00eaff 99.2px,#00a8ff 101.4px,#09f 101.9px,#00f 103.9px,#00f 106px,#00008c 107.9px,#00008c 179.5px,#00f 180px,#0ff 180.8px,#ff0 183.4px,#ff5900 186.4px,#f00 187.7px,#800000 189.5px,#800000 245px,#f00 245.2px,#ff0 245.6px,#0ff 246px,#0ff 251.6px,#00f 252.3px,#00008c 252.6px,#00008c 293.2px,#00f 293.7px,#0ff 294.8px,#0ff 304.8px,#ff0 306.4px,#f00 307.6px,#800000 308.1px,#800000 322px)"></i><i style="height:8.70px;background:linear-gradient(90deg,#0040ff 0px,#0040ff 0px,#06f 2.4px,#00a6ff 10.3px,#0ff 11px,#bfff40 12.3px,#c4ff3b 13.7px,#cbff34 15.4px,#cf3 15.7px,#ff0 16.8px,#ffb300 18.4px,#ff2800 19.8px,#f00 20.2px,#f00 20.3px,#800000 21.4px,#800000 87px,#f00 88.4px,#f00 88.4px,#ff7f00 89.7px,#ff0 90.8px,#ff0 90.8px,#0ff 91.8px,#0ff 91.9px,#0080ff 93.8px,#0056ff 94.5px,#000aff 95.8px,#00f 96px,#0000e6 96.4px,#0000e6 99.2px,#00008c 101.4px,#00008c 274.9px,#00f 275.5px,#0ff 276.6px,#0ff 280px,#bfff40 281.4px,#bfff40 286.4px,#ff0 287.1px,#ff8000 288.2px,#ff8000 293.2px,#f30 294.8px,#f30 298.2px,#f00 298.7px,#800000 299.8px,#800000 322px)"></i><i style="height:7.65px;background:#800000"></i></div>
<div style="position:absolute;left:177.2px;top:110.4px;width:216.4px;height:16.9px;background:linear-gradient(90deg,#3333a5 0%,#33f 12.5%,#3ff 37.5%,#ff3 62.5%,#f33 87.5%,#933 100%)"></div>
<div style="position:absolute;left:703.0px;top:108.8px;width:216.3px;height:16.7px;background:linear-gradient(90deg,#00008f 0%,#00f 12.5%,#0ff 37.5%,#ff0 62.5%,#f00 87.5%,#800000 100%)"></div>
<div style="position:absolute;left:169.9px;top:881.6px;width:216.4px;height:16.4px;background:linear-gradient(90deg,#00008f 0%,#00f 12.5%,#0ff 37.5%,#ff0 62.5%,#f00 87.5%,#800000 100%)"></div>
<div style="position:absolute;left:677.4px;top:877.4px;width:215.9px;height:16.1px;background:linear-gradient(90deg,#00008f 0%,#00f 12.5%,#0ff 37.5%,#ff0 62.5%,#f00 87.5%,#800000 100%)"></div>
<svg width="987" height="1471" viewBox="0 0 987 1471">
<rect x="175.95" y="109.15" width="218.90" height="19.40" fill="none" stroke="#2b2824" stroke-width="2.5" stroke-linejoin="round"/>
<rect x="701.75" y="107.55" width="218.80" height="19.20" fill="none" stroke="#050505" stroke-width="2.5" stroke-linejoin="round"/>
<rect x="168.65" y="880.35" width="218.90" height="18.90" fill="none" stroke="#050505" stroke-width="2.5" stroke-linejoin="round"/>
<rect x="676.15" y="876.15" width="218.40" height="18.60" fill="none" stroke="#050505" stroke-width="2.5" stroke-linejoin="round"/>
<rect x="123.55" y="156.25" width="311.60" height="415.00" fill="none" stroke="#000" stroke-width="2.7"/>
<path d="M145.1 571.2v-17.8M256.8 571.2v-17.8M368.2 571.2v-17.8M123.5 224.6h18.5M123.5 296.2h18.5M123.5 367.2h18.5M123.5 438.2h18.5M123.5 512.5h18.5" stroke="#000" stroke-width="3.1" fill="none"/>
<rect x="647.35" y="153.75" width="314.20" height="419.40" fill="none" stroke="#000" stroke-width="2.7"/>
<path d="M669.8 573.1v-15.5M781.2 573.1v-15.5M893.3 573.1v-15.5M647.4 221.3h18.5M647.4 294.7h18.5M647.4 367.1h18.5M647.4 438.0h18.5M647.4 511.0h18.5" stroke="#000" stroke-width="3.1" fill="none"/>
<rect x="116.35" y="937.75" width="316.40" height="421.50" fill="none" stroke="#000" stroke-width="2.7"/>
<path d="M137.7 1359.2v-18.5M252.5 1359.2v-18.5M364.9 1359.2v-18.5M116.3 1006.8h18.5M116.3 1078.8h18.5M116.3 1151.4h18.5M116.3 1223.5h18.5M116.3 1297.0h18.5" stroke="#000" stroke-width="3.1" fill="none"/>
<rect x="638.55" y="932.55" width="322.00" height="431.90" fill="none" stroke="#000" stroke-width="2.7"/>
<path d="M660.9 1364.5v-18.5M776.4 1364.5v-18.5M891.1 1364.5v-18.5M638.6 1001.7h18.5M638.6 1077.7h18.5M638.6 1151.0h18.5M638.6 1226.0h18.5M638.6 1299.4h18.5" stroke="#000" stroke-width="3.1" fill="none"/>
<rect x="218.6" y="1253.0" width="77.4" height="58.2" fill="none" stroke="#fff" stroke-width="4.6"/>
<rect x="748.8" y="1256.5" width="78.1" height="58.8" fill="none" stroke="#fff" stroke-width="4.6"/>
<text x="216.8" y="26.7" font-size="54" letter-spacing="0.27">aware</text>
<text x="221.8" y="84.5" font-size="42" letter-spacing="1.75">(ER%)</text>
<text x="107.4" y="133.7" font-size="42" letter-spacing="-0.45">-20</text>
<text x="402.8" y="133.7" font-size="42" letter-spacing="2.00">20</text>
<text x="66.3" y="243.7" font-size="42" letter-spacing="3.00">25</text>
<text x="68.0" y="383.3" font-size="42" letter-spacing="2.50">15</text>
<text x="89.5" y="527.3" font-size="42" letter-spacing="0.00">5</text>
<text x="99.0" y="620.0" font-size="42" letter-spacing="1.30">-500</text>
<text x="244.7" y="620.0" font-size="42" letter-spacing="0.00">0</text>
<text x="334.0" y="620.0" font-size="42" letter-spacing="1.70">500</text>
<text x="204.4" y="671.7" font-size="42" letter-spacing="0.74">time (ms)</text>
<text x="721.6" y="25.6" font-size="54" letter-spacing="-0.10">unaware</text>
<text x="754.4" y="80.4" font-size="42" letter-spacing="1.55">(ER%)</text>
<text x="631.1" y="137.3" font-size="42" letter-spacing="1.35">-20</text>
<text x="926.7" y="129.4" font-size="42" letter-spacing="2.00">20</text>
<text x="626.7" y="622.0" font-size="42" letter-spacing="1.50">-500</text>
<text x="768.3" y="622.0" font-size="42" letter-spacing="0.00">0</text>
<text x="865.6" y="622.0" font-size="42" letter-spacing="2.40">500</text>
<text x="736.5" y="671.0" font-size="42" letter-spacing="0.95">time (ms)</text>
<text x="174.5" y="793.9" font-size="54" letter-spacing="-0.04">difference</text>
<text x="220.3" y="854.7" font-size="42" letter-spacing="2.67">(ER%)</text>
<text x="98.4" y="900.9" font-size="42" letter-spacing="0.20">-20</text>
<text x="396.6" y="899.8" font-size="42" letter-spacing="1.20">20</text>
<text x="59.9" y="1022.6" font-size="42" letter-spacing="3.00">25</text>
<text x="57.8" y="1169.5" font-size="42" letter-spacing="-0.00">15</text>
<text x="76.8" y="1312.2" font-size="42" letter-spacing="0.00">5</text>
<text x="87.0" y="1406.2" font-size="42" letter-spacing="2.07">-500</text>
<text x="238.3" y="1406.2" font-size="42" letter-spacing="0.00">0</text>
<text x="331.9" y="1406.2" font-size="42" letter-spacing="2.35">500</text>
<text x="177.6" y="1459.4" font-size="42" letter-spacing="1.06">time (ms)</text>
<text x="674.6" y="793.1" font-size="54" letter-spacing="-0.03">difference</text>
<text x="726.2" y="847.8" font-size="42" letter-spacing="1.17"><tspan font-style="italic">p</tspan> value</text>
<text x="640.5" y="900.9" font-size="42" letter-spacing="0.00">0</text>
<text x="912.9" y="897.9" font-size="42" letter-spacing="-0.53">0.05</text>
<text x="607.9" y="1415.0" font-size="42" letter-spacing="1.63">-500</text>
<text x="763.9" y="1409.3" font-size="42" letter-spacing="0.00">0</text>
<text x="856.2" y="1415.0" font-size="42" letter-spacing="1.80">500</text>
<text x="708.5" y="1455.5" font-size="42" letter-spacing="1.06">time (ms)</text>
<text transform="translate(36.5 496.2) rotate(-90)" font-size="42" letter-spacing="0.85">frequency (Hz)</text>
<text transform="translate(33.5 1274.8) rotate(-90)" font-size="42" letter-spacing="0.71">frequency (Hz)</text>
</svg>
</body></html>
